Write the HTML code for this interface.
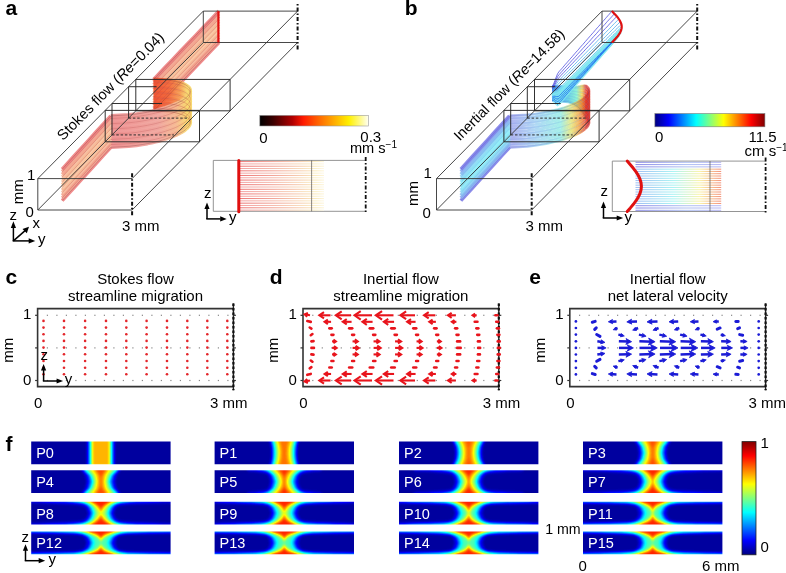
<!DOCTYPE html>
<html><head><meta charset="utf-8"><style>html,body{margin:0;padding:0;background:#fff;}svg{display:block}</style></head>
<body><svg width="786" height="573" viewBox="0 0 786 573" font-family="&apos;Liberation Sans&apos;, sans-serif"><g opacity="0.999">
<rect width="786" height="573" fill="#fff"/>
<filter id="hm0" filterUnits="userSpaceOnUse" x="31.2" y="441.5" width="139.4" height="22.8" color-interpolation-filters="sRGB"><feGaussianBlur stdDeviation="1.1"/><feComponentTransfer><feFuncR type="table" tableValues="0 0 0 0 0.5 1 1 1 0.5"/><feFuncG type="table" tableValues="0 0 0.5 1 1 1 0.5 0 0"/><feFuncB type="table" tableValues="0.5 1 1 1 0.5 0 0 0 0"/><feFuncA type="table" tableValues="1 1"/></feComponentTransfer></filter>
<clipPath id="chm0"><rect x="31.2" y="441.5" width="139.4" height="22.8"/></clipPath>
<g clip-path="url(#chm0)"><g filter="url(#hm0)">
<rect x="31.2" y="441.5" width="139.4" height="22.8" fill="#080808"/>
<g transform="translate(100.90,452.90)">
<path d="M-14.2,-12.8 -14.2,12.8 14.2,12.8 14.2,-12.8Z" fill="#1a1a1a"/>
<path d="M-13,-12.8 -13,12.8 13,12.8 13,-12.8Z" fill="#333333"/>
<path d="M-11.8,-12.8 -11.8,12.8 11.8,12.8 11.8,-12.8Z" fill="#4c4c4c"/>
<path d="M-11,-12.8 -11,12.8 11,12.8 11,-12.8Z" fill="#5e5e5e"/>
<path d="M-10.1,-12.8 -10.1,12.8 10.1,12.8 10.1,-12.8Z" fill="#737373"/>
<path d="M-9.5,-12.8 -9.5,12.8 9.5,12.8 9.5,-12.8Z" fill="#858585"/>
<path d="M-9,-12.8 -9,12.8 9,12.8 9,-12.8Z" fill="#949494"/>
<path d="M-8.6,-12.8 -8.6,12.8 8.6,12.8 8.6,-12.8Z" fill="#a3a3a3"/>
<path d="M-8,-12.8 -8,12.8 8,12.8 8,-12.8Z" fill="#b2b2b2"/>
</g></g></g>
<filter id="hm1" filterUnits="userSpaceOnUse" x="214.6" y="441.5" width="139.4" height="22.8" color-interpolation-filters="sRGB"><feGaussianBlur stdDeviation="1.1"/><feComponentTransfer><feFuncR type="table" tableValues="0 0 0 0 0.5 1 1 1 0.5"/><feFuncG type="table" tableValues="0 0 0.5 1 1 1 0.5 0 0"/><feFuncB type="table" tableValues="0.5 1 1 1 0.5 0 0 0 0"/><feFuncA type="table" tableValues="1 1"/></feComponentTransfer></filter>
<clipPath id="chm1"><rect x="214.6" y="441.5" width="139.4" height="22.8"/></clipPath>
<g clip-path="url(#chm1)"><g filter="url(#hm1)">
<rect x="214.6" y="441.5" width="139.4" height="22.8" fill="#080808"/>
<g transform="translate(284.30,452.90)">
<path d="M-15,-12.8 -15,-11.9 -14.9,-11.1 -14.5,-10.2 -14.3,-9.4 -14.1,-8.5 -13.9,-7.7 -13.7,-6.8 -13.6,-6 -13.5,-5.1 -13.4,-4.3 -13.3,-3.4 -13.2,-2.6 -13.2,-0.9 -13.2,2.6 -13.3,3.4 -13.4,4.3 -13.5,5.1 -13.6,6 -13.7,6.8 -13.9,7.7 -14.1,8.5 -14.3,9.4 -14.5,10.2 -14.9,11.1 -15,11.9 -15,12.8 15,12.8 15,11.9 14.9,11.1 14.5,10.2 14.3,9.4 14.1,8.5 13.9,7.7 13.7,6.8 13.6,6 13.5,5.1 13.4,4.3 13.3,3.4 13.2,2.6 13.2,0.9 13.2,-2.6 13.3,-3.4 13.4,-4.3 13.5,-5.1 13.6,-6 13.7,-6.8 13.9,-7.7 14.1,-8.5 14.3,-9.4 14.5,-10.2 14.9,-11.1 15,-11.9 15,-12.8Z" fill="#1a1a1a"/>
<path d="M-13.9,-12.8 -13.9,-11.9 -13.8,-11.1 -13.4,-10.2 -13.2,-9.4 -13,-8.5 -12.8,-7.7 -12.7,-6.8 -12.5,-6 -12.4,-5.1 -12.3,-4.3 -12.3,-3.4 -12.2,-2.6 -12.1,-0.9 -12.2,2.6 -12.3,3.4 -12.3,4.3 -12.4,5.1 -12.5,6 -12.7,6.8 -12.8,7.7 -13,8.5 -13.2,9.4 -13.4,10.2 -13.8,11.1 -13.9,11.9 -13.9,12.8 13.9,12.8 13.9,11.9 13.8,11.1 13.4,10.2 13.2,9.4 13,8.5 12.8,7.7 12.7,6.8 12.5,6 12.4,5.1 12.3,4.3 12.3,3.4 12.2,2.6 12.1,0.9 12.2,-2.6 12.3,-3.4 12.3,-4.3 12.4,-5.1 12.5,-6 12.7,-6.8 12.8,-7.7 13,-8.5 13.2,-9.4 13.4,-10.2 13.8,-11.1 13.9,-11.9 13.9,-12.8Z" fill="#333333"/>
<path d="M-12.7,-12.8 -12.7,-11.9 -12.5,-11.1 -12.2,-10.2 -12,-9.4 -11.8,-8.5 -11.6,-7.7 -11.5,-6.8 -11.3,-6 -11.2,-5.1 -11.1,-4.3 -11,-3.4 -11,-2.6 -10.9,-0.9 -11,2.6 -11,3.4 -11.1,4.3 -11.2,5.1 -11.3,6 -11.5,6.8 -11.6,7.7 -11.8,8.5 -12,9.4 -12.2,10.2 -12.5,11.1 -12.7,11.9 -12.7,12.8 12.7,12.8 12.7,11.9 12.5,11.1 12.2,10.2 12,9.4 11.8,8.5 11.6,7.7 11.5,6.8 11.3,6 11.2,5.1 11.1,4.3 11,3.4 11,2.6 10.9,0.9 11,-2.6 11,-3.4 11.1,-4.3 11.2,-5.1 11.3,-6 11.5,-6.8 11.6,-7.7 11.8,-8.5 12,-9.4 12.2,-10.2 12.5,-11.1 12.7,-11.9 12.7,-12.8Z" fill="#4c4c4c"/>
<path d="M-11.7,-12.8 -11.7,-11.9 -11.5,-11.1 -11.2,-10.2 -11,-9.4 -10.8,-8.5 -10.6,-7.7 -10.5,-6.8 -10.3,-6 -10.2,-5.1 -10.1,-4.3 -10.1,-3.4 -10,-2.6 -9.9,-0.9 -10,2.6 -10.1,3.4 -10.1,4.3 -10.2,5.1 -10.3,6 -10.5,6.8 -10.6,7.7 -10.8,8.5 -11,9.4 -11.2,10.2 -11.5,11.1 -11.7,11.9 -11.7,12.8 11.7,12.8 11.7,11.9 11.5,11.1 11.2,10.2 11,9.4 10.8,8.5 10.6,7.7 10.5,6.8 10.3,6 10.2,5.1 10.1,4.3 10.1,3.4 10,2.6 9.9,0.9 10,-2.6 10.1,-3.4 10.1,-4.3 10.2,-5.1 10.3,-6 10.5,-6.8 10.6,-7.7 10.8,-8.5 11,-9.4 11.2,-10.2 11.5,-11.1 11.7,-11.9 11.7,-12.8Z" fill="#5e5e5e"/>
<path d="M-10.7,-12.8 -10.7,-11.9 -10.5,-11.1 -10.1,-10.2 -9.9,-9.4 -9.7,-8.5 -9.5,-7.7 -9.3,-6.8 -9.2,-6 -9.1,-5.1 -9,-4.3 -8.9,-3.4 -8.8,-2.6 -8.8,-0.9 -8.8,2.6 -8.9,3.4 -9,4.3 -9.1,5.1 -9.2,6 -9.3,6.8 -9.5,7.7 -9.7,8.5 -9.9,9.4 -10.1,10.2 -10.5,11.1 -10.7,11.9 -10.7,12.8 10.7,12.8 10.7,11.9 10.5,11.1 10.1,10.2 9.9,9.4 9.7,8.5 9.5,7.7 9.3,6.8 9.2,6 9.1,5.1 9,4.3 8.9,3.4 8.8,2.6 8.8,0.9 8.8,-2.6 8.9,-3.4 9,-4.3 9.1,-5.1 9.2,-6 9.3,-6.8 9.5,-7.7 9.7,-8.5 9.9,-9.4 10.1,-10.2 10.5,-11.1 10.7,-11.9 10.7,-12.8Z" fill="#737373"/>
<path d="M-9.7,-12.8 -9.7,-11.9 -9.5,-11.1 -9.1,-10.2 -8.9,-9.4 -8.7,-8.5 -8.5,-7.7 -8.3,-6.8 -8.1,-6 -8,-5.1 -7.9,-4.3 -7.8,-3.4 -7.7,-2.6 -7.7,-0.9 -7.7,2.6 -7.8,3.4 -7.9,4.3 -8,5.1 -8.1,6 -8.3,6.8 -8.5,7.7 -8.7,8.5 -8.9,9.4 -9.1,10.2 -9.5,11.1 -9.7,11.9 -9.7,12.8 9.7,12.8 9.7,11.9 9.5,11.1 9.1,10.2 8.9,9.4 8.7,8.5 8.5,7.7 8.3,6.8 8.1,6 8,5.1 7.9,4.3 7.8,3.4 7.7,2.6 7.7,0.9 7.7,-2.6 7.8,-3.4 7.9,-4.3 8,-5.1 8.1,-6 8.3,-6.8 8.5,-7.7 8.7,-8.5 8.9,-9.4 9.1,-10.2 9.5,-11.1 9.7,-11.9 9.7,-12.8Z" fill="#858585"/>
<path d="M-8.8,-12.8 -8.8,-11.9 -8.6,-11.1 -8.2,-10.2 -7.9,-9.4 -7.7,-8.5 -7.5,-7.7 -7.3,-6.8 -7.1,-6 -7,-5.1 -6.9,-4.3 -6.8,-3.4 -6.7,-2.6 -6.6,-0.9 -6.7,2.6 -6.8,3.4 -6.9,4.3 -7,5.1 -7.1,6 -7.3,6.8 -7.5,7.7 -7.7,8.5 -7.9,9.4 -8.2,10.2 -8.6,11.1 -8.8,11.9 -8.8,12.8 8.8,12.8 8.8,11.9 8.6,11.1 8.2,10.2 7.9,9.4 7.7,8.5 7.5,7.7 7.3,6.8 7.1,6 7,5.1 6.9,4.3 6.8,3.4 6.7,2.6 6.6,0.9 6.7,-2.6 6.8,-3.4 6.9,-4.3 7,-5.1 7.1,-6 7.3,-6.8 7.5,-7.7 7.7,-8.5 7.9,-9.4 8.2,-10.2 8.6,-11.1 8.8,-11.9 8.8,-12.8Z" fill="#949494"/>
<path d="M-7.7,-12.8 -7.7,-11.9 -7.5,-11.1 -7.1,-10.2 -6.8,-9.4 -6.6,-8.5 -6.4,-7.7 -6.2,-6.8 -6,-6 -5.9,-5.1 -5.8,-4.3 -5.7,-3.4 -5.6,-2.6 -5.5,-0.9 -5.6,2.6 -5.7,3.4 -5.8,4.3 -5.9,5.1 -6,6 -6.2,6.8 -6.4,7.7 -6.6,8.5 -6.8,9.4 -7.1,10.2 -7.5,11.1 -7.7,11.9 -7.7,12.8 7.7,12.8 7.7,11.9 7.5,11.1 7.1,10.2 6.8,9.4 6.6,8.5 6.4,7.7 6.2,6.8 6,6 5.9,5.1 5.8,4.3 5.7,3.4 5.6,2.6 5.5,0.9 5.6,-2.6 5.7,-3.4 5.8,-4.3 5.9,-5.1 6,-6 6.2,-6.8 6.4,-7.7 6.6,-8.5 6.8,-9.4 7.1,-10.2 7.5,-11.1 7.7,-11.9 7.7,-12.8Z" fill="#a3a3a3"/>
<path d="M-6.4,-12.8 -6.4,-11.9 -6.2,-11.1 -5.8,-10.2 -5.5,-9.4 -5.3,-8.5 -5.1,-7.7 -4.9,-6.8 -4.7,-6 -4.6,-5.1 -4.5,-4.3 -4.4,-3.4 -4.3,-2.6 -4.2,-0.9 -4.3,2.6 -4.4,3.4 -4.5,4.3 -4.6,5.1 -4.7,6 -4.9,6.8 -5.1,7.7 -5.3,8.5 -5.5,9.4 -5.8,10.2 -6.2,11.1 -6.4,11.9 -6.4,12.8 6.4,12.8 6.4,11.9 6.2,11.1 5.8,10.2 5.5,9.4 5.3,8.5 5.1,7.7 4.9,6.8 4.7,6 4.6,5.1 4.5,4.3 4.4,3.4 4.3,2.6 4.2,0.9 4.3,-2.6 4.4,-3.4 4.5,-4.3 4.6,-5.1 4.7,-6 4.9,-6.8 5.1,-7.7 5.3,-8.5 5.5,-9.4 5.8,-10.2 6.2,-11.1 6.4,-11.9 6.4,-12.8Z" fill="#b2b2b2"/>
<path d="M-4.4,-12.8 -4.4,-11.9 -4.2,-11.1 -3.9,-10.2 -3.6,-9.4 -3.4,-8.5 -3.2,-7.7 -3,-6.8 -2.9,-6 -2.8,-5.1 -2.6,-4.3 -2.6,-3.4 -2.5,-2.6 -2.4,-0.9 -2.5,2.6 -2.6,3.4 -2.6,4.3 -2.8,5.1 -2.9,6 -3,6.8 -3.2,7.7 -3.4,8.5 -3.6,9.4 -3.9,10.2 -4.2,11.1 -4.4,11.9 -4.4,12.8 4.4,12.8 4.4,11.9 4.2,11.1 3.9,10.2 3.6,9.4 3.4,8.5 3.2,7.7 3,6.8 2.9,6 2.8,5.1 2.6,4.3 2.6,3.4 2.5,2.6 2.4,0.9 2.5,-2.6 2.6,-3.4 2.6,-4.3 2.8,-5.1 2.9,-6 3,-6.8 3.2,-7.7 3.4,-8.5 3.6,-9.4 3.9,-10.2 4.2,-11.1 4.4,-11.9 4.4,-12.8Z" fill="#c2c2c2"/>
</g></g></g>
<filter id="hm2" filterUnits="userSpaceOnUse" x="399.0" y="441.5" width="139.4" height="22.8" color-interpolation-filters="sRGB"><feGaussianBlur stdDeviation="1.1"/><feComponentTransfer><feFuncR type="table" tableValues="0 0 0 0 0.5 1 1 1 0.5"/><feFuncG type="table" tableValues="0 0 0.5 1 1 1 0.5 0 0"/><feFuncB type="table" tableValues="0.5 1 1 1 0.5 0 0 0 0"/><feFuncA type="table" tableValues="1 1"/></feComponentTransfer></filter>
<clipPath id="chm2"><rect x="399.0" y="441.5" width="139.4" height="22.8"/></clipPath>
<g clip-path="url(#chm2)"><g filter="url(#hm2)">
<rect x="399.0" y="441.5" width="139.4" height="22.8" fill="#080808"/>
<g transform="translate(468.70,452.90)">
<path d="M-16.6,-12.8 -16.6,-11.9 -16.4,-11.1 -15.9,-10.2 -15.6,-9.4 -15.2,-8.5 -14.9,-7.7 -14.6,-6.8 -14.4,-6 -14.2,-5.1 -14.1,-4.3 -14,-3.4 -13.9,-2.6 -13.8,-1.7 -13.7,-0.9 -13.6,0 -13.7,0.9 -13.8,1.7 -13.9,2.6 -14,3.4 -14.1,4.3 -14.2,5.1 -14.4,6 -14.6,6.8 -14.9,7.7 -15.2,8.5 -15.6,9.4 -15.9,10.2 -16.4,11.1 -16.6,11.9 -16.6,12.8 16.6,12.8 16.6,11.9 16.4,11.1 15.9,10.2 15.6,9.4 15.2,8.5 14.9,7.7 14.6,6.8 14.4,6 14.2,5.1 14.1,4.3 14,3.4 13.9,2.6 13.8,1.7 13.7,0.9 13.6,0 13.7,-0.9 13.8,-1.7 13.9,-2.6 14,-3.4 14.1,-4.3 14.2,-5.1 14.4,-6 14.6,-6.8 14.9,-7.7 15.2,-8.5 15.6,-9.4 15.9,-10.2 16.4,-11.1 16.6,-11.9 16.6,-12.8Z" fill="#1a1a1a"/>
<path d="M-15.3,-12.8 -15.3,-11.9 -15,-11.1 -14.6,-10.2 -14.2,-9.4 -13.8,-8.5 -13.4,-7.7 -13,-6.8 -12.8,-6 -12.6,-5.1 -12.5,-4.3 -12.4,-3.4 -12.3,-2.6 -12.2,-1.7 -12.2,-0.9 -12.1,0 -12.2,0.9 -12.2,1.7 -12.3,2.6 -12.4,3.4 -12.5,4.3 -12.6,5.1 -12.8,6 -13,6.8 -13.4,7.7 -13.8,8.5 -14.2,9.4 -14.6,10.2 -15,11.1 -15.3,11.9 -15.3,12.8 15.3,12.8 15.3,11.9 15,11.1 14.6,10.2 14.2,9.4 13.8,8.5 13.4,7.7 13,6.8 12.8,6 12.6,5.1 12.5,4.3 12.4,3.4 12.3,2.6 12.2,1.7 12.2,0.9 12.1,0 12.2,-0.9 12.2,-1.7 12.3,-2.6 12.4,-3.4 12.5,-4.3 12.6,-5.1 12.8,-6 13,-6.8 13.4,-7.7 13.8,-8.5 14.2,-9.4 14.6,-10.2 15,-11.1 15.3,-11.9 15.3,-12.8Z" fill="#333333"/>
<path d="M-14.1,-12.8 -14.1,-11.9 -13.9,-11.1 -13.4,-10.2 -13,-9.4 -12.5,-8.5 -12.1,-7.7 -11.7,-6.8 -11.4,-6 -11.3,-5.1 -11.1,-4.3 -11,-3.4 -10.9,-2.6 -10.8,-1.7 -10.7,-0.9 -10.6,0 -10.7,0.9 -10.8,1.7 -10.9,2.6 -11,3.4 -11.1,4.3 -11.3,5.1 -11.4,6 -11.7,6.8 -12.1,7.7 -12.5,8.5 -13,9.4 -13.4,10.2 -13.9,11.1 -14.1,11.9 -14.1,12.8 14.1,12.8 14.1,11.9 13.9,11.1 13.4,10.2 13,9.4 12.5,8.5 12.1,7.7 11.7,6.8 11.4,6 11.3,5.1 11.1,4.3 11,3.4 10.9,2.6 10.8,1.7 10.7,0.9 10.6,0 10.7,-0.9 10.8,-1.7 10.9,-2.6 11,-3.4 11.1,-4.3 11.3,-5.1 11.4,-6 11.7,-6.8 12.1,-7.7 12.5,-8.5 13,-9.4 13.4,-10.2 13.9,-11.1 14.1,-11.9 14.1,-12.8Z" fill="#4c4c4c"/>
<path d="M-13.2,-12.8 -13.2,-11.9 -13,-11.1 -12.6,-10.2 -12.1,-9.4 -11.6,-8.5 -11.2,-7.7 -10.8,-6.8 -10.4,-6 -10.3,-5.1 -10.1,-4.3 -10,-3.4 -9.8,-2.6 -9.7,-1.7 -9.6,-0.9 -9.5,0 -9.6,0.9 -9.7,1.7 -9.8,2.6 -10,3.4 -10.1,4.3 -10.3,5.1 -10.4,6 -10.8,6.8 -11.2,7.7 -11.6,8.5 -12.1,9.4 -12.6,10.2 -13,11.1 -13.2,11.9 -13.2,12.8 13.2,12.8 13.2,11.9 13,11.1 12.6,10.2 12.1,9.4 11.6,8.5 11.2,7.7 10.8,6.8 10.4,6 10.3,5.1 10.1,4.3 10,3.4 9.8,2.6 9.7,1.7 9.6,0.9 9.5,0 9.6,-0.9 9.7,-1.7 9.8,-2.6 10,-3.4 10.1,-4.3 10.3,-5.1 10.4,-6 10.8,-6.8 11.2,-7.7 11.6,-8.5 12.1,-9.4 12.6,-10.2 13,-11.1 13.2,-11.9 13.2,-12.8Z" fill="#5e5e5e"/>
<path d="M-11.8,-12.8 -11.8,-11.9 -11.6,-11.1 -11.2,-10.2 -10.8,-9.4 -10.3,-8.5 -9.9,-7.7 -9.5,-6.8 -9.2,-6 -9.1,-5.1 -8.9,-4.3 -8.8,-3.4 -8.7,-2.6 -8.5,-1.7 -8.4,-0.9 -8.4,0 -8.4,0.9 -8.5,1.7 -8.7,2.6 -8.8,3.4 -8.9,4.3 -9.1,5.1 -9.2,6 -9.5,6.8 -9.9,7.7 -10.3,8.5 -10.8,9.4 -11.2,10.2 -11.6,11.1 -11.8,11.9 -11.8,12.8 11.8,12.8 11.8,11.9 11.6,11.1 11.2,10.2 10.8,9.4 10.3,8.5 9.9,7.7 9.5,6.8 9.2,6 9.1,5.1 8.9,4.3 8.8,3.4 8.7,2.6 8.5,1.7 8.4,0.9 8.4,0 8.4,-0.9 8.5,-1.7 8.7,-2.6 8.8,-3.4 8.9,-4.3 9.1,-5.1 9.2,-6 9.5,-6.8 9.9,-7.7 10.3,-8.5 10.8,-9.4 11.2,-10.2 11.6,-11.1 11.8,-11.9 11.8,-12.8Z" fill="#737373"/>
<path d="M-10.6,-12.8 -10.6,-11.9 -10.4,-11.1 -10,-10.2 -9.5,-9.4 -9.1,-8.5 -8.7,-7.7 -8.4,-6.8 -8.1,-6 -7.9,-5.1 -7.8,-4.3 -7.7,-3.4 -7.5,-2.6 -7.4,-1.7 -7.4,-0.9 -7.3,0 -7.4,0.9 -7.4,1.7 -7.5,2.6 -7.7,3.4 -7.8,4.3 -7.9,5.1 -8.1,6 -8.4,6.8 -8.7,7.7 -9.1,8.5 -9.5,9.4 -10,10.2 -10.4,11.1 -10.6,11.9 -10.6,12.8 10.6,12.8 10.6,11.9 10.4,11.1 10,10.2 9.5,9.4 9.1,8.5 8.7,7.7 8.4,6.8 8.1,6 7.9,5.1 7.8,4.3 7.7,3.4 7.5,2.6 7.4,1.7 7.4,0.9 7.3,0 7.4,-0.9 7.4,-1.7 7.5,-2.6 7.7,-3.4 7.8,-4.3 7.9,-5.1 8.1,-6 8.4,-6.8 8.7,-7.7 9.1,-8.5 9.5,-9.4 10,-10.2 10.4,-11.1 10.6,-11.9 10.6,-12.8Z" fill="#858585"/>
<path d="M-9.4,-12.8 -9.4,-11.9 -9.2,-11.1 -8.8,-10.2 -8.4,-9.4 -8,-8.5 -7.6,-7.7 -7.3,-6.8 -7,-6 -6.8,-5.1 -6.7,-4.3 -6.5,-3.4 -6.4,-2.6 -6.3,-1.7 -6.2,-0.9 -6.1,0 -6.2,0.9 -6.3,1.7 -6.4,2.6 -6.5,3.4 -6.7,4.3 -6.8,5.1 -7,6 -7.3,6.8 -7.6,7.7 -8,8.5 -8.4,9.4 -8.8,10.2 -9.2,11.1 -9.4,11.9 -9.4,12.8 9.4,12.8 9.4,11.9 9.2,11.1 8.8,10.2 8.4,9.4 8,8.5 7.6,7.7 7.3,6.8 7,6 6.8,5.1 6.7,4.3 6.5,3.4 6.4,2.6 6.3,1.7 6.2,0.9 6.1,0 6.2,-0.9 6.3,-1.7 6.4,-2.6 6.5,-3.4 6.7,-4.3 6.8,-5.1 7,-6 7.3,-6.8 7.6,-7.7 8,-8.5 8.4,-9.4 8.8,-10.2 9.2,-11.1 9.4,-11.9 9.4,-12.8Z" fill="#949494"/>
<path d="M-8.2,-12.8 -8.2,-11.9 -8,-11.1 -7.5,-10.2 -7.1,-9.4 -6.7,-8.5 -6.4,-7.7 -6,-6.8 -5.8,-6 -5.6,-5.1 -5.5,-4.3 -5.4,-3.4 -5.3,-2.6 -5.2,-1.7 -5.1,-0.9 -5,0 -5.1,0.9 -5.2,1.7 -5.3,2.6 -5.4,3.4 -5.5,4.3 -5.6,5.1 -5.8,6 -6,6.8 -6.4,7.7 -6.7,8.5 -7.1,9.4 -7.5,10.2 -8,11.1 -8.2,11.9 -8.2,12.8 8.2,12.8 8.2,11.9 8,11.1 7.5,10.2 7.1,9.4 6.7,8.5 6.4,7.7 6,6.8 5.8,6 5.6,5.1 5.5,4.3 5.4,3.4 5.3,2.6 5.2,1.7 5.1,0.9 5,0 5.1,-0.9 5.2,-1.7 5.3,-2.6 5.4,-3.4 5.5,-4.3 5.6,-5.1 5.8,-6 6,-6.8 6.4,-7.7 6.7,-8.5 7.1,-9.4 7.5,-10.2 8,-11.1 8.2,-11.9 8.2,-12.8Z" fill="#a3a3a3"/>
<path d="M-6.7,-12.8 -6.7,-11.9 -6.5,-11.1 -6.1,-10.2 -5.7,-9.4 -5.3,-8.5 -5,-7.7 -4.7,-6.8 -4.5,-6 -4.3,-5.1 -4.2,-4.3 -4.1,-3.4 -4,-2.6 -3.9,-1.7 -3.9,-0.9 -3.8,0 -3.9,0.9 -3.9,1.7 -4,2.6 -4.1,3.4 -4.2,4.3 -4.3,5.1 -4.5,6 -4.7,6.8 -5,7.7 -5.3,8.5 -5.7,9.4 -6.1,10.2 -6.5,11.1 -6.7,11.9 -6.7,12.8 6.7,12.8 6.7,11.9 6.5,11.1 6.1,10.2 5.7,9.4 5.3,8.5 5,7.7 4.7,6.8 4.5,6 4.3,5.1 4.2,4.3 4.1,3.4 4,2.6 3.9,1.7 3.9,0.9 3.8,0 3.9,-0.9 3.9,-1.7 4,-2.6 4.1,-3.4 4.2,-4.3 4.3,-5.1 4.5,-6 4.7,-6.8 5,-7.7 5.3,-8.5 5.7,-9.4 6.1,-10.2 6.5,-11.1 6.7,-11.9 6.7,-12.8Z" fill="#b2b2b2"/>
<path d="M-4.7,-12.8 -4.7,-11.9 -4.5,-11.1 -4.1,-10.2 -3.7,-9.4 -3.4,-8.5 -3.1,-7.7 -2.8,-6.8 -2.6,-6 -2.4,-5.1 -2.3,-4.3 -2.2,-3.4 -2.2,-2.6 -2.1,-0.9 -2.2,2.6 -2.2,3.4 -2.3,4.3 -2.4,5.1 -2.6,6 -2.8,6.8 -3.1,7.7 -3.4,8.5 -3.7,9.4 -4.1,10.2 -4.5,11.1 -4.7,11.9 -4.7,12.8 4.7,12.8 4.7,11.9 4.5,11.1 4.1,10.2 3.7,9.4 3.4,8.5 3.1,7.7 2.8,6.8 2.6,6 2.4,5.1 2.3,4.3 2.2,3.4 2.2,2.6 2.1,0.9 2.2,-2.6 2.2,-3.4 2.3,-4.3 2.4,-5.1 2.6,-6 2.8,-6.8 3.1,-7.7 3.4,-8.5 3.7,-9.4 4.1,-10.2 4.5,-11.1 4.7,-11.9 4.7,-12.8Z" fill="#c2c2c2"/>
<path d="M-1.3,-12.8 -1.3,-11.9 -1.3,-11.1 -1.1,-10.2 -0.9,-9.4 -0.7,-8.5 -0.5,-7.7 -0.3,-6.8 -0.2,-6 -0.1,-5.1 0,-4.3 0,4.3 -0.1,5.1 -0.2,6 -0.3,6.8 -0.5,7.7 -0.7,8.5 -0.9,9.4 -1.1,10.2 -1.3,11.1 -1.3,11.9 -1.3,12.8 1.3,12.8 1.3,11.9 1.3,11.1 1.1,10.2 0.9,9.4 0.7,8.5 0.5,7.7 0.3,6.8 0.2,6 0.1,5.1 0,4.3 0,-4.3 0.1,-5.1 0.2,-6 0.3,-6.8 0.5,-7.7 0.7,-8.5 0.9,-9.4 1.1,-10.2 1.3,-11.1 1.3,-11.9 1.3,-12.8Z" fill="#cccccc"/>
</g></g></g>
<filter id="hm3" filterUnits="userSpaceOnUse" x="583.0" y="441.5" width="139.4" height="22.8" color-interpolation-filters="sRGB"><feGaussianBlur stdDeviation="1.1"/><feComponentTransfer><feFuncR type="table" tableValues="0 0 0 0 0.5 1 1 1 0.5"/><feFuncG type="table" tableValues="0 0 0.5 1 1 1 0.5 0 0"/><feFuncB type="table" tableValues="0.5 1 1 1 0.5 0 0 0 0"/><feFuncA type="table" tableValues="1 1"/></feComponentTransfer></filter>
<clipPath id="chm3"><rect x="583.0" y="441.5" width="139.4" height="22.8"/></clipPath>
<g clip-path="url(#chm3)"><g filter="url(#hm3)">
<rect x="583.0" y="441.5" width="139.4" height="22.8" fill="#080808"/>
<g transform="translate(652.70,452.90)">
<path d="M-18.2,-12.8 -18.2,-11.9 -18,-11.1 -17.4,-10.2 -16.9,-9.4 -16.4,-8.5 -15.9,-7.7 -15.5,-6.8 -15.1,-6 -15,-5.1 -14.8,-4.3 -14.6,-3.4 -14.5,-2.6 -14.3,-1.7 -14.2,-0.9 -14,0 -14.2,0.9 -14.3,1.7 -14.5,2.6 -14.6,3.4 -14.8,4.3 -15,5.1 -15.1,6 -15.5,6.8 -15.9,7.7 -16.4,8.5 -16.9,9.4 -17.4,10.2 -18,11.1 -18.2,11.9 -18.2,12.8 18.2,12.8 18.2,11.9 18,11.1 17.4,10.2 16.9,9.4 16.4,8.5 15.9,7.7 15.5,6.8 15.1,6 15,5.1 14.8,4.3 14.6,3.4 14.5,2.6 14.3,1.7 14.2,0.9 14,0 14.2,-0.9 14.3,-1.7 14.5,-2.6 14.6,-3.4 14.8,-4.3 15,-5.1 15.1,-6 15.5,-6.8 15.9,-7.7 16.4,-8.5 16.9,-9.4 17.4,-10.2 18,-11.1 18.2,-11.9 18.2,-12.8Z" fill="#1a1a1a"/>
<path d="M-16.6,-12.8 -16.6,-11.9 -16.3,-11.1 -15.7,-10.2 -15.1,-9.4 -14.5,-8.5 -13.9,-7.7 -13.4,-6.8 -13,-6 -12.9,-5.1 -12.7,-4.3 -12.6,-3.4 -12.5,-2.6 -12.3,-1.7 -12.2,-0.9 -12.1,0 -12.2,0.9 -12.3,1.7 -12.5,2.6 -12.6,3.4 -12.7,4.3 -12.9,5.1 -13,6 -13.4,6.8 -13.9,7.7 -14.5,8.5 -15.1,9.4 -15.7,10.2 -16.3,11.1 -16.6,11.9 -16.6,12.8 16.6,12.8 16.6,11.9 16.3,11.1 15.7,10.2 15.1,9.4 14.5,8.5 13.9,7.7 13.4,6.8 13,6 12.9,5.1 12.7,4.3 12.6,3.4 12.5,2.6 12.3,1.7 12.2,0.9 12.1,0 12.2,-0.9 12.3,-1.7 12.5,-2.6 12.6,-3.4 12.7,-4.3 12.9,-5.1 13,-6 13.4,-6.8 13.9,-7.7 14.5,-8.5 15.1,-9.4 15.7,-10.2 16.3,-11.1 16.6,-11.9 16.6,-12.8Z" fill="#333333"/>
<path d="M-15.4,-12.8 -15.4,-11.9 -15.2,-11.1 -14.6,-10.2 -14,-9.4 -13.3,-8.5 -12.6,-7.7 -12,-6.8 -11.5,-6 -11.3,-5.1 -11.2,-4.3 -11,-3.4 -10.8,-2.6 -10.6,-1.7 -10.5,-0.9 -10.3,0 -10.5,0.9 -10.6,1.7 -10.8,2.6 -11,3.4 -11.2,4.3 -11.3,5.1 -11.5,6 -12,6.8 -12.6,7.7 -13.3,8.5 -14,9.4 -14.6,10.2 -15.2,11.1 -15.4,11.9 -15.4,12.8 15.4,12.8 15.4,11.9 15.2,11.1 14.6,10.2 14,9.4 13.3,8.5 12.6,7.7 12,6.8 11.5,6 11.3,5.1 11.2,4.3 11,3.4 10.8,2.6 10.6,1.7 10.5,0.9 10.3,0 10.5,-0.9 10.6,-1.7 10.8,-2.6 11,-3.4 11.2,-4.3 11.3,-5.1 11.5,-6 12,-6.8 12.6,-7.7 13.3,-8.5 14,-9.4 14.6,-10.2 15.2,-11.1 15.4,-11.9 15.4,-12.8Z" fill="#4c4c4c"/>
<path d="M-14.7,-12.8 -14.7,-11.9 -14.5,-11.1 -14,-10.2 -13.2,-9.4 -12.5,-8.5 -11.7,-7.7 -11.1,-6.8 -10.5,-6 -10.3,-5.1 -10.1,-4.3 -9.9,-3.4 -9.7,-2.6 -9.5,-1.7 -9.3,-0.9 -9.1,0 -9.3,0.9 -9.5,1.7 -9.7,2.6 -9.9,3.4 -10.1,4.3 -10.3,5.1 -10.5,6 -11.1,6.8 -11.7,7.7 -12.5,8.5 -13.2,9.4 -14,10.2 -14.5,11.1 -14.7,11.9 -14.7,12.8 14.7,12.8 14.7,11.9 14.5,11.1 14,10.2 13.2,9.4 12.5,8.5 11.7,7.7 11.1,6.8 10.5,6 10.3,5.1 10.1,4.3 9.9,3.4 9.7,2.6 9.5,1.7 9.3,0.9 9.1,0 9.3,-0.9 9.5,-1.7 9.7,-2.6 9.9,-3.4 10.1,-4.3 10.3,-5.1 10.5,-6 11.1,-6.8 11.7,-7.7 12.5,-8.5 13.2,-9.4 14,-10.2 14.5,-11.1 14.7,-11.9 14.7,-12.8Z" fill="#5e5e5e"/>
<path d="M-13,-12.8 -13,-11.9 -12.8,-11.1 -12.3,-10.2 -11.6,-9.4 -11,-8.5 -10.3,-7.7 -9.7,-6.8 -9.3,-6 -9.1,-5.1 -8.9,-4.3 -8.7,-3.4 -8.5,-2.6 -8.3,-1.7 -8.1,-0.9 -8,0 -8.1,0.9 -8.3,1.7 -8.5,2.6 -8.7,3.4 -8.9,4.3 -9.1,5.1 -9.3,6 -9.7,6.8 -10.3,7.7 -11,8.5 -11.6,9.4 -12.3,10.2 -12.8,11.1 -13,11.9 -13,12.8 13,12.8 13,11.9 12.8,11.1 12.3,10.2 11.6,9.4 11,8.5 10.3,7.7 9.7,6.8 9.3,6 9.1,5.1 8.9,4.3 8.7,3.4 8.5,2.6 8.3,1.7 8.1,0.9 8,0 8.1,-0.9 8.3,-1.7 8.5,-2.6 8.7,-3.4 8.9,-4.3 9.1,-5.1 9.3,-6 9.7,-6.8 10.3,-7.7 11,-8.5 11.6,-9.4 12.3,-10.2 12.8,-11.1 13,-11.9 13,-12.8Z" fill="#737373"/>
<path d="M-11.5,-12.8 -11.5,-11.9 -11.3,-11.1 -10.8,-10.2 -10.2,-9.4 -9.6,-8.5 -9,-7.7 -8.5,-6.8 -8.1,-6 -7.9,-5.1 -7.7,-4.3 -7.5,-3.4 -7.3,-2.6 -7.2,-1.7 -7,-0.9 -6.9,0 -7,0.9 -7.2,1.7 -7.3,2.6 -7.5,3.4 -7.7,4.3 -7.9,5.1 -8.1,6 -8.5,6.8 -9,7.7 -9.6,8.5 -10.2,9.4 -10.8,10.2 -11.3,11.1 -11.5,11.9 -11.5,12.8 11.5,12.8 11.5,11.9 11.3,11.1 10.8,10.2 10.2,9.4 9.6,8.5 9,7.7 8.5,6.8 8.1,6 7.9,5.1 7.7,4.3 7.5,3.4 7.3,2.6 7.2,1.7 7,0.9 6.9,0 7,-0.9 7.2,-1.7 7.3,-2.6 7.5,-3.4 7.7,-4.3 7.9,-5.1 8.1,-6 8.5,-6.8 9,-7.7 9.6,-8.5 10.2,-9.4 10.8,-10.2 11.3,-11.1 11.5,-11.9 11.5,-12.8Z" fill="#858585"/>
<path d="M-10.1,-12.8 -10.1,-11.9 -9.9,-11.1 -9.4,-10.2 -8.8,-9.4 -8.3,-8.5 -7.7,-7.7 -7.2,-6.8 -6.8,-6 -6.7,-5.1 -6.5,-4.3 -6.3,-3.4 -6.1,-2.6 -6,-1.7 -5.8,-0.9 -5.7,0 -5.8,0.9 -6,1.7 -6.1,2.6 -6.3,3.4 -6.5,4.3 -6.7,5.1 -6.8,6 -7.2,6.8 -7.7,7.7 -8.3,8.5 -8.8,9.4 -9.4,10.2 -9.9,11.1 -10.1,11.9 -10.1,12.8 10.1,12.8 10.1,11.9 9.9,11.1 9.4,10.2 8.8,9.4 8.3,8.5 7.7,7.7 7.2,6.8 6.8,6 6.7,5.1 6.5,4.3 6.3,3.4 6.1,2.6 6,1.7 5.8,0.9 5.7,0 5.8,-0.9 6,-1.7 6.1,-2.6 6.3,-3.4 6.5,-4.3 6.7,-5.1 6.8,-6 7.2,-6.8 7.7,-7.7 8.3,-8.5 8.8,-9.4 9.4,-10.2 9.9,-11.1 10.1,-11.9 10.1,-12.8Z" fill="#949494"/>
<path d="M-8.6,-12.8 -8.6,-11.9 -8.4,-11.1 -7.9,-10.2 -7.4,-9.4 -6.9,-8.5 -6.4,-7.7 -5.9,-6.8 -5.6,-6 -5.4,-5.1 -5.2,-4.3 -5.1,-3.4 -4.9,-2.6 -4.8,-1.7 -4.7,-0.9 -4.5,0 -4.7,0.9 -4.8,1.7 -4.9,2.6 -5.1,3.4 -5.2,4.3 -5.4,5.1 -5.6,6 -5.9,6.8 -6.4,7.7 -6.9,8.5 -7.4,9.4 -7.9,10.2 -8.4,11.1 -8.6,11.9 -8.6,12.8 8.6,12.8 8.6,11.9 8.4,11.1 7.9,10.2 7.4,9.4 6.9,8.5 6.4,7.7 5.9,6.8 5.6,6 5.4,5.1 5.2,4.3 5.1,3.4 4.9,2.6 4.8,1.7 4.7,0.9 4.5,0 4.7,-0.9 4.8,-1.7 4.9,-2.6 5.1,-3.4 5.2,-4.3 5.4,-5.1 5.6,-6 5.9,-6.8 6.4,-7.7 6.9,-8.5 7.4,-9.4 7.9,-10.2 8.4,-11.1 8.6,-11.9 8.6,-12.8Z" fill="#a3a3a3"/>
<path d="M-7,-12.8 -7,-11.9 -6.8,-11.1 -6.3,-10.2 -5.8,-9.4 -5.4,-8.5 -4.9,-7.7 -4.5,-6.8 -4.2,-6 -4,-5.1 -3.9,-4.3 -3.8,-3.4 -3.7,-2.6 -3.6,-1.7 -3.5,-0.9 -3.4,0 -3.5,0.9 -3.6,1.7 -3.7,2.6 -3.8,3.4 -3.9,4.3 -4,5.1 -4.2,6 -4.5,6.8 -4.9,7.7 -5.4,8.5 -5.8,9.4 -6.3,10.2 -6.8,11.1 -7,11.9 -7,12.8 7,12.8 7,11.9 6.8,11.1 6.3,10.2 5.8,9.4 5.4,8.5 4.9,7.7 4.5,6.8 4.2,6 4,5.1 3.9,4.3 3.8,3.4 3.7,2.6 3.6,1.7 3.5,0.9 3.4,0 3.5,-0.9 3.6,-1.7 3.7,-2.6 3.8,-3.4 3.9,-4.3 4,-5.1 4.2,-6 4.5,-6.8 4.9,-7.7 5.4,-8.5 5.8,-9.4 6.3,-10.2 6.8,-11.1 7,-11.9 7,-12.8Z" fill="#b2b2b2"/>
<path d="M-5.1,-12.8 -5.1,-11.9 -4.8,-11.1 -4.3,-10.2 -3.9,-9.4 -3.4,-8.5 -3,-7.7 -2.6,-6.8 -2.3,-6 -2.1,-5.1 -1.9,-4.3 -1.9,-3.4 -1.8,-2.6 -1.8,-1.7 -1.7,0 -1.8,1.7 -1.8,2.6 -1.9,3.4 -1.9,4.3 -2.1,5.1 -2.3,6 -2.6,6.8 -3,7.7 -3.4,8.5 -3.9,9.4 -4.3,10.2 -4.8,11.1 -5.1,11.9 -5.1,12.8 5.1,12.8 5.1,11.9 4.8,11.1 4.3,10.2 3.9,9.4 3.4,8.5 3,7.7 2.6,6.8 2.3,6 2.1,5.1 1.9,4.3 1.9,3.4 1.8,2.6 1.8,1.7 1.7,0 1.8,-1.7 1.8,-2.6 1.9,-3.4 1.9,-4.3 2.1,-5.1 2.3,-6 2.6,-6.8 3,-7.7 3.4,-8.5 3.9,-9.4 4.3,-10.2 4.8,-11.1 5.1,-11.9 5.1,-12.8Z" fill="#c2c2c2"/>
<path d="M-2.7,-12.8 -2.7,-11.9 -2.5,-11.1 -2.1,-10.2 -1.7,-9.4 -1.4,-8.5 -1,-7.7 -0.7,-6.8 -0.4,-6 -0.2,-5.1 0,-4.3 0,4.3 -0.2,5.1 -0.4,6 -0.7,6.8 -1,7.7 -1.4,8.5 -1.7,9.4 -2.1,10.2 -2.5,11.1 -2.7,11.9 -2.7,12.8 2.7,12.8 2.7,11.9 2.5,11.1 2.1,10.2 1.7,9.4 1.4,8.5 1,7.7 0.7,6.8 0.4,6 0.2,5.1 0,4.3 0,-4.3 0.2,-5.1 0.4,-6 0.7,-6.8 1,-7.7 1.4,-8.5 1.7,-9.4 2.1,-10.2 2.5,-11.1 2.7,-11.9 2.7,-12.8Z" fill="#cccccc"/>
</g></g></g>
<filter id="hm4" filterUnits="userSpaceOnUse" x="31.2" y="470.3" width="139.4" height="22.8" color-interpolation-filters="sRGB"><feGaussianBlur stdDeviation="1.1"/><feComponentTransfer><feFuncR type="table" tableValues="0 0 0 0 0.5 1 1 1 0.5"/><feFuncG type="table" tableValues="0 0 0.5 1 1 1 0.5 0 0"/><feFuncB type="table" tableValues="0.5 1 1 1 0.5 0 0 0 0"/><feFuncA type="table" tableValues="1 1"/></feComponentTransfer></filter>
<clipPath id="chm4"><rect x="31.2" y="470.3" width="139.4" height="22.8"/></clipPath>
<g clip-path="url(#chm4)"><g filter="url(#hm4)">
<rect x="31.2" y="470.3" width="139.4" height="22.8" fill="#080808"/>
<g transform="translate(100.90,481.70)">
<path d="M-19.8,-12.8 -19.8,-11.9 -19.5,-11.1 -18.8,-10.2 -18.2,-9.4 -17.5,-8.5 -16.9,-7.7 -16.3,-6.8 -15.9,-6 -15.7,-5.1 -15.5,-4.3 -15.3,-3.4 -15.1,-2.6 -14.9,-1.7 -14.7,-0.9 -14.5,0 -14.7,0.9 -14.9,1.7 -15.1,2.6 -15.3,3.4 -15.5,4.3 -15.7,5.1 -15.9,6 -16.3,6.8 -16.9,7.7 -17.5,8.5 -18.2,9.4 -18.8,10.2 -19.5,11.1 -19.8,11.9 -19.8,12.8 19.8,12.8 19.8,11.9 19.5,11.1 18.8,10.2 18.2,9.4 17.5,8.5 16.9,7.7 16.3,6.8 15.9,6 15.7,5.1 15.5,4.3 15.3,3.4 15.1,2.6 14.9,1.7 14.7,0.9 14.5,0 14.7,-0.9 14.9,-1.7 15.1,-2.6 15.3,-3.4 15.5,-4.3 15.7,-5.1 15.9,-6 16.3,-6.8 16.9,-7.7 17.5,-8.5 18.2,-9.4 18.8,-10.2 19.5,-11.1 19.8,-11.9 19.8,-12.8Z" fill="#1a1a1a"/>
<path d="M-17.9,-12.8 -17.9,-11.9 -17.6,-11.1 -16.8,-10.2 -16.1,-9.4 -15.3,-8.5 -14.5,-7.7 -13.8,-6.8 -13.2,-6 -13.1,-5.1 -12.9,-4.3 -12.8,-3.4 -12.6,-2.6 -12.4,-1.7 -12.2,-0.9 -12.1,0 -12.2,0.9 -12.4,1.7 -12.6,2.6 -12.8,3.4 -12.9,4.3 -13.1,5.1 -13.2,6 -13.8,6.8 -14.5,7.7 -15.3,8.5 -16.1,9.4 -16.8,10.2 -17.6,11.1 -17.9,11.9 -17.9,12.8 17.9,12.8 17.9,11.9 17.6,11.1 16.8,10.2 16.1,9.4 15.3,8.5 14.5,7.7 13.8,6.8 13.2,6 13.1,5.1 12.9,4.3 12.8,3.4 12.6,2.6 12.4,1.7 12.2,0.9 12.1,0 12.2,-0.9 12.4,-1.7 12.6,-2.6 12.8,-3.4 12.9,-4.3 13.1,-5.1 13.2,-6 13.8,-6.8 14.5,-7.7 15.3,-8.5 16.1,-9.4 16.8,-10.2 17.6,-11.1 17.9,-11.9 17.9,-12.8Z" fill="#333333"/>
<path d="M-16.8,-12.8 -16.8,-11.9 -16.5,-11.1 -15.9,-10.2 -14.9,-9.4 -14,-8.5 -13.1,-7.7 -12.2,-6.8 -11.6,-6 -11.4,-5.1 -11.2,-4.3 -10.9,-3.4 -10.7,-2.6 -10.5,-1.7 -10.3,-0.9 -10.1,0 -10.3,0.9 -10.5,1.7 -10.7,2.6 -10.9,3.4 -11.2,4.3 -11.4,5.1 -11.6,6 -12.2,6.8 -13.1,7.7 -14,8.5 -14.9,9.4 -15.9,10.2 -16.5,11.1 -16.8,11.9 -16.8,12.8 16.8,12.8 16.8,11.9 16.5,11.1 15.9,10.2 14.9,9.4 14,8.5 13.1,7.7 12.2,6.8 11.6,6 11.4,5.1 11.2,4.3 10.9,3.4 10.7,2.6 10.5,1.7 10.3,0.9 10.1,0 10.3,-0.9 10.5,-1.7 10.7,-2.6 10.9,-3.4 11.2,-4.3 11.4,-5.1 11.6,-6 12.2,-6.8 13.1,-7.7 14,-8.5 14.9,-9.4 15.9,-10.2 16.5,-11.1 16.8,-11.9 16.8,-12.8Z" fill="#4c4c4c"/>
<path d="M-16.2,-12.8 -16.2,-11.9 -16,-11.1 -15.3,-10.2 -14.3,-9.4 -13.3,-8.5 -12.3,-7.7 -11.4,-6.8 -10.7,-6 -10.4,-5.1 -10.1,-4.3 -9.8,-3.4 -9.5,-2.6 -9.3,-1.7 -9,-0.9 -8.7,0 -9,0.9 -9.3,1.7 -9.5,2.6 -9.8,3.4 -10.1,4.3 -10.4,5.1 -10.7,6 -11.4,6.8 -12.3,7.7 -13.3,8.5 -14.3,9.4 -15.3,10.2 -16,11.1 -16.2,11.9 -16.2,12.8 16.2,12.8 16.2,11.9 16,11.1 15.3,10.2 14.3,9.4 13.3,8.5 12.3,7.7 11.4,6.8 10.7,6 10.4,5.1 10.1,4.3 9.8,3.4 9.5,2.6 9.3,1.7 9,0.9 8.7,0 9,-0.9 9.3,-1.7 9.5,-2.6 9.8,-3.4 10.1,-4.3 10.4,-5.1 10.7,-6 11.4,-6.8 12.3,-7.7 13.3,-8.5 14.3,-9.4 15.3,-10.2 16,-11.1 16.2,-11.9 16.2,-12.8Z" fill="#5e5e5e"/>
<path d="M-14.2,-12.8 -14.2,-11.9 -14,-11.1 -13.4,-10.2 -12.5,-9.4 -11.6,-8.5 -10.8,-7.7 -9.9,-6.8 -9.3,-6 -9.1,-5.1 -8.8,-4.3 -8.6,-3.4 -8.3,-2.6 -8.1,-1.7 -7.8,-0.9 -7.6,0 -7.8,0.9 -8.1,1.7 -8.3,2.6 -8.6,3.4 -8.8,4.3 -9.1,5.1 -9.3,6 -9.9,6.8 -10.8,7.7 -11.6,8.5 -12.5,9.4 -13.4,10.2 -14,11.1 -14.2,11.9 -14.2,12.8 14.2,12.8 14.2,11.9 14,11.1 13.4,10.2 12.5,9.4 11.6,8.5 10.8,7.7 9.9,6.8 9.3,6 9.1,5.1 8.8,4.3 8.6,3.4 8.3,2.6 8.1,1.7 7.8,0.9 7.6,0 7.8,-0.9 8.1,-1.7 8.3,-2.6 8.6,-3.4 8.8,-4.3 9.1,-5.1 9.3,-6 9.9,-6.8 10.8,-7.7 11.6,-8.5 12.5,-9.4 13.4,-10.2 14,-11.1 14.2,-11.9 14.2,-12.8Z" fill="#737373"/>
<path d="M-12.4,-12.8 -12.4,-11.9 -12.2,-11.1 -11.6,-10.2 -10.8,-9.4 -10.1,-8.5 -9.3,-7.7 -8.6,-6.8 -8,-6 -7.8,-5.1 -7.6,-4.3 -7.4,-3.4 -7.1,-2.6 -6.9,-1.7 -6.7,-0.9 -6.5,0 -6.7,0.9 -6.9,1.7 -7.2,2.6 -7.4,3.4 -7.6,4.3 -7.8,5.1 -8,6 -8.6,6.8 -9.3,7.7 -10.1,8.5 -10.8,9.4 -11.6,10.2 -12.2,11.1 -12.4,11.9 -12.4,12.8 12.4,12.8 12.4,11.9 12.2,11.1 11.6,10.2 10.8,9.4 10.1,8.5 9.3,7.7 8.6,6.8 8,6 7.8,5.1 7.6,4.3 7.4,3.4 7.2,2.6 6.9,1.7 6.7,0.9 6.5,0 6.7,-0.9 6.9,-1.7 7.1,-2.6 7.4,-3.4 7.6,-4.3 7.8,-5.1 8,-6 8.6,-6.8 9.3,-7.7 10.1,-8.5 10.8,-9.4 11.6,-10.2 12.2,-11.1 12.4,-11.9 12.4,-12.8Z" fill="#858585"/>
<path d="M-10.7,-12.8 -10.7,-11.9 -10.5,-11.1 -10,-10.2 -9.3,-9.4 -8.6,-8.5 -7.9,-7.7 -7.2,-6.8 -6.7,-6 -6.5,-5.1 -6.3,-4.3 -6.1,-3.4 -5.9,-2.6 -5.7,-1.7 -5.4,-0.9 -5.2,0 -5.4,0.9 -5.7,1.7 -5.9,2.6 -6.1,3.4 -6.3,4.3 -6.5,5.1 -6.7,6 -7.2,6.8 -7.9,7.7 -8.6,8.5 -9.3,9.4 -10,10.2 -10.5,11.1 -10.7,11.9 -10.7,12.8 10.7,12.8 10.7,11.9 10.5,11.1 10,10.2 9.3,9.4 8.6,8.5 7.9,7.7 7.2,6.8 6.7,6 6.5,5.1 6.3,4.3 6.1,3.4 5.9,2.6 5.7,1.7 5.4,0.9 5.2,0 5.4,-0.9 5.7,-1.7 5.9,-2.6 6.1,-3.4 6.3,-4.3 6.5,-5.1 6.7,-6 7.2,-6.8 7.9,-7.7 8.6,-8.5 9.3,-9.4 10,-10.2 10.5,-11.1 10.7,-11.9 10.7,-12.8Z" fill="#949494"/>
<path d="M-9,-12.8 -9,-11.9 -8.8,-11.1 -8.3,-10.2 -7.6,-9.4 -7,-8.5 -6.4,-7.7 -5.8,-6.8 -5.3,-6 -5.1,-5.1 -5,-4.3 -4.8,-3.4 -4.6,-2.6 -4.4,-1.7 -4.2,-0.9 -4,0 -4.2,0.9 -4.4,1.7 -4.6,2.6 -4.8,3.4 -5,4.3 -5.1,5.1 -5.3,6 -5.8,6.8 -6.4,7.7 -7,8.5 -7.6,9.4 -8.3,10.2 -8.8,11.1 -9,11.9 -9,12.8 9,12.8 9,11.9 8.8,11.1 8.3,10.2 7.6,9.4 7,8.5 6.4,7.7 5.8,6.8 5.3,6 5.1,5.1 5,4.3 4.8,3.4 4.6,2.6 4.4,1.7 4.2,0.9 4,0 4.2,-0.9 4.4,-1.7 4.6,-2.6 4.8,-3.4 5,-4.3 5.1,-5.1 5.3,-6 5.8,-6.8 6.4,-7.7 7,-8.5 7.6,-9.4 8.3,-10.2 8.8,-11.1 9,-11.9 9,-12.8Z" fill="#a3a3a3"/>
<path d="M-7.4,-12.8 -7.4,-11.9 -7.1,-11.1 -6.5,-10.2 -6,-9.4 -5.4,-8.5 -4.8,-7.7 -4.3,-6.8 -3.9,-6 -3.8,-5.1 -3.6,-4.3 -3.5,-3.4 -3.4,-2.6 -3.2,-1.7 -3.1,-0.9 -3,0 -3.1,0.9 -3.2,1.7 -3.4,2.6 -3.5,3.4 -3.6,4.3 -3.8,5.1 -3.9,6 -4.3,6.8 -4.8,7.7 -5.4,8.5 -6,9.4 -6.5,10.2 -7.1,11.1 -7.4,11.9 -7.4,12.8 7.4,12.8 7.4,11.9 7.1,11.1 6.5,10.2 6,9.4 5.4,8.5 4.8,7.7 4.3,6.8 3.9,6 3.8,5.1 3.6,4.3 3.5,3.4 3.4,2.6 3.2,1.7 3.1,0.9 3,0 3.1,-0.9 3.2,-1.7 3.4,-2.6 3.5,-3.4 3.6,-4.3 3.8,-5.1 3.9,-6 4.3,-6.8 4.8,-7.7 5.4,-8.5 6,-9.4 6.5,-10.2 7.1,-11.1 7.4,-11.9 7.4,-12.8Z" fill="#b2b2b2"/>
<path d="M-5.4,-12.8 -5.4,-11.9 -5.2,-11.1 -4.6,-10.2 -4,-9.4 -3.5,-8.5 -2.9,-7.7 -2.4,-6.8 -2,-6 -1.8,-5.1 -1.6,-4.3 -1.5,-3.4 -1.5,-2.6 -1.4,-1.7 -1.4,-0.9 -1.3,0 -1.4,0.9 -1.4,1.7 -1.5,2.6 -1.5,3.4 -1.6,4.3 -1.8,5.1 -2,6 -2.4,6.8 -2.9,7.7 -3.5,8.5 -4,9.4 -4.6,10.2 -5.2,11.1 -5.4,11.9 -5.4,12.8 5.4,12.8 5.4,11.9 5.2,11.1 4.6,10.2 4,9.4 3.5,8.5 2.9,7.7 2.4,6.8 2,6 1.8,5.1 1.6,4.3 1.5,3.4 1.5,2.6 1.4,1.7 1.4,0.9 1.3,0 1.4,-0.9 1.4,-1.7 1.5,-2.6 1.5,-3.4 1.6,-4.3 1.8,-5.1 2,-6 2.4,-6.8 2.9,-7.7 3.5,-8.5 4,-9.4 4.6,-10.2 5.2,-11.1 5.4,-11.9 5.4,-12.8Z" fill="#c2c2c2"/>
<path d="M-4,-12.8 -4,-11.9 -3.8,-11.1 -3.2,-10.2 -2.6,-9.4 -2.1,-8.5 -1.5,-7.7 -1,-6.8 -0.6,-6 -0.2,-5.1 0,-4.3 0,4.3 -0.2,5.1 -0.6,6 -1,6.8 -1.5,7.7 -2.1,8.5 -2.6,9.4 -3.2,10.2 -3.8,11.1 -4,11.9 -4,12.8 4,12.8 4,11.9 3.8,11.1 3.2,10.2 2.6,9.4 2.1,8.5 1.5,7.7 1,6.8 0.6,6 0.2,5.1 0,4.3 0,-4.3 0.2,-5.1 0.6,-6 1,-6.8 1.5,-7.7 2.1,-8.5 2.6,-9.4 3.2,-10.2 3.8,-11.1 4,-11.9 4,-12.8Z" fill="#cccccc"/>
</g></g></g>
<filter id="hm5" filterUnits="userSpaceOnUse" x="214.6" y="470.3" width="139.4" height="22.8" color-interpolation-filters="sRGB"><feGaussianBlur stdDeviation="1.1"/><feComponentTransfer><feFuncR type="table" tableValues="0 0 0 0 0.5 1 1 1 0.5"/><feFuncG type="table" tableValues="0 0 0.5 1 1 1 0.5 0 0"/><feFuncB type="table" tableValues="0.5 1 1 1 0.5 0 0 0 0"/><feFuncA type="table" tableValues="1 1"/></feComponentTransfer></filter>
<clipPath id="chm5"><rect x="214.6" y="470.3" width="139.4" height="22.8"/></clipPath>
<g clip-path="url(#chm5)"><g filter="url(#hm5)">
<rect x="214.6" y="470.3" width="139.4" height="22.8" fill="#080808"/>
<g transform="translate(284.30,481.70)">
<path d="M-37.4,-12.8 -37.4,-11.9 -37.1,-11.1 -36.3,-10.2 -26.8,-9.4 -20.5,-8.5 -17.9,-7.7 -16.7,-6.8 -16,-6 -15.6,-5.1 -15.3,-4.3 -15.1,-3.4 -14.8,-2.6 -14.6,-1.7 -14.4,-0.9 -14.1,0 -14.4,0.9 -14.6,1.7 -14.8,2.6 -15.1,3.4 -15.3,4.3 -15.6,5.1 -16,6 -16.7,6.8 -17.9,7.7 -20.5,8.5 -26.8,9.4 -36.3,10.2 -37.1,11.1 -37.4,11.9 -37.4,12.8 37.4,12.8 37.4,11.9 37.1,11.1 36.3,10.2 26.8,9.4 20.5,8.5 17.9,7.7 16.7,6.8 16,6 15.6,5.1 15.3,4.3 15.1,3.4 14.8,2.6 14.6,1.7 14.4,0.9 14.1,0 14.4,-0.9 14.6,-1.7 14.8,-2.6 15.1,-3.4 15.3,-4.3 15.6,-5.1 16,-6 16.7,-6.8 17.9,-7.7 20.5,-8.5 26.8,-9.4 36.3,-10.2 37.1,-11.1 37.4,-11.9 37.4,-12.8Z" fill="#1a1a1a"/>
<path d="M-28.4,-12.8 -28.4,-11.9 -26,-11.1 -18.8,-10.2 -16.7,-9.4 -15.5,-8.5 -14.7,-7.7 -13.8,-6.8 -13.2,-6 -13,-5.1 -12.7,-4.3 -12.5,-3.4 -12.3,-2.6 -12.1,-1.7 -11.9,-0.9 -11.7,0 -11.9,0.9 -12.1,1.7 -12.3,2.6 -12.5,3.4 -12.7,4.3 -13,5.1 -13.2,6 -13.8,6.8 -14.7,7.7 -15.5,8.5 -16.7,9.4 -18.8,10.2 -26,11.1 -28.4,11.9 -28.4,12.8 28.4,12.8 28.4,11.9 26,11.1 18.8,10.2 16.7,9.4 15.5,8.5 14.7,7.7 13.8,6.8 13.2,6 13,5.1 12.7,4.3 12.5,3.4 12.3,2.6 12.1,1.7 11.9,0.9 11.7,0 11.9,-0.9 12.1,-1.7 12.3,-2.6 12.5,-3.4 12.7,-4.3 13,-5.1 13.2,-6 13.8,-6.8 14.7,-7.7 15.5,-8.5 16.7,-9.4 18.8,-10.2 26,-11.1 28.4,-11.9 28.4,-12.8Z" fill="#333333"/>
<path d="M-21.1,-12.8 -21.1,-11.9 -19.9,-11.1 -16.8,-10.2 -15.2,-9.4 -14.1,-8.5 -13.2,-7.7 -12.3,-6.8 -11.6,-6 -11.3,-5.1 -11,-4.3 -10.8,-3.4 -10.5,-2.6 -10.3,-1.7 -10,-0.9 -9.8,0 -10,0.9 -10.3,1.7 -10.5,2.6 -10.8,3.4 -11,4.3 -11.3,5.1 -11.6,6 -12.3,6.8 -13.2,7.7 -14.1,8.5 -15.2,9.4 -16.8,10.2 -19.9,11.1 -21.1,11.9 -21.1,12.8 21.1,12.8 21.1,11.9 19.9,11.1 16.8,10.2 15.2,9.4 14.1,8.5 13.2,7.7 12.3,6.8 11.6,6 11.3,5.1 11,4.3 10.8,3.4 10.5,2.6 10.3,1.7 10,0.9 9.8,0 10,-0.9 10.3,-1.7 10.5,-2.6 10.8,-3.4 11,-4.3 11.3,-5.1 11.6,-6 12.3,-6.8 13.2,-7.7 14.1,-8.5 15.2,-9.4 16.8,-10.2 19.9,-11.1 21.1,-11.9 21.1,-12.8Z" fill="#4c4c4c"/>
<path d="M-18.9,-12.8 -18.9,-11.9 -18,-11.1 -15.9,-10.2 -14.4,-9.4 -13.2,-8.5 -12.2,-7.7 -11.2,-6.8 -10.5,-6 -10.2,-5.1 -9.9,-4.3 -9.6,-3.4 -9.3,-2.6 -9,-1.7 -8.7,-0.9 -8.4,0 -8.7,0.9 -9,1.7 -9.3,2.6 -9.6,3.4 -9.9,4.3 -10.2,5.1 -10.5,6 -11.2,6.8 -12.2,7.7 -13.2,8.5 -14.4,9.4 -15.9,10.2 -18,11.1 -18.9,11.9 -18.9,12.8 18.9,12.8 18.9,11.9 18,11.1 15.9,10.2 14.4,9.4 13.2,8.5 12.2,7.7 11.2,6.8 10.5,6 10.2,5.1 9.9,4.3 9.6,3.4 9.3,2.6 9,1.7 8.7,0.9 8.4,0 8.7,-0.9 9,-1.7 9.3,-2.6 9.6,-3.4 9.9,-4.3 10.2,-5.1 10.5,-6 11.2,-6.8 12.2,-7.7 13.2,-8.5 14.4,-9.4 15.9,-10.2 18,-11.1 18.9,-11.9 18.9,-12.8Z" fill="#5e5e5e"/>
<path d="M-16,-12.8 -16,-11.9 -15.4,-11.1 -13.9,-10.2 -12.6,-9.4 -11.6,-8.5 -10.7,-7.7 -9.8,-6.8 -9.2,-6 -8.9,-5.1 -8.6,-4.3 -8.3,-3.4 -8,-2.6 -7.8,-1.7 -7.5,-0.9 -7.2,0 -7.5,0.9 -7.8,1.7 -8,2.6 -8.3,3.4 -8.6,4.3 -8.9,5.1 -9.2,6 -9.8,6.8 -10.7,7.7 -11.6,8.5 -12.6,9.4 -13.9,10.2 -15.4,11.1 -16,11.9 -16,12.8 16,12.8 16,11.9 15.4,11.1 13.9,10.2 12.6,9.4 11.6,8.5 10.7,7.7 9.8,6.8 9.2,6 8.9,5.1 8.6,4.3 8.3,3.4 8,2.6 7.8,1.7 7.5,0.9 7.2,0 7.5,-0.9 7.8,-1.7 8,-2.6 8.3,-3.4 8.6,-4.3 8.9,-5.1 9.2,-6 9.8,-6.8 10.7,-7.7 11.6,-8.5 12.6,-9.4 13.9,-10.2 15.4,-11.1 16,-11.9 16,-12.8Z" fill="#737373"/>
<path d="M-13.9,-12.8 -13.9,-11.9 -13.4,-11.1 -12.1,-10.2 -11,-9.4 -10.1,-8.5 -9.3,-7.7 -8.5,-6.8 -7.9,-6 -7.6,-5.1 -7.3,-4.3 -7,-3.4 -6.8,-2.6 -6.5,-1.7 -6.3,-0.9 -6,0 -6.3,0.9 -6.5,1.7 -6.8,2.6 -7,3.4 -7.3,4.3 -7.6,5.1 -7.9,6 -8.5,6.8 -9.3,7.7 -10.1,8.5 -11,9.4 -12.1,10.2 -13.4,11.1 -13.9,11.9 -13.9,12.8 13.9,12.8 13.9,11.9 13.4,11.1 12.1,10.2 11,9.4 10.1,8.5 9.3,7.7 8.5,6.8 7.9,6 7.6,5.1 7.3,4.3 7,3.4 6.8,2.6 6.5,1.7 6.3,0.9 6,0 6.3,-0.9 6.5,-1.7 6.8,-2.6 7,-3.4 7.3,-4.3 7.6,-5.1 7.9,-6 8.5,-6.8 9.3,-7.7 10.1,-8.5 11,-9.4 12.1,-10.2 13.4,-11.1 13.9,-11.9 13.9,-12.8Z" fill="#858585"/>
<path d="M-12.2,-12.8 -12.2,-11.9 -11.7,-11.1 -10.4,-10.2 -9.4,-9.4 -8.5,-8.5 -7.8,-7.7 -7,-6.8 -6.5,-6 -6.2,-5.1 -5.9,-4.3 -5.7,-3.4 -5.4,-2.6 -5.2,-1.7 -5,-0.9 -4.7,0 -5,0.9 -5.2,1.7 -5.4,2.6 -5.7,3.4 -5.9,4.3 -6.2,5.1 -6.5,6 -7,6.8 -7.8,7.7 -8.5,8.5 -9.4,9.4 -10.4,10.2 -11.7,11.1 -12.2,11.9 -12.2,12.8 12.2,12.8 12.2,11.9 11.7,11.1 10.4,10.2 9.4,9.4 8.5,8.5 7.8,7.7 7,6.8 6.5,6 6.2,5.1 5.9,4.3 5.7,3.4 5.4,2.6 5.2,1.7 5,0.9 4.7,0 5,-0.9 5.2,-1.7 5.4,-2.6 5.7,-3.4 5.9,-4.3 6.2,-5.1 6.5,-6 7,-6.8 7.8,-7.7 8.5,-8.5 9.4,-9.4 10.4,-10.2 11.7,-11.1 12.2,-11.9 12.2,-12.8Z" fill="#949494"/>
<path d="M-10.4,-12.8 -10.4,-11.9 -10,-11.1 -8.9,-10.2 -8,-9.4 -7.2,-8.5 -6.5,-7.7 -5.8,-6.8 -5.2,-6 -4.9,-5.1 -4.5,-4.3 -4.2,-3.4 -3.9,-2.6 -3.6,-1.7 -3.3,-0.9 -3,0 -3.3,0.9 -3.6,1.7 -3.9,2.6 -4.2,3.4 -4.5,4.3 -4.9,5.1 -5.2,6 -5.8,6.8 -6.5,7.7 -7.2,8.5 -8,9.4 -8.9,10.2 -10,11.1 -10.4,11.9 -10.4,12.8 10.4,12.8 10.4,11.9 10,11.1 8.9,10.2 8,9.4 7.2,8.5 6.5,7.7 5.8,6.8 5.2,6 4.9,5.1 4.5,4.3 4.2,3.4 3.9,2.6 3.6,1.7 3.3,0.9 3,0 3.3,-0.9 3.6,-1.7 3.9,-2.6 4.2,-3.4 4.5,-4.3 4.9,-5.1 5.2,-6 5.8,-6.8 6.5,-7.7 7.2,-8.5 8,-9.4 8.9,-10.2 10,-11.1 10.4,-11.9 10.4,-12.8Z" fill="#a3a3a3"/>
<path d="M-8.6,-12.8 -8.6,-11.9 -8.2,-11.1 -7.1,-10.2 -6.3,-9.4 -5.6,-8.5 -4.9,-7.7 -4.3,-6.8 -3.8,-6 -3.5,-5.1 -3.2,-4.3 -2.9,-3.4 -2.7,-2.6 -2.5,-1.7 -2.4,-0.9 -2.2,0 -2.4,0.9 -2.5,1.7 -2.7,2.6 -2.9,3.4 -3.2,4.3 -3.5,5.1 -3.8,6 -4.3,6.8 -4.9,7.7 -5.6,8.5 -6.3,9.4 -7.1,10.2 -8.2,11.1 -8.6,11.9 -8.6,12.8 8.6,12.8 8.6,11.9 8.2,11.1 7.1,10.2 6.3,9.4 5.6,8.5 4.9,7.7 4.3,6.8 3.8,6 3.5,5.1 3.2,4.3 2.9,3.4 2.7,2.6 2.5,1.7 2.4,0.9 2.2,0 2.4,-0.9 2.5,-1.7 2.7,-2.6 2.9,-3.4 3.2,-4.3 3.5,-5.1 3.8,-6 4.3,-6.8 4.9,-7.7 5.6,-8.5 6.3,-9.4 7.1,-10.2 8.2,-11.1 8.6,-11.9 8.6,-12.8Z" fill="#b2b2b2"/>
<path d="M-6.6,-12.8 -6.6,-11.9 -6.3,-11.1 -5.3,-10.2 -4.5,-9.4 -3.8,-8.5 -3.1,-7.7 -2.5,-6.8 -2,-6 -1.7,-5.1 -1.4,-4.3 -1.3,-3.4 -1.1,-2.6 -1.1,-1.7 -1,0 -1.1,1.7 -1.1,2.6 -1.3,3.4 -1.4,4.3 -1.7,5.1 -2,6 -2.5,6.8 -3.1,7.7 -3.8,8.5 -4.5,9.4 -5.3,10.2 -6.3,11.1 -6.6,11.9 -6.6,12.8 6.6,12.8 6.6,11.9 6.3,11.1 5.3,10.2 4.5,9.4 3.8,8.5 3.1,7.7 2.5,6.8 2,6 1.7,5.1 1.4,4.3 1.3,3.4 1.1,2.6 1.1,1.7 1,0 1.1,-1.7 1.1,-2.6 1.3,-3.4 1.4,-4.3 1.7,-5.1 2,-6 2.5,-6.8 3.1,-7.7 3.8,-8.5 4.5,-9.4 5.3,-10.2 6.3,-11.1 6.6,-11.9 6.6,-12.8Z" fill="#c2c2c2"/>
<path d="M-5.3,-12.8 -5.3,-11.9 -4.9,-11.1 -4,-10.2 -3.2,-9.4 -2.5,-8.5 -1.9,-7.7 -1.2,-6.8 -0.7,-6 -0.4,-5.1 -0.1,-4.3 -0.1,-3.4 0,-2.6 0,2.6 -0.1,3.4 -0.1,4.3 -0.4,5.1 -0.7,6 -1.2,6.8 -1.9,7.7 -2.5,8.5 -3.2,9.4 -4,10.2 -4.9,11.1 -5.3,11.9 -5.3,12.8 5.3,12.8 5.3,11.9 4.9,11.1 4,10.2 3.2,9.4 2.5,8.5 1.9,7.7 1.2,6.8 0.7,6 0.4,5.1 0.1,4.3 0.1,3.4 0,2.6 0,-2.6 0.1,-3.4 0.1,-4.3 0.4,-5.1 0.7,-6 1.2,-6.8 1.9,-7.7 2.5,-8.5 3.2,-9.4 4,-10.2 4.9,-11.1 5.3,-11.9 5.3,-12.8Z" fill="#cccccc"/>
<path d="M-2,-12.8 -2,-11.9 -1.9,-11.1 -1.5,-10.2 -1.1,-9.4 -0.8,-8.5 -0.5,-7.7 -0.2,-6.8 0,-6 0,6 -0.2,6.8 -0.5,7.7 -0.8,8.5 -1.1,9.4 -1.5,10.2 -1.9,11.1 -2,11.9 -2,12.8 2,12.8 2,11.9 1.9,11.1 1.5,10.2 1.1,9.4 0.8,8.5 0.5,7.7 0.2,6.8 0,6 0,-6 0.2,-6.8 0.5,-7.7 0.8,-8.5 1.1,-9.4 1.5,-10.2 1.9,-11.1 2,-11.9 2,-12.8Z" fill="#d6d6d6"/>
</g></g></g>
<filter id="hm6" filterUnits="userSpaceOnUse" x="399.0" y="470.3" width="139.4" height="22.8" color-interpolation-filters="sRGB"><feGaussianBlur stdDeviation="1.1"/><feComponentTransfer><feFuncR type="table" tableValues="0 0 0 0 0.5 1 1 1 0.5"/><feFuncG type="table" tableValues="0 0 0.5 1 1 1 0.5 0 0"/><feFuncB type="table" tableValues="0.5 1 1 1 0.5 0 0 0 0"/><feFuncA type="table" tableValues="1 1"/></feComponentTransfer></filter>
<clipPath id="chm6"><rect x="399.0" y="470.3" width="139.4" height="22.8"/></clipPath>
<g clip-path="url(#chm6)"><g filter="url(#hm6)">
<rect x="399.0" y="470.3" width="139.4" height="22.8" fill="#080808"/>
<g transform="translate(468.70,481.70)">
<path d="M-54.9,-12.8 -54.9,-11.9 -54.8,-11.1 -53.9,-10.2 -35.5,-9.4 -23.4,-8.5 -18.8,-7.7 -17,-6.8 -16,-6 -15.5,-5.1 -15.1,-4.3 -14.8,-3.4 -14.5,-2.6 -14.3,-1.7 -14,-0.9 -13.8,0 -14,0.9 -14.3,1.7 -14.5,2.6 -14.8,3.4 -15.1,4.3 -15.5,5.1 -16,6 -17,6.8 -18.8,7.7 -23.4,8.5 -35.5,9.4 -53.9,10.2 -54.8,11.1 -54.9,11.9 -54.9,12.8 54.9,12.8 54.9,11.9 54.8,11.1 53.9,10.2 35.5,9.4 23.4,8.5 18.8,7.7 17,6.8 16,6 15.5,5.1 15.1,4.3 14.8,3.4 14.5,2.6 14.3,1.7 14,0.9 13.8,0 14,-0.9 14.3,-1.7 14.5,-2.6 14.8,-3.4 15.1,-4.3 15.5,-5.1 16,-6 17,-6.8 18.8,-7.7 23.4,-8.5 35.5,-9.4 53.9,-10.2 54.8,-11.1 54.9,-11.9 54.9,-12.8Z" fill="#1a1a1a"/>
<path d="M-38.9,-12.8 -38.9,-11.9 -34.4,-11.1 -20.8,-10.2 -17.4,-9.4 -15.8,-8.5 -14.8,-7.7 -13.9,-6.8 -13.2,-6 -12.8,-5.1 -12.5,-4.3 -12.3,-3.4 -12,-2.6 -11.8,-1.7 -11.6,-0.9 -11.3,0 -11.6,0.9 -11.8,1.7 -12,2.6 -12.3,3.4 -12.5,4.3 -12.8,5.1 -13.2,6 -13.9,6.8 -14.8,7.7 -15.8,8.5 -17.4,9.4 -20.8,10.2 -34.4,11.1 -38.9,11.9 -38.9,12.8 38.9,12.8 38.9,11.9 34.4,11.1 20.8,10.2 17.4,9.4 15.8,8.5 14.8,7.7 13.9,6.8 13.2,6 12.8,5.1 12.5,4.3 12.3,3.4 12,2.6 11.8,1.7 11.6,0.9 11.3,0 11.6,-0.9 11.8,-1.7 12,-2.6 12.3,-3.4 12.5,-4.3 12.8,-5.1 13.2,-6 13.9,-6.8 14.8,-7.7 15.8,-8.5 17.4,-9.4 20.8,-10.2 34.4,-11.1 38.9,-11.9 38.9,-12.8Z" fill="#333333"/>
<path d="M-25.4,-12.8 -25.4,-11.9 -23.2,-11.1 -17.8,-10.2 -15.5,-9.4 -14.2,-8.5 -13.2,-7.7 -12.3,-6.8 -11.5,-6 -11.2,-5.1 -10.8,-4.3 -10.6,-3.4 -10.3,-2.6 -10,-1.7 -9.8,-0.9 -9.5,0 -9.8,0.9 -10,1.7 -10.3,2.6 -10.6,3.4 -10.8,4.3 -11.2,5.1 -11.5,6 -12.3,6.8 -13.2,7.7 -14.2,8.5 -15.5,9.4 -17.8,10.2 -23.2,11.1 -25.4,11.9 -25.4,12.8 25.4,12.8 25.4,11.9 23.2,11.1 17.8,10.2 15.5,9.4 14.2,8.5 13.2,7.7 12.3,6.8 11.5,6 11.2,5.1 10.8,4.3 10.6,3.4 10.3,2.6 10,1.7 9.8,0.9 9.5,0 9.8,-0.9 10,-1.7 10.3,-2.6 10.6,-3.4 10.8,-4.3 11.2,-5.1 11.5,-6 12.3,-6.8 13.2,-7.7 14.2,-8.5 15.5,-9.4 17.8,-10.2 23.2,-11.1 25.4,-11.9 25.4,-12.8Z" fill="#4c4c4c"/>
<path d="M-21.6,-12.8 -21.6,-11.9 -20.1,-11.1 -16.4,-10.2 -14.4,-9.4 -13.1,-8.5 -12.1,-7.7 -11.1,-6.8 -10.4,-6 -10,-5.1 -9.6,-4.3 -9.3,-3.4 -9,-2.6 -8.8,-1.7 -8.5,-0.9 -8.2,0 -8.5,0.9 -8.8,1.7 -9,2.6 -9.3,3.4 -9.6,4.3 -10,5.1 -10.4,6 -11.1,6.8 -12.1,7.7 -13.1,8.5 -14.4,9.4 -16.4,10.2 -20.1,11.1 -21.6,11.9 -21.6,12.8 21.6,12.8 21.6,11.9 20.1,11.1 16.4,10.2 14.4,9.4 13.1,8.5 12.1,7.7 11.1,6.8 10.4,6 10,5.1 9.6,4.3 9.3,3.4 9,2.6 8.8,1.7 8.5,0.9 8.2,0 8.5,-0.9 8.8,-1.7 9,-2.6 9.3,-3.4 9.6,-4.3 10,-5.1 10.4,-6 11.1,-6.8 12.1,-7.7 13.1,-8.5 14.4,-9.4 16.4,-10.2 20.1,-11.1 21.6,-11.9 21.6,-12.8Z" fill="#5e5e5e"/>
<path d="M-17.9,-12.8 -17.9,-11.9 -16.9,-11.1 -14.4,-10.2 -12.7,-9.4 -11.6,-8.5 -10.7,-7.7 -9.7,-6.8 -9,-6 -8.6,-5.1 -8.3,-4.3 -8,-3.4 -7.7,-2.6 -7.4,-1.7 -7.2,-0.9 -6.9,0 -7.2,0.9 -7.4,1.7 -7.7,2.6 -8,3.4 -8.3,4.3 -8.6,5.1 -9,6 -9.7,6.8 -10.7,7.7 -11.6,8.5 -12.7,9.4 -14.4,10.2 -16.9,11.1 -17.9,11.9 -17.9,12.8 17.9,12.8 17.9,11.9 16.9,11.1 14.4,10.2 12.7,9.4 11.6,8.5 10.7,7.7 9.7,6.8 9,6 8.6,5.1 8.3,4.3 8,3.4 7.7,2.6 7.4,1.7 7.2,0.9 6.9,0 7.2,-0.9 7.4,-1.7 7.7,-2.6 8,-3.4 8.3,-4.3 8.6,-5.1 9,-6 9.7,-6.8 10.7,-7.7 11.6,-8.5 12.7,-9.4 14.4,-10.2 16.9,-11.1 17.9,-11.9 17.9,-12.8Z" fill="#737373"/>
<path d="M-15.4,-12.8 -15.4,-11.9 -14.6,-11.1 -12.7,-10.2 -11.2,-9.4 -10.1,-8.5 -9.3,-7.7 -8.4,-6.8 -7.7,-6 -7.3,-5.1 -7,-4.3 -6.7,-3.4 -6.4,-2.6 -6.2,-1.7 -5.9,-0.9 -5.6,0 -5.9,0.9 -6.2,1.7 -6.4,2.6 -6.7,3.4 -7,4.3 -7.3,5.1 -7.7,6 -8.4,6.8 -9.3,7.7 -10.1,8.5 -11.2,9.4 -12.7,10.2 -14.6,11.1 -15.4,11.9 -15.4,12.8 15.4,12.8 15.4,11.9 14.6,11.1 12.7,10.2 11.2,9.4 10.1,8.5 9.3,7.7 8.4,6.8 7.7,6 7.3,5.1 7,4.3 6.7,3.4 6.4,2.6 6.2,1.7 5.9,0.9 5.6,0 5.9,-0.9 6.2,-1.7 6.4,-2.6 6.7,-3.4 7,-4.3 7.3,-5.1 7.7,-6 8.4,-6.8 9.3,-7.7 10.1,-8.5 11.2,-9.4 12.7,-10.2 14.6,-11.1 15.4,-11.9 15.4,-12.8Z" fill="#858585"/>
<path d="M-13.6,-12.8 -13.6,-11.9 -12.8,-11.1 -10.9,-10.2 -9.4,-9.4 -8.5,-8.5 -7.7,-7.7 -6.9,-6.8 -6.3,-6 -5.9,-5.1 -5.6,-4.3 -5.3,-3.4 -5,-2.6 -4.8,-1.7 -4.5,-0.9 -4.2,0 -4.5,0.9 -4.8,1.7 -5,2.6 -5.3,3.4 -5.6,4.3 -5.9,5.1 -6.3,6 -6.9,6.8 -7.7,7.7 -8.5,8.5 -9.4,9.4 -10.9,10.2 -12.8,11.1 -13.6,11.9 -13.6,12.8 13.6,12.8 13.6,11.9 12.8,11.1 10.9,10.2 9.4,9.4 8.5,8.5 7.7,7.7 6.9,6.8 6.3,6 5.9,5.1 5.6,4.3 5.3,3.4 5,2.6 4.8,1.7 4.5,0.9 4.2,0 4.5,-0.9 4.8,-1.7 5,-2.6 5.3,-3.4 5.6,-4.3 5.9,-5.1 6.3,-6 6.9,-6.8 7.7,-7.7 8.5,-8.5 9.4,-9.4 10.9,-10.2 12.8,-11.1 13.6,-11.9 13.6,-12.8Z" fill="#949494"/>
<path d="M-11.8,-12.8 -11.8,-11.9 -11.1,-11.1 -9.5,-10.2 -8.3,-9.4 -7.4,-8.5 -6.6,-7.7 -5.8,-6.8 -5.1,-6 -4.6,-5.1 -4.1,-4.3 -3.7,-3.4 -3.2,-2.6 -2.8,-1.7 -2.4,-0.9 -2,0 -2.4,0.9 -2.8,1.7 -3.2,2.6 -3.7,3.4 -4.1,4.3 -4.6,5.1 -5.1,6 -5.8,6.8 -6.6,7.7 -7.4,8.5 -8.3,9.4 -9.5,10.2 -11.1,11.1 -11.8,11.9 -11.8,12.8 11.8,12.8 11.8,11.9 11.1,11.1 9.5,10.2 8.3,9.4 7.4,8.5 6.6,7.7 5.8,6.8 5.1,6 4.6,5.1 4.1,4.3 3.7,3.4 3.2,2.6 2.8,1.7 2.4,0.9 2,0 2.4,-0.9 2.8,-1.7 3.2,-2.6 3.7,-3.4 4.1,-4.3 4.6,-5.1 5.1,-6 5.8,-6.8 6.6,-7.7 7.4,-8.5 8.3,-9.4 9.5,-10.2 11.1,-11.1 11.8,-11.9 11.8,-12.8Z" fill="#a3a3a3"/>
<path d="M-9.8,-12.8 -9.8,-11.9 -9.2,-11.1 -7.7,-10.2 -6.5,-9.4 -5.7,-8.5 -5,-7.7 -4.3,-6.8 -3.7,-6 -3.2,-5.1 -2.8,-4.3 -2.4,-3.4 -2,-2.6 -1.8,-1.7 -1.6,-0.9 -1.5,0 -1.6,0.9 -1.8,1.7 -2,2.6 -2.4,3.4 -2.8,4.3 -3.2,5.1 -3.7,6 -4.3,6.8 -5,7.7 -5.7,8.5 -6.5,9.4 -7.7,10.2 -9.2,11.1 -9.8,11.9 -9.8,12.8 9.8,12.8 9.8,11.9 9.2,11.1 7.7,10.2 6.5,9.4 5.7,8.5 5,7.7 4.3,6.8 3.7,6 3.2,5.1 2.8,4.3 2.4,3.4 2,2.6 1.8,1.7 1.6,0.9 1.5,0 1.6,-0.9 1.8,-1.7 2,-2.6 2.4,-3.4 2.8,-4.3 3.2,-5.1 3.7,-6 4.3,-6.8 5,-7.7 5.7,-8.5 6.5,-9.4 7.7,-10.2 9.2,-11.1 9.8,-11.9 9.8,-12.8Z" fill="#b2b2b2"/>
<path d="M-7.9,-12.8 -7.9,-11.9 -7.3,-11.1 -6,-10.2 -4.9,-9.4 -4.1,-8.5 -3.3,-7.7 -2.6,-6.8 -2,-6 -1.6,-5.1 -1.3,-4.3 -1,-3.4 -0.8,-2.6 -0.7,-1.7 -0.7,0 -0.7,1.7 -0.8,2.6 -1,3.4 -1.3,4.3 -1.6,5.1 -2,6 -2.6,6.8 -3.3,7.7 -4.1,8.5 -4.9,9.4 -6,10.2 -7.3,11.1 -7.9,11.9 -7.9,12.8 7.9,12.8 7.9,11.9 7.3,11.1 6,10.2 4.9,9.4 4.1,8.5 3.3,7.7 2.6,6.8 2,6 1.6,5.1 1.3,4.3 1,3.4 0.8,2.6 0.7,1.7 0.7,0 0.7,-1.7 0.8,-2.6 1,-3.4 1.3,-4.3 1.6,-5.1 2,-6 2.6,-6.8 3.3,-7.7 4.1,-8.5 4.9,-9.4 6,-10.2 7.3,-11.1 7.9,-11.9 7.9,-12.8Z" fill="#c2c2c2"/>
<path d="M-6.6,-12.8 -6.6,-11.9 -6.1,-11.1 -4.9,-10.2 -3.9,-9.4 -3,-8.5 -2.2,-7.7 -1.4,-6.8 -0.8,-6 -0.5,-5.1 -0.2,-4.3 -0.1,-3.4 0,-2.6 0,2.6 -0.1,3.4 -0.2,4.3 -0.5,5.1 -0.8,6 -1.4,6.8 -2.2,7.7 -3,8.5 -3.9,9.4 -4.9,10.2 -6.1,11.1 -6.6,11.9 -6.6,12.8 6.6,12.8 6.6,11.9 6.1,11.1 4.9,10.2 3.9,9.4 3,8.5 2.2,7.7 1.4,6.8 0.8,6 0.5,5.1 0.2,4.3 0.1,3.4 0,2.6 0,-2.6 0.1,-3.4 0.2,-4.3 0.5,-5.1 0.8,-6 1.4,-6.8 2.2,-7.7 3,-8.5 3.9,-9.4 4.9,-10.2 6.1,-11.1 6.6,-11.9 6.6,-12.8Z" fill="#cccccc"/>
<path d="M-4,-12.8 -4,-11.9 -3.7,-11.1 -3,-10.2 -2.2,-9.4 -1.6,-8.5 -1,-7.7 -0.4,-6.8 0,-6 0,6 -0.4,6.8 -1,7.7 -1.6,8.5 -2.2,9.4 -3,10.2 -3.7,11.1 -4,11.9 -4,12.8 4,12.8 4,11.9 3.7,11.1 3,10.2 2.2,9.4 1.6,8.5 1,7.7 0.4,6.8 0,6 0,-6 0.4,-6.8 1,-7.7 1.6,-8.5 2.2,-9.4 3,-10.2 3.7,-11.1 4,-11.9 4,-12.8Z" fill="#d6d6d6"/>
</g></g></g>
<filter id="hm7" filterUnits="userSpaceOnUse" x="583.0" y="470.3" width="139.4" height="22.8" color-interpolation-filters="sRGB"><feGaussianBlur stdDeviation="1.1"/><feComponentTransfer><feFuncR type="table" tableValues="0 0 0 0 0.5 1 1 1 0.5"/><feFuncG type="table" tableValues="0 0 0.5 1 1 1 0.5 0 0"/><feFuncB type="table" tableValues="0.5 1 1 1 0.5 0 0 0 0"/><feFuncA type="table" tableValues="1 1"/></feComponentTransfer></filter>
<clipPath id="chm7"><rect x="583.0" y="470.3" width="139.4" height="22.8"/></clipPath>
<g clip-path="url(#chm7)"><g filter="url(#hm7)">
<rect x="583.0" y="470.3" width="139.4" height="22.8" fill="#080808"/>
<g transform="translate(652.70,481.70)">
<path d="M-72.5,-12.8 -72.5,-11.9 -72.4,-11.1 -71.4,-10.2 -44.2,-9.4 -26.4,-8.5 -19.7,-7.7 -17.3,-6.8 -16.1,-6 -15.4,-5.1 -14.9,-4.3 -14.6,-3.4 -14.3,-2.6 -14,-1.7 -13.7,-0.9 -13.4,0 -13.7,0.9 -14,1.7 -14.3,2.6 -14.6,3.4 -14.9,4.3 -15.4,5.1 -16.1,6 -17.3,6.8 -19.7,7.7 -26.4,8.5 -44.2,9.4 -71.4,10.2 -72.4,11.1 -72.5,11.9 -72.5,12.8 72.5,12.8 72.5,11.9 72.4,11.1 71.4,10.2 44.2,9.4 26.4,8.5 19.7,7.7 17.3,6.8 16.1,6 15.4,5.1 14.9,4.3 14.6,3.4 14.3,2.6 14,1.7 13.7,0.9 13.4,0 13.7,-0.9 14,-1.7 14.3,-2.6 14.6,-3.4 14.9,-4.3 15.4,-5.1 16.1,-6 17.3,-6.8 19.7,-7.7 26.4,-8.5 44.2,-9.4 71.4,-10.2 72.4,-11.1 72.5,-11.9 72.5,-12.8Z" fill="#1a1a1a"/>
<path d="M-49.5,-12.8 -49.5,-11.9 -42.8,-11.1 -22.7,-10.2 -18,-9.4 -16,-8.5 -15,-7.7 -14,-6.8 -13.2,-6 -12.7,-5.1 -12.3,-4.3 -12,-3.4 -11.8,-2.6 -11.5,-1.7 -11.2,-0.9 -11,0 -11.2,0.9 -11.5,1.7 -11.8,2.6 -12,3.4 -12.3,4.3 -12.7,5.1 -13.2,6 -14,6.8 -15,7.7 -16,8.5 -18,9.4 -22.7,10.2 -42.8,11.1 -49.5,11.9 -49.5,12.8 49.5,12.8 49.5,11.9 42.8,11.1 22.7,10.2 18,9.4 16,8.5 15,7.7 14,6.8 13.2,6 12.7,5.1 12.3,4.3 12,3.4 11.8,2.6 11.5,1.7 11.2,0.9 11,0 11.2,-0.9 11.5,-1.7 11.8,-2.6 12,-3.4 12.3,-4.3 12.7,-5.1 13.2,-6 14,-6.8 15,-7.7 16,-8.5 18,-9.4 22.7,-10.2 42.8,-11.1 49.5,-11.9 49.5,-12.8Z" fill="#333333"/>
<path d="M-29.7,-12.8 -29.7,-11.9 -26.6,-11.1 -18.8,-10.2 -15.8,-9.4 -14.2,-8.5 -13.2,-7.7 -12.3,-6.8 -11.5,-6 -11.1,-5.1 -10.7,-4.3 -10.4,-3.4 -10.1,-2.6 -9.8,-1.7 -9.5,-0.9 -9.3,0 -9.5,0.9 -9.8,1.7 -10.1,2.6 -10.4,3.4 -10.7,4.3 -11.1,5.1 -11.5,6 -12.3,6.8 -13.2,7.7 -14.2,8.5 -15.8,9.4 -18.8,10.2 -26.6,11.1 -29.7,11.9 -29.7,12.8 29.7,12.8 29.7,11.9 26.6,11.1 18.8,10.2 15.8,9.4 14.2,8.5 13.2,7.7 12.3,6.8 11.5,6 11.1,5.1 10.7,4.3 10.4,3.4 10.1,2.6 9.8,1.7 9.5,0.9 9.3,0 9.5,-0.9 9.8,-1.7 10.1,-2.6 10.4,-3.4 10.7,-4.3 11.1,-5.1 11.5,-6 12.3,-6.8 13.2,-7.7 14.2,-8.5 15.8,-9.4 18.8,-10.2 26.6,-11.1 29.7,-11.9 29.7,-12.8Z" fill="#4c4c4c"/>
<path d="M-24.3,-12.8 -24.3,-11.9 -22.2,-11.1 -16.9,-10.2 -14.4,-9.4 -13,-8.5 -12,-7.7 -11,-6.8 -10.2,-6 -9.8,-5.1 -9.4,-4.3 -9.1,-3.4 -8.8,-2.6 -8.5,-1.7 -8.2,-0.9 -7.9,0 -8.2,0.9 -8.5,1.7 -8.8,2.6 -9.1,3.4 -9.4,4.3 -9.8,5.1 -10.2,6 -11,6.8 -12,7.7 -13,8.5 -14.4,9.4 -16.9,10.2 -22.2,11.1 -24.3,11.9 -24.3,12.8 24.3,12.8 24.3,11.9 22.2,11.1 16.9,10.2 14.4,9.4 13,8.5 12,7.7 11,6.8 10.2,6 9.8,5.1 9.4,4.3 9.1,3.4 8.8,2.6 8.5,1.7 8.2,0.9 7.9,0 8.2,-0.9 8.5,-1.7 8.8,-2.6 9.1,-3.4 9.4,-4.3 9.8,-5.1 10.2,-6 11,-6.8 12,-7.7 13,-8.5 14.4,-9.4 16.9,-10.2 22.2,-11.1 24.3,-11.9 24.3,-12.8Z" fill="#5e5e5e"/>
<path d="M-19.7,-12.8 -19.7,-11.9 -18.3,-11.1 -14.9,-10.2 -12.8,-9.4 -11.6,-8.5 -10.6,-7.7 -9.6,-6.8 -8.9,-6 -8.4,-5.1 -8,-4.3 -7.7,-3.4 -7.4,-2.6 -7.1,-1.7 -6.8,-0.9 -6.5,0 -6.8,0.9 -7.1,1.7 -7.4,2.6 -7.7,3.4 -8,4.3 -8.4,5.1 -8.9,6 -9.6,6.8 -10.6,7.7 -11.6,8.5 -12.8,9.4 -14.9,10.2 -18.3,11.1 -19.7,11.9 -19.7,12.8 19.7,12.8 19.7,11.9 18.3,11.1 14.9,10.2 12.8,9.4 11.6,8.5 10.6,7.7 9.6,6.8 8.9,6 8.4,5.1 8,4.3 7.7,3.4 7.4,2.6 7.1,1.7 6.8,0.9 6.5,0 6.8,-0.9 7.1,-1.7 7.4,-2.6 7.7,-3.4 8,-4.3 8.4,-5.1 8.9,-6 9.6,-6.8 10.6,-7.7 11.6,-8.5 12.8,-9.4 14.9,-10.2 18.3,-11.1 19.7,-11.9 19.7,-12.8Z" fill="#737373"/>
<path d="M-16.9,-12.8 -16.9,-11.9 -15.8,-11.1 -13.2,-10.2 -11.3,-9.4 -10.2,-8.5 -9.2,-7.7 -8.3,-6.8 -7.6,-6 -7.1,-5.1 -6.7,-4.3 -6.4,-3.4 -6.1,-2.6 -5.8,-1.7 -5.5,-0.9 -5.1,0 -5.5,0.9 -5.8,1.7 -6.1,2.6 -6.4,3.4 -6.7,4.3 -7.1,5.1 -7.6,6 -8.3,6.8 -9.2,7.7 -10.2,8.5 -11.3,9.4 -13.2,10.2 -15.8,11.1 -16.9,11.9 -16.9,12.8 16.9,12.8 16.9,11.9 15.8,11.1 13.2,10.2 11.3,9.4 10.2,8.5 9.2,7.7 8.3,6.8 7.6,6 7.1,5.1 6.7,4.3 6.4,3.4 6.1,2.6 5.8,1.7 5.5,0.9 5.1,0 5.5,-0.9 5.8,-1.7 6.1,-2.6 6.4,-3.4 6.7,-4.3 7.1,-5.1 7.6,-6 8.3,-6.8 9.2,-7.7 10.2,-8.5 11.3,-9.4 13.2,-10.2 15.8,-11.1 16.9,-11.9 16.9,-12.8Z" fill="#858585"/>
<path d="M-15.1,-12.8 -15.1,-11.9 -14,-11.1 -11.4,-10.2 -9.5,-9.4 -8.4,-8.5 -7.6,-7.7 -6.7,-6.8 -6,-6 -5.6,-5.1 -5.2,-4.3 -4.9,-3.4 -4.6,-2.6 -4.3,-1.7 -4,-0.9 -3.7,0 -4,0.9 -4.3,1.7 -4.6,2.6 -4.9,3.4 -5.2,4.3 -5.6,5.1 -6,6 -6.7,6.8 -7.6,7.7 -8.4,8.5 -9.5,9.4 -11.4,10.2 -14,11.1 -15.1,11.9 -15.1,12.8 15.1,12.8 15.1,11.9 14,11.1 11.4,10.2 9.5,9.4 8.4,8.5 7.6,7.7 6.7,6.8 6,6 5.6,5.1 5.2,4.3 4.9,3.4 4.6,2.6 4.3,1.7 4,0.9 3.7,0 4,-0.9 4.3,-1.7 4.6,-2.6 4.9,-3.4 5.2,-4.3 5.6,-5.1 6,-6 6.7,-6.8 7.6,-7.7 8.4,-8.5 9.5,-9.4 11.4,-10.2 14,-11.1 15.1,-11.9 15.1,-12.8Z" fill="#949494"/>
<path d="M-13.1,-12.8 -13.1,-11.9 -12.3,-11.1 -10.1,-10.2 -8.7,-9.4 -7.6,-8.5 -6.7,-7.7 -5.8,-6.8 -5,-6 -4.4,-5.1 -3.7,-4.3 -3.1,-3.4 -2.5,-2.6 -2,-1.7 -1.5,-0.9 -1,0 -1.5,0.9 -2,1.7 -2.5,2.6 -3.1,3.4 -3.7,4.3 -4.4,5.1 -5,6 -5.8,6.8 -6.7,7.7 -7.6,8.5 -8.7,9.4 -10.1,10.2 -12.3,11.1 -13.1,11.9 -13.1,12.8 13.1,12.8 13.1,11.9 12.3,11.1 10.1,10.2 8.7,9.4 7.6,8.5 6.7,7.7 5.8,6.8 5,6 4.4,5.1 3.7,4.3 3.1,3.4 2.5,2.6 2,1.7 1.5,0.9 1,0 1.5,-0.9 2,-1.7 2.5,-2.6 3.1,-3.4 3.7,-4.3 4.4,-5.1 5,-6 5.8,-6.8 6.7,-7.7 7.6,-8.5 8.7,-9.4 10.1,-10.2 12.3,-11.1 13.1,-11.9 13.1,-12.8Z" fill="#a3a3a3"/>
<path d="M-11,-12.8 -11,-11.9 -10.2,-11.1 -8.3,-10.2 -6.8,-9.4 -5.9,-8.5 -5.1,-7.7 -4.3,-6.8 -3.5,-6 -2.9,-5.1 -2.3,-4.3 -1.8,-3.4 -1.3,-2.6 -1,-1.7 -0.9,-0.9 -0.7,0 -0.9,0.9 -1,1.7 -1.3,2.6 -1.8,3.4 -2.3,4.3 -2.9,5.1 -3.5,6 -4.3,6.8 -5.1,7.7 -5.9,8.5 -6.8,9.4 -8.3,10.2 -10.2,11.1 -11,11.9 -11,12.8 11,12.8 11,11.9 10.2,11.1 8.3,10.2 6.8,9.4 5.9,8.5 5.1,7.7 4.3,6.8 3.5,6 2.9,5.1 2.3,4.3 1.8,3.4 1.3,2.6 1,1.7 0.9,0.9 0.7,0 0.9,-0.9 1,-1.7 1.3,-2.6 1.8,-3.4 2.3,-4.3 2.9,-5.1 3.5,-6 4.3,-6.8 5.1,-7.7 5.9,-8.5 6.8,-9.4 8.3,-10.2 10.2,-11.1 11,-11.9 11,-12.8Z" fill="#b2b2b2"/>
<path d="M-9.1,-12.8 -9.1,-11.9 -8.4,-11.1 -6.7,-10.2 -5.4,-9.4 -4.4,-8.5 -3.5,-7.7 -2.7,-6.8 -2,-6 -1.5,-5.1 -1.1,-4.3 -0.8,-3.4 -0.5,-2.6 -0.4,-1.7 -0.4,1.7 -0.5,2.6 -0.8,3.4 -1.1,4.3 -1.5,5.1 -2,6 -2.7,6.8 -3.5,7.7 -4.4,8.5 -5.4,9.4 -6.7,10.2 -8.4,11.1 -9.1,11.9 -9.1,12.8 9.1,12.8 9.1,11.9 8.4,11.1 6.7,10.2 5.4,9.4 4.4,8.5 3.5,7.7 2.7,6.8 2,6 1.5,5.1 1.1,4.3 0.8,3.4 0.5,2.6 0.4,1.7 0.4,-1.7 0.5,-2.6 0.8,-3.4 1.1,-4.3 1.5,-5.1 2,-6 2.7,-6.8 3.5,-7.7 4.4,-8.5 5.4,-9.4 6.7,-10.2 8.4,-11.1 9.1,-11.9 9.1,-12.8Z" fill="#c2c2c2"/>
<path d="M-7.9,-12.8 -7.9,-11.9 -7.3,-11.1 -5.8,-10.2 -4.5,-9.4 -3.5,-8.5 -2.5,-7.7 -1.6,-6.8 -0.9,-6 -0.6,-5.1 -0.3,-4.3 -0.2,-3.4 0,-2.6 0,2.6 -0.2,3.4 -0.3,4.3 -0.6,5.1 -0.9,6 -1.6,6.8 -2.5,7.7 -3.5,8.5 -4.5,9.4 -5.8,10.2 -7.3,11.1 -7.9,11.9 -7.9,12.8 7.9,12.8 7.9,11.9 7.3,11.1 5.8,10.2 4.5,9.4 3.5,8.5 2.5,7.7 1.6,6.8 0.9,6 0.6,5.1 0.3,4.3 0.2,3.4 0,2.6 0,-2.6 0.2,-3.4 0.3,-4.3 0.6,-5.1 0.9,-6 1.6,-6.8 2.5,-7.7 3.5,-8.5 4.5,-9.4 5.8,-10.2 7.3,-11.1 7.9,-11.9 7.9,-12.8Z" fill="#cccccc"/>
<path d="M-6,-12.8 -6,-11.9 -5.6,-11.1 -4.4,-10.2 -3.3,-9.4 -2.4,-8.5 -1.5,-7.7 -0.6,-6.8 0,-6 0,6 -0.6,6.8 -1.5,7.7 -2.4,8.5 -3.3,9.4 -4.4,10.2 -5.6,11.1 -6,11.9 -6,12.8 6,12.8 6,11.9 5.6,11.1 4.4,10.2 3.3,9.4 2.4,8.5 1.5,7.7 0.6,6.8 0,6 0,-6 0.6,-6.8 1.5,-7.7 2.4,-8.5 3.3,-9.4 4.4,-10.2 5.6,-11.1 6,-11.9 6,-12.8Z" fill="#d6d6d6"/>
</g></g></g>
<filter id="hm8" filterUnits="userSpaceOnUse" x="31.2" y="501.7" width="139.4" height="22.8" color-interpolation-filters="sRGB"><feGaussianBlur stdDeviation="1.1"/><feComponentTransfer><feFuncR type="table" tableValues="0 0 0 0 0.5 1 1 1 0.5"/><feFuncG type="table" tableValues="0 0 0.5 1 1 1 0.5 0 0"/><feFuncB type="table" tableValues="0.5 1 1 1 0.5 0 0 0 0"/><feFuncA type="table" tableValues="1 1"/></feComponentTransfer></filter>
<clipPath id="chm8"><rect x="31.2" y="501.7" width="139.4" height="22.8"/></clipPath>
<g clip-path="url(#chm8)"><g filter="url(#hm8)">
<rect x="31.2" y="501.7" width="139.4" height="22.8" fill="#080808"/>
<g transform="translate(100.90,513.10)">
<path d="M-75,-12.8 -75,-10.2 -52.9,-9.4 -29.3,-8.5 -20.7,-7.7 -17.7,-6.8 -16.2,-6 -15.3,-5.1 -14.6,-4.3 -14.3,-3.4 -14,-2.6 -13.7,-1.7 -13.3,-0.9 -13,0 -13.3,0.9 -13.7,1.7 -14,2.6 -14.3,3.4 -14.6,4.3 -15.3,5.1 -16.2,6 -17.7,6.8 -20.7,7.7 -29.3,8.5 -52.9,9.4 -75,10.2 -75,12.8 75,12.8 75,10.2 52.9,9.4 29.3,8.5 20.7,7.7 17.7,6.8 16.2,6 15.3,5.1 14.6,4.3 14.3,3.4 14,2.6 13.7,1.7 13.3,0.9 13,0 13.3,-0.9 13.7,-1.7 14,-2.6 14.3,-3.4 14.6,-4.3 15.3,-5.1 16.2,-6 17.7,-6.8 20.7,-7.7 29.3,-8.5 52.9,-9.4 75,-10.2 75,-12.8Z" fill="#1a1a1a"/>
<path d="M-60,-12.8 -60,-11.9 -51.2,-11.1 -24.7,-10.2 -18.7,-9.4 -16.2,-8.5 -15.1,-7.7 -14,-6.8 -13.1,-6 -12.6,-5.1 -12.1,-4.3 -11.8,-3.4 -11.5,-2.6 -11.2,-1.7 -10.9,-0.9 -10.6,0 -10.9,0.9 -11.2,1.7 -11.5,2.6 -11.8,3.4 -12.1,4.3 -12.6,5.1 -13.1,6 -14,6.8 -15.1,7.7 -16.2,8.5 -18.7,9.4 -24.7,10.2 -51.2,11.1 -60,11.9 -60,12.8 60,12.8 60,11.9 51.2,11.1 24.7,10.2 18.7,9.4 16.2,8.5 15.1,7.7 14,6.8 13.1,6 12.6,5.1 12.1,4.3 11.8,3.4 11.5,2.6 11.2,1.7 10.9,0.9 10.6,0 10.9,-0.9 11.2,-1.7 11.5,-2.6 11.8,-3.4 12.1,-4.3 12.6,-5.1 13.1,-6 14,-6.8 15.1,-7.7 16.2,-8.5 18.7,-9.4 24.7,-10.2 51.2,-11.1 60,-11.9 60,-12.8Z" fill="#333333"/>
<path d="M-34,-12.8 -34,-11.9 -29.9,-11.1 -19.8,-10.2 -16.1,-9.4 -14.3,-8.5 -13.3,-7.7 -12.3,-6.8 -11.5,-6 -10.9,-5.1 -10.5,-4.3 -10.2,-3.4 -9.9,-2.6 -9.6,-1.7 -9.3,-0.9 -9,0 -9.3,0.9 -9.6,1.7 -9.9,2.6 -10.2,3.4 -10.5,4.3 -10.9,5.1 -11.5,6 -12.3,6.8 -13.3,7.7 -14.3,8.5 -16.1,9.4 -19.8,10.2 -29.9,11.1 -34,11.9 -34,12.8 34,12.8 34,11.9 29.9,11.1 19.8,10.2 16.1,9.4 14.3,8.5 13.3,7.7 12.3,6.8 11.5,6 10.9,5.1 10.5,4.3 10.2,3.4 9.9,2.6 9.6,1.7 9.3,0.9 9,0 9.3,-0.9 9.6,-1.7 9.9,-2.6 10.2,-3.4 10.5,-4.3 10.9,-5.1 11.5,-6 12.3,-6.8 13.3,-7.7 14.3,-8.5 16.1,-9.4 19.8,-10.2 29.9,-11.1 34,-11.9 34,-12.8Z" fill="#4c4c4c"/>
<path d="M-27,-12.8 -27,-11.9 -24.2,-11.1 -17.4,-10.2 -14.4,-9.4 -12.9,-8.5 -11.9,-7.7 -10.9,-6.8 -10.1,-6 -9.6,-5.1 -9.1,-4.3 -8.8,-3.4 -8.5,-2.6 -8.2,-1.7 -8,-0.9 -7.7,0 -8,0.9 -8.2,1.7 -8.5,2.6 -8.8,3.4 -9.1,4.3 -9.6,5.1 -10.1,6 -10.9,6.8 -11.9,7.7 -12.9,8.5 -14.4,9.4 -17.4,10.2 -24.2,11.1 -27,11.9 -27,12.8 27,12.8 27,11.9 24.2,11.1 17.4,10.2 14.4,9.4 12.9,8.5 11.9,7.7 10.9,6.8 10.1,6 9.6,5.1 9.1,4.3 8.8,3.4 8.5,2.6 8.2,1.7 8,0.9 7.7,0 8,-0.9 8.2,-1.7 8.5,-2.6 8.8,-3.4 9.1,-4.3 9.6,-5.1 10.1,-6 10.9,-6.8 11.9,-7.7 12.9,-8.5 14.4,-9.4 17.4,-10.2 24.2,-11.1 27,-11.9 27,-12.8Z" fill="#5e5e5e"/>
<path d="M-21.5,-12.8 -21.5,-11.9 -19.7,-11.1 -15.4,-10.2 -12.9,-9.4 -11.5,-8.5 -10.5,-7.7 -9.5,-6.8 -8.7,-6 -8.2,-5.1 -7.7,-4.3 -7.4,-3.4 -7.1,-2.6 -6.8,-1.7 -6.5,-0.9 -6.2,0 -6.5,0.9 -6.8,1.7 -7.1,2.6 -7.4,3.4 -7.7,4.3 -8.2,5.1 -8.7,6 -9.5,6.8 -10.5,7.7 -11.5,8.5 -12.9,9.4 -15.4,10.2 -19.7,11.1 -21.5,11.9 -21.5,12.8 21.5,12.8 21.5,11.9 19.7,11.1 15.4,10.2 12.9,9.4 11.5,8.5 10.5,7.7 9.5,6.8 8.7,6 8.2,5.1 7.7,4.3 7.4,3.4 7.1,2.6 6.8,1.7 6.5,0.9 6.2,0 6.5,-0.9 6.8,-1.7 7.1,-2.6 7.4,-3.4 7.7,-4.3 8.2,-5.1 8.7,-6 9.5,-6.8 10.5,-7.7 11.5,-8.5 12.9,-9.4 15.4,-10.2 19.7,-11.1 21.5,-11.9 21.5,-12.8Z" fill="#737373"/>
<path d="M-18.4,-12.8 -18.4,-11.9 -17.1,-11.1 -13.8,-10.2 -11.5,-9.4 -10.2,-8.5 -9.2,-7.7 -8.2,-6.8 -7.4,-6 -6.9,-5.1 -6.4,-4.3 -6.1,-3.4 -5.7,-2.6 -5.4,-1.7 -5,-0.9 -4.7,0 -5,0.9 -5.4,1.7 -5.7,2.6 -6.1,3.4 -6.4,4.3 -6.9,5.1 -7.4,6 -8.2,6.8 -9.2,7.7 -10.2,8.5 -11.5,9.4 -13.8,10.2 -17.1,11.1 -18.4,11.9 -18.4,12.8 18.4,12.8 18.4,11.9 17.1,11.1 13.8,10.2 11.5,9.4 10.2,8.5 9.2,7.7 8.2,6.8 7.4,6 6.9,5.1 6.4,4.3 6.1,3.4 5.7,2.6 5.4,1.7 5,0.9 4.7,0 5,-0.9 5.4,-1.7 5.7,-2.6 6.1,-3.4 6.4,-4.3 6.9,-5.1 7.4,-6 8.2,-6.8 9.2,-7.7 10.2,-8.5 11.5,-9.4 13.8,-10.2 17.1,-11.1 18.4,-11.9 18.4,-12.8Z" fill="#858585"/>
<path d="M-16.5,-12.8 -16.5,-11.9 -15.2,-11.1 -11.9,-10.2 -9.6,-9.4 -8.4,-8.5 -7.5,-7.7 -6.6,-6.8 -5.8,-6 -5.3,-5.1 -4.8,-4.3 -4.5,-3.4 -4.2,-2.6 -3.9,-1.7 -3.5,-0.9 -3.2,0 -3.5,0.9 -3.9,1.7 -4.2,2.6 -4.5,3.4 -4.8,4.3 -5.3,5.1 -5.8,6 -6.6,6.8 -7.5,7.7 -8.4,8.5 -9.6,9.4 -11.9,10.2 -15.2,11.1 -16.5,11.9 -16.5,12.8 16.5,12.8 16.5,11.9 15.2,11.1 11.9,10.2 9.6,9.4 8.4,8.5 7.5,7.7 6.6,6.8 5.8,6 5.3,5.1 4.8,4.3 4.5,3.4 4.2,2.6 3.9,1.7 3.5,0.9 3.2,0 3.5,-0.9 3.9,-1.7 4.2,-2.6 4.5,-3.4 4.8,-4.3 5.3,-5.1 5.8,-6 6.6,-6.8 7.5,-7.7 8.4,-8.5 9.6,-9.4 11.9,-10.2 15.2,-11.1 16.5,-11.9 16.5,-12.8Z" fill="#949494"/>
<path d="M-14.5,-12.8 -14.5,-11.9 -13.4,-11.1 -10.7,-10.2 -9,-9.4 -7.8,-8.5 -6.8,-7.7 -5.8,-6.8 -4.9,-6 -4.1,-5.1 -3.3,-4.3 -2.5,-3.4 -1.8,-2.6 -1.1,-1.7 -0.6,-0.9 0,0 -0.6,0.9 -1.1,1.7 -1.8,2.6 -2.5,3.4 -3.3,4.3 -4.1,5.1 -4.9,6 -5.8,6.8 -6.8,7.7 -7.8,8.5 -9,9.4 -10.7,10.2 -13.4,11.1 -14.5,11.9 -14.5,12.8 14.5,12.8 14.5,11.9 13.4,11.1 10.7,10.2 9,9.4 7.8,8.5 6.8,7.7 5.8,6.8 4.9,6 4.1,5.1 3.3,4.3 2.5,3.4 1.8,2.6 1.1,1.7 0.6,0.9 0,0 0.6,-0.9 1.1,-1.7 1.8,-2.6 2.5,-3.4 3.3,-4.3 4.1,-5.1 4.9,-6 5.8,-6.8 6.8,-7.7 7.8,-8.5 9,-9.4 10.7,-10.2 13.4,-11.1 14.5,-11.9 14.5,-12.8Z" fill="#a3a3a3"/>
<path d="M-12.2,-12.8 -12.2,-11.9 -11.3,-11.1 -8.8,-10.2 -7.1,-9.4 -6,-8.5 -5.1,-7.7 -4.3,-6.8 -3.4,-6 -2.6,-5.1 -1.9,-4.3 -1.2,-3.4 -0.6,-2.6 -0.3,-1.7 -0.1,-0.9 0,0 -0.1,0.9 -0.3,1.7 -0.6,2.6 -1.2,3.4 -1.9,4.3 -2.6,5.1 -3.4,6 -4.3,6.8 -5.1,7.7 -6,8.5 -7.1,9.4 -8.8,10.2 -11.3,11.1 -12.2,11.9 -12.2,12.8 12.2,12.8 12.2,11.9 11.3,11.1 8.8,10.2 7.1,9.4 6,8.5 5.1,7.7 4.3,6.8 3.4,6 2.6,5.1 1.9,4.3 1.2,3.4 0.6,2.6 0.3,1.7 0.1,0.9 0,0 0.1,-0.9 0.3,-1.7 0.6,-2.6 1.2,-3.4 1.9,-4.3 2.6,-5.1 3.4,-6 4.3,-6.8 5.1,-7.7 6,-8.5 7.1,-9.4 8.8,-10.2 11.3,-11.1 12.2,-11.9 12.2,-12.8Z" fill="#b2b2b2"/>
<path d="M-10.3,-12.8 -10.3,-11.9 -9.5,-11.1 -7.4,-10.2 -5.8,-9.4 -4.7,-8.5 -3.7,-7.7 -2.8,-6.8 -2,-6 -1.4,-5.1 -0.9,-4.3 -0.5,-3.4 -0.1,-2.6 0,-1.7 0,1.7 -0.1,2.6 -0.5,3.4 -0.9,4.3 -1.4,5.1 -2,6 -2.8,6.8 -3.7,7.7 -4.7,8.5 -5.8,9.4 -7.4,10.2 -9.5,11.1 -10.3,11.9 -10.3,12.8 10.3,12.8 10.3,11.9 9.5,11.1 7.4,10.2 5.8,9.4 4.7,8.5 3.7,7.7 2.8,6.8 2,6 1.4,5.1 0.9,4.3 0.5,3.4 0.1,2.6 0,1.7 0,-1.7 0.1,-2.6 0.5,-3.4 0.9,-4.3 1.4,-5.1 2,-6 2.8,-6.8 3.7,-7.7 4.7,-8.5 5.8,-9.4 7.4,-10.2 9.5,-11.1 10.3,-11.9 10.3,-12.8Z" fill="#c2c2c2"/>
<path d="M-9.2,-12.8 -9.2,-11.9 -8.5,-11.1 -6.7,-10.2 -5.1,-9.4 -3.9,-8.5 -2.9,-7.7 -1.8,-6.8 -1,-6 -0.7,-5.1 -0.5,-4.3 -0.3,-3.4 -0.1,-2.6 0,-1.7 0,1.7 -0.1,2.6 -0.3,3.4 -0.5,4.3 -0.7,5.1 -1,6 -1.8,6.8 -2.9,7.7 -3.9,8.5 -5.1,9.4 -6.7,10.2 -8.5,11.1 -9.2,11.9 -9.2,12.8 9.2,12.8 9.2,11.9 8.5,11.1 6.7,10.2 5.1,9.4 3.9,8.5 2.9,7.7 1.8,6.8 1,6 0.7,5.1 0.5,4.3 0.3,3.4 0.1,2.6 0,1.7 0,-1.7 0.1,-2.6 0.3,-3.4 0.5,-4.3 0.7,-5.1 1,-6 1.8,-6.8 2.9,-7.7 3.9,-8.5 5.1,-9.4 6.7,-10.2 8.5,-11.1 9.2,-11.9 9.2,-12.8Z" fill="#cccccc"/>
<path d="M-8,-12.8 -8,-11.9 -7.4,-11.1 -5.9,-10.2 -4.4,-9.4 -3.2,-8.5 -2,-7.7 -0.8,-6.8 0,-6 0,6 -0.8,6.8 -2,7.7 -3.2,8.5 -4.4,9.4 -5.9,10.2 -7.4,11.1 -8,11.9 -8,12.8 8,12.8 8,11.9 7.4,11.1 5.9,10.2 4.4,9.4 3.2,8.5 2,7.7 0.8,6.8 0,6 0,-6 0.8,-6.8 2,-7.7 3.2,-8.5 4.4,-9.4 5.9,-10.2 7.4,-11.1 8,-11.9 8,-12.8Z" fill="#d6d6d6"/>
</g></g></g>
<filter id="hm9" filterUnits="userSpaceOnUse" x="214.6" y="501.7" width="139.4" height="22.8" color-interpolation-filters="sRGB"><feGaussianBlur stdDeviation="1.1"/><feComponentTransfer><feFuncR type="table" tableValues="0 0 0 0 0.5 1 1 1 0.5"/><feFuncG type="table" tableValues="0 0 0.5 1 1 1 0.5 0 0"/><feFuncB type="table" tableValues="0.5 1 1 1 0.5 0 0 0 0"/><feFuncA type="table" tableValues="1 1"/></feComponentTransfer></filter>
<clipPath id="chm9"><rect x="214.6" y="501.7" width="139.4" height="22.8"/></clipPath>
<g clip-path="url(#chm9)"><g filter="url(#hm9)">
<rect x="214.6" y="501.7" width="139.4" height="22.8" fill="#080808"/>
<g transform="translate(284.30,513.10)">
<path d="M-75,-12.8 -75,-10.2 -62.2,-9.4 -29.1,-8.5 -20.7,-7.7 -17.8,-6.8 -16.4,-6 -15.6,-5.1 -15,-4.3 -14.7,-3.4 -14.3,-2.6 -14,-1.7 -13.7,-0.9 -13.4,0 -13.7,0.9 -14,1.7 -14.3,2.6 -14.7,3.4 -15,4.3 -15.6,5.1 -16.4,6 -17.8,6.8 -20.7,7.7 -29.1,8.5 -62.2,9.4 -75,10.2 -75,12.8 75,12.8 75,10.2 62.2,9.4 29.1,8.5 20.7,7.7 17.8,6.8 16.4,6 15.6,5.1 15,4.3 14.7,3.4 14.3,2.6 14,1.7 13.7,0.9 13.4,0 13.7,-0.9 14,-1.7 14.3,-2.6 14.7,-3.4 15,-4.3 15.6,-5.1 16.4,-6 17.8,-6.8 20.7,-7.7 29.1,-8.5 62.2,-9.4 75,-10.2 75,-12.8Z" fill="#1a1a1a"/>
<path d="M-67.5,-12.8 -67.5,-11.9 -60.9,-11.1 -40,-10.2 -20.7,-9.4 -17.2,-8.5 -15.6,-7.7 -14.4,-6.8 -13.4,-6 -12.7,-5.1 -12.2,-4.3 -11.9,-3.4 -11.6,-2.6 -11.3,-1.7 -11,-0.9 -10.8,0 -11,0.9 -11.3,1.7 -11.6,2.6 -11.9,3.4 -12.2,4.3 -12.7,5.1 -13.4,6 -14.4,6.8 -15.6,7.7 -17.2,8.5 -20.7,9.4 -40,10.2 -60.9,11.1 -67.5,11.9 -67.5,12.8 67.5,12.8 67.5,11.9 60.9,11.1 40,10.2 20.7,9.4 17.2,8.5 15.6,7.7 14.4,6.8 13.4,6 12.7,5.1 12.2,4.3 11.9,3.4 11.6,2.6 11.3,1.7 11,0.9 10.8,0 11,-0.9 11.3,-1.7 11.6,-2.6 11.9,-3.4 12.2,-4.3 12.7,-5.1 13.4,-6 14.4,-6.8 15.6,-7.7 17.2,-8.5 20.7,-9.4 40,-10.2 60.9,-11.1 67.5,-11.9 67.5,-12.8Z" fill="#333333"/>
<path d="M-48,-12.8 -48,-11.9 -39.1,-11.1 -21.3,-10.2 -16.8,-9.4 -14.7,-8.5 -13.7,-7.7 -12.6,-6.8 -11.7,-6 -11.1,-5.1 -10.7,-4.3 -10.4,-3.4 -10.1,-2.6 -9.7,-1.7 -9.4,-0.9 -9.1,0 -9.4,0.9 -9.7,1.7 -10.1,2.6 -10.4,3.4 -10.7,4.3 -11.1,5.1 -11.7,6 -12.6,6.8 -13.7,7.7 -14.7,8.5 -16.8,9.4 -21.3,10.2 -39.1,11.1 -48,11.9 -48,12.8 48,12.8 48,11.9 39.1,11.1 21.3,10.2 16.8,9.4 14.7,8.5 13.7,7.7 12.6,6.8 11.7,6 11.1,5.1 10.7,4.3 10.4,3.4 10.1,2.6 9.7,1.7 9.4,0.9 9.1,0 9.4,-0.9 9.7,-1.7 10.1,-2.6 10.4,-3.4 10.7,-4.3 11.1,-5.1 11.7,-6 12.6,-6.8 13.7,-7.7 14.7,-8.5 16.8,-9.4 21.3,-10.2 39.1,-11.1 48,-11.9 48,-12.8Z" fill="#4c4c4c"/>
<path d="M-31.8,-12.8 -31.8,-11.9 -28.2,-11.1 -19.6,-10.2 -15.5,-9.4 -13.8,-8.5 -12.6,-7.7 -11.4,-6.8 -10.4,-6 -9.8,-5.1 -9.3,-4.3 -9,-3.4 -8.7,-2.6 -8.4,-1.7 -8.1,-0.9 -7.8,0 -8.1,0.9 -8.4,1.7 -8.7,2.6 -9,3.4 -9.3,4.3 -9.8,5.1 -10.4,6 -11.4,6.8 -12.6,7.7 -13.8,8.5 -15.5,9.4 -19.6,10.2 -28.2,11.1 -31.8,11.9 -31.8,12.8 31.8,12.8 31.8,11.9 28.2,11.1 19.6,10.2 15.5,9.4 13.8,8.5 12.6,7.7 11.4,6.8 10.4,6 9.8,5.1 9.3,4.3 9,3.4 8.7,2.6 8.4,1.7 8.1,0.9 7.8,0 8.1,-0.9 8.4,-1.7 8.7,-2.6 9,-3.4 9.3,-4.3 9.8,-5.1 10.4,-6 11.4,-6.8 12.6,-7.7 13.8,-8.5 15.5,-9.4 19.6,-10.2 28.2,-11.1 31.8,-11.9 31.8,-12.8Z" fill="#5e5e5e"/>
<path d="M-22.6,-12.8 -22.6,-11.9 -20.8,-11.1 -16.1,-10.2 -13.1,-9.4 -11.7,-8.5 -10.6,-7.7 -9.5,-6.8 -8.6,-6 -8.1,-5.1 -7.6,-4.3 -7.3,-3.4 -7,-2.6 -6.7,-1.7 -6.4,-0.9 -6.1,0 -6.4,0.9 -6.7,1.7 -7,2.6 -7.3,3.4 -7.6,4.3 -8.1,5.1 -8.6,6 -9.5,6.8 -10.6,7.7 -11.7,8.5 -13.1,9.4 -16.1,10.2 -20.8,11.1 -22.6,11.9 -22.6,12.8 22.6,12.8 22.6,11.9 20.8,11.1 16.1,10.2 13.1,9.4 11.7,8.5 10.6,7.7 9.5,6.8 8.6,6 8.1,5.1 7.6,4.3 7.3,3.4 7,2.6 6.7,1.7 6.4,0.9 6.1,0 6.4,-0.9 6.7,-1.7 7,-2.6 7.3,-3.4 7.6,-4.3 8.1,-5.1 8.6,-6 9.5,-6.8 10.6,-7.7 11.7,-8.5 13.1,-9.4 16.1,-10.2 20.8,-11.1 22.6,-11.9 22.6,-12.8Z" fill="#737373"/>
<path d="M-19.3,-12.8 -19.3,-11.9 -17.9,-11.1 -14.3,-10.2 -11.7,-9.4 -10.2,-8.5 -9.1,-7.7 -7.9,-6.8 -6.9,-6 -6.2,-5.1 -5.6,-4.3 -5.1,-3.4 -4.7,-2.6 -4.3,-1.7 -3.9,-0.9 -3.5,0 -3.9,0.9 -4.3,1.7 -4.7,2.6 -5.1,3.4 -5.6,4.3 -6.2,5.1 -6.9,6 -7.9,6.8 -9.1,7.7 -10.2,8.5 -11.7,9.4 -14.3,10.2 -17.9,11.1 -19.3,11.9 -19.3,12.8 19.3,12.8 19.3,11.9 17.9,11.1 14.3,10.2 11.7,9.4 10.2,8.5 9.1,7.7 7.9,6.8 6.9,6 6.2,5.1 5.6,4.3 5.1,3.4 4.7,2.6 4.3,1.7 3.9,0.9 3.5,0 3.9,-0.9 4.3,-1.7 4.7,-2.6 5.1,-3.4 5.6,-4.3 6.2,-5.1 6.9,-6 7.9,-6.8 9.1,-7.7 10.2,-8.5 11.7,-9.4 14.3,-10.2 17.9,-11.1 19.3,-11.9 19.3,-12.8Z" fill="#858585"/>
<path d="M-17.4,-12.8 -17.4,-11.9 -16,-11.1 -12.5,-10.2 -10,-9.4 -8.6,-8.5 -7.4,-7.7 -6.3,-6.8 -5.4,-6 -4.7,-5.1 -4.2,-4.3 -3.7,-3.4 -3.3,-2.6 -3,-1.7 -2.7,-0.9 -2.4,0 -2.7,0.9 -3,1.7 -3.3,2.6 -3.7,3.4 -4.2,4.3 -4.7,5.1 -5.4,6 -6.3,6.8 -7.4,7.7 -8.6,8.5 -10,9.4 -12.5,10.2 -16,11.1 -17.4,11.9 -17.4,12.8 17.4,12.8 17.4,11.9 16,11.1 12.5,10.2 10,9.4 8.6,8.5 7.4,7.7 6.3,6.8 5.4,6 4.7,5.1 4.2,4.3 3.7,3.4 3.3,2.6 3,1.7 2.7,0.9 2.4,0 2.7,-0.9 3,-1.7 3.3,-2.6 3.7,-3.4 4.2,-4.3 4.7,-5.1 5.4,-6 6.3,-6.8 7.4,-7.7 8.6,-8.5 10,-9.4 12.5,-10.2 16,-11.1 17.4,-11.9 17.4,-12.8Z" fill="#949494"/>
<path d="M-15.4,-12.8 -15.4,-11.9 -14.2,-11.1 -11.2,-10.2 -9.1,-9.4 -7.7,-8.5 -6.6,-7.7 -5.4,-6.8 -4.4,-6 -3.5,-5.1 -2.8,-4.3 -2.1,-3.4 -1.4,-2.6 -0.9,-1.7 -0.4,-0.9 0,0 -0.4,0.9 -0.9,1.7 -1.4,2.6 -2.1,3.4 -2.8,4.3 -3.5,5.1 -4.4,6 -5.4,6.8 -6.6,7.7 -7.7,8.5 -9.1,9.4 -11.2,10.2 -14.2,11.1 -15.4,11.9 -15.4,12.8 15.4,12.8 15.4,11.9 14.2,11.1 11.2,10.2 9.1,9.4 7.7,8.5 6.6,7.7 5.4,6.8 4.4,6 3.5,5.1 2.8,4.3 2.1,3.4 1.4,2.6 0.9,1.7 0.4,0.9 0,0 0.4,-0.9 0.9,-1.7 1.4,-2.6 2.1,-3.4 2.8,-4.3 3.5,-5.1 4.4,-6 5.4,-6.8 6.6,-7.7 7.7,-8.5 9.1,-9.4 11.2,-10.2 14.2,-11.1 15.4,-11.9 15.4,-12.8Z" fill="#a3a3a3"/>
<path d="M-13.1,-12.8 -13.1,-11.9 -12,-11.1 -9.3,-10.2 -7.2,-9.4 -5.9,-8.5 -4.8,-7.7 -3.9,-6.8 -3,-6 -2.2,-5.1 -1.5,-4.3 -1,-3.4 -0.5,-2.6 -0.2,-1.7 -0.1,-0.9 0,0 -0.1,0.9 -0.2,1.7 -0.5,2.6 -1,3.4 -1.5,4.3 -2.2,5.1 -3,6 -3.9,6.8 -4.8,7.7 -5.9,8.5 -7.2,9.4 -9.3,10.2 -12,11.1 -13.1,11.9 -13.1,12.8 13.1,12.8 13.1,11.9 12,11.1 9.3,10.2 7.2,9.4 5.9,8.5 4.8,7.7 3.9,6.8 3,6 2.2,5.1 1.5,4.3 1,3.4 0.5,2.6 0.2,1.7 0.1,0.9 0,0 0.1,-0.9 0.2,-1.7 0.5,-2.6 1,-3.4 1.5,-4.3 2.2,-5.1 3,-6 3.9,-6.8 4.8,-7.7 5.9,-8.5 7.2,-9.4 9.3,-10.2 12,-11.1 13.1,-11.9 13.1,-12.8Z" fill="#b2b2b2"/>
<path d="M-11.2,-12.8 -11.2,-11.9 -10.2,-11.1 -7.8,-10.2 -5.8,-9.4 -4.5,-8.5 -3.4,-7.7 -2.5,-6.8 -1.7,-6 -1.1,-5.1 -0.7,-4.3 -0.4,-3.4 -0.1,-2.6 0,-1.7 0,1.7 -0.1,2.6 -0.4,3.4 -0.7,4.3 -1.1,5.1 -1.7,6 -2.5,6.8 -3.4,7.7 -4.5,8.5 -5.8,9.4 -7.8,10.2 -10.2,11.1 -11.2,11.9 -11.2,12.8 11.2,12.8 11.2,11.9 10.2,11.1 7.8,10.2 5.8,9.4 4.5,8.5 3.4,7.7 2.5,6.8 1.7,6 1.1,5.1 0.7,4.3 0.4,3.4 0.1,2.6 0,1.7 0,-1.7 0.1,-2.6 0.4,-3.4 0.7,-4.3 1.1,-5.1 1.7,-6 2.5,-6.8 3.4,-7.7 4.5,-8.5 5.8,-9.4 7.8,-10.2 10.2,-11.1 11.2,-11.9 11.2,-12.8Z" fill="#c2c2c2"/>
<path d="M-10,-12.8 -10,-11.9 -9.2,-11.1 -7,-10.2 -5.1,-9.4 -3.7,-8.5 -2.6,-7.7 -1.6,-6.8 -0.8,-6 -0.6,-5.1 -0.3,-4.3 -0.2,-3.4 0,-2.6 0,2.6 -0.2,3.4 -0.3,4.3 -0.6,5.1 -0.8,6 -1.6,6.8 -2.6,7.7 -3.7,8.5 -5.1,9.4 -7,10.2 -9.2,11.1 -10,11.9 -10,12.8 10,12.8 10,11.9 9.2,11.1 7,10.2 5.1,9.4 3.7,8.5 2.6,7.7 1.6,6.8 0.8,6 0.6,5.1 0.3,4.3 0.2,3.4 0,2.6 0,-2.6 0.2,-3.4 0.3,-4.3 0.6,-5.1 0.8,-6 1.6,-6.8 2.6,-7.7 3.7,-8.5 5.1,-9.4 7,-10.2 9.2,-11.1 10,-11.9 10,-12.8Z" fill="#cccccc"/>
<path d="M-8.8,-12.8 -8.8,-11.9 -8.1,-11.1 -6.2,-10.2 -4.3,-9.4 -3,-8.5 -1.8,-7.7 -0.7,-6.8 0,-6 0,6 -0.7,6.8 -1.8,7.7 -3,8.5 -4.3,9.4 -6.2,10.2 -8.1,11.1 -8.8,11.9 -8.8,12.8 8.8,12.8 8.8,11.9 8.1,11.1 6.2,10.2 4.3,9.4 3,8.5 1.8,7.7 0.7,6.8 0,6 0,-6 0.7,-6.8 1.8,-7.7 3,-8.5 4.3,-9.4 6.2,-10.2 8.1,-11.1 8.8,-11.9 8.8,-12.8Z" fill="#d6d6d6"/>
</g></g></g>
<filter id="hm10" filterUnits="userSpaceOnUse" x="399.0" y="501.7" width="139.4" height="22.8" color-interpolation-filters="sRGB"><feGaussianBlur stdDeviation="1.1"/><feComponentTransfer><feFuncR type="table" tableValues="0 0 0 0 0.5 1 1 1 0.5"/><feFuncG type="table" tableValues="0 0 0.5 1 1 1 0.5 0 0"/><feFuncB type="table" tableValues="0.5 1 1 1 0.5 0 0 0 0"/><feFuncA type="table" tableValues="1 1"/></feComponentTransfer></filter>
<clipPath id="chm10"><rect x="399.0" y="501.7" width="139.4" height="22.8"/></clipPath>
<g clip-path="url(#chm10)"><g filter="url(#hm10)">
<rect x="399.0" y="501.7" width="139.4" height="22.8" fill="#080808"/>
<g transform="translate(468.70,513.10)">
<path d="M-75,-12.8 -75,-10.2 -71.5,-9.4 -28.9,-8.5 -20.8,-7.7 -18,-6.8 -16.7,-6 -15.9,-5.1 -15.3,-4.3 -15,-3.4 -14.7,-2.6 -14.4,-1.7 -14.1,-0.9 -13.8,0 -14.1,0.9 -14.4,1.7 -14.7,2.6 -15,3.4 -15.3,4.3 -15.9,5.1 -16.7,6 -18,6.8 -20.8,7.7 -28.9,8.5 -71.5,9.4 -75,10.2 -75,12.8 75,12.8 75,10.2 71.5,9.4 28.9,8.5 20.8,7.7 18,6.8 16.7,6 15.9,5.1 15.3,4.3 15,3.4 14.7,2.6 14.4,1.7 14.1,0.9 13.8,0 14.1,-0.9 14.4,-1.7 14.7,-2.6 15,-3.4 15.3,-4.3 15.9,-5.1 16.7,-6 18,-6.8 20.8,-7.7 28.9,-8.5 71.5,-9.4 75,-10.2 75,-12.8Z" fill="#1a1a1a"/>
<path d="M-75,-12.8 -75,-11.9 -70.6,-11.1 -55.3,-10.2 -22.7,-9.4 -18.1,-8.5 -16.2,-7.7 -14.7,-6.8 -13.6,-6 -12.9,-5.1 -12.4,-4.3 -12.1,-3.4 -11.8,-2.6 -11.5,-1.7 -11.2,-0.9 -10.9,0 -11.2,0.9 -11.5,1.7 -11.8,2.6 -12.1,3.4 -12.4,4.3 -12.9,5.1 -13.6,6 -14.7,6.8 -16.2,7.7 -18.1,8.5 -22.7,9.4 -55.3,10.2 -70.6,11.1 -75,11.9 -75,12.8 75,12.8 75,11.9 70.6,11.1 55.3,10.2 22.7,9.4 18.1,8.5 16.2,7.7 14.7,6.8 13.6,6 12.9,5.1 12.4,4.3 12.1,3.4 11.8,2.6 11.5,1.7 11.2,0.9 10.9,0 11.2,-0.9 11.5,-1.7 11.8,-2.6 12.1,-3.4 12.4,-4.3 12.9,-5.1 13.6,-6 14.7,-6.8 16.2,-7.7 18.1,-8.5 22.7,-9.4 55.3,-10.2 70.6,-11.1 75,-11.9 75,-12.8Z" fill="#333333"/>
<path d="M-62,-12.8 -62,-11.9 -48.2,-11.1 -22.7,-10.2 -17.5,-9.4 -15.2,-8.5 -14,-7.7 -12.9,-6.8 -11.9,-6 -11.4,-5.1 -10.9,-4.3 -10.5,-3.4 -10.2,-2.6 -9.9,-1.7 -9.6,-0.9 -9.2,0 -9.6,0.9 -9.9,1.7 -10.2,2.6 -10.5,3.4 -10.9,4.3 -11.4,5.1 -11.9,6 -12.9,6.8 -14,7.7 -15.2,8.5 -17.5,9.4 -22.7,10.2 -48.2,11.1 -62,11.9 -62,12.8 62,12.8 62,11.9 48.2,11.1 22.7,10.2 17.5,9.4 15.2,8.5 14,7.7 12.9,6.8 11.9,6 11.4,5.1 10.9,4.3 10.5,3.4 10.2,2.6 9.9,1.7 9.6,0.9 9.2,0 9.6,-0.9 9.9,-1.7 10.2,-2.6 10.5,-3.4 10.9,-4.3 11.4,-5.1 11.9,-6 12.9,-6.8 14,-7.7 15.2,-8.5 17.5,-9.4 22.7,-10.2 48.2,-11.1 62,-11.9 62,-12.8Z" fill="#4c4c4c"/>
<path d="M-36.6,-12.8 -36.6,-11.9 -32.1,-11.1 -21.8,-10.2 -16.5,-9.4 -14.7,-8.5 -13.3,-7.7 -11.9,-6.8 -10.8,-6 -10.1,-5.1 -9.5,-4.3 -9.2,-3.4 -8.9,-2.6 -8.6,-1.7 -8.3,-0.9 -7.9,0 -8.3,0.9 -8.6,1.7 -8.9,2.6 -9.2,3.4 -9.5,4.3 -10.1,5.1 -10.8,6 -11.9,6.8 -13.3,7.7 -14.7,8.5 -16.5,9.4 -21.8,10.2 -32.1,11.1 -36.6,11.9 -36.6,12.8 36.6,12.8 36.6,11.9 32.1,11.1 21.8,10.2 16.5,9.4 14.7,8.5 13.3,7.7 11.9,6.8 10.8,6 10.1,5.1 9.5,4.3 9.2,3.4 8.9,2.6 8.6,1.7 8.3,0.9 7.9,0 8.3,-0.9 8.6,-1.7 8.9,-2.6 9.2,-3.4 9.5,-4.3 10.1,-5.1 10.8,-6 11.9,-6.8 13.3,-7.7 14.7,-8.5 16.5,-9.4 21.8,-10.2 32.1,-11.1 36.6,-11.9 36.6,-12.8Z" fill="#5e5e5e"/>
<path d="M-23.8,-12.8 -23.8,-11.9 -21.8,-11.1 -16.8,-10.2 -13.3,-9.4 -11.9,-8.5 -10.7,-7.7 -9.5,-6.8 -8.6,-6 -8,-5.1 -7.5,-4.3 -7.2,-3.4 -6.9,-2.6 -6.6,-1.7 -6.3,-0.9 -6,0 -6.3,0.9 -6.6,1.7 -6.9,2.6 -7.2,3.4 -7.5,4.3 -8,5.1 -8.6,6 -9.5,6.8 -10.7,7.7 -11.9,8.5 -13.3,9.4 -16.8,10.2 -21.8,11.1 -23.8,11.9 -23.8,12.8 23.8,12.8 23.8,11.9 21.8,11.1 16.8,10.2 13.3,9.4 11.9,8.5 10.7,7.7 9.5,6.8 8.6,6 8,5.1 7.5,4.3 7.2,3.4 6.9,2.6 6.6,1.7 6.3,0.9 6,0 6.3,-0.9 6.6,-1.7 6.9,-2.6 7.2,-3.4 7.5,-4.3 8,-5.1 8.6,-6 9.5,-6.8 10.7,-7.7 11.9,-8.5 13.3,-9.4 16.8,-10.2 21.8,-11.1 23.8,-11.9 23.8,-12.8Z" fill="#737373"/>
<path d="M-20.2,-12.8 -20.2,-11.9 -18.7,-11.1 -14.8,-10.2 -11.8,-9.4 -10.3,-8.5 -9,-7.7 -7.6,-6.8 -6.5,-6 -5.6,-5.1 -4.8,-4.3 -4.2,-3.4 -3.6,-2.6 -3.1,-1.7 -2.7,-0.9 -2.3,0 -2.7,0.9 -3.1,1.7 -3.6,2.6 -4.2,3.4 -4.8,4.3 -5.6,5.1 -6.5,6 -7.6,6.8 -9,7.7 -10.3,8.5 -11.8,9.4 -14.8,10.2 -18.7,11.1 -20.2,11.9 -20.2,12.8 20.2,12.8 20.2,11.9 18.7,11.1 14.8,10.2 11.8,9.4 10.3,8.5 9,7.7 7.6,6.8 6.5,6 5.6,5.1 4.8,4.3 4.2,3.4 3.6,2.6 3.1,1.7 2.7,0.9 2.3,0 2.7,-0.9 3.1,-1.7 3.6,-2.6 4.2,-3.4 4.8,-4.3 5.6,-5.1 6.5,-6 7.6,-6.8 9,-7.7 10.3,-8.5 11.8,-9.4 14.8,-10.2 18.7,-11.1 20.2,-11.9 20.2,-12.8Z" fill="#858585"/>
<path d="M-18.4,-12.8 -18.4,-11.9 -16.9,-11.1 -13.1,-10.2 -10.3,-9.4 -8.7,-8.5 -7.4,-7.7 -6.1,-6.8 -5,-6 -4.2,-5.1 -3.5,-4.3 -3,-3.4 -2.4,-2.6 -2.1,-1.7 -1.9,-0.9 -1.6,0 -1.9,0.9 -2.1,1.7 -2.4,2.6 -3,3.4 -3.5,4.3 -4.2,5.1 -5,6 -6.1,6.8 -7.4,7.7 -8.7,8.5 -10.3,9.4 -13.1,10.2 -16.9,11.1 -18.4,11.9 -18.4,12.8 18.4,12.8 18.4,11.9 16.9,11.1 13.1,10.2 10.3,9.4 8.7,8.5 7.4,7.7 6.1,6.8 5,6 4.2,5.1 3.5,4.3 3,3.4 2.4,2.6 2.1,1.7 1.9,0.9 1.6,0 1.9,-0.9 2.1,-1.7 2.4,-2.6 3,-3.4 3.5,-4.3 4.2,-5.1 5,-6 6.1,-6.8 7.4,-7.7 8.7,-8.5 10.3,-9.4 13.1,-10.2 16.9,-11.1 18.4,-11.9 18.4,-12.8Z" fill="#949494"/>
<path d="M-16.4,-12.8 -16.4,-11.9 -15,-11.1 -11.7,-10.2 -9.2,-9.4 -7.7,-8.5 -6.3,-7.7 -5,-6.8 -3.9,-6 -3,-5.1 -2.2,-4.3 -1.6,-3.4 -1,-2.6 -0.6,-1.7 -0.3,-0.9 0,0 -0.3,0.9 -0.6,1.7 -1,2.6 -1.6,3.4 -2.2,4.3 -3,5.1 -3.9,6 -5,6.8 -6.3,7.7 -7.7,8.5 -9.2,9.4 -11.7,10.2 -15,11.1 -16.4,11.9 -16.4,12.8 16.4,12.8 16.4,11.9 15,11.1 11.7,10.2 9.2,9.4 7.7,8.5 6.3,7.7 5,6.8 3.9,6 3,5.1 2.2,4.3 1.6,3.4 1,2.6 0.6,1.7 0.3,0.9 0,0 0.3,-0.9 0.6,-1.7 1,-2.6 1.6,-3.4 2.2,-4.3 3,-5.1 3.9,-6 5,-6.8 6.3,-7.7 7.7,-8.5 9.2,-9.4 11.7,-10.2 15,-11.1 16.4,-11.9 16.4,-12.8Z" fill="#a3a3a3"/>
<path d="M-14,-12.8 -14,-11.9 -12.8,-11.1 -9.7,-10.2 -7.3,-9.4 -5.7,-8.5 -4.5,-7.7 -3.4,-6.8 -2.5,-6 -1.7,-5.1 -1.1,-4.3 -0.7,-3.4 -0.3,-2.6 -0.1,-1.7 -0.1,-0.9 0,0 -0.1,0.9 -0.1,1.7 -0.3,2.6 -0.7,3.4 -1.1,4.3 -1.7,5.1 -2.5,6 -3.4,6.8 -4.5,7.7 -5.7,8.5 -7.3,9.4 -9.7,10.2 -12.8,11.1 -14,11.9 -14,12.8 14,12.8 14,11.9 12.8,11.1 9.7,10.2 7.3,9.4 5.7,8.5 4.5,7.7 3.4,6.8 2.5,6 1.7,5.1 1.1,4.3 0.7,3.4 0.3,2.6 0.1,1.7 0.1,0.9 0,0 0.1,-0.9 0.1,-1.7 0.3,-2.6 0.7,-3.4 1.1,-4.3 1.7,-5.1 2.5,-6 3.4,-6.8 4.5,-7.7 5.7,-8.5 7.3,-9.4 9.7,-10.2 12.8,-11.1 14,-11.9 14,-12.8Z" fill="#b2b2b2"/>
<path d="M-12.1,-12.8 -12.1,-11.9 -11,-11.1 -8.2,-10.2 -5.8,-9.4 -4.3,-8.5 -3.1,-7.7 -2.1,-6.8 -1.4,-6 -0.9,-5.1 -0.5,-4.3 -0.3,-3.4 -0.1,-2.6 0,-1.7 0,1.7 -0.1,2.6 -0.3,3.4 -0.5,4.3 -0.9,5.1 -1.4,6 -2.1,6.8 -3.1,7.7 -4.3,8.5 -5.8,9.4 -8.2,10.2 -11,11.1 -12.1,11.9 -12.1,12.8 12.1,12.8 12.1,11.9 11,11.1 8.2,10.2 5.8,9.4 4.3,8.5 3.1,7.7 2.1,6.8 1.4,6 0.9,5.1 0.5,4.3 0.3,3.4 0.1,2.6 0,1.7 0,-1.7 0.1,-2.6 0.3,-3.4 0.5,-4.3 0.9,-5.1 1.4,-6 2.1,-6.8 3.1,-7.7 4.3,-8.5 5.8,-9.4 8.2,-10.2 11,-11.1 12.1,-11.9 12.1,-12.8Z" fill="#c2c2c2"/>
<path d="M-10.9,-12.8 -10.9,-11.9 -9.9,-11.1 -7.3,-10.2 -5,-9.4 -3.6,-8.5 -2.3,-7.7 -1.4,-6.8 -0.7,-6 -0.4,-5.1 -0.2,-4.3 -0.1,-3.4 0,-2.6 0,2.6 -0.1,3.4 -0.2,4.3 -0.4,5.1 -0.7,6 -1.4,6.8 -2.3,7.7 -3.6,8.5 -5,9.4 -7.3,10.2 -9.9,11.1 -10.9,11.9 -10.9,12.8 10.9,12.8 10.9,11.9 9.9,11.1 7.3,10.2 5,9.4 3.6,8.5 2.3,7.7 1.4,6.8 0.7,6 0.4,5.1 0.2,4.3 0.1,3.4 0,2.6 0,-2.6 0.1,-3.4 0.2,-4.3 0.4,-5.1 0.7,-6 1.4,-6.8 2.3,-7.7 3.6,-8.5 5,-9.4 7.3,-10.2 9.9,-11.1 10.9,-11.9 10.9,-12.8Z" fill="#cccccc"/>
<path d="M-9.7,-12.8 -9.7,-11.9 -8.8,-11.1 -6.4,-10.2 -4.2,-9.4 -2.8,-8.5 -1.5,-7.7 -0.6,-6.8 0,-6 0,6 -0.6,6.8 -1.5,7.7 -2.8,8.5 -4.2,9.4 -6.4,10.2 -8.8,11.1 -9.7,11.9 -9.7,12.8 9.7,12.8 9.7,11.9 8.8,11.1 6.4,10.2 4.2,9.4 2.8,8.5 1.5,7.7 0.6,6.8 0,6 0,-6 0.6,-6.8 1.5,-7.7 2.8,-8.5 4.2,-9.4 6.4,-10.2 8.8,-11.1 9.7,-11.9 9.7,-12.8Z" fill="#d6d6d6"/>
</g></g></g>
<filter id="hm11" filterUnits="userSpaceOnUse" x="583.0" y="501.7" width="139.4" height="22.8" color-interpolation-filters="sRGB"><feGaussianBlur stdDeviation="1.1"/><feComponentTransfer><feFuncR type="table" tableValues="0 0 0 0 0.5 1 1 1 0.5"/><feFuncG type="table" tableValues="0 0 0.5 1 1 1 0.5 0 0"/><feFuncB type="table" tableValues="0.5 1 1 1 0.5 0 0 0 0"/><feFuncA type="table" tableValues="1 1"/></feComponentTransfer></filter>
<clipPath id="chm11"><rect x="583.0" y="501.7" width="139.4" height="22.8"/></clipPath>
<g clip-path="url(#chm11)"><g filter="url(#hm11)">
<rect x="583.0" y="501.7" width="139.4" height="22.8" fill="#080808"/>
<g transform="translate(652.70,513.10)">
<path d="M-75,-12.8 -75,-9.4 -28.7,-8.5 -20.8,-7.7 -18.2,-6.8 -17,-6 -16.2,-5.1 -15.7,-4.3 -15.3,-3.4 -15,-2.6 -14.7,-1.7 -14.4,-0.9 -14.1,0 -14.4,0.9 -14.7,1.7 -15,2.6 -15.3,3.4 -15.7,4.3 -16.2,5.1 -17,6 -18.2,6.8 -20.8,7.7 -28.7,8.5 -75,9.4 -75,12.8 75,12.8 75,9.4 28.7,8.5 20.8,7.7 18.2,6.8 17,6 16.2,5.1 15.7,4.3 15.3,3.4 15,2.6 14.7,1.7 14.4,0.9 14.1,0 14.4,-0.9 14.7,-1.7 15,-2.6 15.3,-3.4 15.7,-4.3 16.2,-5.1 17,-6 18.2,-6.8 20.8,-7.7 28.7,-8.5 75,-9.4 75,-12.8Z" fill="#1a1a1a"/>
<path d="M-75,-12.8 -75,-11.1 -70.6,-10.2 -24.7,-9.4 -19,-8.5 -16.7,-7.7 -15.1,-6.8 -13.8,-6 -13.1,-5.1 -12.5,-4.3 -12.2,-3.4 -11.9,-2.6 -11.6,-1.7 -11.3,-0.9 -11,0 -11.3,0.9 -11.6,1.7 -11.9,2.6 -12.2,3.4 -12.5,4.3 -13.1,5.1 -13.8,6 -15.1,6.8 -16.7,7.7 -19,8.5 -24.7,9.4 -70.6,10.2 -75,11.1 -75,12.8 75,12.8 75,11.1 70.6,10.2 24.7,9.4 19,8.5 16.7,7.7 15.1,6.8 13.8,6 13.1,5.1 12.5,4.3 12.2,3.4 11.9,2.6 11.6,1.7 11.3,0.9 11,0 11.3,-0.9 11.6,-1.7 11.9,-2.6 12.2,-3.4 12.5,-4.3 13.1,-5.1 13.8,-6 15.1,-6.8 16.7,-7.7 19,-8.5 24.7,-9.4 70.6,-10.2 75,-11.1 75,-12.8Z" fill="#333333"/>
<path d="M-75,-12.8 -75,-11.9 -57.4,-11.1 -24.2,-10.2 -18.2,-9.4 -15.6,-8.5 -14.4,-7.7 -13.2,-6.8 -12.2,-6 -11.6,-5.1 -11,-4.3 -10.7,-3.4 -10.4,-2.6 -10,-1.7 -9.7,-0.9 -9.4,0 -9.7,0.9 -10,1.7 -10.4,2.6 -10.7,3.4 -11,4.3 -11.6,5.1 -12.2,6 -13.2,6.8 -14.4,7.7 -15.6,8.5 -18.2,9.4 -24.2,10.2 -57.4,11.1 -75,11.9 -75,12.8 75,12.8 75,11.9 57.4,11.1 24.2,10.2 18.2,9.4 15.6,8.5 14.4,7.7 13.2,6.8 12.2,6 11.6,5.1 11,4.3 10.7,3.4 10.4,2.6 10,1.7 9.7,0.9 9.4,0 9.7,-0.9 10,-1.7 10.4,-2.6 10.7,-3.4 11,-4.3 11.6,-5.1 12.2,-6 13.2,-6.8 14.4,-7.7 15.6,-8.5 18.2,-9.4 24.2,-10.2 57.4,-11.1 75,-11.9 75,-12.8Z" fill="#4c4c4c"/>
<path d="M-41.4,-12.8 -41.4,-11.9 -36,-11.1 -24,-10.2 -17.6,-9.4 -15.6,-8.5 -14,-7.7 -12.4,-6.8 -11.1,-6 -10.4,-5.1 -9.8,-4.3 -9.4,-3.4 -9.1,-2.6 -8.7,-1.7 -8.4,-0.9 -8.1,0 -8.4,0.9 -8.7,1.7 -9.1,2.6 -9.4,3.4 -9.8,4.3 -10.4,5.1 -11.1,6 -12.4,6.8 -14,7.7 -15.6,8.5 -17.6,9.4 -24,10.2 -36,11.1 -41.4,11.9 -41.4,12.8 41.4,12.8 41.4,11.9 36,11.1 24,10.2 17.6,9.4 15.6,8.5 14,7.7 12.4,6.8 11.1,6 10.4,5.1 9.8,4.3 9.4,3.4 9.1,2.6 8.7,1.7 8.4,0.9 8.1,0 8.4,-0.9 8.7,-1.7 9.1,-2.6 9.4,-3.4 9.8,-4.3 10.4,-5.1 11.1,-6 12.4,-6.8 14,-7.7 15.6,-8.5 17.6,-9.4 24,-10.2 36,-11.1 41.4,-11.9 41.4,-12.8Z" fill="#5e5e5e"/>
<path d="M-24.9,-12.8 -24.9,-11.9 -22.8,-11.1 -17.5,-10.2 -13.5,-9.4 -12.1,-8.5 -10.8,-7.7 -9.5,-6.8 -8.5,-6 -7.8,-5.1 -7.3,-4.3 -7.1,-3.4 -6.8,-2.6 -6.5,-1.7 -6.2,-0.9 -5.9,0 -6.2,0.9 -6.5,1.7 -6.8,2.6 -7.1,3.4 -7.3,4.3 -7.8,5.1 -8.5,6 -9.5,6.8 -10.8,7.7 -12.1,8.5 -13.5,9.4 -17.5,10.2 -22.8,11.1 -24.9,11.9 -24.9,12.8 24.9,12.8 24.9,11.9 22.8,11.1 17.5,10.2 13.5,9.4 12.1,8.5 10.8,7.7 9.5,6.8 8.5,6 7.8,5.1 7.3,4.3 7.1,3.4 6.8,2.6 6.5,1.7 6.2,0.9 5.9,0 6.2,-0.9 6.5,-1.7 6.8,-2.6 7.1,-3.4 7.3,-4.3 7.8,-5.1 8.5,-6 9.5,-6.8 10.8,-7.7 12.1,-8.5 13.5,-9.4 17.5,-10.2 22.8,-11.1 24.9,-11.9 24.9,-12.8Z" fill="#737373"/>
<path d="M-21.1,-12.8 -21.1,-11.9 -19.5,-11.1 -15.3,-10.2 -12,-9.4 -10.3,-8.5 -8.8,-7.7 -7.3,-6.8 -6,-6 -5,-5.1 -4.1,-4.3 -3.3,-3.4 -2.5,-2.6 -2,-1.7 -1.6,-0.9 -1.2,0 -1.6,0.9 -2,1.7 -2.5,2.6 -3.3,3.4 -4.1,4.3 -5,5.1 -6,6 -7.3,6.8 -8.8,7.7 -10.3,8.5 -12,9.4 -15.3,10.2 -19.5,11.1 -21.1,11.9 -21.1,12.8 21.1,12.8 21.1,11.9 19.5,11.1 15.3,10.2 12,9.4 10.3,8.5 8.8,7.7 7.3,6.8 6,6 5,5.1 4.1,4.3 3.3,3.4 2.5,2.6 2,1.7 1.6,0.9 1.2,0 1.6,-0.9 2,-1.7 2.5,-2.6 3.3,-3.4 4.1,-4.3 5,-5.1 6,-6 7.3,-6.8 8.8,-7.7 10.3,-8.5 12,-9.4 15.3,-10.2 19.5,-11.1 21.1,-11.9 21.1,-12.8Z" fill="#858585"/>
<path d="M-19.3,-12.8 -19.3,-11.9 -17.7,-11.1 -13.8,-10.2 -10.6,-9.4 -8.9,-8.5 -7.4,-7.7 -5.9,-6.8 -4.6,-6 -3.6,-5.1 -2.8,-4.3 -2.2,-3.4 -1.6,-2.6 -1.2,-1.7 -1,-0.9 -0.8,0 -1,0.9 -1.2,1.7 -1.6,2.6 -2.2,3.4 -2.8,4.3 -3.6,5.1 -4.6,6 -5.9,6.8 -7.4,7.7 -8.9,8.5 -10.6,9.4 -13.8,10.2 -17.7,11.1 -19.3,11.9 -19.3,12.8 19.3,12.8 19.3,11.9 17.7,11.1 13.8,10.2 10.6,9.4 8.9,8.5 7.4,7.7 5.9,6.8 4.6,6 3.6,5.1 2.8,4.3 2.2,3.4 1.6,2.6 1.2,1.7 1,0.9 0.8,0 1,-0.9 1.2,-1.7 1.6,-2.6 2.2,-3.4 2.8,-4.3 3.6,-5.1 4.6,-6 5.9,-6.8 7.4,-7.7 8.9,-8.5 10.6,-9.4 13.8,-10.2 17.7,-11.1 19.3,-11.9 19.3,-12.8Z" fill="#949494"/>
<path d="M-17.3,-12.8 -17.3,-11.9 -15.9,-11.1 -12.3,-10.2 -9.3,-9.4 -7.6,-8.5 -6.1,-7.7 -4.6,-6.8 -3.3,-6 -2.4,-5.1 -1.7,-4.3 -1.1,-3.4 -0.6,-2.6 -0.3,-1.7 -0.1,-0.9 0,0 -0.1,0.9 -0.3,1.7 -0.6,2.6 -1.1,3.4 -1.7,4.3 -2.4,5.1 -3.3,6 -4.6,6.8 -6.1,7.7 -7.6,8.5 -9.3,9.4 -12.3,10.2 -15.9,11.1 -17.3,11.9 -17.3,12.8 17.3,12.8 17.3,11.9 15.9,11.1 12.3,10.2 9.3,9.4 7.6,8.5 6.1,7.7 4.6,6.8 3.3,6 2.4,5.1 1.7,4.3 1.1,3.4 0.6,2.6 0.3,1.7 0.1,0.9 0,0 0.1,-0.9 0.3,-1.7 0.6,-2.6 1.1,-3.4 1.7,-4.3 2.4,-5.1 3.3,-6 4.6,-6.8 6.1,-7.7 7.6,-8.5 9.3,-9.4 12.3,-10.2 15.9,-11.1 17.3,-11.9 17.3,-12.8Z" fill="#a3a3a3"/>
<path d="M-14.9,-12.8 -14.9,-11.9 -13.6,-11.1 -10.2,-10.2 -7.3,-9.4 -5.6,-8.5 -4.2,-7.7 -3,-6.8 -2,-6 -1.3,-5.1 -0.7,-4.3 -0.4,-3.4 -0.2,-2.6 -0.1,-1.7 0,0 -0.1,1.7 -0.2,2.6 -0.4,3.4 -0.7,4.3 -1.3,5.1 -2,6 -3,6.8 -4.2,7.7 -5.6,8.5 -7.3,9.4 -10.2,10.2 -13.6,11.1 -14.9,11.9 -14.9,12.8 14.9,12.8 14.9,11.9 13.6,11.1 10.2,10.2 7.3,9.4 5.6,8.5 4.2,7.7 3,6.8 2,6 1.3,5.1 0.7,4.3 0.4,3.4 0.2,2.6 0.1,1.7 0,0 0.1,-1.7 0.2,-2.6 0.4,-3.4 0.7,-4.3 1.3,-5.1 2,-6 3,-6.8 4.2,-7.7 5.6,-8.5 7.3,-9.4 10.2,-10.2 13.6,-11.1 14.9,-11.9 14.9,-12.8Z" fill="#b2b2b2"/>
<path d="M-12.9,-12.8 -12.9,-11.9 -11.7,-11.1 -8.6,-10.2 -5.8,-9.4 -4.1,-8.5 -2.8,-7.7 -1.8,-6.8 -1.1,-6 -0.6,-5.1 -0.2,-4.3 -0.1,-3.4 0,-2.6 0,2.6 -0.1,3.4 -0.2,4.3 -0.6,5.1 -1.1,6 -1.8,6.8 -2.8,7.7 -4.1,8.5 -5.8,9.4 -8.6,10.2 -11.7,11.1 -12.9,11.9 -12.9,12.8 12.9,12.8 12.9,11.9 11.7,11.1 8.6,10.2 5.8,9.4 4.1,8.5 2.8,7.7 1.8,6.8 1.1,6 0.6,5.1 0.2,4.3 0.1,3.4 0,2.6 0,-2.6 0.1,-3.4 0.2,-4.3 0.6,-5.1 1.1,-6 1.8,-6.8 2.8,-7.7 4.1,-8.5 5.8,-9.4 8.6,-10.2 11.7,-11.1 12.9,-11.9 12.9,-12.8Z" fill="#c2c2c2"/>
<path d="M-11.7,-12.8 -11.7,-11.9 -10.6,-11.1 -7.6,-10.2 -5,-9.4 -3.4,-8.5 -2,-7.7 -1.2,-6.8 -0.6,-6 -0.3,-5.1 -0.1,-4.3 -0.1,-3.4 0,-2.6 0,2.6 -0.1,3.4 -0.1,4.3 -0.3,5.1 -0.6,6 -1.2,6.8 -2,7.7 -3.4,8.5 -5,9.4 -7.6,10.2 -10.6,11.1 -11.7,11.9 -11.7,12.8 11.7,12.8 11.7,11.9 10.6,11.1 7.6,10.2 5,9.4 3.4,8.5 2,7.7 1.2,6.8 0.6,6 0.3,5.1 0.1,4.3 0.1,3.4 0,2.6 0,-2.6 0.1,-3.4 0.1,-4.3 0.3,-5.1 0.6,-6 1.2,-6.8 2,-7.7 3.4,-8.5 5,-9.4 7.6,-10.2 10.6,-11.1 11.7,-11.9 11.7,-12.8Z" fill="#cccccc"/>
<path d="M-10.5,-12.8 -10.5,-11.9 -9.5,-11.1 -6.7,-10.2 -4.1,-9.4 -2.6,-8.5 -1.3,-7.7 -0.5,-6.8 -0.1,-6 0,-4.3 -0.1,6 -0.5,6.8 -1.3,7.7 -2.6,8.5 -4.1,9.4 -6.7,10.2 -9.5,11.1 -10.5,11.9 -10.5,12.8 10.5,12.8 10.5,11.9 9.5,11.1 6.7,10.2 4.1,9.4 2.6,8.5 1.3,7.7 0.5,6.8 0.1,6 0,4.3 0.1,-6 0.5,-6.8 1.3,-7.7 2.6,-8.5 4.1,-9.4 6.7,-10.2 9.5,-11.1 10.5,-11.9 10.5,-12.8Z" fill="#d6d6d6"/>
</g></g></g>
<filter id="hm12" filterUnits="userSpaceOnUse" x="31.2" y="531.5" width="139.4" height="22.8" color-interpolation-filters="sRGB"><feGaussianBlur stdDeviation="1.1"/><feComponentTransfer><feFuncR type="table" tableValues="0 0 0 0 0.5 1 1 1 0.5"/><feFuncG type="table" tableValues="0 0 0.5 1 1 1 0.5 0 0"/><feFuncB type="table" tableValues="0.5 1 1 1 0.5 0 0 0 0"/><feFuncA type="table" tableValues="1 1"/></feComponentTransfer></filter>
<clipPath id="chm12"><rect x="31.2" y="531.5" width="139.4" height="22.8"/></clipPath>
<g clip-path="url(#chm12)"><g filter="url(#hm12)">
<rect x="31.2" y="531.5" width="139.4" height="22.8" fill="#080808"/>
<g transform="translate(100.90,542.90)">
<path d="M-75,-12.8 -75,-9.4 -28.4,-8.5 -20.9,-7.7 -18.4,-6.8 -17.2,-6 -16.5,-5.1 -16,-4.3 -15.7,-3.4 -15.4,-2.6 -15.1,-1.7 -14.8,-0.9 -14.5,0 -14.8,0.9 -15.1,1.7 -15.4,2.6 -15.7,3.4 -16,4.3 -16.5,5.1 -17.2,6 -18.4,6.8 -20.9,7.7 -28.4,8.5 -75,9.4 -75,12.8 75,12.8 75,9.4 28.4,8.5 20.9,7.7 18.4,6.8 17.2,6 16.5,5.1 16,4.3 15.7,3.4 15.4,2.6 15.1,1.7 14.8,0.9 14.5,0 14.8,-0.9 15.1,-1.7 15.4,-2.6 15.7,-3.4 16,-4.3 16.5,-5.1 17.2,-6 18.4,-6.8 20.9,-7.7 28.4,-8.5 75,-9.4 75,-12.8Z" fill="#1a1a1a"/>
<path d="M-75,-12.8 -75,-10.2 -26.8,-9.4 -19.9,-8.5 -17.2,-7.7 -15.5,-6.8 -14.1,-6 -13.3,-5.1 -12.7,-4.3 -12.4,-3.4 -12.1,-2.6 -11.8,-1.7 -11.5,-0.9 -11.2,0 -11.5,0.9 -11.8,1.7 -12.1,2.6 -12.4,3.4 -12.7,4.3 -13.3,5.1 -14.1,6 -15.5,6.8 -17.2,7.7 -19.9,8.5 -26.8,9.4 -75,10.2 -75,12.8 75,12.8 75,10.2 26.8,9.4 19.9,8.5 17.2,7.7 15.5,6.8 14.1,6 13.3,5.1 12.7,4.3 12.4,3.4 12.1,2.6 11.8,1.7 11.5,0.9 11.2,0 11.5,-0.9 11.8,-1.7 12.1,-2.6 12.4,-3.4 12.7,-4.3 13.3,-5.1 14.1,-6 15.5,-6.8 17.2,-7.7 19.9,-8.5 26.8,-9.4 75,-10.2 75,-12.8Z" fill="#333333"/>
<path d="M-75,-12.8 -75,-11.9 -66.5,-11.1 -25.6,-10.2 -18.9,-9.4 -16.1,-8.5 -14.8,-7.7 -13.5,-6.8 -12.4,-6 -11.8,-5.1 -11.2,-4.3 -10.9,-3.4 -10.5,-2.6 -10.2,-1.7 -9.8,-0.9 -9.5,0 -9.8,0.9 -10.2,1.7 -10.5,2.6 -10.9,3.4 -11.2,4.3 -11.8,5.1 -12.4,6 -13.5,6.8 -14.8,7.7 -16.1,8.5 -18.9,9.4 -25.6,10.2 -66.5,11.1 -75,11.9 -75,12.8 75,12.8 75,11.9 66.5,11.1 25.6,10.2 18.9,9.4 16.1,8.5 14.8,7.7 13.5,6.8 12.4,6 11.8,5.1 11.2,4.3 10.9,3.4 10.5,2.6 10.2,1.7 9.8,0.9 9.5,0 9.8,-0.9 10.2,-1.7 10.5,-2.6 10.9,-3.4 11.2,-4.3 11.8,-5.1 12.4,-6 13.5,-6.8 14.8,-7.7 16.1,-8.5 18.9,-9.4 25.6,-10.2 66.5,-11.1 75,-11.9 75,-12.8Z" fill="#4c4c4c"/>
<path d="M-46.3,-12.8 -46.3,-11.9 -39.9,-11.1 -26.3,-10.2 -18.6,-9.4 -16.6,-8.5 -14.8,-7.7 -12.9,-6.8 -11.5,-6 -10.6,-5.1 -10,-4.3 -9.6,-3.4 -9.3,-2.6 -8.9,-1.7 -8.5,-0.9 -8.2,0 -8.5,0.9 -8.9,1.7 -9.3,2.6 -9.6,3.4 -10,4.3 -10.6,5.1 -11.5,6 -12.9,6.8 -14.8,7.7 -16.6,8.5 -18.6,9.4 -26.3,10.2 -39.9,11.1 -46.3,11.9 -46.3,12.8 46.3,12.8 46.3,11.9 39.9,11.1 26.3,10.2 18.6,9.4 16.6,8.5 14.8,7.7 12.9,6.8 11.5,6 10.6,5.1 10,4.3 9.6,3.4 9.3,2.6 8.9,1.7 8.5,0.9 8.2,0 8.5,-0.9 8.9,-1.7 9.3,-2.6 9.6,-3.4 10,-4.3 10.6,-5.1 11.5,-6 12.9,-6.8 14.8,-7.7 16.6,-8.5 18.6,-9.4 26.3,-10.2 39.9,-11.1 46.3,-11.9 46.3,-12.8Z" fill="#5e5e5e"/>
<path d="M-26,-12.8 -26,-11.9 -23.8,-11.1 -18.2,-10.2 -13.7,-9.4 -12.3,-8.5 -10.9,-7.7 -9.5,-6.8 -8.4,-6 -7.7,-5.1 -7.2,-4.3 -6.9,-3.4 -6.7,-2.6 -6.4,-1.7 -6.1,-0.9 -5.8,0 -6.1,0.9 -6.4,1.7 -6.7,2.6 -6.9,3.4 -7.2,4.3 -7.7,5.1 -8.4,6 -9.5,6.8 -10.9,7.7 -12.3,8.5 -13.7,9.4 -18.2,10.2 -23.8,11.1 -26,11.9 -26,12.8 26,12.8 26,11.9 23.8,11.1 18.2,10.2 13.7,9.4 12.3,8.5 10.9,7.7 9.5,6.8 8.4,6 7.7,5.1 7.2,4.3 6.9,3.4 6.7,2.6 6.4,1.7 6.1,0.9 5.8,0 6.1,-0.9 6.4,-1.7 6.7,-2.6 6.9,-3.4 7.2,-4.3 7.7,-5.1 8.4,-6 9.5,-6.8 10.9,-7.7 12.3,-8.5 13.7,-9.4 18.2,-10.2 23.8,-11.1 26,-11.9 26,-12.8Z" fill="#737373"/>
<path d="M-22,-12.8 -22,-11.9 -20.3,-11.1 -15.8,-10.2 -12.1,-9.4 -10.4,-8.5 -8.7,-7.7 -7,-6.8 -5.5,-6 -4.3,-5.1 -3.3,-4.3 -2.4,-3.4 -1.5,-2.6 -0.9,-1.7 -0.4,-0.9 0,0 -0.4,0.9 -0.9,1.7 -1.5,2.6 -2.4,3.4 -3.3,4.3 -4.3,5.1 -5.5,6 -7,6.8 -8.7,7.7 -10.4,8.5 -12.1,9.4 -15.8,10.2 -20.3,11.1 -22,11.9 -22,12.8 22,12.8 22,11.9 20.3,11.1 15.8,10.2 12.1,9.4 10.4,8.5 8.7,7.7 7,6.8 5.5,6 4.3,5.1 3.3,4.3 2.4,3.4 1.5,2.6 0.9,1.7 0.4,0.9 0,0 0.4,-0.9 0.9,-1.7 1.5,-2.6 2.4,-3.4 3.3,-4.3 4.3,-5.1 5.5,-6 7,-6.8 8.7,-7.7 10.4,-8.5 12.1,-9.4 15.8,-10.2 20.3,-11.1 22,-11.9 22,-12.8Z" fill="#858585"/>
<path d="M-20.2,-12.8 -20.2,-11.9 -18.6,-11.1 -14.4,-10.2 -10.9,-9.4 -9.1,-8.5 -7.4,-7.7 -5.6,-6.8 -4.1,-6 -3.1,-5.1 -2.1,-4.3 -1.4,-3.4 -0.7,-2.6 -0.4,-1.7 -0.2,-0.9 0,0 -0.2,0.9 -0.4,1.7 -0.7,2.6 -1.4,3.4 -2.1,4.3 -3.1,5.1 -4.1,6 -5.6,6.8 -7.4,7.7 -9.1,8.5 -10.9,9.4 -14.4,10.2 -18.6,11.1 -20.2,11.9 -20.2,12.8 20.2,12.8 20.2,11.9 18.6,11.1 14.4,10.2 10.9,9.4 9.1,8.5 7.4,7.7 5.6,6.8 4.1,6 3.1,5.1 2.1,4.3 1.4,3.4 0.7,2.6 0.4,1.7 0.2,0.9 0,0 0.2,-0.9 0.4,-1.7 0.7,-2.6 1.4,-3.4 2.1,-4.3 3.1,-5.1 4.1,-6 5.6,-6.8 7.4,-7.7 9.1,-8.5 10.9,-9.4 14.4,-10.2 18.6,-11.1 20.2,-11.9 20.2,-12.8Z" fill="#949494"/>
<path d="M-18.2,-12.8 -18.2,-11.9 -16.7,-11.1 -12.8,-10.2 -9.4,-9.4 -7.6,-8.5 -5.8,-7.7 -4.2,-6.8 -2.8,-6 -1.9,-5.1 -1.1,-4.3 -0.6,-3.4 -0.2,-2.6 0,-1.7 0,1.7 -0.2,2.6 -0.6,3.4 -1.1,4.3 -1.9,5.1 -2.8,6 -4.2,6.8 -5.8,7.7 -7.6,8.5 -9.4,9.4 -12.8,10.2 -16.7,11.1 -18.2,11.9 -18.2,12.8 18.2,12.8 18.2,11.9 16.7,11.1 12.8,10.2 9.4,9.4 7.6,8.5 5.8,7.7 4.2,6.8 2.8,6 1.9,5.1 1.1,4.3 0.6,3.4 0.2,2.6 0,1.7 0,-1.7 0.2,-2.6 0.6,-3.4 1.1,-4.3 1.9,-5.1 2.8,-6 4.2,-6.8 5.8,-7.7 7.6,-8.5 9.4,-9.4 12.8,-10.2 16.7,-11.1 18.2,-11.9 18.2,-12.8Z" fill="#a3a3a3"/>
<path d="M-15.8,-12.8 -15.8,-11.9 -14.3,-11.1 -10.6,-10.2 -7.4,-9.4 -5.4,-8.5 -3.8,-7.7 -2.6,-6.8 -1.6,-6 -0.8,-5.1 -0.3,-4.3 -0.2,-3.4 0,-2.6 0,2.6 -0.2,3.4 -0.3,4.3 -0.8,5.1 -1.6,6 -2.6,6.8 -3.8,7.7 -5.4,8.5 -7.4,9.4 -10.6,10.2 -14.3,11.1 -15.8,11.9 -15.8,12.8 15.8,12.8 15.8,11.9 14.3,11.1 10.6,10.2 7.4,9.4 5.4,8.5 3.8,7.7 2.6,6.8 1.6,6 0.8,5.1 0.3,4.3 0.2,3.4 0,2.6 0,-2.6 0.2,-3.4 0.3,-4.3 0.8,-5.1 1.6,-6 2.6,-6.8 3.8,-7.7 5.4,-8.5 7.4,-9.4 10.6,-10.2 14.3,-11.1 15.8,-11.9 15.8,-12.8Z" fill="#b2b2b2"/>
<path d="M-13.8,-12.8 -13.8,-11.9 -12.4,-11.1 -8.9,-10.2 -5.8,-9.4 -4,-8.5 -2.5,-7.7 -1.5,-6.8 -0.8,-6 -0.3,-5.1 0,-4.3 0,4.3 -0.3,5.1 -0.8,6 -1.5,6.8 -2.5,7.7 -4,8.5 -5.8,9.4 -8.9,10.2 -12.4,11.1 -13.8,11.9 -13.8,12.8 13.8,12.8 13.8,11.9 12.4,11.1 8.9,10.2 5.8,9.4 4,8.5 2.5,7.7 1.5,6.8 0.8,6 0.3,5.1 0,4.3 0,-4.3 0.3,-5.1 0.8,-6 1.5,-6.8 2.5,-7.7 4,-8.5 5.8,-9.4 8.9,-10.2 12.4,-11.1 13.8,-11.9 13.8,-12.8Z" fill="#c2c2c2"/>
<path d="M-12.5,-12.8 -12.5,-11.9 -11.3,-11.1 -7.9,-10.2 -4.9,-9.4 -3.2,-8.5 -1.8,-7.7 -0.9,-6.8 -0.4,-6 -0.2,-5.1 0,-4.3 0,4.3 -0.2,5.1 -0.4,6 -0.9,6.8 -1.8,7.7 -3.2,8.5 -4.9,9.4 -7.9,10.2 -11.3,11.1 -12.5,11.9 -12.5,12.8 12.5,12.8 12.5,11.9 11.3,11.1 7.9,10.2 4.9,9.4 3.2,8.5 1.8,7.7 0.9,6.8 0.4,6 0.2,5.1 0,4.3 0,-4.3 0.2,-5.1 0.4,-6 0.9,-6.8 1.8,-7.7 3.2,-8.5 4.9,-9.4 7.9,-10.2 11.3,-11.1 12.5,-11.9 12.5,-12.8Z" fill="#cccccc"/>
<path d="M-11.3,-12.8 -11.3,-11.9 -10.2,-11.1 -6.9,-10.2 -4,-9.4 -2.4,-8.5 -1.1,-7.7 -0.4,-6.8 -0.1,-6 0,-5.1 0,5.1 -0.1,6 -0.4,6.8 -1.1,7.7 -2.4,8.5 -4,9.4 -6.9,10.2 -10.2,11.1 -11.3,11.9 -11.3,12.8 11.3,12.8 11.3,11.9 10.2,11.1 6.9,10.2 4,9.4 2.4,8.5 1.1,7.7 0.4,6.8 0.1,6 0,5.1 0,-5.1 0.1,-6 0.4,-6.8 1.1,-7.7 2.4,-8.5 4,-9.4 6.9,-10.2 10.2,-11.1 11.3,-11.9 11.3,-12.8Z" fill="#d6d6d6"/>
</g></g></g>
<filter id="hm13" filterUnits="userSpaceOnUse" x="214.6" y="531.5" width="139.4" height="22.8" color-interpolation-filters="sRGB"><feGaussianBlur stdDeviation="1.1"/><feComponentTransfer><feFuncR type="table" tableValues="0 0 0 0 0.5 1 1 1 0.5"/><feFuncG type="table" tableValues="0 0 0.5 1 1 1 0.5 0 0"/><feFuncB type="table" tableValues="0.5 1 1 1 0.5 0 0 0 0"/><feFuncA type="table" tableValues="1 1"/></feComponentTransfer></filter>
<clipPath id="chm13"><rect x="214.6" y="531.5" width="139.4" height="22.8"/></clipPath>
<g clip-path="url(#chm13)"><g filter="url(#hm13)">
<rect x="214.6" y="531.5" width="139.4" height="22.8" fill="#080808"/>
<g transform="translate(284.30,542.90)">
<path d="M-75,-12.8 -75,-9.4 -31.2,-8.5 -21,-7.7 -18.2,-6.8 -17,-6 -16.3,-5.1 -15.8,-4.3 -15.5,-3.4 -15.2,-2.6 -14.9,-1.7 -14.6,-0.9 -14.3,0 -14.6,0.9 -14.9,1.7 -15.2,2.6 -15.5,3.4 -15.8,4.3 -16.3,5.1 -17,6 -18.2,6.8 -21,7.7 -31.2,8.5 -75,9.4 -75,12.8 75,12.8 75,9.4 31.2,8.5 21,7.7 18.2,6.8 17,6 16.3,5.1 15.8,4.3 15.5,3.4 15.2,2.6 14.9,1.7 14.6,0.9 14.3,0 14.6,-0.9 14.9,-1.7 15.2,-2.6 15.5,-3.4 15.8,-4.3 16.3,-5.1 17,-6 18.2,-6.8 21,-7.7 31.2,-8.5 75,-9.4 75,-12.8Z" fill="#1a1a1a"/>
<path d="M-75,-12.8 -75,-10.2 -28.2,-9.4 -20.2,-8.5 -17.1,-7.7 -15.4,-6.8 -14,-6 -13.2,-5.1 -12.6,-4.3 -12.3,-3.4 -12,-2.6 -11.7,-1.7 -11.4,-0.9 -11.1,0 -11.4,0.9 -11.7,1.7 -12,2.6 -12.3,3.4 -12.6,4.3 -13.2,5.1 -14,6 -15.4,6.8 -17.1,7.7 -20.2,8.5 -28.2,9.4 -75,10.2 -75,12.8 75,12.8 75,10.2 28.2,9.4 20.2,8.5 17.1,7.7 15.4,6.8 14,6 13.2,5.1 12.6,4.3 12.3,3.4 12,2.6 11.7,1.7 11.4,0.9 11.1,0 11.4,-0.9 11.7,-1.7 12,-2.6 12.3,-3.4 12.6,-4.3 13.2,-5.1 14,-6 15.4,-6.8 17.1,-7.7 20.2,-8.5 28.2,-9.4 75,-10.2 75,-12.8Z" fill="#333333"/>
<path d="M-75,-12.8 -75,-11.9 -74.4,-11.1 -33.1,-10.2 -19.6,-9.4 -16,-8.5 -14.7,-7.7 -13.4,-6.8 -12.3,-6 -11.6,-5.1 -11.1,-4.3 -10.7,-3.4 -10.4,-2.6 -10.1,-1.7 -9.8,-0.9 -9.4,0 -9.8,0.9 -10.1,1.7 -10.4,2.6 -10.7,3.4 -11.1,4.3 -11.6,5.1 -12.3,6 -13.4,6.8 -14.7,7.7 -16,8.5 -19.6,9.4 -33.1,10.2 -74.4,11.1 -75,11.9 -75,12.8 75,12.8 75,11.9 74.4,11.1 33.1,10.2 19.6,9.4 16,8.5 14.7,7.7 13.4,6.8 12.3,6 11.6,5.1 11.1,4.3 10.7,3.4 10.4,2.6 10.1,1.7 9.8,0.9 9.4,0 9.8,-0.9 10.1,-1.7 10.4,-2.6 10.7,-3.4 11.1,-4.3 11.6,-5.1 12.3,-6 13.4,-6.8 14.7,-7.7 16,-8.5 19.6,-9.4 33.1,-10.2 74.4,-11.1 75,-11.9 75,-12.8Z" fill="#4c4c4c"/>
<path d="M-47.7,-12.8 -47.7,-11.9 -42.1,-11.1 -27.8,-10.2 -19,-9.4 -16.7,-8.5 -14.8,-7.7 -12.9,-6.8 -11.4,-6 -10.5,-5.1 -9.9,-4.3 -9.5,-3.4 -9.2,-2.6 -8.9,-1.7 -8.5,-0.9 -8.2,0 -8.5,0.9 -8.9,1.7 -9.2,2.6 -9.5,3.4 -9.9,4.3 -10.5,5.1 -11.4,6 -12.9,6.8 -14.8,7.7 -16.7,8.5 -19,9.4 -27.8,10.2 -42.1,11.1 -47.7,11.9 -47.7,12.8 47.7,12.8 47.7,11.9 42.1,11.1 27.8,10.2 19,9.4 16.7,8.5 14.8,7.7 12.9,6.8 11.4,6 10.5,5.1 9.9,4.3 9.5,3.4 9.2,2.6 8.9,1.7 8.5,0.9 8.2,0 8.5,-0.9 8.9,-1.7 9.2,-2.6 9.5,-3.4 9.9,-4.3 10.5,-5.1 11.4,-6 12.9,-6.8 14.8,-7.7 16.7,-8.5 19,-9.4 27.8,-10.2 42.1,-11.1 47.7,-11.9 47.7,-12.8Z" fill="#5e5e5e"/>
<path d="M-27.3,-12.8 -27.3,-11.9 -25,-11.1 -18.9,-10.2 -14,-9.4 -12.5,-8.5 -11,-7.7 -9.6,-6.8 -8.4,-6 -7.7,-5.1 -7.2,-4.3 -6.9,-3.4 -6.6,-2.6 -6.3,-1.7 -6.1,-0.9 -5.8,0 -6.1,0.9 -6.3,1.7 -6.6,2.6 -6.9,3.4 -7.2,4.3 -7.7,5.1 -8.4,6 -9.6,6.8 -11,7.7 -12.5,8.5 -14,9.4 -18.9,10.2 -25,11.1 -27.3,11.9 -27.3,12.8 27.3,12.8 27.3,11.9 25,11.1 18.9,10.2 14,9.4 12.5,8.5 11,7.7 9.6,6.8 8.4,6 7.7,5.1 7.2,4.3 6.9,3.4 6.6,2.6 6.3,1.7 6.1,0.9 5.8,0 6.1,-0.9 6.3,-1.7 6.6,-2.6 6.9,-3.4 7.2,-4.3 7.7,-5.1 8.4,-6 9.6,-6.8 11,-7.7 12.5,-8.5 14,-9.4 18.9,-10.2 25,-11.1 27.3,-11.9 27.3,-12.8Z" fill="#737373"/>
<path d="M-23,-12.8 -23,-11.9 -21.1,-11.1 -16.2,-10.2 -12.1,-9.4 -10.4,-8.5 -8.7,-7.7 -7,-6.8 -5.5,-6 -4.3,-5.1 -3.2,-4.3 -2.4,-3.4 -1.5,-2.6 -0.9,-1.7 -0.4,-0.9 0,0 -0.4,0.9 -0.9,1.7 -1.5,2.6 -2.4,3.4 -3.2,4.3 -4.3,5.1 -5.5,6 -7,6.8 -8.7,7.7 -10.4,8.5 -12.1,9.4 -16.2,10.2 -21.1,11.1 -23,11.9 -23,12.8 23,12.8 23,11.9 21.1,11.1 16.2,10.2 12.1,9.4 10.4,8.5 8.7,7.7 7,6.8 5.5,6 4.3,5.1 3.2,4.3 2.4,3.4 1.5,2.6 0.9,1.7 0.4,0.9 0,0 0.4,-0.9 0.9,-1.7 1.5,-2.6 2.4,-3.4 3.2,-4.3 4.3,-5.1 5.5,-6 7,-6.8 8.7,-7.7 10.4,-8.5 12.1,-9.4 16.2,-10.2 21.1,-11.1 23,-11.9 23,-12.8Z" fill="#858585"/>
<path d="M-20.8,-12.8 -20.8,-11.9 -19.1,-11.1 -14.6,-10.2 -10.9,-9.4 -9.1,-8.5 -7.3,-7.7 -5.6,-6.8 -4.1,-6 -3,-5.1 -2.1,-4.3 -1.4,-3.4 -0.7,-2.6 -0.4,-1.7 -0.2,-0.9 0,0 -0.2,0.9 -0.4,1.7 -0.7,2.6 -1.4,3.4 -2.1,4.3 -3,5.1 -4.1,6 -5.6,6.8 -7.3,7.7 -9.1,8.5 -10.9,9.4 -14.6,10.2 -19.1,11.1 -20.8,11.9 -20.8,12.8 20.8,12.8 20.8,11.9 19.1,11.1 14.6,10.2 10.9,9.4 9.1,8.5 7.3,7.7 5.6,6.8 4.1,6 3,5.1 2.1,4.3 1.4,3.4 0.7,2.6 0.4,1.7 0.2,0.9 0,0 0.2,-0.9 0.4,-1.7 0.7,-2.6 1.4,-3.4 2.1,-4.3 3,-5.1 4.1,-6 5.6,-6.8 7.3,-7.7 9.1,-8.5 10.9,-9.4 14.6,-10.2 19.1,-11.1 20.8,-11.9 20.8,-12.8Z" fill="#949494"/>
<path d="M-18.6,-12.8 -18.6,-11.9 -17,-11.1 -12.9,-10.2 -9.4,-9.4 -7.6,-8.5 -5.8,-7.7 -4.1,-6.8 -2.8,-6 -1.8,-5.1 -1.1,-4.3 -0.6,-3.4 -0.1,-2.6 0,-1.7 0,1.7 -0.1,2.6 -0.6,3.4 -1.1,4.3 -1.8,5.1 -2.8,6 -4.1,6.8 -5.8,7.7 -7.6,8.5 -9.4,9.4 -12.9,10.2 -17,11.1 -18.6,11.9 -18.6,12.8 18.6,12.8 18.6,11.9 17,11.1 12.9,10.2 9.4,9.4 7.6,8.5 5.8,7.7 4.1,6.8 2.8,6 1.8,5.1 1.1,4.3 0.6,3.4 0.1,2.6 0,1.7 0,-1.7 0.1,-2.6 0.6,-3.4 1.1,-4.3 1.8,-5.1 2.8,-6 4.1,-6.8 5.8,-7.7 7.6,-8.5 9.4,-9.4 12.9,-10.2 17,-11.1 18.6,-11.9 18.6,-12.8Z" fill="#a3a3a3"/>
<path d="M-16.3,-12.8 -16.3,-11.9 -14.7,-11.1 -10.9,-10.2 -7.5,-9.4 -5.5,-8.5 -3.8,-7.7 -2.6,-6.8 -1.6,-6 -0.8,-5.1 -0.3,-4.3 -0.2,-3.4 0,-2.6 0,2.6 -0.2,3.4 -0.3,4.3 -0.8,5.1 -1.6,6 -2.6,6.8 -3.8,7.7 -5.5,8.5 -7.5,9.4 -10.9,10.2 -14.7,11.1 -16.3,11.9 -16.3,12.8 16.3,12.8 16.3,11.9 14.7,11.1 10.9,10.2 7.5,9.4 5.5,8.5 3.8,7.7 2.6,6.8 1.6,6 0.8,5.1 0.3,4.3 0.2,3.4 0,2.6 0,-2.6 0.2,-3.4 0.3,-4.3 0.8,-5.1 1.6,-6 2.6,-6.8 3.8,-7.7 5.5,-8.5 7.5,-9.4 10.9,-10.2 14.7,-11.1 16.3,-11.9 16.3,-12.8Z" fill="#b2b2b2"/>
<path d="M-14.3,-12.8 -14.3,-11.9 -12.9,-11.1 -9.2,-10.2 -5.9,-9.4 -4,-8.5 -2.5,-7.7 -1.5,-6.8 -0.8,-6 -0.3,-5.1 0,-4.3 0,4.3 -0.3,5.1 -0.8,6 -1.5,6.8 -2.5,7.7 -4,8.5 -5.9,9.4 -9.2,10.2 -12.9,11.1 -14.3,11.9 -14.3,12.8 14.3,12.8 14.3,11.9 12.9,11.1 9.2,10.2 5.9,9.4 4,8.5 2.5,7.7 1.5,6.8 0.8,6 0.3,5.1 0,4.3 0,-4.3 0.3,-5.1 0.8,-6 1.5,-6.8 2.5,-7.7 4,-8.5 5.9,-9.4 9.2,-10.2 12.9,-11.1 14.3,-11.9 14.3,-12.8Z" fill="#c2c2c2"/>
<path d="M-13,-12.8 -13,-11.9 -11.7,-11.1 -8.2,-10.2 -5,-9.4 -3.2,-8.5 -1.8,-7.7 -0.9,-6.8 -0.4,-6 -0.2,-5.1 0,-4.3 0,4.3 -0.2,5.1 -0.4,6 -0.9,6.8 -1.8,7.7 -3.2,8.5 -5,9.4 -8.2,10.2 -11.7,11.1 -13,11.9 -13,12.8 13,12.8 13,11.9 11.7,11.1 8.2,10.2 5,9.4 3.2,8.5 1.8,7.7 0.9,6.8 0.4,6 0.2,5.1 0,4.3 0,-4.3 0.2,-5.1 0.4,-6 0.9,-6.8 1.8,-7.7 3.2,-8.5 5,-9.4 8.2,-10.2 11.7,-11.1 13,-11.9 13,-12.8Z" fill="#cccccc"/>
<path d="M-11.8,-12.8 -11.8,-11.9 -10.6,-11.1 -7.2,-10.2 -4.1,-9.4 -2.4,-8.5 -1.1,-7.7 -0.4,-6.8 -0.1,-6 0,-5.1 0,5.1 -0.1,6 -0.4,6.8 -1.1,7.7 -2.4,8.5 -4.1,9.4 -7.2,10.2 -10.6,11.1 -11.8,11.9 -11.8,12.8 11.8,12.8 11.8,11.9 10.6,11.1 7.2,10.2 4.1,9.4 2.4,8.5 1.1,7.7 0.4,6.8 0.1,6 0,5.1 0,-5.1 0.1,-6 0.4,-6.8 1.1,-7.7 2.4,-8.5 4.1,-9.4 7.2,-10.2 10.6,-11.1 11.8,-11.9 11.8,-12.8Z" fill="#d6d6d6"/>
</g></g></g>
<filter id="hm14" filterUnits="userSpaceOnUse" x="399.0" y="531.5" width="139.4" height="22.8" color-interpolation-filters="sRGB"><feGaussianBlur stdDeviation="1.1"/><feComponentTransfer><feFuncR type="table" tableValues="0 0 0 0 0.5 1 1 1 0.5"/><feFuncG type="table" tableValues="0 0 0.5 1 1 1 0.5 0 0"/><feFuncB type="table" tableValues="0.5 1 1 1 0.5 0 0 0 0"/><feFuncA type="table" tableValues="1 1"/></feComponentTransfer></filter>
<clipPath id="chm14"><rect x="399.0" y="531.5" width="139.4" height="22.8"/></clipPath>
<g clip-path="url(#chm14)"><g filter="url(#hm14)">
<rect x="399.0" y="531.5" width="139.4" height="22.8" fill="#080808"/>
<g transform="translate(468.70,542.90)">
<path d="M-75,-12.8 -75,-9.4 -33.9,-8.5 -21.1,-7.7 -18,-6.8 -16.8,-6 -16.1,-5.1 -15.6,-4.3 -15.3,-3.4 -15,-2.6 -14.7,-1.7 -14.4,-0.9 -14.2,0 -14.4,0.9 -14.7,1.7 -15,2.6 -15.3,3.4 -15.6,4.3 -16.1,5.1 -16.8,6 -18,6.8 -21.1,7.7 -33.9,8.5 -75,9.4 -75,12.8 75,12.8 75,9.4 33.9,8.5 21.1,7.7 18,6.8 16.8,6 16.1,5.1 15.6,4.3 15.3,3.4 15,2.6 14.7,1.7 14.4,0.9 14.2,0 14.4,-0.9 14.7,-1.7 15,-2.6 15.3,-3.4 15.6,-4.3 16.1,-5.1 16.8,-6 18,-6.8 21.1,-7.7 33.9,-8.5 75,-9.4 75,-12.8Z" fill="#1a1a1a"/>
<path d="M-75,-12.8 -75,-10.2 -29.6,-9.4 -20.4,-8.5 -17.1,-7.7 -15.3,-6.8 -13.9,-6 -13.1,-5.1 -12.5,-4.3 -12.2,-3.4 -11.9,-2.6 -11.6,-1.7 -11.3,-0.9 -11.1,0 -11.3,0.9 -11.6,1.7 -11.9,2.6 -12.2,3.4 -12.5,4.3 -13.1,5.1 -13.9,6 -15.3,6.8 -17.1,7.7 -20.4,8.5 -29.6,9.4 -75,10.2 -75,12.8 75,12.8 75,10.2 29.6,9.4 20.4,8.5 17.1,7.7 15.3,6.8 13.9,6 13.1,5.1 12.5,4.3 12.2,3.4 11.9,2.6 11.6,1.7 11.3,0.9 11.1,0 11.3,-0.9 11.6,-1.7 11.9,-2.6 12.2,-3.4 12.5,-4.3 13.1,-5.1 13.9,-6 15.3,-6.8 17.1,-7.7 20.4,-8.5 29.6,-9.4 75,-10.2 75,-12.8Z" fill="#333333"/>
<path d="M-75,-12.8 -75,-11.1 -40.6,-10.2 -20.3,-9.4 -16,-8.5 -14.6,-7.7 -13.2,-6.8 -12.1,-6 -11.4,-5.1 -10.9,-4.3 -10.6,-3.4 -10.3,-2.6 -10,-1.7 -9.7,-0.9 -9.4,0 -9.7,0.9 -10,1.7 -10.3,2.6 -10.6,3.4 -10.9,4.3 -11.4,5.1 -12.1,6 -13.2,6.8 -14.6,7.7 -16,8.5 -20.3,9.4 -40.6,10.2 -75,11.1 -75,12.8 75,12.8 75,11.1 40.6,10.2 20.3,9.4 16,8.5 14.6,7.7 13.2,6.8 12.1,6 11.4,5.1 10.9,4.3 10.6,3.4 10.3,2.6 10,1.7 9.7,0.9 9.4,0 9.7,-0.9 10,-1.7 10.3,-2.6 10.6,-3.4 10.9,-4.3 11.4,-5.1 12.1,-6 13.2,-6.8 14.6,-7.7 16,-8.5 20.3,-9.4 40.6,-10.2 75,-11.1 75,-12.8Z" fill="#4c4c4c"/>
<path d="M-49.2,-12.8 -49.2,-11.9 -44.3,-11.1 -29.3,-10.2 -19.4,-9.4 -16.9,-8.5 -14.9,-7.7 -12.9,-6.8 -11.3,-6 -10.4,-5.1 -9.8,-4.3 -9.4,-3.4 -9.1,-2.6 -8.8,-1.7 -8.5,-0.9 -8.2,0 -8.5,0.9 -8.8,1.7 -9.1,2.6 -9.4,3.4 -9.8,4.3 -10.4,5.1 -11.3,6 -12.9,6.8 -14.9,7.7 -16.9,8.5 -19.4,9.4 -29.3,10.2 -44.3,11.1 -49.2,11.9 -49.2,12.8 49.2,12.8 49.2,11.9 44.3,11.1 29.3,10.2 19.4,9.4 16.9,8.5 14.9,7.7 12.9,6.8 11.3,6 10.4,5.1 9.8,4.3 9.4,3.4 9.1,2.6 8.8,1.7 8.5,0.9 8.2,0 8.5,-0.9 8.8,-1.7 9.1,-2.6 9.4,-3.4 9.8,-4.3 10.4,-5.1 11.3,-6 12.9,-6.8 14.9,-7.7 16.9,-8.5 19.4,-9.4 29.3,-10.2 44.3,-11.1 49.2,-11.9 49.2,-12.8Z" fill="#5e5e5e"/>
<path d="M-28.7,-12.8 -28.7,-11.9 -26.1,-11.1 -19.6,-10.2 -14.3,-9.4 -12.7,-8.5 -11.2,-7.7 -9.6,-6.8 -8.4,-6 -7.7,-5.1 -7.1,-4.3 -6.9,-3.4 -6.6,-2.6 -6.3,-1.7 -6.1,-0.9 -5.8,0 -6.1,0.9 -6.3,1.7 -6.6,2.6 -6.9,3.4 -7.1,4.3 -7.7,5.1 -8.4,6 -9.6,6.8 -11.2,7.7 -12.7,8.5 -14.3,9.4 -19.6,10.2 -26.1,11.1 -28.7,11.9 -28.7,12.8 28.7,12.8 28.7,11.9 26.1,11.1 19.6,10.2 14.3,9.4 12.7,8.5 11.2,7.7 9.6,6.8 8.4,6 7.7,5.1 7.1,4.3 6.9,3.4 6.6,2.6 6.3,1.7 6.1,0.9 5.8,0 6.1,-0.9 6.3,-1.7 6.6,-2.6 6.9,-3.4 7.1,-4.3 7.7,-5.1 8.4,-6 9.6,-6.8 11.2,-7.7 12.7,-8.5 14.3,-9.4 19.6,-10.2 26.1,-11.1 28.7,-11.9 28.7,-12.8Z" fill="#737373"/>
<path d="M-24,-12.8 -24,-11.9 -21.9,-11.1 -16.5,-10.2 -12.1,-9.4 -10.3,-8.5 -8.6,-7.7 -6.9,-6.8 -5.4,-6 -4.2,-5.1 -3.2,-4.3 -2.3,-3.4 -1.4,-2.6 -0.9,-1.7 -0.4,-0.9 0,0 -0.4,0.9 -0.9,1.7 -1.4,2.6 -2.3,3.4 -3.2,4.3 -4.2,5.1 -5.4,6 -6.9,6.8 -8.6,7.7 -10.3,8.5 -12.1,9.4 -16.5,10.2 -21.9,11.1 -24,11.9 -24,12.8 24,12.8 24,11.9 21.9,11.1 16.5,10.2 12.1,9.4 10.3,8.5 8.6,7.7 6.9,6.8 5.4,6 4.2,5.1 3.2,4.3 2.3,3.4 1.4,2.6 0.9,1.7 0.4,0.9 0,0 0.4,-0.9 0.9,-1.7 1.4,-2.6 2.3,-3.4 3.2,-4.3 4.2,-5.1 5.4,-6 6.9,-6.8 8.6,-7.7 10.3,-8.5 12.1,-9.4 16.5,-10.2 21.9,-11.1 24,-11.9 24,-12.8Z" fill="#858585"/>
<path d="M-21.4,-12.8 -21.4,-11.9 -19.5,-11.1 -14.8,-10.2 -10.9,-9.4 -9.1,-8.5 -7.3,-7.7 -5.5,-6.8 -4,-6 -3,-5.1 -2.1,-4.3 -1.4,-3.4 -0.7,-2.6 -0.3,-1.7 -0.2,-0.9 0,0 -0.2,0.9 -0.3,1.7 -0.7,2.6 -1.4,3.4 -2.1,4.3 -3,5.1 -4,6 -5.5,6.8 -7.3,7.7 -9.1,8.5 -10.9,9.4 -14.8,10.2 -19.5,11.1 -21.4,11.9 -21.4,12.8 21.4,12.8 21.4,11.9 19.5,11.1 14.8,10.2 10.9,9.4 9.1,8.5 7.3,7.7 5.5,6.8 4,6 3,5.1 2.1,4.3 1.4,3.4 0.7,2.6 0.3,1.7 0.2,0.9 0,0 0.2,-0.9 0.3,-1.7 0.7,-2.6 1.4,-3.4 2.1,-4.3 3,-5.1 4,-6 5.5,-6.8 7.3,-7.7 9.1,-8.5 10.9,-9.4 14.8,-10.2 19.5,-11.1 21.4,-11.9 21.4,-12.8Z" fill="#949494"/>
<path d="M-18.9,-12.8 -18.9,-11.9 -17.3,-11.1 -13,-10.2 -9.4,-9.4 -7.6,-8.5 -5.8,-7.7 -4.1,-6.8 -2.7,-6 -1.8,-5.1 -1,-4.3 -0.6,-3.4 -0.1,-2.6 0,-1.7 0,1.7 -0.1,2.6 -0.6,3.4 -1,4.3 -1.8,5.1 -2.7,6 -4.1,6.8 -5.8,7.7 -7.6,8.5 -9.4,9.4 -13,10.2 -17.3,11.1 -18.9,11.9 -18.9,12.8 18.9,12.8 18.9,11.9 17.3,11.1 13,10.2 9.4,9.4 7.6,8.5 5.8,7.7 4.1,6.8 2.7,6 1.8,5.1 1,4.3 0.6,3.4 0.1,2.6 0,1.7 0,-1.7 0.1,-2.6 0.6,-3.4 1,-4.3 1.8,-5.1 2.7,-6 4.1,-6.8 5.8,-7.7 7.6,-8.5 9.4,-9.4 13,-10.2 17.3,-11.1 18.9,-11.9 18.9,-12.8Z" fill="#a3a3a3"/>
<path d="M-16.7,-12.8 -16.7,-11.9 -15.1,-11.1 -11.1,-10.2 -7.5,-9.4 -5.5,-8.5 -3.8,-7.7 -2.6,-6.8 -1.5,-6 -0.8,-5.1 -0.3,-4.3 -0.1,-3.4 0,-2.6 0,2.6 -0.1,3.4 -0.3,4.3 -0.8,5.1 -1.5,6 -2.6,6.8 -3.8,7.7 -5.5,8.5 -7.5,9.4 -11.1,10.2 -15.1,11.1 -16.7,11.9 -16.7,12.8 16.7,12.8 16.7,11.9 15.1,11.1 11.1,10.2 7.5,9.4 5.5,8.5 3.8,7.7 2.6,6.8 1.5,6 0.8,5.1 0.3,4.3 0.1,3.4 0,2.6 0,-2.6 0.1,-3.4 0.3,-4.3 0.8,-5.1 1.5,-6 2.6,-6.8 3.8,-7.7 5.5,-8.5 7.5,-9.4 11.1,-10.2 15.1,-11.1 16.7,-11.9 16.7,-12.8Z" fill="#b2b2b2"/>
<path d="M-14.8,-12.8 -14.8,-11.9 -13.3,-11.1 -9.4,-10.2 -6,-9.4 -4,-8.5 -2.5,-7.7 -1.5,-6.8 -0.8,-6 -0.3,-5.1 0,-4.3 0,4.3 -0.3,5.1 -0.8,6 -1.5,6.8 -2.5,7.7 -4,8.5 -6,9.4 -9.4,10.2 -13.3,11.1 -14.8,11.9 -14.8,12.8 14.8,12.8 14.8,11.9 13.3,11.1 9.4,10.2 6,9.4 4,8.5 2.5,7.7 1.5,6.8 0.8,6 0.3,5.1 0,4.3 0,-4.3 0.3,-5.1 0.8,-6 1.5,-6.8 2.5,-7.7 4,-8.5 6,-9.4 9.4,-10.2 13.3,-11.1 14.8,-11.9 14.8,-12.8Z" fill="#c2c2c2"/>
<path d="M-13.5,-12.8 -13.5,-11.9 -12.1,-11.1 -8.4,-10.2 -5.1,-9.4 -3.2,-8.5 -1.8,-7.7 -0.9,-6.8 -0.4,-6 -0.2,-5.1 0,-4.3 0,4.3 -0.2,5.1 -0.4,6 -0.9,6.8 -1.8,7.7 -3.2,8.5 -5.1,9.4 -8.4,10.2 -12.1,11.1 -13.5,11.9 -13.5,12.8 13.5,12.8 13.5,11.9 12.1,11.1 8.4,10.2 5.1,9.4 3.2,8.5 1.8,7.7 0.9,6.8 0.4,6 0.2,5.1 0,4.3 0,-4.3 0.2,-5.1 0.4,-6 0.9,-6.8 1.8,-7.7 3.2,-8.5 5.1,-9.4 8.4,-10.2 12.1,-11.1 13.5,-11.9 13.5,-12.8Z" fill="#cccccc"/>
<path d="M-12.3,-12.8 -12.3,-11.9 -10.9,-11.1 -7.4,-10.2 -4.2,-9.4 -2.4,-8.5 -1.1,-7.7 -0.4,-6.8 -0.1,-6 0,-5.1 0,5.1 -0.1,6 -0.4,6.8 -1.1,7.7 -2.4,8.5 -4.2,9.4 -7.4,10.2 -10.9,11.1 -12.3,11.9 -12.3,12.8 12.3,12.8 12.3,11.9 10.9,11.1 7.4,10.2 4.2,9.4 2.4,8.5 1.1,7.7 0.4,6.8 0.1,6 0,5.1 0,-5.1 0.1,-6 0.4,-6.8 1.1,-7.7 2.4,-8.5 4.2,-9.4 7.4,-10.2 10.9,-11.1 12.3,-11.9 12.3,-12.8Z" fill="#d6d6d6"/>
</g></g></g>
<filter id="hm15" filterUnits="userSpaceOnUse" x="583.0" y="531.5" width="139.4" height="22.8" color-interpolation-filters="sRGB"><feGaussianBlur stdDeviation="1.1"/><feComponentTransfer><feFuncR type="table" tableValues="0 0 0 0 0.5 1 1 1 0.5"/><feFuncG type="table" tableValues="0 0 0.5 1 1 1 0.5 0 0"/><feFuncB type="table" tableValues="0.5 1 1 1 0.5 0 0 0 0"/><feFuncA type="table" tableValues="1 1"/></feComponentTransfer></filter>
<clipPath id="chm15"><rect x="583.0" y="531.5" width="139.4" height="22.8"/></clipPath>
<g clip-path="url(#chm15)"><g filter="url(#hm15)">
<rect x="583.0" y="531.5" width="139.4" height="22.8" fill="#080808"/>
<g transform="translate(652.70,542.90)">
<path d="M-75,-12.8 -75,-9.4 -36.7,-8.5 -21.2,-7.7 -17.9,-6.8 -16.6,-6 -15.9,-5.1 -15.3,-4.3 -15.1,-3.4 -14.8,-2.6 -14.5,-1.7 -14.3,-0.9 -14,0 -14.3,0.9 -14.5,1.7 -14.8,2.6 -15.1,3.4 -15.3,4.3 -15.9,5.1 -16.6,6 -17.9,6.8 -21.2,7.7 -36.7,8.5 -75,9.4 -75,12.8 75,12.8 75,9.4 36.7,8.5 21.2,7.7 17.9,6.8 16.6,6 15.9,5.1 15.3,4.3 15.1,3.4 14.8,2.6 14.5,1.7 14.3,0.9 14,0 14.3,-0.9 14.5,-1.7 14.8,-2.6 15.1,-3.4 15.3,-4.3 15.9,-5.1 16.6,-6 17.9,-6.8 21.2,-7.7 36.7,-8.5 75,-9.4 75,-12.8Z" fill="#1a1a1a"/>
<path d="M-75,-12.8 -75,-10.2 -31,-9.4 -20.7,-8.5 -17.1,-7.7 -15.2,-6.8 -13.7,-6 -13,-5.1 -12.3,-4.3 -12.1,-3.4 -11.8,-2.6 -11.5,-1.7 -11.3,-0.9 -11,0 -11.3,0.9 -11.5,1.7 -11.8,2.6 -12.1,3.4 -12.3,4.3 -13,5.1 -13.7,6 -15.2,6.8 -17.1,7.7 -20.7,8.5 -31,9.4 -75,10.2 -75,12.8 75,12.8 75,10.2 31,9.4 20.7,8.5 17.1,7.7 15.2,6.8 13.7,6 13,5.1 12.3,4.3 12.1,3.4 11.8,2.6 11.5,1.7 11.3,0.9 11,0 11.3,-0.9 11.5,-1.7 11.8,-2.6 12.1,-3.4 12.3,-4.3 13,-5.1 13.7,-6 15.2,-6.8 17.1,-7.7 20.7,-8.5 31,-9.4 75,-10.2 75,-12.8Z" fill="#333333"/>
<path d="M-75,-12.8 -75,-11.1 -48.1,-10.2 -20.9,-9.4 -16,-8.5 -14.5,-7.7 -13.1,-6.8 -11.9,-6 -11.3,-5.1 -10.7,-4.3 -10.4,-3.4 -10.2,-2.6 -9.9,-1.7 -9.6,-0.9 -9.3,0 -9.6,0.9 -9.9,1.7 -10.2,2.6 -10.4,3.4 -10.7,4.3 -11.3,5.1 -11.9,6 -13.1,6.8 -14.5,7.7 -16,8.5 -20.9,9.4 -48.1,10.2 -75,11.1 -75,12.8 75,12.8 75,11.1 48.1,10.2 20.9,9.4 16,8.5 14.5,7.7 13.1,6.8 11.9,6 11.3,5.1 10.7,4.3 10.4,3.4 10.2,2.6 9.9,1.7 9.6,0.9 9.3,0 9.6,-0.9 9.9,-1.7 10.2,-2.6 10.4,-3.4 10.7,-4.3 11.3,-5.1 11.9,-6 13.1,-6.8 14.5,-7.7 16,-8.5 20.9,-9.4 48.1,-10.2 75,-11.1 75,-12.8Z" fill="#4c4c4c"/>
<path d="M-50.6,-12.8 -50.6,-11.9 -46.5,-11.1 -30.9,-10.2 -19.7,-9.4 -17.1,-8.5 -15,-7.7 -12.9,-6.8 -11.2,-6 -10.3,-5.1 -9.6,-4.3 -9.3,-3.4 -9.1,-2.6 -8.8,-1.7 -8.5,-0.9 -8.2,0 -8.5,0.9 -8.8,1.7 -9.1,2.6 -9.3,3.4 -9.6,4.3 -10.3,5.1 -11.2,6 -12.9,6.8 -15,7.7 -17.1,8.5 -19.7,9.4 -30.9,10.2 -46.5,11.1 -50.6,11.9 -50.6,12.8 50.6,12.8 50.6,11.9 46.5,11.1 30.9,10.2 19.7,9.4 17.1,8.5 15,7.7 12.9,6.8 11.2,6 10.3,5.1 9.6,4.3 9.3,3.4 9.1,2.6 8.8,1.7 8.5,0.9 8.2,0 8.5,-0.9 8.8,-1.7 9.1,-2.6 9.3,-3.4 9.6,-4.3 10.3,-5.1 11.2,-6 12.9,-6.8 15,-7.7 17.1,-8.5 19.7,-9.4 30.9,-10.2 46.5,-11.1 50.6,-11.9 50.6,-12.8Z" fill="#5e5e5e"/>
<path d="M-30,-12.8 -30,-11.9 -27.3,-11.1 -20.3,-10.2 -14.6,-9.4 -12.9,-8.5 -11.3,-7.7 -9.6,-6.8 -8.3,-6 -7.6,-5.1 -7.1,-4.3 -6.8,-3.4 -6.6,-2.6 -6.3,-1.7 -6.1,-0.9 -5.8,0 -6.1,0.9 -6.3,1.7 -6.6,2.6 -6.8,3.4 -7.1,4.3 -7.6,5.1 -8.3,6 -9.6,6.8 -11.3,7.7 -12.9,8.5 -14.6,9.4 -20.2,10.2 -27.3,11.1 -30,11.9 -30,12.8 30,12.8 30,11.9 27.3,11.1 20.2,10.2 14.6,9.4 12.9,8.5 11.3,7.7 9.6,6.8 8.3,6 7.6,5.1 7.1,4.3 6.8,3.4 6.6,2.6 6.3,1.7 6.1,0.9 5.8,0 6.1,-0.9 6.3,-1.7 6.6,-2.6 6.8,-3.4 7.1,-4.3 7.6,-5.1 8.3,-6 9.6,-6.8 11.3,-7.7 12.9,-8.5 14.6,-9.4 20.3,-10.2 27.3,-11.1 30,-11.9 30,-12.8Z" fill="#737373"/>
<path d="M-25,-12.8 -25,-11.9 -22.7,-11.1 -16.9,-10.2 -12.1,-9.4 -10.3,-8.5 -8.6,-7.7 -6.9,-6.8 -5.3,-6 -4.2,-5.1 -3.1,-4.3 -2.3,-3.4 -1.4,-2.6 -0.9,-1.7 -0.4,-0.9 0,0 -0.4,0.9 -0.9,1.7 -1.4,2.6 -2.3,3.4 -3.1,4.3 -4.2,5.1 -5.3,6 -6.9,6.8 -8.6,7.7 -10.3,8.5 -12.1,9.4 -16.9,10.2 -22.7,11.1 -25,11.9 -25,12.8 25,12.8 25,11.9 22.7,11.1 16.9,10.2 12.1,9.4 10.3,8.5 8.6,7.7 6.9,6.8 5.3,6 4.2,5.1 3.1,4.3 2.3,3.4 1.4,2.6 0.9,1.7 0.4,0.9 0,0 0.4,-0.9 0.9,-1.7 1.4,-2.6 2.3,-3.4 3.1,-4.3 4.2,-5.1 5.3,-6 6.9,-6.8 8.6,-7.7 10.3,-8.5 12.1,-9.4 16.9,-10.2 22.7,-11.1 25,-11.9 25,-12.8Z" fill="#858585"/>
<path d="M-22,-12.8 -22,-11.9 -20,-11.1 -15,-10.2 -10.9,-9.4 -9.1,-8.5 -7.3,-7.7 -5.5,-6.8 -4,-6 -2.9,-5.1 -2,-4.3 -1.3,-3.4 -0.7,-2.6 -0.3,-1.7 -0.2,-0.9 0,0 -0.2,0.9 -0.3,1.7 -0.7,2.6 -1.3,3.4 -2,4.3 -2.9,5.1 -4,6 -5.5,6.8 -7.3,7.7 -9.1,8.5 -10.9,9.4 -15,10.2 -20,11.1 -22,11.9 -22,12.8 22,12.8 22,11.9 20,11.1 15,10.2 10.9,9.4 9.1,8.5 7.3,7.7 5.5,6.8 4,6 2.9,5.1 2,4.3 1.3,3.4 0.7,2.6 0.3,1.7 0.2,0.9 0,0 0.2,-0.9 0.3,-1.7 0.7,-2.6 1.3,-3.4 2,-4.3 2.9,-5.1 4,-6 5.5,-6.8 7.3,-7.7 9.1,-8.5 10.9,-9.4 15,-10.2 20,-11.1 22,-11.9 22,-12.8Z" fill="#949494"/>
<path d="M-19.3,-12.8 -19.3,-11.9 -17.6,-11.1 -13.2,-10.2 -9.5,-9.4 -7.5,-8.5 -5.8,-7.7 -4.1,-6.8 -2.7,-6 -1.8,-5.1 -1,-4.3 -0.6,-3.4 -0.1,-2.6 0,-1.7 0,1.7 -0.1,2.6 -0.6,3.4 -1,4.3 -1.8,5.1 -2.7,6 -4.1,6.8 -5.8,7.7 -7.5,8.5 -9.5,9.4 -13.2,10.2 -17.6,11.1 -19.3,11.9 -19.3,12.8 19.3,12.8 19.3,11.9 17.6,11.1 13.2,10.2 9.5,9.4 7.5,8.5 5.8,7.7 4.1,6.8 2.7,6 1.8,5.1 1,4.3 0.6,3.4 0.1,2.6 0,1.7 0,-1.7 0.1,-2.6 0.6,-3.4 1,-4.3 1.8,-5.1 2.7,-6 4.1,-6.8 5.8,-7.7 7.5,-8.5 9.5,-9.4 13.2,-10.2 17.6,-11.1 19.3,-11.9 19.3,-12.8Z" fill="#a3a3a3"/>
<path d="M-17.2,-12.8 -17.2,-11.9 -15.5,-11.1 -11.3,-10.2 -7.6,-9.4 -5.5,-8.5 -3.8,-7.7 -2.6,-6.8 -1.5,-6 -0.8,-5.1 -0.3,-4.3 -0.1,-3.4 0,-2.6 0,2.6 -0.1,3.4 -0.3,4.3 -0.8,5.1 -1.5,6 -2.6,6.8 -3.8,7.7 -5.5,8.5 -7.6,9.4 -11.3,10.2 -15.5,11.1 -17.2,11.9 -17.2,12.8 17.2,12.8 17.2,11.9 15.5,11.1 11.3,10.2 7.6,9.4 5.5,8.5 3.8,7.7 2.6,6.8 1.5,6 0.8,5.1 0.3,4.3 0.1,3.4 0,2.6 0,-2.6 0.1,-3.4 0.3,-4.3 0.8,-5.1 1.5,-6 2.6,-6.8 3.8,-7.7 5.5,-8.5 7.6,-9.4 11.3,-10.2 15.5,-11.1 17.2,-11.9 17.2,-12.8Z" fill="#b2b2b2"/>
<path d="M-15.3,-12.8 -15.3,-11.9 -13.7,-11.1 -9.6,-10.2 -6.1,-9.4 -4,-8.5 -2.5,-7.7 -1.5,-6.8 -0.8,-6 -0.3,-5.1 0,-4.3 0,4.3 -0.3,5.1 -0.8,6 -1.5,6.8 -2.5,7.7 -4,8.5 -6.1,9.4 -9.6,10.2 -13.7,11.1 -15.3,11.9 -15.3,12.8 15.3,12.8 15.3,11.9 13.7,11.1 9.6,10.2 6.1,9.4 4,8.5 2.5,7.7 1.5,6.8 0.8,6 0.3,5.1 0,4.3 0,-4.3 0.3,-5.1 0.8,-6 1.5,-6.8 2.5,-7.7 4,-8.5 6.1,-9.4 9.6,-10.2 13.7,-11.1 15.3,-11.9 15.3,-12.8Z" fill="#c2c2c2"/>
<path d="M-14,-12.8 -14,-11.9 -12.5,-11.1 -8.6,-10.2 -5.2,-9.4 -3.2,-8.5 -1.8,-7.7 -0.9,-6.8 -0.4,-6 -0.2,-5.1 0,-4.3 0,4.3 -0.2,5.1 -0.4,6 -0.9,6.8 -1.8,7.7 -3.2,8.5 -5.2,9.4 -8.6,10.2 -12.5,11.1 -14,11.9 -14,12.8 14,12.8 14,11.9 12.5,11.1 8.6,10.2 5.2,9.4 3.2,8.5 1.8,7.7 0.9,6.8 0.4,6 0.2,5.1 0,4.3 0,-4.3 0.2,-5.1 0.4,-6 0.9,-6.8 1.8,-7.7 3.2,-8.5 5.2,-9.4 8.6,-10.2 12.5,-11.1 14,-11.9 14,-12.8Z" fill="#cccccc"/>
<path d="M-12.8,-12.8 -12.8,-11.9 -11.3,-11.1 -7.6,-10.2 -4.3,-9.4 -2.5,-8.5 -1.1,-7.7 -0.4,-6.8 -0.1,-6 0,-5.1 0,5.1 -0.1,6 -0.4,6.8 -1.1,7.7 -2.5,8.5 -4.3,9.4 -7.6,10.2 -11.3,11.1 -12.8,11.9 -12.8,12.8 12.8,12.8 12.8,11.9 11.3,11.1 7.6,10.2 4.3,9.4 2.5,8.5 1.1,7.7 0.4,6.8 0.1,6 0,5.1 0,-5.1 0.1,-6 0.4,-6.8 1.1,-7.7 2.5,-8.5 4.3,-9.4 7.6,-10.2 11.3,-11.1 12.8,-11.9 12.8,-12.8Z" fill="#d6d6d6"/>
</g></g></g>
<text x="36.20" y="458.30" font-size="14.5" fill="#fff" >P0</text>
<text x="219.60" y="458.30" font-size="14.5" fill="#fff" >P1</text>
<text x="404.00" y="458.30" font-size="14.5" fill="#fff" >P2</text>
<text x="588.00" y="458.30" font-size="14.5" fill="#fff" >P3</text>
<text x="36.20" y="487.10" font-size="14.5" fill="#fff" >P4</text>
<text x="219.60" y="487.10" font-size="14.5" fill="#fff" >P5</text>
<text x="404.00" y="487.10" font-size="14.5" fill="#fff" >P6</text>
<text x="588.00" y="487.10" font-size="14.5" fill="#fff" >P7</text>
<text x="36.20" y="518.50" font-size="14.5" fill="#fff" >P8</text>
<text x="219.60" y="518.50" font-size="14.5" fill="#fff" >P9</text>
<text x="404.00" y="518.50" font-size="14.5" fill="#fff" >P10</text>
<text x="588.00" y="518.50" font-size="14.5" fill="#fff" >P11</text>
<text x="36.20" y="548.30" font-size="14.5" fill="#fff" >P12</text>
<text x="219.60" y="548.30" font-size="14.5" fill="#fff" >P13</text>
<text x="404.00" y="548.30" font-size="14.5" fill="#fff" >P14</text>
<text x="588.00" y="548.30" font-size="14.5" fill="#fff" >P15</text>
<linearGradient id="jetv" x1="0" y1="0" x2="0" y2="1"><stop offset="0.000" stop-color="#800000"/><stop offset="0.125" stop-color="#ff0000"/><stop offset="0.250" stop-color="#ff8000"/><stop offset="0.375" stop-color="#ffff00"/><stop offset="0.500" stop-color="#80ff80"/><stop offset="0.625" stop-color="#00ffff"/><stop offset="0.750" stop-color="#0080ff"/><stop offset="0.875" stop-color="#0000ff"/><stop offset="1.000" stop-color="#000080"/></linearGradient>
<rect x="742" y="441.6" width="14" height="113.2" fill="url(#jetv)" stroke="#222" stroke-width="0.8"/>
<text x="760.50" y="448.00" font-size="15" fill="#000" >1</text>
<text x="760.50" y="551.80" font-size="15" fill="#000" >0</text>
<text x="545.20" y="534.40" font-size="14.2" fill="#000" >1 mm</text>
<text x="578.50" y="570.60" font-size="15" fill="#000" >0</text>
<text x="702.00" y="570.60" font-size="15" fill="#000" >6 mm</text>
<line x1="25.50" y1="560.70" x2="25.50" y2="549.70" stroke="#000" stroke-width="1.5" />
<path d="M25.5,544.3000000000001 L22.9,550.7 L28.1,550.7Z" fill="#000"/>
<line x1="24.75" y1="560.70" x2="39.00" y2="560.70" stroke="#000" stroke-width="1.5" />
<path d="M45.2,560.7 L38.7,558.1 L38.7,563.3000000000001Z" fill="#000"/>
<text x="21.60" y="541.80" font-size="15" fill="#000" >z</text>
<text x="48.40" y="564.40" font-size="15" fill="#000" >y</text>
<text x="5.60" y="450.80" font-size="21" font-weight="bold" fill="#000" >f</text>
<g fill="#888"><rect x="46.8" y="314.7" width="1.2" height="1.2"/><rect x="56.3" y="314.7" width="1.2" height="1.2"/><rect x="65.8" y="314.7" width="1.2" height="1.2"/><rect x="75.3" y="314.7" width="1.2" height="1.2"/><rect x="84.8" y="314.7" width="1.2" height="1.2"/><rect x="94.3" y="314.7" width="1.2" height="1.2"/><rect x="103.8" y="314.7" width="1.2" height="1.2"/><rect x="113.3" y="314.7" width="1.2" height="1.2"/><rect x="122.8" y="314.7" width="1.2" height="1.2"/><rect x="132.3" y="314.7" width="1.2" height="1.2"/><rect x="141.8" y="314.7" width="1.2" height="1.2"/><rect x="151.3" y="314.7" width="1.2" height="1.2"/><rect x="160.8" y="314.7" width="1.2" height="1.2"/><rect x="170.3" y="314.7" width="1.2" height="1.2"/><rect x="179.8" y="314.7" width="1.2" height="1.2"/><rect x="189.3" y="314.7" width="1.2" height="1.2"/><rect x="198.8" y="314.7" width="1.2" height="1.2"/><rect x="208.3" y="314.7" width="1.2" height="1.2"/><rect x="217.8" y="314.7" width="1.2" height="1.2"/><rect x="227.3" y="314.7" width="1.2" height="1.2"/></g>
<g fill="#888"><rect x="46.8" y="347.3" width="1.2" height="1.2"/><rect x="56.3" y="347.3" width="1.2" height="1.2"/><rect x="65.8" y="347.3" width="1.2" height="1.2"/><rect x="75.3" y="347.3" width="1.2" height="1.2"/><rect x="84.8" y="347.3" width="1.2" height="1.2"/><rect x="94.3" y="347.3" width="1.2" height="1.2"/><rect x="103.8" y="347.3" width="1.2" height="1.2"/><rect x="113.3" y="347.3" width="1.2" height="1.2"/><rect x="122.8" y="347.3" width="1.2" height="1.2"/><rect x="132.3" y="347.3" width="1.2" height="1.2"/><rect x="141.8" y="347.3" width="1.2" height="1.2"/><rect x="151.3" y="347.3" width="1.2" height="1.2"/><rect x="160.8" y="347.3" width="1.2" height="1.2"/><rect x="170.3" y="347.3" width="1.2" height="1.2"/><rect x="179.8" y="347.3" width="1.2" height="1.2"/><rect x="189.3" y="347.3" width="1.2" height="1.2"/><rect x="198.8" y="347.3" width="1.2" height="1.2"/><rect x="208.3" y="347.3" width="1.2" height="1.2"/><rect x="217.8" y="347.3" width="1.2" height="1.2"/><rect x="227.3" y="347.3" width="1.2" height="1.2"/></g>
<g fill="#888"><rect x="46.8" y="379.9" width="1.2" height="1.2"/><rect x="56.3" y="379.9" width="1.2" height="1.2"/><rect x="65.8" y="379.9" width="1.2" height="1.2"/><rect x="75.3" y="379.9" width="1.2" height="1.2"/><rect x="84.8" y="379.9" width="1.2" height="1.2"/><rect x="94.3" y="379.9" width="1.2" height="1.2"/><rect x="103.8" y="379.9" width="1.2" height="1.2"/><rect x="113.3" y="379.9" width="1.2" height="1.2"/><rect x="122.8" y="379.9" width="1.2" height="1.2"/><rect x="132.3" y="379.9" width="1.2" height="1.2"/><rect x="141.8" y="379.9" width="1.2" height="1.2"/><rect x="151.3" y="379.9" width="1.2" height="1.2"/><rect x="160.8" y="379.9" width="1.2" height="1.2"/><rect x="170.3" y="379.9" width="1.2" height="1.2"/><rect x="179.8" y="379.9" width="1.2" height="1.2"/><rect x="189.3" y="379.9" width="1.2" height="1.2"/><rect x="198.8" y="379.9" width="1.2" height="1.2"/><rect x="208.3" y="379.9" width="1.2" height="1.2"/><rect x="217.8" y="379.9" width="1.2" height="1.2"/><rect x="227.3" y="379.9" width="1.2" height="1.2"/></g>
<path d="M233.4,308.6 H37.6 V386.6 H233.4" fill="none" stroke="#333" stroke-width="1.6"/>
<line x1="233.4" y1="303.4" x2="233.4" y2="390.2" stroke="#222" stroke-width="1.4"/>
<line x1="233.4" y1="303.4" x2="233.4" y2="390.2" stroke="#111" stroke-width="2.2" stroke-dasharray="2.5 2"/>
<line x1="35.10" y1="315.30" x2="37.60" y2="315.30" stroke="#333" stroke-width="1.2" />
<line x1="233.40" y1="315.30" x2="235.90" y2="315.30" stroke="#333" stroke-width="1.2" />
<line x1="35.10" y1="347.90" x2="37.60" y2="347.90" stroke="#333" stroke-width="1.2" />
<line x1="233.40" y1="347.90" x2="235.90" y2="347.90" stroke="#333" stroke-width="1.2" />
<line x1="35.10" y1="380.50" x2="37.60" y2="380.50" stroke="#333" stroke-width="1.2" />
<line x1="233.40" y1="380.50" x2="235.90" y2="380.50" stroke="#333" stroke-width="1.2" />
<text x="31.40" y="318.60" font-size="15" text-anchor="end" fill="#000" >1</text>
<text x="31.40" y="384.60" font-size="15" text-anchor="end" fill="#000" >0</text>
<text transform="translate(13.0,350.2) rotate(-90)" font-size="15" text-anchor="middle" fill="#000">mm</text>
<text x="38.10" y="408.40" font-size="15" text-anchor="middle" fill="#000" >0</text>
<text x="210.00" y="408.20" font-size="15" fill="#000" >3 mm</text>
<text x="135.50" y="284.20" font-size="15" text-anchor="middle" fill="#000" >Stokes flow</text>
<text x="135.50" y="300.60" font-size="15" text-anchor="middle" fill="#000" >streamline migration</text>
<text x="5.60" y="284.00" font-size="21" font-weight="bold" fill="#000" >c</text>
<g fill="#e3262b"><circle cx="43.5" cy="320.9" r="1.3"/><circle cx="43.5" cy="327.6" r="1.3"/><circle cx="43.5" cy="334.3" r="1.3"/><circle cx="43.5" cy="340.9" r="1.3"/><circle cx="43.5" cy="347.6" r="1.3"/><circle cx="43.5" cy="354.3" r="1.3"/><circle cx="43.5" cy="361.0" r="1.3"/><circle cx="43.5" cy="367.7" r="1.3"/><circle cx="43.5" cy="374.3" r="1.3"/><circle cx="64.0" cy="320.9" r="1.3"/><circle cx="64.0" cy="327.6" r="1.3"/><circle cx="64.0" cy="334.3" r="1.3"/><circle cx="64.0" cy="340.9" r="1.3"/><circle cx="64.0" cy="347.6" r="1.3"/><circle cx="64.0" cy="354.3" r="1.3"/><circle cx="64.0" cy="361.0" r="1.3"/><circle cx="64.0" cy="367.7" r="1.3"/><circle cx="64.0" cy="374.3" r="1.3"/><circle cx="85.1" cy="320.9" r="1.3"/><circle cx="85.1" cy="327.6" r="1.3"/><circle cx="85.1" cy="334.3" r="1.3"/><circle cx="85.1" cy="340.9" r="1.3"/><circle cx="85.1" cy="347.6" r="1.3"/><circle cx="85.1" cy="354.3" r="1.3"/><circle cx="85.1" cy="361.0" r="1.3"/><circle cx="85.1" cy="367.7" r="1.3"/><circle cx="85.1" cy="374.3" r="1.3"/><circle cx="106.0" cy="320.9" r="1.3"/><circle cx="106.0" cy="327.6" r="1.3"/><circle cx="106.0" cy="334.3" r="1.3"/><circle cx="106.0" cy="340.9" r="1.3"/><circle cx="106.0" cy="347.6" r="1.3"/><circle cx="106.0" cy="354.3" r="1.3"/><circle cx="106.0" cy="361.0" r="1.3"/><circle cx="106.0" cy="367.7" r="1.3"/><circle cx="106.0" cy="374.3" r="1.3"/><circle cx="126.3" cy="320.9" r="1.3"/><circle cx="126.3" cy="327.6" r="1.3"/><circle cx="126.3" cy="334.3" r="1.3"/><circle cx="126.3" cy="340.9" r="1.3"/><circle cx="126.3" cy="347.6" r="1.3"/><circle cx="126.3" cy="354.3" r="1.3"/><circle cx="126.3" cy="361.0" r="1.3"/><circle cx="126.3" cy="367.7" r="1.3"/><circle cx="126.3" cy="374.3" r="1.3"/><circle cx="146.6" cy="320.9" r="1.3"/><circle cx="146.6" cy="327.6" r="1.3"/><circle cx="146.6" cy="334.3" r="1.3"/><circle cx="146.6" cy="340.9" r="1.3"/><circle cx="146.6" cy="347.6" r="1.3"/><circle cx="146.6" cy="354.3" r="1.3"/><circle cx="146.6" cy="361.0" r="1.3"/><circle cx="146.6" cy="367.7" r="1.3"/><circle cx="146.6" cy="374.3" r="1.3"/><circle cx="167.0" cy="320.9" r="1.3"/><circle cx="167.0" cy="327.6" r="1.3"/><circle cx="167.0" cy="334.3" r="1.3"/><circle cx="167.0" cy="340.9" r="1.3"/><circle cx="167.0" cy="347.6" r="1.3"/><circle cx="167.0" cy="354.3" r="1.3"/><circle cx="167.0" cy="361.0" r="1.3"/><circle cx="167.0" cy="367.7" r="1.3"/><circle cx="167.0" cy="374.3" r="1.3"/><circle cx="187.3" cy="320.9" r="1.3"/><circle cx="187.3" cy="327.6" r="1.3"/><circle cx="187.3" cy="334.3" r="1.3"/><circle cx="187.3" cy="340.9" r="1.3"/><circle cx="187.3" cy="347.6" r="1.3"/><circle cx="187.3" cy="354.3" r="1.3"/><circle cx="187.3" cy="361.0" r="1.3"/><circle cx="187.3" cy="367.7" r="1.3"/><circle cx="187.3" cy="374.3" r="1.3"/><circle cx="207.3" cy="320.9" r="1.3"/><circle cx="207.3" cy="327.6" r="1.3"/><circle cx="207.3" cy="334.3" r="1.3"/><circle cx="207.3" cy="340.9" r="1.3"/><circle cx="207.3" cy="347.6" r="1.3"/><circle cx="207.3" cy="354.3" r="1.3"/><circle cx="207.3" cy="361.0" r="1.3"/><circle cx="207.3" cy="367.7" r="1.3"/><circle cx="207.3" cy="374.3" r="1.3"/><circle cx="227.3" cy="320.9" r="1.3"/><circle cx="227.3" cy="327.6" r="1.3"/><circle cx="227.3" cy="334.3" r="1.3"/><circle cx="227.3" cy="340.9" r="1.3"/><circle cx="227.3" cy="347.6" r="1.3"/><circle cx="227.3" cy="354.3" r="1.3"/><circle cx="227.3" cy="361.0" r="1.3"/><circle cx="227.3" cy="367.7" r="1.3"/><circle cx="227.3" cy="374.3" r="1.3"/></g>
<line x1="43.60" y1="381.00" x2="43.60" y2="369.00" stroke="#000" stroke-width="1.5" />
<path d="M43.6,364.0 L41.0,370.5 L46.2,370.5Z" fill="#000"/>
<line x1="42.85" y1="381.00" x2="57.60" y2="381.00" stroke="#000" stroke-width="1.5" />
<path d="M63.1,381.0 L56.6,378.4 L56.6,383.6Z" fill="#000"/>
<text x="40.60" y="359.60" font-size="15" fill="#000" >z</text>
<text x="64.80" y="384.00" font-size="15" fill="#000" >y</text>
<g fill="#888"><rect x="312.2" y="314.7" width="1.2" height="1.2"/><rect x="321.7" y="314.7" width="1.2" height="1.2"/><rect x="331.2" y="314.7" width="1.2" height="1.2"/><rect x="340.7" y="314.7" width="1.2" height="1.2"/><rect x="350.2" y="314.7" width="1.2" height="1.2"/><rect x="359.7" y="314.7" width="1.2" height="1.2"/><rect x="369.2" y="314.7" width="1.2" height="1.2"/><rect x="378.7" y="314.7" width="1.2" height="1.2"/><rect x="388.2" y="314.7" width="1.2" height="1.2"/><rect x="397.7" y="314.7" width="1.2" height="1.2"/><rect x="407.2" y="314.7" width="1.2" height="1.2"/><rect x="416.7" y="314.7" width="1.2" height="1.2"/><rect x="426.2" y="314.7" width="1.2" height="1.2"/><rect x="435.7" y="314.7" width="1.2" height="1.2"/><rect x="445.2" y="314.7" width="1.2" height="1.2"/><rect x="454.7" y="314.7" width="1.2" height="1.2"/><rect x="464.2" y="314.7" width="1.2" height="1.2"/><rect x="473.7" y="314.7" width="1.2" height="1.2"/><rect x="483.2" y="314.7" width="1.2" height="1.2"/><rect x="492.7" y="314.7" width="1.2" height="1.2"/></g>
<g fill="#888"><rect x="312.2" y="347.3" width="1.2" height="1.2"/><rect x="321.7" y="347.3" width="1.2" height="1.2"/><rect x="331.2" y="347.3" width="1.2" height="1.2"/><rect x="340.7" y="347.3" width="1.2" height="1.2"/><rect x="350.2" y="347.3" width="1.2" height="1.2"/><rect x="359.7" y="347.3" width="1.2" height="1.2"/><rect x="369.2" y="347.3" width="1.2" height="1.2"/><rect x="378.7" y="347.3" width="1.2" height="1.2"/><rect x="388.2" y="347.3" width="1.2" height="1.2"/><rect x="397.7" y="347.3" width="1.2" height="1.2"/><rect x="407.2" y="347.3" width="1.2" height="1.2"/><rect x="416.7" y="347.3" width="1.2" height="1.2"/><rect x="426.2" y="347.3" width="1.2" height="1.2"/><rect x="435.7" y="347.3" width="1.2" height="1.2"/><rect x="445.2" y="347.3" width="1.2" height="1.2"/><rect x="454.7" y="347.3" width="1.2" height="1.2"/><rect x="464.2" y="347.3" width="1.2" height="1.2"/><rect x="473.7" y="347.3" width="1.2" height="1.2"/><rect x="483.2" y="347.3" width="1.2" height="1.2"/><rect x="492.7" y="347.3" width="1.2" height="1.2"/></g>
<g fill="#888"><rect x="312.2" y="379.9" width="1.2" height="1.2"/><rect x="321.7" y="379.9" width="1.2" height="1.2"/><rect x="331.2" y="379.9" width="1.2" height="1.2"/><rect x="340.7" y="379.9" width="1.2" height="1.2"/><rect x="350.2" y="379.9" width="1.2" height="1.2"/><rect x="359.7" y="379.9" width="1.2" height="1.2"/><rect x="369.2" y="379.9" width="1.2" height="1.2"/><rect x="378.7" y="379.9" width="1.2" height="1.2"/><rect x="388.2" y="379.9" width="1.2" height="1.2"/><rect x="397.7" y="379.9" width="1.2" height="1.2"/><rect x="407.2" y="379.9" width="1.2" height="1.2"/><rect x="416.7" y="379.9" width="1.2" height="1.2"/><rect x="426.2" y="379.9" width="1.2" height="1.2"/><rect x="435.7" y="379.9" width="1.2" height="1.2"/><rect x="445.2" y="379.9" width="1.2" height="1.2"/><rect x="454.7" y="379.9" width="1.2" height="1.2"/><rect x="464.2" y="379.9" width="1.2" height="1.2"/><rect x="473.7" y="379.9" width="1.2" height="1.2"/><rect x="483.2" y="379.9" width="1.2" height="1.2"/><rect x="492.7" y="379.9" width="1.2" height="1.2"/></g>
<path d="M498.8,308.6 H303.0 V386.6 H498.8" fill="none" stroke="#333" stroke-width="1.6"/>
<line x1="498.8" y1="303.4" x2="498.8" y2="390.2" stroke="#222" stroke-width="1.4"/>
<line x1="498.8" y1="303.4" x2="498.8" y2="390.2" stroke="#111" stroke-width="2.2" stroke-dasharray="2.5 2"/>
<line x1="300.50" y1="315.30" x2="303.00" y2="315.30" stroke="#333" stroke-width="1.2" />
<line x1="498.80" y1="315.30" x2="501.30" y2="315.30" stroke="#333" stroke-width="1.2" />
<line x1="300.50" y1="347.90" x2="303.00" y2="347.90" stroke="#333" stroke-width="1.2" />
<line x1="498.80" y1="347.90" x2="501.30" y2="347.90" stroke="#333" stroke-width="1.2" />
<line x1="300.50" y1="380.50" x2="303.00" y2="380.50" stroke="#333" stroke-width="1.2" />
<line x1="498.80" y1="380.50" x2="501.30" y2="380.50" stroke="#333" stroke-width="1.2" />
<text x="296.80" y="318.60" font-size="15" text-anchor="end" fill="#000" >1</text>
<text x="296.80" y="384.60" font-size="15" text-anchor="end" fill="#000" >0</text>
<text transform="translate(278.4,350.2) rotate(-90)" font-size="15" text-anchor="middle" fill="#000">mm</text>
<text x="303.50" y="408.40" font-size="15" text-anchor="middle" fill="#000" >0</text>
<text x="482.80" y="408.20" font-size="15" fill="#000" >3 mm</text>
<text x="400.90" y="284.20" font-size="15" text-anchor="middle" fill="#000" >Inertial flow</text>
<text x="400.90" y="300.60" font-size="15" text-anchor="middle" fill="#000" >streamline migration</text>
<text x="269.80" y="284.00" font-size="21" font-weight="bold" fill="#000" >d</text>
<g><line x1="310.00" y1="315.30" x2="305.65" y2="314.48" stroke="#e8141c" stroke-width="2.1"/><path d="M307.91,312.88 L304.67,314.30 L307.18,316.80" fill="none" stroke="#e8141c" stroke-width="2.1" stroke-linejoin="miter" stroke-miterlimit="6"/><line x1="310.77" y1="321.87" x2="307.30" y2="320.97" stroke="#e8141c" stroke-width="2.6" stroke-linecap="round"/><line x1="311.40" y1="328.58" x2="309.71" y2="327.50" stroke="#e8141c" stroke-width="2.6" stroke-linecap="round"/><line x1="310.81" y1="335.25" x2="312.43" y2="334.07" stroke="#e8141c" stroke-width="2.6" stroke-linecap="round"/><line x1="311.34" y1="341.40" x2="313.55" y2="341.16" stroke="#e8141c" stroke-width="2.6" stroke-linecap="round"/><line x1="311.40" y1="347.90" x2="313.94" y2="347.90" stroke="#e8141c" stroke-width="2.6" stroke-linecap="round"/><line x1="311.34" y1="354.40" x2="313.55" y2="354.64" stroke="#e8141c" stroke-width="2.6" stroke-linecap="round"/><line x1="310.81" y1="360.55" x2="312.43" y2="361.73" stroke="#e8141c" stroke-width="2.6" stroke-linecap="round"/><line x1="311.40" y1="367.22" x2="309.71" y2="368.30" stroke="#e8141c" stroke-width="2.6" stroke-linecap="round"/><line x1="310.77" y1="373.93" x2="307.30" y2="374.83" stroke="#e8141c" stroke-width="2.6" stroke-linecap="round"/><line x1="310.00" y1="380.50" x2="305.65" y2="381.32" stroke="#e8141c" stroke-width="2.1"/><path d="M307.18,379.00 L304.67,381.50 L307.91,382.92" fill="none" stroke="#e8141c" stroke-width="2.1" stroke-linejoin="miter" stroke-miterlimit="6"/><line x1="330.50" y1="315.30" x2="320.35" y2="315.30" stroke="#e8141c" stroke-width="2.1"/><path d="M323.99,312.14 L319.35,315.30 L323.99,318.46" fill="none" stroke="#e8141c" stroke-width="2.1" stroke-linejoin="miter" stroke-miterlimit="6"/><line x1="331.08" y1="321.82" x2="325.64" y2="321.82" stroke="#e8141c" stroke-width="2.1"/><path d="M327.87,319.62 L324.64,321.82 L327.87,324.02" fill="none" stroke="#e8141c" stroke-width="2.1" stroke-linejoin="miter" stroke-miterlimit="6"/><line x1="331.72" y1="328.34" x2="329.37" y2="328.34" stroke="#e8141c" stroke-width="2.6" stroke-linecap="round"/><line x1="331.42" y1="334.86" x2="333.42" y2="334.86" stroke="#e8141c" stroke-width="2.6" stroke-linecap="round"/><line x1="332.04" y1="341.38" x2="334.83" y2="341.38" stroke="#e8141c" stroke-width="2.1"/><path d="M333.39,343.04 L335.83,341.38 L333.39,339.72" fill="none" stroke="#e8141c" stroke-width="2.1" stroke-linejoin="miter" stroke-miterlimit="6"/><line x1="332.10" y1="347.90" x2="335.59" y2="347.90" stroke="#e8141c" stroke-width="2.1"/><path d="M333.94,349.70 L336.59,347.90 L333.94,346.10" fill="none" stroke="#e8141c" stroke-width="2.1" stroke-linejoin="miter" stroke-miterlimit="6"/><line x1="332.04" y1="354.42" x2="334.83" y2="354.42" stroke="#e8141c" stroke-width="2.1"/><path d="M333.39,356.08 L335.83,354.42 L333.39,352.76" fill="none" stroke="#e8141c" stroke-width="2.1" stroke-linejoin="miter" stroke-miterlimit="6"/><line x1="331.42" y1="360.94" x2="333.42" y2="360.94" stroke="#e8141c" stroke-width="2.6" stroke-linecap="round"/><line x1="331.72" y1="367.46" x2="329.37" y2="367.46" stroke="#e8141c" stroke-width="2.6" stroke-linecap="round"/><line x1="331.08" y1="373.98" x2="325.64" y2="373.98" stroke="#e8141c" stroke-width="2.1"/><path d="M327.87,371.78 L324.64,373.98 L327.87,376.18" fill="none" stroke="#e8141c" stroke-width="2.1" stroke-linejoin="miter" stroke-miterlimit="6"/><line x1="330.50" y1="380.50" x2="320.35" y2="380.50" stroke="#e8141c" stroke-width="2.1"/><path d="M323.99,377.34 L319.35,380.50 L323.99,383.66" fill="none" stroke="#e8141c" stroke-width="2.1" stroke-linejoin="miter" stroke-miterlimit="6"/><line x1="351.00" y1="315.30" x2="336.87" y2="315.30" stroke="#e8141c" stroke-width="2.1"/><path d="M341.71,311.33 L335.87,315.30 L341.71,319.27" fill="none" stroke="#e8141c" stroke-width="2.1" stroke-linejoin="miter" stroke-miterlimit="6"/><line x1="351.58" y1="321.82" x2="343.84" y2="321.82" stroke="#e8141c" stroke-width="2.1"/><path d="M346.76,319.15 L342.84,321.82 L346.76,324.49" fill="none" stroke="#e8141c" stroke-width="2.1" stroke-linejoin="miter" stroke-miterlimit="6"/><line x1="352.22" y1="328.34" x2="349.17" y2="328.34" stroke="#e8141c" stroke-width="2.6" stroke-linecap="round"/><line x1="352.12" y1="334.86" x2="354.12" y2="334.86" stroke="#e8141c" stroke-width="2.6" stroke-linecap="round"/><line x1="352.54" y1="341.38" x2="356.68" y2="341.38" stroke="#e8141c" stroke-width="2.1"/><path d="M354.84,343.31 L357.68,341.38 L354.84,339.45" fill="none" stroke="#e8141c" stroke-width="2.1" stroke-linejoin="miter" stroke-miterlimit="6"/><line x1="352.60" y1="347.90" x2="357.68" y2="347.90" stroke="#e8141c" stroke-width="2.1"/><path d="M355.56,350.03 L358.68,347.90 L355.56,345.77" fill="none" stroke="#e8141c" stroke-width="2.1" stroke-linejoin="miter" stroke-miterlimit="6"/><line x1="352.54" y1="354.42" x2="356.68" y2="354.42" stroke="#e8141c" stroke-width="2.1"/><path d="M354.84,356.35 L357.68,354.42 L354.84,352.49" fill="none" stroke="#e8141c" stroke-width="2.1" stroke-linejoin="miter" stroke-miterlimit="6"/><line x1="352.12" y1="360.94" x2="354.12" y2="360.94" stroke="#e8141c" stroke-width="2.6" stroke-linecap="round"/><line x1="352.22" y1="367.46" x2="349.17" y2="367.46" stroke="#e8141c" stroke-width="2.6" stroke-linecap="round"/><line x1="351.58" y1="373.98" x2="343.84" y2="373.98" stroke="#e8141c" stroke-width="2.1"/><path d="M346.76,371.31 L342.84,373.98 L346.76,376.65" fill="none" stroke="#e8141c" stroke-width="2.1" stroke-linejoin="miter" stroke-miterlimit="6"/><line x1="351.00" y1="380.50" x2="336.87" y2="380.50" stroke="#e8141c" stroke-width="2.1"/><path d="M341.71,376.53 L335.87,380.50 L341.71,384.47" fill="none" stroke="#e8141c" stroke-width="2.1" stroke-linejoin="miter" stroke-miterlimit="6"/><line x1="372.00" y1="315.30" x2="355.54" y2="315.30" stroke="#e8141c" stroke-width="2.1"/><path d="M360.74,311.08 L354.54,315.30 L360.74,319.52" fill="none" stroke="#e8141c" stroke-width="2.1" stroke-linejoin="miter" stroke-miterlimit="6"/><line x1="372.58" y1="321.82" x2="363.50" y2="321.82" stroke="#e8141c" stroke-width="2.1"/><path d="M366.82,318.88 L362.50,321.82 L366.82,324.76" fill="none" stroke="#e8141c" stroke-width="2.1" stroke-linejoin="miter" stroke-miterlimit="6"/><line x1="373.22" y1="328.34" x2="369.76" y2="328.34" stroke="#e8141c" stroke-width="2.6" stroke-linecap="round"/><line x1="373.14" y1="334.86" x2="375.34" y2="334.86" stroke="#e8141c" stroke-width="2.6" stroke-linecap="round"/><line x1="373.54" y1="341.38" x2="378.48" y2="341.38" stroke="#e8141c" stroke-width="2.1"/><path d="M376.39,343.48 L379.48,341.38 L376.39,339.28" fill="none" stroke="#e8141c" stroke-width="2.1" stroke-linejoin="miter" stroke-miterlimit="6"/><line x1="373.60" y1="347.90" x2="379.62" y2="347.90" stroke="#e8141c" stroke-width="2.1"/><path d="M377.21,350.22 L380.62,347.90 L377.21,345.58" fill="none" stroke="#e8141c" stroke-width="2.1" stroke-linejoin="miter" stroke-miterlimit="6"/><line x1="373.54" y1="354.42" x2="378.48" y2="354.42" stroke="#e8141c" stroke-width="2.1"/><path d="M376.39,356.52 L379.48,354.42 L376.39,352.32" fill="none" stroke="#e8141c" stroke-width="2.1" stroke-linejoin="miter" stroke-miterlimit="6"/><line x1="373.14" y1="360.94" x2="375.34" y2="360.94" stroke="#e8141c" stroke-width="2.6" stroke-linecap="round"/><line x1="373.22" y1="367.46" x2="369.76" y2="367.46" stroke="#e8141c" stroke-width="2.6" stroke-linecap="round"/><line x1="372.58" y1="373.98" x2="363.50" y2="373.98" stroke="#e8141c" stroke-width="2.1"/><path d="M366.82,371.04 L362.50,373.98 L366.82,376.92" fill="none" stroke="#e8141c" stroke-width="2.1" stroke-linejoin="miter" stroke-miterlimit="6"/><line x1="372.00" y1="380.50" x2="355.54" y2="380.50" stroke="#e8141c" stroke-width="2.1"/><path d="M360.74,376.28 L354.54,380.50 L360.74,384.72" fill="none" stroke="#e8141c" stroke-width="2.1" stroke-linejoin="miter" stroke-miterlimit="6"/><line x1="393.50" y1="315.30" x2="376.85" y2="315.30" stroke="#e8141c" stroke-width="2.1"/><path d="M382.05,311.08 L375.85,315.30 L382.05,319.52" fill="none" stroke="#e8141c" stroke-width="2.1" stroke-linejoin="miter" stroke-miterlimit="6"/><line x1="394.08" y1="321.82" x2="384.88" y2="321.82" stroke="#e8141c" stroke-width="2.1"/><path d="M388.24,318.86 L383.88,321.82 L388.24,324.78" fill="none" stroke="#e8141c" stroke-width="2.1" stroke-linejoin="miter" stroke-miterlimit="6"/><line x1="394.72" y1="328.34" x2="391.23" y2="328.34" stroke="#e8141c" stroke-width="2.6" stroke-linecap="round"/><line x1="394.64" y1="334.86" x2="396.86" y2="334.86" stroke="#e8141c" stroke-width="2.6" stroke-linecap="round"/><line x1="395.04" y1="341.38" x2="400.04" y2="341.38" stroke="#e8141c" stroke-width="2.1"/><path d="M397.94,343.49 L401.04,341.38 L397.94,339.27" fill="none" stroke="#e8141c" stroke-width="2.1" stroke-linejoin="miter" stroke-miterlimit="6"/><line x1="395.10" y1="347.90" x2="401.20" y2="347.90" stroke="#e8141c" stroke-width="2.1"/><path d="M398.77,350.23 L402.20,347.90 L398.77,345.57" fill="none" stroke="#e8141c" stroke-width="2.1" stroke-linejoin="miter" stroke-miterlimit="6"/><line x1="395.04" y1="354.42" x2="400.04" y2="354.42" stroke="#e8141c" stroke-width="2.1"/><path d="M397.94,356.53 L401.04,354.42 L397.94,352.31" fill="none" stroke="#e8141c" stroke-width="2.1" stroke-linejoin="miter" stroke-miterlimit="6"/><line x1="394.64" y1="360.94" x2="396.86" y2="360.94" stroke="#e8141c" stroke-width="2.6" stroke-linecap="round"/><line x1="394.72" y1="367.46" x2="391.23" y2="367.46" stroke="#e8141c" stroke-width="2.6" stroke-linecap="round"/><line x1="394.08" y1="373.98" x2="384.88" y2="373.98" stroke="#e8141c" stroke-width="2.1"/><path d="M388.24,371.02 L383.88,373.98 L388.24,376.94" fill="none" stroke="#e8141c" stroke-width="2.1" stroke-linejoin="miter" stroke-miterlimit="6"/><line x1="393.50" y1="380.50" x2="376.85" y2="380.50" stroke="#e8141c" stroke-width="2.1"/><path d="M382.05,376.28 L375.85,380.50 L382.05,384.72" fill="none" stroke="#e8141c" stroke-width="2.1" stroke-linejoin="miter" stroke-miterlimit="6"/><line x1="415.00" y1="315.30" x2="401.45" y2="315.30" stroke="#e8141c" stroke-width="2.1"/><path d="M406.12,311.45 L400.45,315.30 L406.12,319.15" fill="none" stroke="#e8141c" stroke-width="2.1" stroke-linejoin="miter" stroke-miterlimit="6"/><line x1="415.58" y1="321.82" x2="408.18" y2="321.82" stroke="#e8141c" stroke-width="2.1"/><path d="M411.00,319.22 L407.18,321.82 L411.00,324.42" fill="none" stroke="#e8141c" stroke-width="2.1" stroke-linejoin="miter" stroke-miterlimit="6"/><line x1="416.22" y1="328.34" x2="413.27" y2="328.34" stroke="#e8141c" stroke-width="2.6" stroke-linecap="round"/><line x1="416.09" y1="334.86" x2="418.09" y2="334.86" stroke="#e8141c" stroke-width="2.6" stroke-linecap="round"/><line x1="416.54" y1="341.38" x2="420.49" y2="341.38" stroke="#e8141c" stroke-width="2.1"/><path d="M418.70,343.27 L421.49,341.38 L418.70,339.49" fill="none" stroke="#e8141c" stroke-width="2.1" stroke-linejoin="miter" stroke-miterlimit="6"/><line x1="416.60" y1="347.90" x2="421.45" y2="347.90" stroke="#e8141c" stroke-width="2.1"/><path d="M419.40,349.98 L422.45,347.90 L419.40,345.82" fill="none" stroke="#e8141c" stroke-width="2.1" stroke-linejoin="miter" stroke-miterlimit="6"/><line x1="416.54" y1="354.42" x2="420.49" y2="354.42" stroke="#e8141c" stroke-width="2.1"/><path d="M418.70,356.31 L421.49,354.42 L418.70,352.53" fill="none" stroke="#e8141c" stroke-width="2.1" stroke-linejoin="miter" stroke-miterlimit="6"/><line x1="416.09" y1="360.94" x2="418.09" y2="360.94" stroke="#e8141c" stroke-width="2.6" stroke-linecap="round"/><line x1="416.22" y1="367.46" x2="413.27" y2="367.46" stroke="#e8141c" stroke-width="2.6" stroke-linecap="round"/><line x1="415.58" y1="373.98" x2="408.18" y2="373.98" stroke="#e8141c" stroke-width="2.1"/><path d="M411.00,371.38 L407.18,373.98 L411.00,376.58" fill="none" stroke="#e8141c" stroke-width="2.1" stroke-linejoin="miter" stroke-miterlimit="6"/><line x1="415.00" y1="380.50" x2="401.45" y2="380.50" stroke="#e8141c" stroke-width="2.1"/><path d="M406.12,376.65 L400.45,380.50 L406.12,384.35" fill="none" stroke="#e8141c" stroke-width="2.1" stroke-linejoin="miter" stroke-miterlimit="6"/><line x1="435.30" y1="315.30" x2="425.05" y2="315.30" stroke="#e8141c" stroke-width="2.1"/><path d="M428.72,312.12 L424.05,315.30 L428.72,318.48" fill="none" stroke="#e8141c" stroke-width="2.1" stroke-linejoin="miter" stroke-miterlimit="6"/><line x1="435.88" y1="321.82" x2="430.38" y2="321.82" stroke="#e8141c" stroke-width="2.1"/><path d="M432.63,319.61 L429.38,321.82 L432.63,324.03" fill="none" stroke="#e8141c" stroke-width="2.1" stroke-linejoin="miter" stroke-miterlimit="6"/><line x1="436.52" y1="328.34" x2="434.15" y2="328.34" stroke="#e8141c" stroke-width="2.6" stroke-linecap="round"/><line x1="436.22" y1="334.86" x2="438.22" y2="334.86" stroke="#e8141c" stroke-width="2.6" stroke-linecap="round"/><line x1="436.84" y1="341.38" x2="439.66" y2="341.38" stroke="#e8141c" stroke-width="2.1"/><path d="M438.22,343.04 L440.66,341.38 L438.22,339.72" fill="none" stroke="#e8141c" stroke-width="2.1" stroke-linejoin="miter" stroke-miterlimit="6"/><line x1="436.90" y1="347.90" x2="440.42" y2="347.90" stroke="#e8141c" stroke-width="2.1"/><path d="M438.77,349.71 L441.42,347.90 L438.77,346.09" fill="none" stroke="#e8141c" stroke-width="2.1" stroke-linejoin="miter" stroke-miterlimit="6"/><line x1="436.84" y1="354.42" x2="439.66" y2="354.42" stroke="#e8141c" stroke-width="2.1"/><path d="M438.22,356.08 L440.66,354.42 L438.22,352.76" fill="none" stroke="#e8141c" stroke-width="2.1" stroke-linejoin="miter" stroke-miterlimit="6"/><line x1="436.22" y1="360.94" x2="438.22" y2="360.94" stroke="#e8141c" stroke-width="2.6" stroke-linecap="round"/><line x1="436.52" y1="367.46" x2="434.15" y2="367.46" stroke="#e8141c" stroke-width="2.6" stroke-linecap="round"/><line x1="435.88" y1="373.98" x2="430.38" y2="373.98" stroke="#e8141c" stroke-width="2.1"/><path d="M432.63,371.77 L429.38,373.98 L432.63,376.19" fill="none" stroke="#e8141c" stroke-width="2.1" stroke-linejoin="miter" stroke-miterlimit="6"/><line x1="435.30" y1="380.50" x2="425.05" y2="380.50" stroke="#e8141c" stroke-width="2.1"/><path d="M428.72,377.32 L424.05,380.50 L428.72,383.68" fill="none" stroke="#e8141c" stroke-width="2.1" stroke-linejoin="miter" stroke-miterlimit="6"/><line x1="455.80" y1="315.30" x2="449.04" y2="315.30" stroke="#e8141c" stroke-width="2.1"/><path d="M451.67,312.83 L448.04,315.30 L451.67,317.77" fill="none" stroke="#e8141c" stroke-width="2.1" stroke-linejoin="miter" stroke-miterlimit="6"/><line x1="456.38" y1="321.82" x2="452.90" y2="321.82" stroke="#e8141c" stroke-width="2.1"/><path d="M454.54,320.02 L451.90,321.82 L454.54,323.62" fill="none" stroke="#e8141c" stroke-width="2.1" stroke-linejoin="miter" stroke-miterlimit="6"/><line x1="457.14" y1="328.34" x2="455.14" y2="328.34" stroke="#e8141c" stroke-width="2.6" stroke-linecap="round"/><line x1="456.54" y1="334.86" x2="458.54" y2="334.86" stroke="#e8141c" stroke-width="2.6" stroke-linecap="round"/><line x1="457.14" y1="341.38" x2="460.18" y2="341.38" stroke="#e8141c" stroke-width="2.6" stroke-linecap="round"/><line x1="457.20" y1="347.90" x2="460.72" y2="347.90" stroke="#e8141c" stroke-width="2.6" stroke-linecap="round"/><line x1="457.14" y1="354.42" x2="460.18" y2="354.42" stroke="#e8141c" stroke-width="2.6" stroke-linecap="round"/><line x1="456.54" y1="360.94" x2="458.54" y2="360.94" stroke="#e8141c" stroke-width="2.6" stroke-linecap="round"/><line x1="457.14" y1="367.46" x2="455.14" y2="367.46" stroke="#e8141c" stroke-width="2.6" stroke-linecap="round"/><line x1="456.38" y1="373.98" x2="452.90" y2="373.98" stroke="#e8141c" stroke-width="2.1"/><path d="M454.54,372.18 L451.90,373.98 L454.54,375.78" fill="none" stroke="#e8141c" stroke-width="2.1" stroke-linejoin="miter" stroke-miterlimit="6"/><line x1="455.80" y1="380.50" x2="449.04" y2="380.50" stroke="#e8141c" stroke-width="2.1"/><path d="M451.67,378.03 L448.04,380.50 L451.67,382.97" fill="none" stroke="#e8141c" stroke-width="2.1" stroke-linejoin="miter" stroke-miterlimit="6"/><line x1="476.70" y1="315.30" x2="473.63" y2="315.30" stroke="#e8141c" stroke-width="2.1"/><path d="M475.15,313.58 L472.63,315.30 L475.15,317.02" fill="none" stroke="#e8141c" stroke-width="2.1" stroke-linejoin="miter" stroke-miterlimit="6"/><line x1="477.48" y1="321.82" x2="474.72" y2="321.82" stroke="#e8141c" stroke-width="2.6" stroke-linecap="round"/><line x1="478.37" y1="328.34" x2="476.37" y2="328.34" stroke="#e8141c" stroke-width="2.6" stroke-linecap="round"/><line x1="477.25" y1="334.86" x2="479.25" y2="334.86" stroke="#e8141c" stroke-width="2.6" stroke-linecap="round"/><line x1="477.93" y1="341.38" x2="479.93" y2="341.38" stroke="#e8141c" stroke-width="2.6" stroke-linecap="round"/><line x1="478.10" y1="347.90" x2="480.14" y2="347.90" stroke="#e8141c" stroke-width="2.6" stroke-linecap="round"/><line x1="477.93" y1="354.42" x2="479.93" y2="354.42" stroke="#e8141c" stroke-width="2.6" stroke-linecap="round"/><line x1="477.25" y1="360.94" x2="479.25" y2="360.94" stroke="#e8141c" stroke-width="2.6" stroke-linecap="round"/><line x1="478.37" y1="367.46" x2="476.37" y2="367.46" stroke="#e8141c" stroke-width="2.6" stroke-linecap="round"/><line x1="477.48" y1="373.98" x2="474.72" y2="373.98" stroke="#e8141c" stroke-width="2.6" stroke-linecap="round"/><line x1="476.70" y1="380.50" x2="473.63" y2="380.50" stroke="#e8141c" stroke-width="2.1"/><path d="M475.15,378.78 L472.63,380.50 L475.15,382.22" fill="none" stroke="#e8141c" stroke-width="2.1" stroke-linejoin="miter" stroke-miterlimit="6"/><line x1="497.42" y1="315.30" x2="495.42" y2="315.30" stroke="#e8141c" stroke-width="2.6" stroke-linecap="round"/><line x1="498.24" y1="321.82" x2="496.24" y2="321.82" stroke="#e8141c" stroke-width="2.6" stroke-linecap="round"/><line x1="498.92" y1="328.34" x2="496.92" y2="328.34" stroke="#e8141c" stroke-width="2.6" stroke-linecap="round"/><line x1="497.40" y1="334.86" x2="499.40" y2="334.86" stroke="#e8141c" stroke-width="2.6" stroke-linecap="round"/><line x1="497.73" y1="341.38" x2="499.73" y2="341.38" stroke="#e8141c" stroke-width="2.6" stroke-linecap="round"/><line x1="497.83" y1="347.90" x2="499.83" y2="347.90" stroke="#e8141c" stroke-width="2.6" stroke-linecap="round"/><line x1="497.73" y1="354.42" x2="499.73" y2="354.42" stroke="#e8141c" stroke-width="2.6" stroke-linecap="round"/><line x1="497.40" y1="360.94" x2="499.40" y2="360.94" stroke="#e8141c" stroke-width="2.6" stroke-linecap="round"/><line x1="498.92" y1="367.46" x2="496.92" y2="367.46" stroke="#e8141c" stroke-width="2.6" stroke-linecap="round"/><line x1="498.24" y1="373.98" x2="496.24" y2="373.98" stroke="#e8141c" stroke-width="2.6" stroke-linecap="round"/><line x1="497.42" y1="380.50" x2="495.42" y2="380.50" stroke="#e8141c" stroke-width="2.6" stroke-linecap="round"/></g>
<g fill="#888"><rect x="579.0" y="314.7" width="1.2" height="1.2"/><rect x="588.5" y="314.7" width="1.2" height="1.2"/><rect x="598.0" y="314.7" width="1.2" height="1.2"/><rect x="607.5" y="314.7" width="1.2" height="1.2"/><rect x="617.0" y="314.7" width="1.2" height="1.2"/><rect x="626.5" y="314.7" width="1.2" height="1.2"/><rect x="636.0" y="314.7" width="1.2" height="1.2"/><rect x="645.5" y="314.7" width="1.2" height="1.2"/><rect x="655.0" y="314.7" width="1.2" height="1.2"/><rect x="664.5" y="314.7" width="1.2" height="1.2"/><rect x="674.0" y="314.7" width="1.2" height="1.2"/><rect x="683.5" y="314.7" width="1.2" height="1.2"/><rect x="693.0" y="314.7" width="1.2" height="1.2"/><rect x="702.5" y="314.7" width="1.2" height="1.2"/><rect x="712.0" y="314.7" width="1.2" height="1.2"/><rect x="721.5" y="314.7" width="1.2" height="1.2"/><rect x="731.0" y="314.7" width="1.2" height="1.2"/><rect x="740.5" y="314.7" width="1.2" height="1.2"/><rect x="750.0" y="314.7" width="1.2" height="1.2"/><rect x="759.5" y="314.7" width="1.2" height="1.2"/></g>
<g fill="#888"><rect x="579.0" y="347.3" width="1.2" height="1.2"/><rect x="588.5" y="347.3" width="1.2" height="1.2"/><rect x="598.0" y="347.3" width="1.2" height="1.2"/><rect x="607.5" y="347.3" width="1.2" height="1.2"/><rect x="617.0" y="347.3" width="1.2" height="1.2"/><rect x="626.5" y="347.3" width="1.2" height="1.2"/><rect x="636.0" y="347.3" width="1.2" height="1.2"/><rect x="645.5" y="347.3" width="1.2" height="1.2"/><rect x="655.0" y="347.3" width="1.2" height="1.2"/><rect x="664.5" y="347.3" width="1.2" height="1.2"/><rect x="674.0" y="347.3" width="1.2" height="1.2"/><rect x="683.5" y="347.3" width="1.2" height="1.2"/><rect x="693.0" y="347.3" width="1.2" height="1.2"/><rect x="702.5" y="347.3" width="1.2" height="1.2"/><rect x="712.0" y="347.3" width="1.2" height="1.2"/><rect x="721.5" y="347.3" width="1.2" height="1.2"/><rect x="731.0" y="347.3" width="1.2" height="1.2"/><rect x="740.5" y="347.3" width="1.2" height="1.2"/><rect x="750.0" y="347.3" width="1.2" height="1.2"/><rect x="759.5" y="347.3" width="1.2" height="1.2"/></g>
<g fill="#888"><rect x="579.0" y="379.9" width="1.2" height="1.2"/><rect x="588.5" y="379.9" width="1.2" height="1.2"/><rect x="598.0" y="379.9" width="1.2" height="1.2"/><rect x="607.5" y="379.9" width="1.2" height="1.2"/><rect x="617.0" y="379.9" width="1.2" height="1.2"/><rect x="626.5" y="379.9" width="1.2" height="1.2"/><rect x="636.0" y="379.9" width="1.2" height="1.2"/><rect x="645.5" y="379.9" width="1.2" height="1.2"/><rect x="655.0" y="379.9" width="1.2" height="1.2"/><rect x="664.5" y="379.9" width="1.2" height="1.2"/><rect x="674.0" y="379.9" width="1.2" height="1.2"/><rect x="683.5" y="379.9" width="1.2" height="1.2"/><rect x="693.0" y="379.9" width="1.2" height="1.2"/><rect x="702.5" y="379.9" width="1.2" height="1.2"/><rect x="712.0" y="379.9" width="1.2" height="1.2"/><rect x="721.5" y="379.9" width="1.2" height="1.2"/><rect x="731.0" y="379.9" width="1.2" height="1.2"/><rect x="740.5" y="379.9" width="1.2" height="1.2"/><rect x="750.0" y="379.9" width="1.2" height="1.2"/><rect x="759.5" y="379.9" width="1.2" height="1.2"/></g>
<path d="M765.6,308.6 H569.8 V386.6 H765.6" fill="none" stroke="#333" stroke-width="1.6"/>
<line x1="765.6" y1="303.4" x2="765.6" y2="390.2" stroke="#222" stroke-width="1.4"/>
<line x1="765.6" y1="303.4" x2="765.6" y2="390.2" stroke="#111" stroke-width="2.2" stroke-dasharray="2.5 2"/>
<line x1="567.30" y1="315.30" x2="569.80" y2="315.30" stroke="#333" stroke-width="1.2" />
<line x1="765.60" y1="315.30" x2="768.10" y2="315.30" stroke="#333" stroke-width="1.2" />
<line x1="567.30" y1="347.90" x2="569.80" y2="347.90" stroke="#333" stroke-width="1.2" />
<line x1="765.60" y1="347.90" x2="768.10" y2="347.90" stroke="#333" stroke-width="1.2" />
<line x1="567.30" y1="380.50" x2="569.80" y2="380.50" stroke="#333" stroke-width="1.2" />
<line x1="765.60" y1="380.50" x2="768.10" y2="380.50" stroke="#333" stroke-width="1.2" />
<text x="563.60" y="318.60" font-size="15" text-anchor="end" fill="#000" >1</text>
<text x="563.60" y="384.60" font-size="15" text-anchor="end" fill="#000" >0</text>
<text transform="translate(545.2,350.2) rotate(-90)" font-size="15" text-anchor="middle" fill="#000">mm</text>
<text x="570.30" y="408.40" font-size="15" text-anchor="middle" fill="#000" >0</text>
<text x="748.60" y="408.20" font-size="15" fill="#000" >3 mm</text>
<text x="667.70" y="284.20" font-size="15" text-anchor="middle" fill="#000" >Inertial flow</text>
<text x="667.70" y="300.60" font-size="15" text-anchor="middle" fill="#000" >net lateral velocity</text>
<text x="529.30" y="284.00" font-size="21" font-weight="bold" fill="#000" >e</text>
<g><circle cx="575.9" cy="321.4" r="1.35" fill="#1b1bd6"/><circle cx="575.9" cy="328.0" r="1.35" fill="#1b1bd6"/><circle cx="575.9" cy="334.6" r="1.35" fill="#1b1bd6"/><circle cx="575.9" cy="341.3" r="1.35" fill="#1b1bd6"/><circle cx="575.9" cy="347.9" r="1.35" fill="#1b1bd6"/><circle cx="575.9" cy="354.5" r="1.35" fill="#1b1bd6"/><circle cx="575.9" cy="361.1" r="1.35" fill="#1b1bd6"/><circle cx="575.9" cy="367.8" r="1.35" fill="#1b1bd6"/><circle cx="575.9" cy="374.4" r="1.35" fill="#1b1bd6"/><line x1="595.19" y1="321.34" x2="592.31" y2="322.21" stroke="#1b1bd6" stroke-width="3.0" stroke-linecap="round"/><line x1="596.24" y1="327.88" x2="594.70" y2="329.42" stroke="#1b1bd6" stroke-width="3.0" stroke-linecap="round"/><line x1="596.70" y1="334.55" x2="600.01" y2="336.38" stroke="#1b1bd6" stroke-width="3.0" stroke-linecap="round"/><line x1="597.34" y1="341.27" x2="603.22" y2="342.16" stroke="#1b1bd6" stroke-width="2.5"/><path d="M600.56,343.81 L605.00,342.42 L601.16,339.80 L601.87,341.95Z" fill="#1b1bd6" stroke="#1b1bd6" stroke-width="0.8" stroke-linejoin="round"/><line x1="597.50" y1="347.90" x2="604.30" y2="347.90" stroke="#1b1bd6" stroke-width="2.5"/><path d="M601.66,350.08 L606.10,347.90 L601.66,345.72 L602.75,347.90Z" fill="#1b1bd6" stroke="#1b1bd6" stroke-width="0.8" stroke-linejoin="round"/><line x1="597.34" y1="354.52" x2="603.22" y2="353.64" stroke="#1b1bd6" stroke-width="2.5"/><path d="M601.16,356.00 L605.00,353.38 L600.56,351.99 L601.87,353.85Z" fill="#1b1bd6" stroke="#1b1bd6" stroke-width="0.8" stroke-linejoin="round"/><line x1="596.70" y1="361.25" x2="600.01" y2="359.42" stroke="#1b1bd6" stroke-width="3.0" stroke-linecap="round"/><line x1="596.24" y1="367.92" x2="594.70" y2="366.38" stroke="#1b1bd6" stroke-width="3.0" stroke-linecap="round"/><line x1="595.19" y1="374.46" x2="592.31" y2="373.59" stroke="#1b1bd6" stroke-width="3.0" stroke-linecap="round"/><line x1="616.50" y1="321.40" x2="610.10" y2="321.72" stroke="#1b1bd6" stroke-width="2.5"/><path d="M612.51,319.48 L608.30,321.81 L612.72,323.71 L611.56,321.65Z" fill="#1b1bd6" stroke="#1b1bd6" stroke-width="0.8" stroke-linejoin="round"/><line x1="617.59" y1="328.02" x2="614.82" y2="329.13" stroke="#1b1bd6" stroke-width="2.5"/><path d="M615.65,327.19 L613.15,329.80 L616.77,329.97 L615.52,328.86Z" fill="#1b1bd6" stroke="#1b1bd6" stroke-width="0.8" stroke-linejoin="round"/><line x1="618.38" y1="334.65" x2="622.57" y2="335.57" stroke="#1b1bd6" stroke-width="2.5"/><path d="M620.35,336.86 L624.32,335.96 L621.10,333.47 L621.57,335.35Z" fill="#1b1bd6" stroke="#1b1bd6" stroke-width="0.8" stroke-linejoin="round"/><line x1="618.84" y1="341.27" x2="629.81" y2="341.60" stroke="#1b1bd6" stroke-width="2.5"/><path d="M625.83,344.42 L631.61,341.66 L626.01,338.55 L627.39,341.53Z" fill="#1b1bd6" stroke="#1b1bd6" stroke-width="0.8" stroke-linejoin="round"/><line x1="619.00" y1="347.90" x2="631.60" y2="347.90" stroke="#1b1bd6" stroke-width="2.5"/><path d="M627.22,351.13 L633.40,347.90 L627.22,344.67 L628.83,347.90Z" fill="#1b1bd6" stroke="#1b1bd6" stroke-width="0.8" stroke-linejoin="round"/><line x1="618.84" y1="354.52" x2="629.81" y2="354.20" stroke="#1b1bd6" stroke-width="2.5"/><path d="M626.01,357.25 L631.61,354.14 L625.83,351.38 L627.39,354.27Z" fill="#1b1bd6" stroke="#1b1bd6" stroke-width="0.8" stroke-linejoin="round"/><line x1="618.38" y1="361.15" x2="622.57" y2="360.23" stroke="#1b1bd6" stroke-width="2.5"/><path d="M621.10,362.33 L624.32,359.84 L620.35,358.94 L621.57,360.45Z" fill="#1b1bd6" stroke="#1b1bd6" stroke-width="0.8" stroke-linejoin="round"/><line x1="617.59" y1="367.77" x2="614.82" y2="366.67" stroke="#1b1bd6" stroke-width="2.5"/><path d="M616.77,365.83 L613.15,366.00 L615.65,368.61 L615.52,366.94Z" fill="#1b1bd6" stroke="#1b1bd6" stroke-width="0.8" stroke-linejoin="round"/><line x1="616.50" y1="374.40" x2="610.10" y2="374.08" stroke="#1b1bd6" stroke-width="2.5"/><path d="M612.72,372.09 L608.30,373.99 L612.51,376.32 L611.56,374.15Z" fill="#1b1bd6" stroke="#1b1bd6" stroke-width="0.8" stroke-linejoin="round"/><line x1="637.00" y1="321.40" x2="628.60" y2="321.82" stroke="#1b1bd6" stroke-width="2.5"/><path d="M631.59,319.19 L626.80,321.91 L631.84,324.14 L630.48,321.73Z" fill="#1b1bd6" stroke="#1b1bd6" stroke-width="0.8" stroke-linejoin="round"/><line x1="638.09" y1="328.02" x2="634.32" y2="329.53" stroke="#1b1bd6" stroke-width="2.5"/><path d="M635.38,327.29 L632.65,330.20 L636.64,330.43 L635.23,329.17Z" fill="#1b1bd6" stroke="#1b1bd6" stroke-width="0.8" stroke-linejoin="round"/><line x1="638.88" y1="334.65" x2="644.36" y2="335.86" stroke="#1b1bd6" stroke-width="2.5"/><path d="M641.70,337.29 L646.12,336.24 L642.55,333.44 L643.09,335.58Z" fill="#1b1bd6" stroke="#1b1bd6" stroke-width="0.8" stroke-linejoin="round"/><line x1="639.34" y1="341.27" x2="653.30" y2="341.69" stroke="#1b1bd6" stroke-width="2.5"/><path d="M648.41,345.02 L655.10,341.75 L648.62,338.08 L650.25,341.60Z" fill="#1b1bd6" stroke="#1b1bd6" stroke-width="0.8" stroke-linejoin="round"/><line x1="639.50" y1="347.90" x2="655.50" y2="347.90" stroke="#1b1bd6" stroke-width="2.5"/><path d="M650.30,351.62 L657.30,347.90 L650.30,344.18 L652.16,347.90Z" fill="#1b1bd6" stroke="#1b1bd6" stroke-width="0.8" stroke-linejoin="round"/><line x1="639.34" y1="354.52" x2="653.30" y2="354.11" stroke="#1b1bd6" stroke-width="2.5"/><path d="M648.62,357.72 L655.10,354.05 L648.41,350.78 L650.25,354.20Z" fill="#1b1bd6" stroke="#1b1bd6" stroke-width="0.8" stroke-linejoin="round"/><line x1="638.88" y1="361.15" x2="644.36" y2="359.94" stroke="#1b1bd6" stroke-width="2.5"/><path d="M642.55,362.36 L646.12,359.56 L641.70,358.51 L643.09,360.22Z" fill="#1b1bd6" stroke="#1b1bd6" stroke-width="0.8" stroke-linejoin="round"/><line x1="638.09" y1="367.77" x2="634.32" y2="366.27" stroke="#1b1bd6" stroke-width="2.5"/><path d="M636.64,365.37 L632.65,365.60 L635.38,368.51 L635.23,366.63Z" fill="#1b1bd6" stroke="#1b1bd6" stroke-width="0.8" stroke-linejoin="round"/><line x1="637.00" y1="374.40" x2="628.60" y2="373.98" stroke="#1b1bd6" stroke-width="2.5"/><path d="M631.84,371.66 L626.80,373.89 L631.59,376.61 L630.48,374.07Z" fill="#1b1bd6" stroke="#1b1bd6" stroke-width="0.8" stroke-linejoin="round"/><line x1="657.50" y1="321.40" x2="648.80" y2="321.84" stroke="#1b1bd6" stroke-width="2.5"/><path d="M651.88,319.15 L647.00,321.92 L652.13,324.20 L650.75,321.74Z" fill="#1b1bd6" stroke="#1b1bd6" stroke-width="0.8" stroke-linejoin="round"/><line x1="658.59" y1="328.02" x2="654.67" y2="329.59" stroke="#1b1bd6" stroke-width="2.5"/><path d="M655.77,327.30 L653.00,330.26 L657.04,330.50 L655.61,329.22Z" fill="#1b1bd6" stroke="#1b1bd6" stroke-width="0.8" stroke-linejoin="round"/><line x1="659.38" y1="334.65" x2="664.93" y2="335.87" stroke="#1b1bd6" stroke-width="2.5"/><path d="M662.25,337.32 L666.69,336.26 L663.11,333.44 L663.65,335.59Z" fill="#1b1bd6" stroke="#1b1bd6" stroke-width="0.8" stroke-linejoin="round"/><line x1="659.84" y1="341.27" x2="673.98" y2="341.70" stroke="#1b1bd6" stroke-width="2.5"/><path d="M669.03,345.06 L675.78,341.75 L669.24,338.05 L670.89,341.61Z" fill="#1b1bd6" stroke="#1b1bd6" stroke-width="0.8" stroke-linejoin="round"/><line x1="660.00" y1="347.90" x2="676.20" y2="347.90" stroke="#1b1bd6" stroke-width="2.5"/><path d="M671.00,351.62 L678.00,347.90 L671.00,344.18 L672.86,347.90Z" fill="#1b1bd6" stroke="#1b1bd6" stroke-width="0.8" stroke-linejoin="round"/><line x1="659.84" y1="354.52" x2="673.98" y2="354.10" stroke="#1b1bd6" stroke-width="2.5"/><path d="M669.24,357.75 L675.78,354.05 L669.03,350.74 L670.89,354.19Z" fill="#1b1bd6" stroke="#1b1bd6" stroke-width="0.8" stroke-linejoin="round"/><line x1="659.38" y1="361.15" x2="664.93" y2="359.93" stroke="#1b1bd6" stroke-width="2.5"/><path d="M663.11,362.36 L666.69,359.54 L662.25,358.48 L663.65,360.21Z" fill="#1b1bd6" stroke="#1b1bd6" stroke-width="0.8" stroke-linejoin="round"/><line x1="658.59" y1="367.77" x2="654.67" y2="366.21" stroke="#1b1bd6" stroke-width="2.5"/><path d="M657.04,365.30 L653.00,365.54 L655.77,368.50 L655.61,366.58Z" fill="#1b1bd6" stroke="#1b1bd6" stroke-width="0.8" stroke-linejoin="round"/><line x1="657.50" y1="374.40" x2="648.80" y2="373.96" stroke="#1b1bd6" stroke-width="2.5"/><path d="M652.13,371.60 L647.00,373.88 L651.88,376.65 L650.75,374.06Z" fill="#1b1bd6" stroke="#1b1bd6" stroke-width="0.8" stroke-linejoin="round"/><line x1="678.20" y1="321.40" x2="670.80" y2="321.77" stroke="#1b1bd6" stroke-width="2.5"/><path d="M673.50,319.34 L669.00,321.86 L673.73,323.92 L672.47,321.69Z" fill="#1b1bd6" stroke="#1b1bd6" stroke-width="0.8" stroke-linejoin="round"/><line x1="679.29" y1="328.02" x2="676.02" y2="329.33" stroke="#1b1bd6" stroke-width="2.5"/><path d="M676.97,327.24 L674.35,330.00 L678.15,330.20 L676.82,329.01Z" fill="#1b1bd6" stroke="#1b1bd6" stroke-width="0.8" stroke-linejoin="round"/><line x1="680.08" y1="334.65" x2="685.33" y2="335.81" stroke="#1b1bd6" stroke-width="2.5"/><path d="M682.75,337.21 L687.09,336.19 L683.58,333.45 L684.11,335.54Z" fill="#1b1bd6" stroke="#1b1bd6" stroke-width="0.8" stroke-linejoin="round"/><line x1="680.54" y1="341.27" x2="693.98" y2="341.68" stroke="#1b1bd6" stroke-width="2.5"/><path d="M689.25,344.92 L695.78,341.73 L689.45,338.16 L691.04,341.59Z" fill="#1b1bd6" stroke="#1b1bd6" stroke-width="0.8" stroke-linejoin="round"/><line x1="680.70" y1="347.90" x2="696.10" y2="347.90" stroke="#1b1bd6" stroke-width="2.5"/><path d="M690.90,351.62 L697.90,347.90 L690.90,344.18 L692.76,347.90Z" fill="#1b1bd6" stroke="#1b1bd6" stroke-width="0.8" stroke-linejoin="round"/><line x1="680.54" y1="354.52" x2="693.98" y2="354.12" stroke="#1b1bd6" stroke-width="2.5"/><path d="M689.45,357.64 L695.78,354.07 L689.25,350.88 L691.04,354.21Z" fill="#1b1bd6" stroke="#1b1bd6" stroke-width="0.8" stroke-linejoin="round"/><line x1="680.08" y1="361.15" x2="685.33" y2="359.99" stroke="#1b1bd6" stroke-width="2.5"/><path d="M683.58,362.35 L687.09,359.61 L682.75,358.59 L684.11,360.26Z" fill="#1b1bd6" stroke="#1b1bd6" stroke-width="0.8" stroke-linejoin="round"/><line x1="679.29" y1="367.77" x2="676.02" y2="366.47" stroke="#1b1bd6" stroke-width="2.5"/><path d="M678.15,365.60 L674.35,365.80 L676.97,368.56 L676.82,366.79Z" fill="#1b1bd6" stroke="#1b1bd6" stroke-width="0.8" stroke-linejoin="round"/><line x1="678.20" y1="374.40" x2="670.80" y2="374.03" stroke="#1b1bd6" stroke-width="2.5"/><path d="M673.73,371.88 L669.00,373.94 L673.50,376.46 L672.47,374.11Z" fill="#1b1bd6" stroke="#1b1bd6" stroke-width="0.8" stroke-linejoin="round"/><line x1="698.50" y1="321.40" x2="692.00" y2="321.73" stroke="#1b1bd6" stroke-width="2.5"/><path d="M694.44,319.47 L690.20,321.81 L694.65,323.73 L693.48,321.65Z" fill="#1b1bd6" stroke="#1b1bd6" stroke-width="0.8" stroke-linejoin="round"/><line x1="699.59" y1="328.02" x2="696.77" y2="329.15" stroke="#1b1bd6" stroke-width="2.5"/><path d="M697.62,327.19 L695.10,329.82 L698.74,329.99 L697.48,328.87Z" fill="#1b1bd6" stroke="#1b1bd6" stroke-width="0.8" stroke-linejoin="round"/><line x1="700.38" y1="334.65" x2="704.49" y2="335.56" stroke="#1b1bd6" stroke-width="2.5"/><path d="M702.30,336.83 L706.25,335.94 L703.04,333.48 L703.51,335.34Z" fill="#1b1bd6" stroke="#1b1bd6" stroke-width="0.8" stroke-linejoin="round"/><line x1="700.84" y1="341.27" x2="711.64" y2="341.60" stroke="#1b1bd6" stroke-width="2.5"/><path d="M707.71,344.39 L713.44,341.65 L707.89,338.58 L709.25,341.53Z" fill="#1b1bd6" stroke="#1b1bd6" stroke-width="0.8" stroke-linejoin="round"/><line x1="701.00" y1="347.90" x2="713.40" y2="347.90" stroke="#1b1bd6" stroke-width="2.5"/><path d="M709.08,351.09 L715.20,347.90 L709.08,344.71 L710.68,347.90Z" fill="#1b1bd6" stroke="#1b1bd6" stroke-width="0.8" stroke-linejoin="round"/><line x1="700.84" y1="354.52" x2="711.64" y2="354.20" stroke="#1b1bd6" stroke-width="2.5"/><path d="M707.89,357.22 L713.44,354.15 L707.71,351.41 L709.25,354.27Z" fill="#1b1bd6" stroke="#1b1bd6" stroke-width="0.8" stroke-linejoin="round"/><line x1="700.38" y1="361.15" x2="704.49" y2="360.24" stroke="#1b1bd6" stroke-width="2.5"/><path d="M703.04,362.32 L706.25,359.86 L702.30,358.97 L703.51,360.46Z" fill="#1b1bd6" stroke="#1b1bd6" stroke-width="0.8" stroke-linejoin="round"/><line x1="699.59" y1="367.77" x2="696.77" y2="366.65" stroke="#1b1bd6" stroke-width="2.5"/><path d="M698.74,365.81 L695.10,365.98 L697.62,368.61 L697.48,366.93Z" fill="#1b1bd6" stroke="#1b1bd6" stroke-width="0.8" stroke-linejoin="round"/><line x1="698.50" y1="374.40" x2="692.00" y2="374.07" stroke="#1b1bd6" stroke-width="2.5"/><path d="M694.65,372.07 L690.20,373.99 L694.44,376.33 L693.48,374.15Z" fill="#1b1bd6" stroke="#1b1bd6" stroke-width="0.8" stroke-linejoin="round"/><line x1="718.80" y1="321.40" x2="714.80" y2="321.60" stroke="#1b1bd6" stroke-width="2.5"/><path d="M716.51,319.83 L713.00,321.69 L716.68,323.19 L715.76,321.55Z" fill="#1b1bd6" stroke="#1b1bd6" stroke-width="0.8" stroke-linejoin="round"/><line x1="720.08" y1="327.95" x2="717.21" y2="329.10" stroke="#1b1bd6" stroke-width="3.0" stroke-linecap="round"/><line x1="720.67" y1="334.65" x2="723.65" y2="335.30" stroke="#1b1bd6" stroke-width="2.5"/><path d="M721.85,336.45 L725.41,335.69 L722.50,333.51 L722.91,335.14Z" fill="#1b1bd6" stroke="#1b1bd6" stroke-width="0.8" stroke-linejoin="round"/><line x1="721.14" y1="341.27" x2="729.30" y2="341.52" stroke="#1b1bd6" stroke-width="2.5"/><path d="M726.18,343.86 L731.10,341.57 L726.32,339.00 L727.46,341.46Z" fill="#1b1bd6" stroke="#1b1bd6" stroke-width="0.8" stroke-linejoin="round"/><line x1="721.30" y1="347.90" x2="730.70" y2="347.90" stroke="#1b1bd6" stroke-width="2.5"/><path d="M727.28,350.55 L732.50,347.90 L727.28,345.25 L728.61,347.90Z" fill="#1b1bd6" stroke="#1b1bd6" stroke-width="0.8" stroke-linejoin="round"/><line x1="721.14" y1="354.52" x2="729.30" y2="354.28" stroke="#1b1bd6" stroke-width="2.5"/><path d="M726.32,356.80 L731.10,354.23 L726.18,351.94 L727.46,354.34Z" fill="#1b1bd6" stroke="#1b1bd6" stroke-width="0.8" stroke-linejoin="round"/><line x1="720.67" y1="361.15" x2="723.65" y2="360.50" stroke="#1b1bd6" stroke-width="2.5"/><path d="M722.50,362.29 L725.41,360.11 L721.85,359.35 L722.91,360.66Z" fill="#1b1bd6" stroke="#1b1bd6" stroke-width="0.8" stroke-linejoin="round"/><line x1="720.08" y1="367.85" x2="717.21" y2="366.70" stroke="#1b1bd6" stroke-width="3.0" stroke-linecap="round"/><line x1="718.80" y1="374.40" x2="714.80" y2="374.20" stroke="#1b1bd6" stroke-width="2.5"/><path d="M716.68,372.61 L713.00,374.11 L716.51,375.97 L715.76,374.25Z" fill="#1b1bd6" stroke="#1b1bd6" stroke-width="0.8" stroke-linejoin="round"/><line x1="738.20" y1="321.39" x2="735.80" y2="321.51" stroke="#1b1bd6" stroke-width="3.0" stroke-linecap="round"/><line x1="739.52" y1="327.85" x2="737.67" y2="328.60" stroke="#1b1bd6" stroke-width="3.0" stroke-linecap="round"/><line x1="739.68" y1="334.61" x2="742.65" y2="335.26" stroke="#1b1bd6" stroke-width="3.0" stroke-linecap="round"/><line x1="740.34" y1="341.27" x2="745.33" y2="341.42" stroke="#1b1bd6" stroke-width="2.5"/><path d="M743.18,343.22 L747.13,341.48 L743.29,339.50 L744.16,341.39Z" fill="#1b1bd6" stroke="#1b1bd6" stroke-width="0.8" stroke-linejoin="round"/><line x1="740.50" y1="347.90" x2="746.30" y2="347.90" stroke="#1b1bd6" stroke-width="2.5"/><path d="M743.96,349.90 L748.10,347.90 L743.96,345.90 L744.96,347.90Z" fill="#1b1bd6" stroke="#1b1bd6" stroke-width="0.8" stroke-linejoin="round"/><line x1="740.34" y1="354.52" x2="745.33" y2="354.38" stroke="#1b1bd6" stroke-width="2.5"/><path d="M743.29,356.30 L747.13,354.32 L743.18,352.58 L744.16,354.41Z" fill="#1b1bd6" stroke="#1b1bd6" stroke-width="0.8" stroke-linejoin="round"/><line x1="739.68" y1="361.19" x2="742.65" y2="360.54" stroke="#1b1bd6" stroke-width="3.0" stroke-linecap="round"/><line x1="739.52" y1="367.95" x2="737.67" y2="367.20" stroke="#1b1bd6" stroke-width="3.0" stroke-linecap="round"/><line x1="738.20" y1="374.41" x2="735.80" y2="374.29" stroke="#1b1bd6" stroke-width="3.0" stroke-linecap="round"/><circle cx="758.7" cy="321.4" r="1.35" fill="#1b1bd6"/><circle cx="758.7" cy="328.0" r="1.35" fill="#1b1bd6"/><circle cx="758.7" cy="334.6" r="1.35" fill="#1b1bd6"/><circle cx="758.7" cy="341.3" r="1.35" fill="#1b1bd6"/><circle cx="758.7" cy="347.9" r="1.35" fill="#1b1bd6"/><circle cx="758.7" cy="354.5" r="1.35" fill="#1b1bd6"/><circle cx="758.7" cy="361.1" r="1.35" fill="#1b1bd6"/><circle cx="758.7" cy="367.8" r="1.35" fill="#1b1bd6"/><circle cx="758.7" cy="374.4" r="1.35" fill="#1b1bd6"/></g>
<linearGradient id="g1a" gradientUnits="userSpaceOnUse" x1="150.9" y1="0" x2="186.9" y2="0"><stop offset="0" stop-color="#ee4a2c"/><stop offset="0.5" stop-color="#f2683a"/><stop offset="0.8" stop-color="#f59a50"/><stop offset="1" stop-color="#f8d870"/></linearGradient>
<linearGradient id="g2a" gradientUnits="userSpaceOnUse" x1="186.9" y1="0" x2="114.9" y2="0"><stop offset="0" stop-color="#f8d870"/><stop offset="0.15" stop-color="#f6b890"/><stop offset="0.4" stop-color="#f0a49c"/><stop offset="1" stop-color="#ee9090"/></linearGradient>
<path d="M218.9,42.5 L211.2,50.6 L203.4,58.7 L195.7,66.8 L187.9,74.9 L180.2,83.0 L172.5,91.1 L164.7,99.2 L157.0,107.3 L153.6,110.8" fill="none" stroke="rgb(238,128,128)" stroke-width="3.62" stroke-opacity="0.9" stroke-linejoin="round"/>
<path d="M153.6,110.8 L169.4,111.7 L175.0,112.6 L178.8,113.6 L181.7,114.5 L184.0,115.4 L185.7,116.3 L187.1,117.2 L188.2,118.1 L189.1,119.0 L189.7,119.9 L190.1,120.8 L190.2,121.8 L190.3,122.7 L190.1,123.6 L189.8,124.5 L189.4,125.4 L188.8,126.3 L188.1,127.2 L187.2,128.1 L186.2,129.0" fill="none" stroke="url(#g1a)" stroke-width="3.62" stroke-opacity="0.92" stroke-linejoin="round"/>
<path d="M186.2,129.0 L185.1,130.0 L183.8,130.9 L182.4,131.8 L180.8,132.7 L179.1,133.6 L177.3,134.5 L175.3,135.4 L173.1,136.3 L170.8,137.2 L168.3,138.1 L165.5,139.1 L162.6,140.0 L159.3,140.9 L155.8,141.8 L151.9,142.7 L147.5,143.6 L142.4,144.5 L136.5,145.4 L128.7,146.3 L110.8,147.3" fill="none" stroke="url(#g2a)" stroke-width="3.62" stroke-opacity="0.92" stroke-linejoin="round"/>
<path d="M110.8,147.3 L103.4,155.4 L96.0,163.4 L88.7,171.5 L81.3,179.6 L73.9,187.7 L66.5,195.8 L62.2,200.6" fill="none" stroke="rgb(238,128,128)" stroke-width="3.62" stroke-opacity="0.9" stroke-linejoin="round"/>
<path d="M218.9,39.9 L211.2,48.0 L203.4,56.1 L195.7,64.2 L187.9,72.3 L180.2,80.4 L172.5,88.5 L164.7,96.6 L157.0,104.7 L153.6,108.2" fill="none" stroke="rgb(243,166,149)" stroke-width="3.62" stroke-opacity="0.9" stroke-linejoin="round"/>
<path d="M153.6,108.2 L169.4,109.1 L175.0,110.0 L178.8,110.9 L181.7,111.9 L184.0,112.8 L185.7,113.7 L187.1,114.6 L188.2,115.5 L189.1,116.4 L189.7,117.3 L190.1,118.2 L190.2,119.1 L190.3,120.0 L190.1,121.0 L189.8,121.9 L189.4,122.8 L188.8,123.7 L188.1,124.6 L187.2,125.5 L186.2,126.4" fill="none" stroke="url(#g1a)" stroke-width="3.62" stroke-opacity="0.92" stroke-linejoin="round"/>
<path d="M186.2,126.4 L185.1,127.3 L183.8,128.2 L182.4,129.2 L180.8,130.1 L179.1,131.0 L177.3,131.9 L175.3,132.8 L173.1,133.7 L170.8,134.6 L168.3,135.5 L165.5,136.4 L162.6,137.4 L159.3,138.3 L155.8,139.2 L151.9,140.1 L147.5,141.0 L142.4,141.9 L136.5,142.8 L128.7,143.7 L110.8,144.6" fill="none" stroke="url(#g2a)" stroke-width="3.62" stroke-opacity="0.92" stroke-linejoin="round"/>
<path d="M110.8,144.6 L103.4,152.7 L96.0,160.8 L88.7,168.9 L81.3,177.0 L73.9,185.1 L66.5,193.2 L62.2,198.0" fill="none" stroke="rgb(243,166,149)" stroke-width="3.62" stroke-opacity="0.9" stroke-linejoin="round"/>
<path d="M218.9,37.3 L211.2,45.4 L203.4,53.5 L195.7,61.6 L187.9,69.7 L180.2,77.8 L172.5,85.9 L164.7,94.0 L157.0,102.0 L153.6,105.6" fill="none" stroke="rgb(243,162,140)" stroke-width="3.62" stroke-opacity="0.9" stroke-linejoin="round"/>
<path d="M153.6,105.6 L169.4,106.5 L175.0,107.4 L178.8,108.3 L181.7,109.2 L184.0,110.1 L185.7,111.1 L187.1,112.0 L188.2,112.9 L189.1,113.8 L189.7,114.7 L190.1,115.6 L190.2,116.5 L190.3,117.4 L190.1,118.3 L189.8,119.3 L189.4,120.2 L188.8,121.1 L188.1,122.0 L187.2,122.9 L186.2,123.8" fill="none" stroke="url(#g1a)" stroke-width="3.62" stroke-opacity="0.92" stroke-linejoin="round"/>
<path d="M186.2,123.8 L185.1,124.7 L183.8,125.6 L182.4,126.5 L180.8,127.4 L179.1,128.4 L177.3,129.3 L175.3,130.2 L173.1,131.1 L170.8,132.0 L168.3,132.9 L165.5,133.8 L162.6,134.7 L159.3,135.6 L155.8,136.6 L151.9,137.5 L147.5,138.4 L142.4,139.3 L136.5,140.2 L128.7,141.1 L110.8,142.0" fill="none" stroke="url(#g2a)" stroke-width="3.62" stroke-opacity="0.92" stroke-linejoin="round"/>
<path d="M110.8,142.0 L103.4,150.1 L96.0,158.2 L88.7,166.3 L81.3,174.4 L73.9,182.5 L66.5,190.6 L62.2,195.4" fill="none" stroke="rgb(243,162,140)" stroke-width="3.62" stroke-opacity="0.9" stroke-linejoin="round"/>
<path d="M218.9,34.7 L211.2,42.8 L203.4,50.9 L195.7,59.0 L187.9,67.0 L180.2,75.1 L172.5,83.2 L164.7,91.3 L157.0,99.4 L153.6,103.0" fill="none" stroke="rgb(247,191,162)" stroke-width="3.62" stroke-opacity="0.9" stroke-linejoin="round"/>
<path d="M153.6,103.0 L169.4,103.9 L175.0,104.8 L178.8,105.7 L181.7,106.6 L184.0,107.5 L185.7,108.4 L187.1,109.3 L188.2,110.3 L189.1,111.2 L189.7,112.1 L190.1,113.0 L190.2,113.9 L190.3,114.8 L190.1,115.7 L189.8,116.6 L189.4,117.5 L188.8,118.5 L188.1,119.4 L187.2,120.3 L186.2,121.2" fill="none" stroke="url(#g1a)" stroke-width="3.62" stroke-opacity="0.92" stroke-linejoin="round"/>
<path d="M186.2,121.2 L185.1,122.1 L183.8,123.0 L182.4,123.9 L180.8,124.8 L179.1,125.7 L177.3,126.7 L175.3,127.6 L173.1,128.5 L170.8,129.4 L168.3,130.3 L165.5,131.2 L162.6,132.1 L159.3,133.0 L155.8,133.9 L151.9,134.9 L147.5,135.8 L142.4,136.7 L136.5,137.6 L128.7,138.5 L110.8,139.4" fill="none" stroke="url(#g2a)" stroke-width="3.62" stroke-opacity="0.92" stroke-linejoin="round"/>
<path d="M110.8,139.4 L103.4,147.5 L96.0,155.6 L88.7,163.7 L81.3,171.8 L73.9,179.9 L66.5,188.0 L62.2,192.7" fill="none" stroke="rgb(247,191,162)" stroke-width="3.62" stroke-opacity="0.9" stroke-linejoin="round"/>
<path d="M218.9,32.0 L211.2,40.1 L203.4,48.2 L195.7,56.3 L187.9,64.4 L180.2,72.5 L172.5,80.6 L164.7,88.7 L157.0,96.8 L153.6,100.4" fill="none" stroke="rgb(246,183,147)" stroke-width="3.62" stroke-opacity="0.9" stroke-linejoin="round"/>
<path d="M153.6,100.4 L169.4,101.3 L175.0,102.2 L178.8,103.1 L181.7,104.0 L184.0,104.9 L185.7,105.8 L187.1,106.7 L188.2,107.6 L189.1,108.6 L189.7,109.5 L190.1,110.4 L190.2,111.3 L190.3,112.2 L190.1,113.1 L189.8,114.0 L189.4,114.9 L188.8,115.8 L188.1,116.8 L187.2,117.7 L186.2,118.6" fill="none" stroke="url(#g1a)" stroke-width="3.62" stroke-opacity="0.92" stroke-linejoin="round"/>
<path d="M186.2,118.6 L185.1,119.5 L183.8,120.4 L182.4,121.3 L180.8,122.2 L179.1,123.1 L177.3,124.0 L175.3,124.9 L173.1,125.9 L170.8,126.8 L168.3,127.7 L165.5,128.6 L162.6,129.5 L159.3,130.4 L155.8,131.3 L151.9,132.2 L147.5,133.1 L142.4,134.1 L136.5,135.0 L128.7,135.9 L110.8,136.8" fill="none" stroke="url(#g2a)" stroke-width="3.62" stroke-opacity="0.92" stroke-linejoin="round"/>
<path d="M110.8,136.8 L103.4,144.9 L96.0,153.0 L88.7,161.1 L81.3,169.2 L73.9,177.3 L66.5,185.4 L62.2,190.1" fill="none" stroke="rgb(246,183,147)" stroke-width="3.62" stroke-opacity="0.9" stroke-linejoin="round"/>
<path d="M218.9,29.4 L211.2,37.5 L203.4,45.6 L195.7,53.7 L187.9,61.8 L180.2,69.9 L172.5,78.0 L164.7,86.1 L157.0,94.2 L153.6,97.7" fill="none" stroke="rgb(249,203,169)" stroke-width="3.62" stroke-opacity="0.9" stroke-linejoin="round"/>
<path d="M153.6,97.7 L169.4,98.7 L175.0,99.6 L178.8,100.5 L181.7,101.4 L184.0,102.3 L185.7,103.2 L187.1,104.1 L188.2,105.0 L189.1,105.9 L189.7,106.8 L190.1,107.8 L190.2,108.7 L190.3,109.6 L190.1,110.5 L189.8,111.4 L189.4,112.3 L188.8,113.2 L188.1,114.1 L187.2,115.0 L186.2,116.0" fill="none" stroke="url(#g1a)" stroke-width="3.62" stroke-opacity="0.92" stroke-linejoin="round"/>
<path d="M186.2,116.0 L185.1,116.9 L183.8,117.8 L182.4,118.7 L180.8,119.6 L179.1,120.5 L177.3,121.4 L175.3,122.3 L173.1,123.2 L170.8,124.2 L168.3,125.1 L165.5,126.0 L162.6,126.9 L159.3,127.8 L155.8,128.7 L151.9,129.6 L147.5,130.5 L142.4,131.4 L136.5,132.4 L128.7,133.3 L110.8,134.2" fill="none" stroke="url(#g2a)" stroke-width="3.62" stroke-opacity="0.92" stroke-linejoin="round"/>
<path d="M110.8,134.2 L103.4,142.3 L96.0,150.4 L88.7,158.5 L81.3,166.6 L73.9,174.7 L66.5,182.7 L62.2,187.5" fill="none" stroke="rgb(249,203,169)" stroke-width="3.62" stroke-opacity="0.9" stroke-linejoin="round"/>
<path d="M218.9,26.8 L211.2,34.9 L203.4,43.0 L195.7,51.1 L187.9,59.2 L180.2,67.3 L172.5,75.4 L164.7,83.5 L157.0,91.6 L153.6,95.1" fill="none" stroke="rgb(248,190,150)" stroke-width="3.62" stroke-opacity="0.9" stroke-linejoin="round"/>
<path d="M153.6,95.1 L169.4,96.0 L175.0,96.9 L178.8,97.9 L181.7,98.8 L184.0,99.7 L185.7,100.6 L187.1,101.5 L188.2,102.4 L189.1,103.3 L189.7,104.2 L190.1,105.1 L190.2,106.1 L190.3,107.0 L190.1,107.9 L189.8,108.8 L189.4,109.7 L188.8,110.6 L188.1,111.5 L187.2,112.4 L186.2,113.3" fill="none" stroke="url(#g1a)" stroke-width="3.62" stroke-opacity="0.92" stroke-linejoin="round"/>
<path d="M186.2,113.3 L185.1,114.3 L183.8,115.2 L182.4,116.1 L180.8,117.0 L179.1,117.9 L177.3,118.8 L175.3,119.7 L173.1,120.6 L170.8,121.5 L168.3,122.4 L165.5,123.4 L162.6,124.3 L159.3,125.2 L155.8,126.1 L151.9,127.0 L147.5,127.9 L142.4,128.8 L136.5,129.7 L128.7,130.6 L110.8,131.6" fill="none" stroke="url(#g2a)" stroke-width="3.62" stroke-opacity="0.92" stroke-linejoin="round"/>
<path d="M110.8,131.6 L103.4,139.7 L96.0,147.7 L88.7,155.8 L81.3,163.9 L73.9,172.0 L66.5,180.1 L62.2,184.9" fill="none" stroke="rgb(248,190,150)" stroke-width="3.62" stroke-opacity="0.9" stroke-linejoin="round"/>
<path d="M218.9,24.2 L211.2,32.3 L203.4,40.4 L195.7,48.5 L187.9,56.6 L180.2,64.7 L172.5,72.8 L164.7,80.9 L157.0,89.0 L153.6,92.5" fill="none" stroke="rgb(249,203,169)" stroke-width="3.62" stroke-opacity="0.9" stroke-linejoin="round"/>
<path d="M153.6,92.5 L169.4,93.4 L175.0,94.3 L178.8,95.2 L181.7,96.2 L184.0,97.1 L185.7,98.0 L187.1,98.9 L188.2,99.8 L189.1,100.7 L189.7,101.6 L190.1,102.5 L190.2,103.4 L190.3,104.3 L190.1,105.3 L189.8,106.2 L189.4,107.1 L188.8,108.0 L188.1,108.9 L187.2,109.8 L186.2,110.7" fill="none" stroke="url(#g1a)" stroke-width="3.62" stroke-opacity="0.92" stroke-linejoin="round"/>
<path d="M186.2,110.7 L185.1,111.6 L183.8,112.5 L182.4,113.5 L180.8,114.4 L179.1,115.3 L177.3,116.2 L175.3,117.1 L173.1,118.0 L170.8,118.9 L168.3,119.8 L165.5,120.7 L162.6,121.7 L159.3,122.6 L155.8,123.5 L151.9,124.4 L147.5,125.3 L142.4,126.2 L136.5,127.1 L128.7,128.0 L110.8,128.9" fill="none" stroke="url(#g2a)" stroke-width="3.62" stroke-opacity="0.92" stroke-linejoin="round"/>
<path d="M110.8,128.9 L103.4,137.0 L96.0,145.1 L88.7,153.2 L81.3,161.3 L73.9,169.4 L66.5,177.5 L62.2,182.3" fill="none" stroke="rgb(249,203,169)" stroke-width="3.62" stroke-opacity="0.9" stroke-linejoin="round"/>
<path d="M218.9,21.6 L211.2,29.7 L203.4,37.8 L195.7,45.9 L187.9,54.0 L180.2,62.1 L172.5,70.2 L164.7,78.3 L157.0,86.3 L153.6,89.9" fill="none" stroke="rgb(246,183,147)" stroke-width="3.62" stroke-opacity="0.9" stroke-linejoin="round"/>
<path d="M153.6,89.9 L169.4,90.8 L175.0,91.7 L178.8,92.6 L181.7,93.5 L184.0,94.4 L185.7,95.4 L187.1,96.3 L188.2,97.2 L189.1,98.1 L189.7,99.0 L190.1,99.9 L190.2,100.8 L190.3,101.7 L190.1,102.6 L189.8,103.6 L189.4,104.5 L188.8,105.4 L188.1,106.3 L187.2,107.2 L186.2,108.1" fill="none" stroke="url(#g1a)" stroke-width="3.62" stroke-opacity="0.92" stroke-linejoin="round"/>
<path d="M186.2,108.1 L185.1,109.0 L183.8,109.9 L182.4,110.8 L180.8,111.7 L179.1,112.7 L177.3,113.6 L175.3,114.5 L173.1,115.4 L170.8,116.3 L168.3,117.2 L165.5,118.1 L162.6,119.0 L159.3,119.9 L155.8,120.9 L151.9,121.8 L147.5,122.7 L142.4,123.6 L136.5,124.5 L128.7,125.4 L110.8,126.3" fill="none" stroke="url(#g2a)" stroke-width="3.62" stroke-opacity="0.92" stroke-linejoin="round"/>
<path d="M110.8,126.3 L103.4,134.4 L96.0,142.5 L88.7,150.6 L81.3,158.7 L73.9,166.8 L66.5,174.9 L62.2,179.7" fill="none" stroke="rgb(246,183,147)" stroke-width="3.62" stroke-opacity="0.9" stroke-linejoin="round"/>
<path d="M218.9,19.0 L211.2,27.1 L203.4,35.2 L195.7,43.3 L187.9,51.3 L180.2,59.4 L172.5,67.5 L164.7,75.6 L157.0,83.7 L153.6,87.3" fill="none" stroke="rgb(247,191,162)" stroke-width="3.62" stroke-opacity="0.9" stroke-linejoin="round"/>
<path d="M153.6,87.3 L169.4,88.2 L175.0,89.1 L178.8,90.0 L181.7,90.9 L184.0,91.8 L185.7,92.7 L187.1,93.6 L188.2,94.6 L189.1,95.5 L189.7,96.4 L190.1,97.3 L190.2,98.2 L190.3,99.1 L190.1,100.0 L189.8,100.9 L189.4,101.8 L188.8,102.8 L188.1,103.7 L187.2,104.6 L186.2,105.5" fill="none" stroke="url(#g1a)" stroke-width="3.62" stroke-opacity="0.92" stroke-linejoin="round"/>
<path d="M186.2,105.5 L185.1,106.4 L183.8,107.3 L182.4,108.2 L180.8,109.1 L179.1,110.0 L177.3,111.0 L175.3,111.9 L173.1,112.8 L170.8,113.7 L168.3,114.6 L165.5,115.5 L162.6,116.4 L159.3,117.3 L155.8,118.2 L151.9,119.2 L147.5,120.1 L142.4,121.0 L136.5,121.9 L128.7,122.8 L110.8,123.7" fill="none" stroke="url(#g2a)" stroke-width="3.62" stroke-opacity="0.92" stroke-linejoin="round"/>
<path d="M110.8,123.7 L103.4,131.8 L96.0,139.9 L88.7,148.0 L81.3,156.1 L73.9,164.2 L66.5,172.3 L62.2,177.0" fill="none" stroke="rgb(247,191,162)" stroke-width="3.62" stroke-opacity="0.9" stroke-linejoin="round"/>
<path d="M218.9,16.3 L211.2,24.4 L203.4,32.5 L195.7,40.6 L187.9,48.7 L180.2,56.8 L172.5,64.9 L164.7,73.0 L157.0,81.1 L153.6,84.7" fill="none" stroke="rgb(243,162,140)" stroke-width="3.62" stroke-opacity="0.9" stroke-linejoin="round"/>
<path d="M153.6,84.7 L169.4,85.6 L175.0,86.5 L178.8,87.4 L181.7,88.3 L184.0,89.2 L185.7,90.1 L187.1,91.0 L188.2,91.9 L189.1,92.9 L189.7,93.8 L190.1,94.7 L190.2,95.6 L190.3,96.5 L190.1,97.4 L189.8,98.3 L189.4,99.2 L188.8,100.1 L188.1,101.1 L187.2,102.0 L186.2,102.9" fill="none" stroke="url(#g1a)" stroke-width="3.62" stroke-opacity="0.92" stroke-linejoin="round"/>
<path d="M186.2,102.9 L185.1,103.8 L183.8,104.7 L182.4,105.6 L180.8,106.5 L179.1,107.4 L177.3,108.3 L175.3,109.2 L173.1,110.2 L170.8,111.1 L168.3,112.0 L165.5,112.9 L162.6,113.8 L159.3,114.7 L155.8,115.6 L151.9,116.5 L147.5,117.4 L142.4,118.4 L136.5,119.3 L128.7,120.2 L110.8,121.1" fill="none" stroke="url(#g2a)" stroke-width="3.62" stroke-opacity="0.92" stroke-linejoin="round"/>
<path d="M110.8,121.1 L103.4,129.2 L96.0,137.3 L88.7,145.4 L81.3,153.5 L73.9,161.6 L66.5,169.7 L62.2,174.4" fill="none" stroke="rgb(243,162,140)" stroke-width="3.62" stroke-opacity="0.9" stroke-linejoin="round"/>
<path d="M218.9,13.7 L211.2,21.8 L203.4,29.9 L195.7,38.0 L187.9,46.1 L180.2,54.2 L172.5,62.3 L164.7,70.4 L157.0,78.5 L153.6,82.0" fill="none" stroke="rgb(243,166,149)" stroke-width="3.62" stroke-opacity="0.9" stroke-linejoin="round"/>
<path d="M153.6,82.0 L169.4,83.0 L175.0,83.9 L178.8,84.8 L181.7,85.7 L184.0,86.6 L185.7,87.5 L187.1,88.4 L188.2,89.3 L189.1,90.2 L189.7,91.1 L190.1,92.1 L190.2,93.0 L190.3,93.9 L190.1,94.8 L189.8,95.7 L189.4,96.6 L188.8,97.5 L188.1,98.4 L187.2,99.3 L186.2,100.3" fill="none" stroke="url(#g1a)" stroke-width="3.62" stroke-opacity="0.92" stroke-linejoin="round"/>
<path d="M186.2,100.3 L185.1,101.2 L183.8,102.1 L182.4,103.0 L180.8,103.9 L179.1,104.8 L177.3,105.7 L175.3,106.6 L173.1,107.5 L170.8,108.5 L168.3,109.4 L165.5,110.3 L162.6,111.2 L159.3,112.1 L155.8,113.0 L151.9,113.9 L147.5,114.8 L142.4,115.7 L136.5,116.7 L128.7,117.6 L110.8,118.5" fill="none" stroke="url(#g2a)" stroke-width="3.62" stroke-opacity="0.92" stroke-linejoin="round"/>
<path d="M110.8,118.5 L103.4,126.6 L96.0,134.7 L88.7,142.8 L81.3,150.9 L73.9,159.0 L66.5,167.0 L62.2,171.8" fill="none" stroke="rgb(243,166,149)" stroke-width="3.62" stroke-opacity="0.9" stroke-linejoin="round"/>
<path d="M218.9,11.1 L211.2,19.2 L203.4,27.3 L195.7,35.4 L187.9,43.5 L180.2,51.6 L172.5,59.7 L164.7,67.8 L157.0,75.9 L153.6,79.4" fill="none" stroke="rgb(238,128,128)" stroke-width="3.62" stroke-opacity="0.9" stroke-linejoin="round"/>
<path d="M153.6,79.4 L169.4,80.3 L175.0,81.2 L178.8,82.2 L181.7,83.1 L184.0,84.0 L185.7,84.9 L187.1,85.8 L188.2,86.7 L189.1,87.6 L189.7,88.5 L190.1,89.4 L190.2,90.4 L190.3,91.3 L190.1,92.2 L189.8,93.1 L189.4,94.0 L188.8,94.9 L188.1,95.8 L187.2,96.7 L186.2,97.6" fill="none" stroke="url(#g1a)" stroke-width="3.62" stroke-opacity="0.92" stroke-linejoin="round"/>
<path d="M186.2,97.6 L185.1,98.6 L183.8,99.5 L182.4,100.4 L180.8,101.3 L179.1,102.2 L177.3,103.1 L175.3,104.0 L173.1,104.9 L170.8,105.8 L168.3,106.7 L165.5,107.7 L162.6,108.6 L159.3,109.5 L155.8,110.4 L151.9,111.3 L147.5,112.2 L142.4,113.1 L136.5,114.0 L128.7,114.9 L110.8,115.9" fill="none" stroke="url(#g2a)" stroke-width="3.62" stroke-opacity="0.92" stroke-linejoin="round"/>
<path d="M110.8,115.9 L103.4,124.0 L96.0,132.0 L88.7,140.1 L81.3,148.2 L73.9,156.3 L66.5,164.4 L62.2,169.2" fill="none" stroke="rgb(238,128,128)" stroke-width="3.62" stroke-opacity="0.9" stroke-linejoin="round"/>
<path d="M218.9,42.5 L211.2,50.6 L203.4,58.7 L195.7,66.8 L187.9,74.9 L180.2,83.0 L172.5,91.1 L164.7,99.2 L157.0,107.3 L153.6,110.8" fill="none" stroke="#7a2a2a" stroke-width="0.5" stroke-opacity="0.6"/>
<path d="M153.6,110.8 L169.4,111.7 L175.0,112.6 L178.8,113.6 L181.7,114.5 L184.0,115.4 L185.7,116.3 L187.1,117.2 L188.2,118.1 L189.1,119.0 L189.7,119.9 L190.1,120.8 L190.2,121.8 L190.3,122.7 L190.1,123.6 L189.8,124.5 L189.4,125.4 L188.8,126.3 L188.1,127.2 L187.2,128.1 L186.2,129.0" fill="none" stroke="#7a2a2a" stroke-width="0.5" stroke-opacity="0.6"/>
<path d="M186.2,129.0 L185.1,130.0 L183.8,130.9 L182.4,131.8 L180.8,132.7 L179.1,133.6 L177.3,134.5 L175.3,135.4 L173.1,136.3 L170.8,137.2 L168.3,138.1 L165.5,139.1 L162.6,140.0 L159.3,140.9 L155.8,141.8 L151.9,142.7 L147.5,143.6 L142.4,144.5 L136.5,145.4 L128.7,146.3 L110.8,147.3" fill="none" stroke="#7a2a2a" stroke-width="0.5" stroke-opacity="0.6"/>
<path d="M110.8,147.3 L103.4,155.4 L96.0,163.4 L88.7,171.5 L81.3,179.6 L73.9,187.7 L66.5,195.8 L62.2,200.6" fill="none" stroke="#7a2a2a" stroke-width="0.5" stroke-opacity="0.6"/>
<path d="M218.9,39.9 L211.2,48.0 L203.4,56.1 L195.7,64.2 L187.9,72.3 L180.2,80.4 L172.5,88.5 L164.7,96.6 L157.0,104.7 L153.6,108.2" fill="none" stroke="#b84848" stroke-width="0.5" stroke-opacity="0.6"/>
<path d="M153.6,108.2 L169.4,109.1 L175.0,110.0 L178.8,110.9 L181.7,111.9 L184.0,112.8 L185.7,113.7 L187.1,114.6 L188.2,115.5 L189.1,116.4 L189.7,117.3 L190.1,118.2 L190.2,119.1 L190.3,120.0 L190.1,121.0 L189.8,121.9 L189.4,122.8 L188.8,123.7 L188.1,124.6 L187.2,125.5 L186.2,126.4" fill="none" stroke="#b84848" stroke-width="0.5" stroke-opacity="0.6"/>
<path d="M186.2,126.4 L185.1,127.3 L183.8,128.2 L182.4,129.2 L180.8,130.1 L179.1,131.0 L177.3,131.9 L175.3,132.8 L173.1,133.7 L170.8,134.6 L168.3,135.5 L165.5,136.4 L162.6,137.4 L159.3,138.3 L155.8,139.2 L151.9,140.1 L147.5,141.0 L142.4,141.9 L136.5,142.8 L128.7,143.7 L110.8,144.6" fill="none" stroke="#b84848" stroke-width="0.5" stroke-opacity="0.6"/>
<path d="M110.8,144.6 L103.4,152.7 L96.0,160.8 L88.7,168.9 L81.3,177.0 L73.9,185.1 L66.5,193.2 L62.2,198.0" fill="none" stroke="#b84848" stroke-width="0.5" stroke-opacity="0.6"/>
<path d="M218.9,34.7 L211.2,42.8 L203.4,50.9 L195.7,59.0 L187.9,67.0 L180.2,75.1 L172.5,83.2 L164.7,91.3 L157.0,99.4 L153.6,103.0" fill="none" stroke="#b84848" stroke-width="0.5" stroke-opacity="0.6"/>
<path d="M153.6,103.0 L169.4,103.9 L175.0,104.8 L178.8,105.7 L181.7,106.6 L184.0,107.5 L185.7,108.4 L187.1,109.3 L188.2,110.3 L189.1,111.2 L189.7,112.1 L190.1,113.0 L190.2,113.9 L190.3,114.8 L190.1,115.7 L189.8,116.6 L189.4,117.5 L188.8,118.5 L188.1,119.4 L187.2,120.3 L186.2,121.2" fill="none" stroke="#b84848" stroke-width="0.5" stroke-opacity="0.6"/>
<path d="M186.2,121.2 L185.1,122.1 L183.8,123.0 L182.4,123.9 L180.8,124.8 L179.1,125.7 L177.3,126.7 L175.3,127.6 L173.1,128.5 L170.8,129.4 L168.3,130.3 L165.5,131.2 L162.6,132.1 L159.3,133.0 L155.8,133.9 L151.9,134.9 L147.5,135.8 L142.4,136.7 L136.5,137.6 L128.7,138.5 L110.8,139.4" fill="none" stroke="#b84848" stroke-width="0.5" stroke-opacity="0.6"/>
<path d="M110.8,139.4 L103.4,147.5 L96.0,155.6 L88.7,163.7 L81.3,171.8 L73.9,179.9 L66.5,188.0 L62.2,192.7" fill="none" stroke="#b84848" stroke-width="0.5" stroke-opacity="0.6"/>
<path d="M218.9,29.4 L211.2,37.5 L203.4,45.6 L195.7,53.7 L187.9,61.8 L180.2,69.9 L172.5,78.0 L164.7,86.1 L157.0,94.2 L153.6,97.7" fill="none" stroke="#b84848" stroke-width="0.5" stroke-opacity="0.6"/>
<path d="M153.6,97.7 L169.4,98.7 L175.0,99.6 L178.8,100.5 L181.7,101.4 L184.0,102.3 L185.7,103.2 L187.1,104.1 L188.2,105.0 L189.1,105.9 L189.7,106.8 L190.1,107.8 L190.2,108.7 L190.3,109.6 L190.1,110.5 L189.8,111.4 L189.4,112.3 L188.8,113.2 L188.1,114.1 L187.2,115.0 L186.2,116.0" fill="none" stroke="#b84848" stroke-width="0.5" stroke-opacity="0.6"/>
<path d="M186.2,116.0 L185.1,116.9 L183.8,117.8 L182.4,118.7 L180.8,119.6 L179.1,120.5 L177.3,121.4 L175.3,122.3 L173.1,123.2 L170.8,124.2 L168.3,125.1 L165.5,126.0 L162.6,126.9 L159.3,127.8 L155.8,128.7 L151.9,129.6 L147.5,130.5 L142.4,131.4 L136.5,132.4 L128.7,133.3 L110.8,134.2" fill="none" stroke="#b84848" stroke-width="0.5" stroke-opacity="0.6"/>
<path d="M110.8,134.2 L103.4,142.3 L96.0,150.4 L88.7,158.5 L81.3,166.6 L73.9,174.7 L66.5,182.7 L62.2,187.5" fill="none" stroke="#b84848" stroke-width="0.5" stroke-opacity="0.6"/>
<path d="M218.9,24.2 L211.2,32.3 L203.4,40.4 L195.7,48.5 L187.9,56.6 L180.2,64.7 L172.5,72.8 L164.7,80.9 L157.0,89.0 L153.6,92.5" fill="none" stroke="#b84848" stroke-width="0.5" stroke-opacity="0.6"/>
<path d="M153.6,92.5 L169.4,93.4 L175.0,94.3 L178.8,95.2 L181.7,96.2 L184.0,97.1 L185.7,98.0 L187.1,98.9 L188.2,99.8 L189.1,100.7 L189.7,101.6 L190.1,102.5 L190.2,103.4 L190.3,104.3 L190.1,105.3 L189.8,106.2 L189.4,107.1 L188.8,108.0 L188.1,108.9 L187.2,109.8 L186.2,110.7" fill="none" stroke="#b84848" stroke-width="0.5" stroke-opacity="0.6"/>
<path d="M186.2,110.7 L185.1,111.6 L183.8,112.5 L182.4,113.5 L180.8,114.4 L179.1,115.3 L177.3,116.2 L175.3,117.1 L173.1,118.0 L170.8,118.9 L168.3,119.8 L165.5,120.7 L162.6,121.7 L159.3,122.6 L155.8,123.5 L151.9,124.4 L147.5,125.3 L142.4,126.2 L136.5,127.1 L128.7,128.0 L110.8,128.9" fill="none" stroke="#b84848" stroke-width="0.5" stroke-opacity="0.6"/>
<path d="M110.8,128.9 L103.4,137.0 L96.0,145.1 L88.7,153.2 L81.3,161.3 L73.9,169.4 L66.5,177.5 L62.2,182.3" fill="none" stroke="#b84848" stroke-width="0.5" stroke-opacity="0.6"/>
<path d="M218.9,19.0 L211.2,27.1 L203.4,35.2 L195.7,43.3 L187.9,51.3 L180.2,59.4 L172.5,67.5 L164.7,75.6 L157.0,83.7 L153.6,87.3" fill="none" stroke="#b84848" stroke-width="0.5" stroke-opacity="0.6"/>
<path d="M153.6,87.3 L169.4,88.2 L175.0,89.1 L178.8,90.0 L181.7,90.9 L184.0,91.8 L185.7,92.7 L187.1,93.6 L188.2,94.6 L189.1,95.5 L189.7,96.4 L190.1,97.3 L190.2,98.2 L190.3,99.1 L190.1,100.0 L189.8,100.9 L189.4,101.8 L188.8,102.8 L188.1,103.7 L187.2,104.6 L186.2,105.5" fill="none" stroke="#b84848" stroke-width="0.5" stroke-opacity="0.6"/>
<path d="M186.2,105.5 L185.1,106.4 L183.8,107.3 L182.4,108.2 L180.8,109.1 L179.1,110.0 L177.3,111.0 L175.3,111.9 L173.1,112.8 L170.8,113.7 L168.3,114.6 L165.5,115.5 L162.6,116.4 L159.3,117.3 L155.8,118.2 L151.9,119.2 L147.5,120.1 L142.4,121.0 L136.5,121.9 L128.7,122.8 L110.8,123.7" fill="none" stroke="#b84848" stroke-width="0.5" stroke-opacity="0.6"/>
<path d="M110.8,123.7 L103.4,131.8 L96.0,139.9 L88.7,148.0 L81.3,156.1 L73.9,164.2 L66.5,172.3 L62.2,177.0" fill="none" stroke="#b84848" stroke-width="0.5" stroke-opacity="0.6"/>
<path d="M218.9,13.7 L211.2,21.8 L203.4,29.9 L195.7,38.0 L187.9,46.1 L180.2,54.2 L172.5,62.3 L164.7,70.4 L157.0,78.5 L153.6,82.0" fill="none" stroke="#b84848" stroke-width="0.5" stroke-opacity="0.6"/>
<path d="M153.6,82.0 L169.4,83.0 L175.0,83.9 L178.8,84.8 L181.7,85.7 L184.0,86.6 L185.7,87.5 L187.1,88.4 L188.2,89.3 L189.1,90.2 L189.7,91.1 L190.1,92.1 L190.2,93.0 L190.3,93.9 L190.1,94.8 L189.8,95.7 L189.4,96.6 L188.8,97.5 L188.1,98.4 L187.2,99.3 L186.2,100.3" fill="none" stroke="#b84848" stroke-width="0.5" stroke-opacity="0.6"/>
<path d="M186.2,100.3 L185.1,101.2 L183.8,102.1 L182.4,103.0 L180.8,103.9 L179.1,104.8 L177.3,105.7 L175.3,106.6 L173.1,107.5 L170.8,108.5 L168.3,109.4 L165.5,110.3 L162.6,111.2 L159.3,112.1 L155.8,113.0 L151.9,113.9 L147.5,114.8 L142.4,115.7 L136.5,116.7 L128.7,117.6 L110.8,118.5" fill="none" stroke="#b84848" stroke-width="0.5" stroke-opacity="0.6"/>
<path d="M110.8,118.5 L103.4,126.6 L96.0,134.7 L88.7,142.8 L81.3,150.9 L73.9,159.0 L66.5,167.0 L62.2,171.8" fill="none" stroke="#b84848" stroke-width="0.5" stroke-opacity="0.6"/>
<path d="M218.9,11.1 L211.2,19.2 L203.4,27.3 L195.7,35.4 L187.9,43.5 L180.2,51.6 L172.5,59.7 L164.7,67.8 L157.0,75.9 L153.6,79.4" fill="none" stroke="#7a2a2a" stroke-width="0.5" stroke-opacity="0.6"/>
<path d="M153.6,79.4 L169.4,80.3 L175.0,81.2 L178.8,82.2 L181.7,83.1 L184.0,84.0 L185.7,84.9 L187.1,85.8 L188.2,86.7 L189.1,87.6 L189.7,88.5 L190.1,89.4 L190.2,90.4 L190.3,91.3 L190.1,92.2 L189.8,93.1 L189.4,94.0 L188.8,94.9 L188.1,95.8 L187.2,96.7 L186.2,97.6" fill="none" stroke="#7a2a2a" stroke-width="0.5" stroke-opacity="0.6"/>
<path d="M186.2,97.6 L185.1,98.6 L183.8,99.5 L182.4,100.4 L180.8,101.3 L179.1,102.2 L177.3,103.1 L175.3,104.0 L173.1,104.9 L170.8,105.8 L168.3,106.7 L165.5,107.7 L162.6,108.6 L159.3,109.5 L155.8,110.4 L151.9,111.3 L147.5,112.2 L142.4,113.1 L136.5,114.0 L128.7,114.9 L110.8,115.9" fill="none" stroke="#7a2a2a" stroke-width="0.5" stroke-opacity="0.6"/>
<path d="M110.8,115.9 L103.4,124.0 L96.0,132.0 L88.7,140.1 L81.3,148.2 L73.9,156.3 L66.5,164.4 L62.2,169.2" fill="none" stroke="#7a2a2a" stroke-width="0.5" stroke-opacity="0.6"/>
<line x1="37.80" y1="178.60" x2="203.30" y2="11.11" stroke="#333" stroke-width="0.9" />
<line x1="132.10" y1="178.60" x2="297.60" y2="11.11" stroke="#333" stroke-width="0.9" />
<line x1="37.80" y1="210.00" x2="203.30" y2="42.51" stroke="#333" stroke-width="0.9" />
<line x1="132.10" y1="210.00" x2="297.60" y2="42.51" stroke="#333" stroke-width="0.9" />
<line x1="37.80" y1="178.60" x2="132.10" y2="178.60" stroke="#333" stroke-width="0.9" />
<line x1="37.80" y1="210.00" x2="132.10" y2="210.00" stroke="#333" stroke-width="0.9" />
<line x1="37.80" y1="178.60" x2="37.80" y2="210.00" stroke="#333" stroke-width="0.9" />
<line x1="203.30" y1="11.11" x2="297.60" y2="11.11" stroke="#333" stroke-width="0.9" />
<line x1="203.30" y1="42.51" x2="297.60" y2="42.51" stroke="#333" stroke-width="0.9" />
<line x1="203.30" y1="11.11" x2="203.30" y2="42.51" stroke="#333" stroke-width="0.9" />
<line x1="105.20" y1="110.39" x2="199.50" y2="110.39" stroke="#262626" stroke-width="0.95" />
<line x1="105.20" y1="141.79" x2="199.50" y2="141.79" stroke="#262626" stroke-width="0.95" />
<line x1="105.20" y1="110.39" x2="105.20" y2="141.79" stroke="#262626" stroke-width="0.95" />
<line x1="199.50" y1="110.39" x2="199.50" y2="141.79" stroke="#262626" stroke-width="0.95" />
<line x1="135.80" y1="79.42" x2="230.10" y2="79.42" stroke="#262626" stroke-width="0.95" />
<line x1="135.80" y1="110.82" x2="230.10" y2="110.82" stroke="#262626" stroke-width="0.95" />
<line x1="135.80" y1="79.42" x2="135.80" y2="110.82" stroke="#262626" stroke-width="0.95" />
<line x1="230.10" y1="79.42" x2="230.10" y2="110.82" stroke="#262626" stroke-width="0.95" />
<line x1="112.00" y1="103.51" x2="112.00" y2="134.91" stroke="#262626" stroke-width="0.95" />
<line x1="112.00" y1="103.51" x2="162.00" y2="103.51" stroke="#262626" stroke-width="0.95" />
<line x1="112.00" y1="134.91" x2="174.00" y2="134.91" stroke="#262626" stroke-width="0.95" stroke-dasharray="2.5 1.8"/>
<line x1="128.60" y1="86.71" x2="128.60" y2="118.11" stroke="#262626" stroke-width="0.95" />
<line x1="128.60" y1="86.71" x2="156.60" y2="86.71" stroke="#262626" stroke-width="0.95" />
<line x1="128.60" y1="118.11" x2="188.60" y2="118.11" stroke="#262626" stroke-width="0.95" stroke-dasharray="2.5 1.8"/>
<line x1="218.40" y1="11.11" x2="218.40" y2="42.51" stroke="#e01010" stroke-width="2.2"/>
<line x1="132.10" y1="215.20" x2="132.10" y2="171.60" stroke="#111" stroke-width="2" stroke-dasharray="4 2 1.5 2"/>
<line x1="297.60" y1="49.51" x2="297.60" y2="4.01" stroke="#111" stroke-width="2" stroke-dasharray="4 2 1.5 2"/>
<text x="27.00" y="179.60" font-size="15" fill="#000" >1</text>
<text x="25.60" y="216.60" font-size="15" fill="#000" >0</text>
<text transform="translate(23.4,191.8) rotate(-90)" font-size="15" text-anchor="middle" fill="#000">mm</text>
<text x="122.00" y="231.00" font-size="15" fill="#000" >3 mm</text>
<text transform="translate(63.0,141.3) rotate(-45.3)" font-size="14.7" fill="#000">Stokes flow (<tspan font-style="italic">Re</tspan>=0.04)</text>
<line x1="13.40" y1="240.90" x2="13.40" y2="226.90" stroke="#000" stroke-width="1.5" />
<path d="M13.4,221.3 L10.8,227.9 L16.0,227.9Z" fill="#000"/>
<line x1="12.65" y1="240.90" x2="29.40" y2="240.90" stroke="#000" stroke-width="1.5" />
<path d="M35.3,240.9 L28.700000000000003,238.3 L28.700000000000003,243.5Z" fill="#000"/>
<line x1="13.40" y1="240.90" x2="25.40" y2="230.40" stroke="#000" stroke-width="1.5" />
<path d="M29.0,226.8 L22.5,229.0 L26.8,233.3Z" fill="#000"/>
<text x="9.60" y="220.40" font-size="15" fill="#000" >z</text>
<text x="32.60" y="227.60" font-size="15" fill="#000" >x</text>
<text x="38.00" y="244.20" font-size="15" fill="#000" >y</text>
<linearGradient id="hotg" x1="0" y1="0" x2="1" y2="0"><stop offset="0" stop-color="#000"/><stop offset="0.12" stop-color="#3a0000"/><stop offset="0.3" stop-color="#b00000"/><stop offset="0.4" stop-color="#ff1a00"/><stop offset="0.55" stop-color="#ff6a00"/><stop offset="0.7" stop-color="#ffb400"/><stop offset="0.82" stop-color="#fff000"/><stop offset="0.93" stop-color="#fffa90"/><stop offset="1" stop-color="#fffff4"/></linearGradient>
<rect x="259.8" y="115.3" width="108.7" height="10.7" fill="url(#hotg)" stroke="#999" stroke-width="0.6"/>
<text x="259.30" y="142.50" font-size="15" fill="#000" >0</text>
<text x="381.20" y="141.90" font-size="15" text-anchor="end" fill="#000" >0.3</text>
<text x="349.9" y="153.4" font-size="14.6" fill="#000">mm s<tspan dy="-5" font-size="10">−1</tspan></text>
<path d="M365.7,160.4 H213.3 V211.3 H365.7" fill="none" stroke="#888" stroke-width="0.9"/>
<linearGradient id="insa0" gradientUnits="userSpaceOnUse" x1="239" y1="0" x2="324" y2="0"><stop offset="0" stop-color="#e85050"/><stop offset="0.4" stop-color="#ee8a7a"/><stop offset="0.7" stop-color="#f4bc98"/><stop offset="0.9" stop-color="#f8e4a8"/><stop offset="1" stop-color="#fcf2d0"/></linearGradient>
<linearGradient id="insa1" gradientUnits="userSpaceOnUse" x1="239" y1="0" x2="324" y2="0"><stop offset="0" stop-color="#f08888"/><stop offset="0.4" stop-color="#f2a898"/><stop offset="0.7" stop-color="#f6cfa8"/><stop offset="0.9" stop-color="#f9ecb8"/><stop offset="1" stop-color="#fdf6e0"/></linearGradient>
<line x1="239" y1="161.60" x2="324" y2="161.60" stroke="url(#insa0)" stroke-width="0.8"/><line x1="239" y1="163.91" x2="324" y2="163.91" stroke="url(#insa1)" stroke-width="0.8"/><line x1="239" y1="166.22" x2="324" y2="166.22" stroke="url(#insa0)" stroke-width="0.8"/><line x1="239" y1="168.53" x2="324" y2="168.53" stroke="url(#insa1)" stroke-width="0.8"/><line x1="239" y1="170.84" x2="324" y2="170.84" stroke="url(#insa0)" stroke-width="0.8"/><line x1="239" y1="173.15" x2="324" y2="173.15" stroke="url(#insa1)" stroke-width="0.8"/><line x1="239" y1="175.46" x2="324" y2="175.46" stroke="url(#insa0)" stroke-width="0.8"/><line x1="239" y1="177.77" x2="324" y2="177.77" stroke="url(#insa1)" stroke-width="0.8"/><line x1="239" y1="180.08" x2="324" y2="180.08" stroke="url(#insa0)" stroke-width="0.8"/><line x1="239" y1="182.39" x2="324" y2="182.39" stroke="url(#insa1)" stroke-width="0.8"/><line x1="239" y1="184.70" x2="324" y2="184.70" stroke="url(#insa0)" stroke-width="0.8"/><line x1="239" y1="187.00" x2="324" y2="187.00" stroke="url(#insa1)" stroke-width="0.8"/><line x1="239" y1="189.31" x2="324" y2="189.31" stroke="url(#insa0)" stroke-width="0.8"/><line x1="239" y1="191.62" x2="324" y2="191.62" stroke="url(#insa1)" stroke-width="0.8"/><line x1="239" y1="193.93" x2="324" y2="193.93" stroke="url(#insa0)" stroke-width="0.8"/><line x1="239" y1="196.24" x2="324" y2="196.24" stroke="url(#insa1)" stroke-width="0.8"/><line x1="239" y1="198.55" x2="324" y2="198.55" stroke="url(#insa0)" stroke-width="0.8"/><line x1="239" y1="200.86" x2="324" y2="200.86" stroke="url(#insa1)" stroke-width="0.8"/><line x1="239" y1="203.17" x2="324" y2="203.17" stroke="url(#insa0)" stroke-width="0.8"/><line x1="239" y1="205.48" x2="324" y2="205.48" stroke="url(#insa1)" stroke-width="0.8"/><line x1="239" y1="207.79" x2="324" y2="207.79" stroke="url(#insa0)" stroke-width="0.8"/><line x1="239" y1="210.10" x2="324" y2="210.10" stroke="url(#insa1)" stroke-width="0.8"/>
<line x1="311.60" y1="160.40" x2="311.60" y2="211.30" stroke="#555" stroke-width="0.7" />
<line x1="238.8" y1="160.4" x2="238.8" y2="211.8" stroke="#e01010" stroke-width="3" stroke-linecap="round"/>
<line x1="365.7" y1="156.9" x2="365.7" y2="213.8" stroke="#111" stroke-width="1.8" stroke-dasharray="4 2 1.5 2"/>
<text x="204.00" y="197.80" font-size="15" fill="#000" >z</text>
<text x="229.00" y="222.40" font-size="15" fill="#000" >y</text>
<line x1="207.00" y1="218.90" x2="207.00" y2="207.90" stroke="#000" stroke-width="1.5" />
<path d="M207.0,202.5 L204.4,208.9 L209.6,208.9Z" fill="#000"/>
<line x1="206.25" y1="218.90" x2="220.50" y2="218.90" stroke="#000" stroke-width="1.5" />
<path d="M226.7,218.9 L220.2,216.3 L220.2,221.5Z" fill="#000"/>
<text x="5.50" y="15.00" font-size="21" font-weight="bold" fill="#000" >a</text>
<linearGradient id="g1b" gradientUnits="userSpaceOnUse" x1="549.6" y1="0" x2="585.6" y2="0"><stop offset="0" stop-color="#4050e0"/><stop offset="0.4" stop-color="#50c0f0"/><stop offset="0.75" stop-color="#80f0d0"/><stop offset="0.9" stop-color="#f0d040"/><stop offset="1" stop-color="#e03020"/></linearGradient>
<linearGradient id="g2b" gradientUnits="userSpaceOnUse" x1="585.6" y1="0" x2="513.6" y2="0"><stop offset="0" stop-color="#e84020"/><stop offset="0.1" stop-color="#f0a030"/><stop offset="0.2" stop-color="#e0e060"/><stop offset="0.35" stop-color="#80e8e0"/><stop offset="0.7" stop-color="#90c8f0"/><stop offset="1" stop-color="#8c98ea"/></linearGradient>
<path d="M552.3,100.5 L568.1,101.8 L573.7,104.0 L577.5,106.6 L580.4,109.5 L582.7,112.4 L584.4,114.9 L585.8,116.9 L586.9,118.1 L587.8,119.0 L588.4,119.9 L588.8,120.8 L588.9,121.8 L589.0,122.7 L588.8,123.6 L588.5,124.5 L588.1,125.4 L587.5,126.3 L586.8,127.2 L585.9,128.1 L584.9,129.0" fill="none" stroke="url(#g1b)" stroke-width="2.71" stroke-opacity="0.7" stroke-linejoin="round"/>
<path d="M584.9,129.0 L583.8,130.0 L582.5,130.9 L581.1,131.8 L579.5,132.7 L577.8,133.6 L576.0,134.5 L574.0,135.4 L571.8,136.3 L569.5,137.2 L567.0,138.1 L564.2,139.1 L561.3,140.0 L558.0,140.9 L554.5,141.8 L550.6,142.7 L546.2,143.6 L541.1,144.5 L535.2,145.4 L527.4,146.3 L509.5,147.3" fill="none" stroke="url(#g2b)" stroke-width="2.71" stroke-opacity="0.7" stroke-linejoin="round"/>
<path d="M509.5,147.3 L502.1,155.4 L494.7,163.4 L487.4,171.5 L480.0,179.6 L472.6,187.7 L465.2,195.8 L460.9,200.6" fill="none" stroke="rgb(128,128,232)" stroke-width="3.62" stroke-opacity="0.9" stroke-linejoin="round"/>
<path d="M552.3,99.3 L568.1,100.6 L573.7,102.6 L577.5,105.0 L580.4,107.6 L582.7,110.2 L584.4,112.5 L585.8,114.3 L586.9,115.5 L587.8,116.4 L588.4,117.3 L588.8,118.2 L588.9,119.1 L589.0,120.0 L588.8,121.0 L588.5,121.9 L588.1,122.8 L587.5,123.7 L586.8,124.6 L585.9,125.5 L584.9,126.4" fill="none" stroke="url(#g1b)" stroke-width="2.71" stroke-opacity="0.7" stroke-linejoin="round"/>
<path d="M584.9,126.4 L583.8,127.3 L582.5,128.2 L581.1,129.2 L579.5,130.1 L577.8,131.0 L576.0,131.9 L574.0,132.8 L571.8,133.7 L569.5,134.6 L567.0,135.5 L564.2,136.4 L561.3,137.4 L558.0,138.3 L554.5,139.2 L550.6,140.1 L546.2,141.0 L541.1,141.9 L535.2,142.8 L527.4,143.7 L509.5,144.6" fill="none" stroke="url(#g2b)" stroke-width="2.71" stroke-opacity="0.7" stroke-linejoin="round"/>
<path d="M509.5,144.6 L502.1,152.7 L494.7,160.8 L487.4,168.9 L480.0,177.0 L472.6,185.1 L465.2,193.2 L460.9,198.0" fill="none" stroke="rgb(143,177,241)" stroke-width="3.62" stroke-opacity="0.9" stroke-linejoin="round"/>
<path d="M552.3,98.1 L568.1,99.4 L573.7,101.2 L577.5,103.3 L580.4,105.7 L582.7,108.0 L584.4,110.1 L585.8,111.8 L586.9,112.9 L587.8,113.8 L588.4,114.7 L588.8,115.6 L588.9,116.5 L589.0,117.4 L588.8,118.3 L588.5,119.3 L588.1,120.2 L587.5,121.1 L586.8,122.0 L585.9,122.9 L584.9,123.8" fill="none" stroke="url(#g1b)" stroke-width="2.71" stroke-opacity="0.7" stroke-linejoin="round"/>
<path d="M584.9,123.8 L583.8,124.7 L582.5,125.6 L581.1,126.5 L579.5,127.4 L577.8,128.4 L576.0,129.3 L574.0,130.2 L571.8,131.1 L569.5,132.0 L567.0,132.9 L564.2,133.8 L561.3,134.7 L558.0,135.6 L554.5,136.6 L550.6,137.5 L546.2,138.4 L541.1,139.3 L535.2,140.2 L527.4,141.1 L509.5,142.0" fill="none" stroke="url(#g2b)" stroke-width="2.71" stroke-opacity="0.7" stroke-linejoin="round"/>
<path d="M509.5,142.0 L502.1,150.1 L494.7,158.2 L487.4,166.3 L480.0,174.4 L472.6,182.5 L465.2,190.6 L460.9,195.4" fill="none" stroke="rgb(134,188,239)" stroke-width="3.62" stroke-opacity="0.9" stroke-linejoin="round"/>
<path d="M552.3,96.9 L568.1,98.1 L573.7,99.7 L577.5,101.7 L580.4,103.7 L582.7,105.8 L584.4,107.6 L585.8,109.2 L586.9,110.3 L587.8,111.2 L588.4,112.1 L588.8,113.0 L588.9,113.9 L589.0,114.8 L588.8,115.7 L588.5,116.6 L588.1,117.5 L587.5,118.5 L586.8,119.4 L585.9,120.3 L584.9,121.2" fill="none" stroke="url(#g1b)" stroke-width="2.71" stroke-opacity="0.7" stroke-linejoin="round"/>
<path d="M584.9,121.2 L583.8,122.1 L582.5,123.0 L581.1,123.9 L579.5,124.8 L577.8,125.7 L576.0,126.7 L574.0,127.6 L571.8,128.5 L569.5,129.4 L567.0,130.3 L564.2,131.2 L561.3,132.1 L558.0,133.0 L554.5,133.9 L550.6,134.9 L546.2,135.8 L541.1,136.7 L535.2,137.6 L527.4,138.5 L509.5,139.4" fill="none" stroke="url(#g2b)" stroke-width="2.71" stroke-opacity="0.7" stroke-linejoin="round"/>
<path d="M509.5,139.4 L502.1,147.5 L494.7,155.6 L487.4,163.7 L480.0,171.8 L472.6,179.9 L465.2,188.0 L460.9,192.7" fill="none" stroke="rgb(147,217,245)" stroke-width="3.62" stroke-opacity="0.9" stroke-linejoin="round"/>
<path d="M552.3,95.8 L568.1,96.9 L573.7,98.3 L577.5,100.0 L580.4,101.8 L582.7,103.6 L584.4,105.2 L585.8,106.6 L586.9,107.6 L587.8,108.6 L588.4,109.5 L588.8,110.4 L588.9,111.3 L589.0,112.2 L588.8,113.1 L588.5,114.0 L588.1,114.9 L587.5,115.8 L586.8,116.8 L585.9,117.7 L584.9,118.6" fill="none" stroke="url(#g1b)" stroke-width="2.71" stroke-opacity="0.7" stroke-linejoin="round"/>
<path d="M584.9,118.6 L583.8,119.5 L582.5,120.4 L581.1,121.3 L579.5,122.2 L577.8,123.1 L576.0,124.0 L574.0,124.9 L571.8,125.9 L569.5,126.8 L567.0,127.7 L564.2,128.6 L561.3,129.5 L558.0,130.4 L554.5,131.3 L550.6,132.2 L546.2,133.1 L541.1,134.1 L535.2,135.0 L527.4,135.9 L509.5,136.8" fill="none" stroke="url(#g2b)" stroke-width="2.71" stroke-opacity="0.7" stroke-linejoin="round"/>
<path d="M509.5,136.8 L502.1,144.9 L494.7,153.0 L487.4,161.1 L480.0,169.2 L472.6,177.3 L465.2,185.4 L460.9,190.1" fill="none" stroke="rgb(138,224,244)" stroke-width="3.62" stroke-opacity="0.9" stroke-linejoin="round"/>
<path d="M552.3,94.6 L568.1,95.6 L573.7,96.9 L577.5,98.4 L580.4,99.9 L582.7,101.4 L584.4,102.8 L585.8,104.0 L586.9,105.0 L587.8,105.9 L588.4,106.8 L588.8,107.8 L588.9,108.7 L589.0,109.6 L588.8,110.5 L588.5,111.4 L588.1,112.3 L587.5,113.2 L586.8,114.1 L585.9,115.0 L584.9,116.0" fill="none" stroke="url(#g1b)" stroke-width="2.71" stroke-opacity="0.7" stroke-linejoin="round"/>
<path d="M584.9,116.0 L583.8,116.9 L582.5,117.8 L581.1,118.7 L579.5,119.6 L577.8,120.5 L576.0,121.4 L574.0,122.3 L571.8,123.2 L569.5,124.2 L567.0,125.1 L564.2,126.0 L561.3,126.9 L558.0,127.8 L554.5,128.7 L550.6,129.6 L546.2,130.5 L541.1,131.4 L535.2,132.4 L527.4,133.3 L509.5,134.2" fill="none" stroke="url(#g2b)" stroke-width="2.71" stroke-opacity="0.7" stroke-linejoin="round"/>
<path d="M509.5,134.2 L502.1,142.3 L494.7,150.4 L487.4,158.5 L480.0,166.6 L472.6,174.7 L465.2,182.7 L460.9,187.5" fill="none" stroke="rgb(149,237,247)" stroke-width="3.62" stroke-opacity="0.9" stroke-linejoin="round"/>
<path d="M552.3,93.4 L568.1,94.4 L573.7,95.5 L577.5,96.7 L580.4,97.9 L582.7,99.2 L584.4,100.4 L585.8,101.5 L586.9,102.4 L587.8,103.3 L588.4,104.2 L588.8,105.1 L588.9,106.1 L589.0,107.0 L588.8,107.9 L588.5,108.8 L588.1,109.7 L587.5,110.6 L586.8,111.5 L585.9,112.4 L584.9,113.3" fill="none" stroke="url(#g1b)" stroke-width="2.71" stroke-opacity="0.7" stroke-linejoin="round"/>
<path d="M584.9,113.3 L583.8,114.3 L582.5,115.2 L581.1,116.1 L579.5,117.0 L577.8,117.9 L576.0,118.8 L574.0,119.7 L571.8,120.6 L569.5,121.5 L567.0,122.4 L564.2,123.4 L561.3,124.3 L558.0,125.2 L554.5,126.1 L550.6,127.0 L546.2,127.9 L541.1,128.8 L535.2,129.7 L527.4,130.6 L509.5,131.6" fill="none" stroke="url(#g2b)" stroke-width="2.71" stroke-opacity="0.7" stroke-linejoin="round"/>
<path d="M509.5,131.6 L502.1,139.7 L494.7,147.7 L487.4,155.8 L480.0,163.9 L472.6,172.0 L465.2,180.1 L460.9,184.9" fill="none" stroke="rgb(140,236,246)" stroke-width="3.62" stroke-opacity="0.9" stroke-linejoin="round"/>
<path d="M552.3,92.2 L568.1,93.1 L573.7,94.1 L577.5,95.0 L580.4,96.0 L582.7,97.0 L584.4,97.9 L585.8,98.9 L586.9,99.8 L587.8,100.7 L588.4,101.6 L588.8,102.5 L588.9,103.4 L589.0,104.3 L588.8,105.3 L588.5,106.2 L588.1,107.1 L587.5,108.0 L586.8,108.9 L585.9,109.8 L584.9,110.7" fill="none" stroke="url(#g1b)" stroke-width="2.71" stroke-opacity="0.7" stroke-linejoin="round"/>
<path d="M584.9,110.7 L583.8,111.6 L582.5,112.5 L581.1,113.5 L579.5,114.4 L577.8,115.3 L576.0,116.2 L574.0,117.1 L571.8,118.0 L569.5,118.9 L567.0,119.8 L564.2,120.7 L561.3,121.7 L558.0,122.6 L554.5,123.5 L550.6,124.4 L546.2,125.3 L541.1,126.2 L535.2,127.1 L527.4,128.0 L509.5,128.9" fill="none" stroke="url(#g2b)" stroke-width="2.71" stroke-opacity="0.7" stroke-linejoin="round"/>
<path d="M509.5,128.9 L502.1,137.0 L494.7,145.1 L487.4,153.2 L480.0,161.3 L472.6,169.4 L465.2,177.5 L460.9,182.3" fill="none" stroke="rgb(149,237,247)" stroke-width="3.62" stroke-opacity="0.9" stroke-linejoin="round"/>
<path d="M552.3,91.0 L568.1,91.9 L573.7,92.7 L577.5,93.4 L580.4,94.1 L582.7,94.8 L584.4,95.5 L585.8,96.3 L586.9,97.2 L587.8,98.1 L588.4,99.0 L588.8,99.9 L588.9,100.8 L589.0,101.7 L588.8,102.6 L588.5,103.6 L588.1,104.5 L587.5,105.4 L586.8,106.3 L585.9,107.2 L584.9,108.1" fill="none" stroke="url(#g1b)" stroke-width="2.71" stroke-opacity="0.7" stroke-linejoin="round"/>
<path d="M584.9,108.1 L583.8,109.0 L582.5,109.9 L581.1,110.8 L579.5,111.7 L577.8,112.7 L576.0,113.6 L574.0,114.5 L571.8,115.4 L569.5,116.3 L567.0,117.2 L564.2,118.1 L561.3,119.0 L558.0,119.9 L554.5,120.9 L550.6,121.8 L546.2,122.7 L541.1,123.6 L535.2,124.5 L527.4,125.4 L509.5,126.3" fill="none" stroke="url(#g2b)" stroke-width="2.71" stroke-opacity="0.7" stroke-linejoin="round"/>
<path d="M509.5,126.3 L502.1,134.4 L494.7,142.5 L487.4,150.6 L480.0,158.7 L472.6,166.8 L465.2,174.9 L460.9,179.7" fill="none" stroke="rgb(138,224,244)" stroke-width="3.62" stroke-opacity="0.9" stroke-linejoin="round"/>
<path d="M552.3,89.9 L568.1,90.7 L573.7,91.3 L577.5,91.7 L580.4,92.2 L582.7,92.6 L584.4,93.1 L585.8,93.7 L586.9,94.6 L587.8,95.5 L588.4,96.4 L588.8,97.3 L588.9,98.2 L589.0,99.1 L588.8,100.0 L588.5,100.9 L588.1,101.8 L587.5,102.8 L586.8,103.7 L585.9,104.6 L584.9,105.5" fill="none" stroke="url(#g1b)" stroke-width="2.71" stroke-opacity="0.7" stroke-linejoin="round"/>
<path d="M584.9,105.5 L583.8,106.4 L582.5,107.3 L581.1,108.2 L579.5,109.1 L577.8,110.0 L576.0,111.0 L574.0,111.9 L571.8,112.8 L569.5,113.7 L567.0,114.6 L564.2,115.5 L561.3,116.4 L558.0,117.3 L554.5,118.2 L550.6,119.2 L546.2,120.1 L541.1,121.0 L535.2,121.9 L527.4,122.8 L509.5,123.7" fill="none" stroke="url(#g2b)" stroke-width="2.71" stroke-opacity="0.7" stroke-linejoin="round"/>
<path d="M509.5,123.7 L502.1,131.8 L494.7,139.9 L487.4,148.0 L480.0,156.1 L472.6,164.2 L465.2,172.3 L460.9,177.0" fill="none" stroke="rgb(147,217,245)" stroke-width="3.62" stroke-opacity="0.9" stroke-linejoin="round"/>
<path d="M552.3,88.7 L568.1,89.4 L573.7,89.8 L577.5,90.1 L580.4,90.2 L582.7,90.4 L584.4,90.7 L585.8,91.1 L586.9,91.9 L587.8,92.9 L588.4,93.8 L588.8,94.7 L588.9,95.6 L589.0,96.5 L588.8,97.4 L588.5,98.3 L588.1,99.2 L587.5,100.1 L586.8,101.1 L585.9,102.0 L584.9,102.9" fill="none" stroke="url(#g1b)" stroke-width="2.71" stroke-opacity="0.7" stroke-linejoin="round"/>
<path d="M584.9,102.9 L583.8,103.8 L582.5,104.7 L581.1,105.6 L579.5,106.5 L577.8,107.4 L576.0,108.3 L574.0,109.2 L571.8,110.2 L569.5,111.1 L567.0,112.0 L564.2,112.9 L561.3,113.8 L558.0,114.7 L554.5,115.6 L550.6,116.5 L546.2,117.4 L541.1,118.4 L535.2,119.3 L527.4,120.2 L509.5,121.1" fill="none" stroke="url(#g2b)" stroke-width="2.71" stroke-opacity="0.7" stroke-linejoin="round"/>
<path d="M509.5,121.1 L502.1,129.2 L494.7,137.3 L487.4,145.4 L480.0,153.5 L472.6,161.6 L465.2,169.7 L460.9,174.4" fill="none" stroke="rgb(134,188,239)" stroke-width="3.62" stroke-opacity="0.9" stroke-linejoin="round"/>
<path d="M552.3,87.5 L568.1,88.2 L573.7,88.4 L577.5,88.4 L580.4,88.3 L582.7,88.2 L584.4,88.2 L585.8,88.6 L586.9,89.3 L587.8,90.2 L588.4,91.1 L588.8,92.1 L588.9,93.0 L589.0,93.9 L588.8,94.8 L588.5,95.7 L588.1,96.6 L587.5,97.5 L586.8,98.4 L585.9,99.3 L584.9,100.3" fill="none" stroke="url(#g1b)" stroke-width="2.71" stroke-opacity="0.7" stroke-linejoin="round"/>
<path d="M584.9,100.3 L583.8,101.2 L582.5,102.1 L581.1,103.0 L579.5,103.9 L577.8,104.8 L576.0,105.7 L574.0,106.6 L571.8,107.5 L569.5,108.5 L567.0,109.4 L564.2,110.3 L561.3,111.2 L558.0,112.1 L554.5,113.0 L550.6,113.9 L546.2,114.8 L541.1,115.7 L535.2,116.7 L527.4,117.6 L509.5,118.5" fill="none" stroke="url(#g2b)" stroke-width="2.71" stroke-opacity="0.7" stroke-linejoin="round"/>
<path d="M509.5,118.5 L502.1,126.6 L494.7,134.7 L487.4,142.8 L480.0,150.9 L472.6,159.0 L465.2,167.0 L460.9,171.8" fill="none" stroke="rgb(143,177,241)" stroke-width="3.62" stroke-opacity="0.9" stroke-linejoin="round"/>
<path d="M552.3,86.3 L568.1,86.9 L573.7,87.0 L577.5,86.8 L580.4,86.4 L582.7,86.0 L584.4,85.8 L585.8,86.0 L586.9,86.7 L587.8,87.6 L588.4,88.5 L588.8,89.4 L588.9,90.4 L589.0,91.3 L588.8,92.2 L588.5,93.1 L588.1,94.0 L587.5,94.9 L586.8,95.8 L585.9,96.7 L584.9,97.6" fill="none" stroke="url(#g1b)" stroke-width="2.71" stroke-opacity="0.7" stroke-linejoin="round"/>
<path d="M584.9,97.6 L583.8,98.6 L582.5,99.5 L581.1,100.4 L579.5,101.3 L577.8,102.2 L576.0,103.1 L574.0,104.0 L571.8,104.9 L569.5,105.8 L567.0,106.7 L564.2,107.7 L561.3,108.6 L558.0,109.5 L554.5,110.4 L550.6,111.3 L546.2,112.2 L541.1,113.1 L535.2,114.0 L527.4,114.9 L509.5,115.9" fill="none" stroke="url(#g2b)" stroke-width="2.71" stroke-opacity="0.7" stroke-linejoin="round"/>
<path d="M509.5,115.9 L502.1,124.0 L494.7,132.0 L487.4,140.1 L480.0,148.2 L472.6,156.3 L465.2,164.4 L460.9,169.2" fill="none" stroke="rgb(128,128,232)" stroke-width="3.62" stroke-opacity="0.9" stroke-linejoin="round"/>
<path d="M611.9,42.5 L610.6,44.0 L609.3,45.6 L607.9,47.1 L606.6,48.6 L605.3,50.1 L604.0,51.6 L602.6,53.1 L601.3,54.7 L600.0,56.2 L598.7,57.7 L597.3,59.2 L596.0,60.7 L594.7,62.2 L593.4,63.8 L592.0,65.3 L590.7,66.8 L589.4,68.3 L588.1,69.8 L586.7,71.4 L585.4,72.9 L584.1,74.4 L582.8,75.9 L581.4,77.4 L580.1,78.9 L578.8,80.5 L577.5,82.0 L576.1,83.5 L574.8,85.0 L573.5,86.5 L572.2,88.1 L570.8,89.6 L569.5,91.1 L568.2,92.6 L566.9,94.1 L565.5,95.6 L564.2,97.2 L562.9,98.7 L561.6,100.2 L560.2,101.7 L558.9,103.2 L557.6,104.2 L556.3,103.2 L554.9,101.5 L553.6,100.2 L552.3,100.5" fill="none" stroke="#3030d8" stroke-width="0.8" stroke-opacity="0.85"/>
<path d="M552.3,100.5 L568.1,101.8 L573.7,104.0 L577.5,106.6 L580.4,109.5 L582.7,112.4 L584.4,114.9 L585.8,116.9 L586.9,118.1 L587.8,119.0 L588.4,119.9 L588.8,120.8 L588.9,121.8 L589.0,122.7 L588.8,123.6 L588.5,124.5 L588.1,125.4 L587.5,126.3 L586.8,127.2 L585.9,128.1 L584.9,129.0" fill="none" stroke="#2020b0" stroke-width="0.4" stroke-opacity="0.45"/>
<path d="M584.9,129.0 L583.8,130.0 L582.5,130.9 L581.1,131.8 L579.5,132.7 L577.8,133.6 L576.0,134.5 L574.0,135.4 L571.8,136.3 L569.5,137.2 L567.0,138.1 L564.2,139.1 L561.3,140.0 L558.0,140.9 L554.5,141.8 L550.6,142.7 L546.2,143.6 L541.1,144.5 L535.2,145.4 L527.4,146.3 L509.5,147.3" fill="none" stroke="#2020b0" stroke-width="0.4" stroke-opacity="0.45"/>
<path d="M509.5,147.3 L502.1,155.4 L494.7,163.4 L487.4,171.5 L480.0,179.6 L472.6,187.7 L465.2,195.8 L460.9,200.6" fill="none" stroke="#2020b0" stroke-width="0.4" stroke-opacity="0.45"/>
<path d="M614.4,39.9 L613.1,41.4 L611.7,42.9 L610.3,44.5 L608.9,46.0 L607.5,47.5 L606.2,49.0 L604.8,50.5 L603.4,52.0 L602.0,53.6 L600.6,55.1 L599.2,56.6 L597.9,58.1 L596.5,59.6 L595.1,61.1 L593.7,62.7 L592.3,64.2 L591.0,65.7 L589.6,67.2 L588.2,68.7 L586.8,70.3 L585.4,71.8 L584.1,73.3 L582.7,74.8 L581.3,76.3 L579.9,77.8 L578.5,79.4 L577.2,80.9 L575.8,82.4 L574.4,83.9 L573.0,85.4 L571.6,87.0 L570.3,88.5 L568.9,90.0 L567.5,91.5 L566.1,93.0 L564.7,94.5 L563.3,96.1 L562.0,97.6 L560.6,99.1 L559.2,100.6 L557.8,101.6 L556.4,101.1 L555.1,99.8 L553.7,98.8 L552.3,99.3" fill="none" stroke="#3030d8" stroke-width="0.8" stroke-opacity="0.85"/>
<path d="M552.3,99.3 L568.1,100.6 L573.7,102.6 L577.5,105.0 L580.4,107.6 L582.7,110.2 L584.4,112.5 L585.8,114.3 L586.9,115.5 L587.8,116.4 L588.4,117.3 L588.8,118.2 L588.9,119.1 L589.0,120.0 L588.8,121.0 L588.5,121.9 L588.1,122.8 L587.5,123.7 L586.8,124.6 L585.9,125.5 L584.9,126.4" fill="none" stroke="#5a80e0" stroke-width="0.4" stroke-opacity="0.45"/>
<path d="M584.9,126.4 L583.8,127.3 L582.5,128.2 L581.1,129.2 L579.5,130.1 L577.8,131.0 L576.0,131.9 L574.0,132.8 L571.8,133.7 L569.5,134.6 L567.0,135.5 L564.2,136.4 L561.3,137.4 L558.0,138.3 L554.5,139.2 L550.6,140.1 L546.2,141.0 L541.1,141.9 L535.2,142.8 L527.4,143.7 L509.5,144.6" fill="none" stroke="#5a80e0" stroke-width="0.4" stroke-opacity="0.45"/>
<path d="M509.5,144.6 L502.1,152.7 L494.7,160.8 L487.4,168.9 L480.0,177.0 L472.6,185.1 L465.2,193.2 L460.9,198.0" fill="none" stroke="#5a80e0" stroke-width="0.4" stroke-opacity="0.45"/>
<path d="M616.8,37.3 L615.4,38.8 L613.9,40.3 L612.5,41.8 L611.1,43.4 L609.6,44.9 L608.2,46.4 L606.8,47.9 L605.3,49.4 L603.9,50.9 L602.5,52.5 L601.0,54.0 L599.6,55.5 L598.2,57.0 L596.7,58.5 L595.3,60.1 L593.9,61.6 L592.4,63.1 L591.0,64.6 L589.6,66.1 L588.1,67.6 L586.7,69.2 L585.3,70.7 L583.8,72.2 L582.4,73.7 L581.0,75.2 L579.5,76.7 L578.1,78.3 L576.7,79.8 L575.2,81.3 L573.8,82.8 L572.4,84.3 L570.9,85.9 L569.5,87.4 L568.1,88.9 L566.6,90.4 L565.2,91.9 L563.8,93.4 L562.3,95.0 L560.9,96.5 L559.5,98.0 L558.0,99.1 L556.6,98.9 L555.2,98.0 L553.7,97.5 L552.3,98.1" fill="none" stroke="#3030d8" stroke-width="0.8" stroke-opacity="0.85"/>
<path d="M618.8,34.7 L617.4,36.2 L615.9,37.7 L614.4,39.2 L612.9,40.7 L611.4,42.3 L610.0,43.8 L608.5,45.3 L607.0,46.8 L605.5,48.3 L604.0,49.8 L602.6,51.4 L601.1,52.9 L599.6,54.4 L598.1,55.9 L596.7,57.4 L595.2,59.0 L593.7,60.5 L592.2,62.0 L590.7,63.5 L589.3,65.0 L587.8,66.5 L586.3,68.1 L584.8,69.6 L583.3,71.1 L581.9,72.6 L580.4,74.1 L578.9,75.7 L577.4,77.2 L576.0,78.7 L574.5,80.2 L573.0,81.7 L571.5,83.2 L570.0,84.8 L568.6,86.3 L567.1,87.8 L565.6,89.3 L564.1,90.8 L562.6,92.3 L561.2,93.9 L559.7,95.4 L558.2,96.6 L556.7,96.7 L555.3,96.3 L553.8,96.1 L552.3,96.9" fill="none" stroke="#30a0e8" stroke-width="0.8" stroke-opacity="0.85"/>
<path d="M552.3,96.9 L568.1,98.1 L573.7,99.7 L577.5,101.7 L580.4,103.7 L582.7,105.8 L584.4,107.6 L585.8,109.2 L586.9,110.3 L587.8,111.2 L588.4,112.1 L588.8,113.0 L588.9,113.9 L589.0,114.8 L588.8,115.7 L588.5,116.6 L588.1,117.5 L587.5,118.5 L586.8,119.4 L585.9,120.3 L584.9,121.2" fill="none" stroke="#5a80e0" stroke-width="0.4" stroke-opacity="0.45"/>
<path d="M584.9,121.2 L583.8,122.1 L582.5,123.0 L581.1,123.9 L579.5,124.8 L577.8,125.7 L576.0,126.7 L574.0,127.6 L571.8,128.5 L569.5,129.4 L567.0,130.3 L564.2,131.2 L561.3,132.1 L558.0,133.0 L554.5,133.9 L550.6,134.9 L546.2,135.8 L541.1,136.7 L535.2,137.6 L527.4,138.5 L509.5,139.4" fill="none" stroke="#5a80e0" stroke-width="0.4" stroke-opacity="0.45"/>
<path d="M509.5,139.4 L502.1,147.5 L494.7,155.6 L487.4,163.7 L480.0,171.8 L472.6,179.9 L465.2,188.0 L460.9,192.7" fill="none" stroke="#5a80e0" stroke-width="0.4" stroke-opacity="0.45"/>
<path d="M620.4,32.0 L618.9,33.6 L617.4,35.1 L615.8,36.6 L614.3,38.1 L612.8,39.6 L611.3,41.2 L609.8,42.7 L608.3,44.2 L606.8,45.7 L605.3,47.2 L603.7,48.7 L602.2,50.3 L600.7,51.8 L599.2,53.3 L597.7,54.8 L596.2,56.3 L594.7,57.9 L593.2,59.4 L591.6,60.9 L590.1,62.4 L588.6,63.9 L587.1,65.4 L585.6,67.0 L584.1,68.5 L582.6,70.0 L581.0,71.5 L579.5,73.0 L578.0,74.6 L576.5,76.1 L575.0,77.6 L573.5,79.1 L572.0,80.6 L570.5,82.1 L568.9,83.7 L567.4,85.2 L565.9,86.7 L564.4,88.2 L562.9,89.7 L561.4,91.2 L559.9,92.8 L558.4,94.0 L556.8,94.5 L555.3,94.5 L553.8,94.8 L552.3,95.8" fill="none" stroke="#30a0e8" stroke-width="0.8" stroke-opacity="0.85"/>
<path d="M621.4,29.4 L619.8,30.9 L618.3,32.5 L616.8,34.0 L615.2,35.5 L613.7,37.0 L612.2,38.5 L610.6,40.1 L609.1,41.6 L607.6,43.1 L606.0,44.6 L604.5,46.1 L602.9,47.6 L601.4,49.2 L599.9,50.7 L598.3,52.2 L596.8,53.7 L595.3,55.2 L593.7,56.8 L592.2,58.3 L590.7,59.8 L589.1,61.3 L587.6,62.8 L586.1,64.3 L584.5,65.9 L583.0,67.4 L581.5,68.9 L579.9,70.4 L578.4,71.9 L576.9,73.5 L575.3,75.0 L573.8,76.5 L572.3,78.0 L570.7,79.5 L569.2,81.0 L567.6,82.6 L566.1,84.1 L564.6,85.6 L563.0,87.1 L561.5,88.6 L560.0,90.2 L558.4,91.5 L556.9,92.3 L555.4,92.8 L553.8,93.4 L552.3,94.6" fill="none" stroke="#30a0e8" stroke-width="0.8" stroke-opacity="0.85"/>
<path d="M552.3,94.6 L568.1,95.6 L573.7,96.9 L577.5,98.4 L580.4,99.9 L582.7,101.4 L584.4,102.8 L585.8,104.0 L586.9,105.0 L587.8,105.9 L588.4,106.8 L588.8,107.8 L588.9,108.7 L589.0,109.6 L588.8,110.5 L588.5,111.4 L588.1,112.3 L587.5,113.2 L586.8,114.1 L585.9,115.0 L584.9,116.0" fill="none" stroke="#5a80e0" stroke-width="0.4" stroke-opacity="0.45"/>
<path d="M584.9,116.0 L583.8,116.9 L582.5,117.8 L581.1,118.7 L579.5,119.6 L577.8,120.5 L576.0,121.4 L574.0,122.3 L571.8,123.2 L569.5,124.2 L567.0,125.1 L564.2,126.0 L561.3,126.9 L558.0,127.8 L554.5,128.7 L550.6,129.6 L546.2,130.5 L541.1,131.4 L535.2,132.4 L527.4,133.3 L509.5,134.2" fill="none" stroke="#5a80e0" stroke-width="0.4" stroke-opacity="0.45"/>
<path d="M509.5,134.2 L502.1,142.3 L494.7,150.4 L487.4,158.5 L480.0,166.6 L472.6,174.7 L465.2,182.7 L460.9,187.5" fill="none" stroke="#5a80e0" stroke-width="0.4" stroke-opacity="0.45"/>
<path d="M621.7,26.8 L620.2,28.3 L618.6,29.9 L617.1,31.4 L615.5,32.9 L614.0,34.4 L612.4,35.9 L610.9,37.4 L609.4,39.0 L607.8,40.5 L606.3,42.0 L604.7,43.5 L603.2,45.0 L601.7,46.5 L600.1,48.1 L598.6,49.6 L597.0,51.1 L595.5,52.6 L593.9,54.1 L592.4,55.7 L590.9,57.2 L589.3,58.7 L587.8,60.2 L586.2,61.7 L584.7,63.2 L583.1,64.8 L581.6,66.3 L580.1,67.8 L578.5,69.3 L577.0,70.8 L575.4,72.4 L573.9,73.9 L572.3,75.4 L570.8,76.9 L569.3,78.4 L567.7,79.9 L566.2,81.5 L564.6,83.0 L563.1,84.5 L561.6,86.0 L560.0,87.5 L558.5,89.0 L556.9,90.1 L555.4,91.0 L553.8,92.1 L552.3,93.4" fill="none" stroke="#30a0e8" stroke-width="0.8" stroke-opacity="0.85"/>
<path d="M621.4,24.2 L619.8,25.7 L618.3,27.2 L616.8,28.8 L615.2,30.3 L613.7,31.8 L612.2,33.3 L610.6,34.8 L609.1,36.3 L607.6,37.9 L606.0,39.4 L604.5,40.9 L602.9,42.4 L601.4,43.9 L599.9,45.4 L598.3,47.0 L596.8,48.5 L595.3,50.0 L593.7,51.5 L592.2,53.0 L590.7,54.6 L589.1,56.1 L587.6,57.6 L586.1,59.1 L584.5,60.6 L583.0,62.1 L581.5,63.7 L579.9,65.2 L578.4,66.7 L576.9,68.2 L575.3,69.7 L573.8,71.3 L572.3,72.8 L570.7,74.3 L569.2,75.8 L567.6,77.3 L566.1,78.8 L564.6,80.4 L563.0,81.9 L561.5,83.4 L560.0,84.9 L558.4,86.4 L556.9,87.9 L555.4,89.3 L553.8,90.7 L552.3,92.2" fill="none" stroke="#30a0e8" stroke-width="0.8" stroke-opacity="0.85"/>
<path d="M552.3,92.2 L568.1,93.1 L573.7,94.1 L577.5,95.0 L580.4,96.0 L582.7,97.0 L584.4,97.9 L585.8,98.9 L586.9,99.8 L587.8,100.7 L588.4,101.6 L588.8,102.5 L588.9,103.4 L589.0,104.3 L588.8,105.3 L588.5,106.2 L588.1,107.1 L587.5,108.0 L586.8,108.9 L585.9,109.8 L584.9,110.7" fill="none" stroke="#5a80e0" stroke-width="0.4" stroke-opacity="0.45"/>
<path d="M584.9,110.7 L583.8,111.6 L582.5,112.5 L581.1,113.5 L579.5,114.4 L577.8,115.3 L576.0,116.2 L574.0,117.1 L571.8,118.0 L569.5,118.9 L567.0,119.8 L564.2,120.7 L561.3,121.7 L558.0,122.6 L554.5,123.5 L550.6,124.4 L546.2,125.3 L541.1,126.2 L535.2,127.1 L527.4,128.0 L509.5,128.9" fill="none" stroke="#5a80e0" stroke-width="0.4" stroke-opacity="0.45"/>
<path d="M509.5,128.9 L502.1,137.0 L494.7,145.1 L487.4,153.2 L480.0,161.3 L472.6,169.4 L465.2,177.5 L460.9,182.3" fill="none" stroke="#5a80e0" stroke-width="0.4" stroke-opacity="0.45"/>
<path d="M620.4,21.6 L618.9,23.1 L617.4,24.6 L615.8,26.1 L614.3,27.7 L612.8,29.2 L611.3,30.7 L609.8,32.2 L608.3,33.7 L606.8,35.2 L605.3,36.8 L603.7,38.3 L602.2,39.8 L600.7,41.3 L599.2,42.8 L597.7,44.4 L596.2,45.9 L594.7,47.4 L593.2,48.9 L591.6,50.4 L590.1,51.9 L588.6,53.5 L587.1,55.0 L585.6,56.5 L584.1,58.0 L582.6,59.5 L581.0,61.0 L579.5,62.6 L578.0,64.1 L576.5,65.6 L575.0,67.1 L573.5,68.6 L572.0,70.2 L570.5,71.7 L568.9,73.2 L567.4,74.7 L565.9,76.2 L564.4,77.7 L562.9,79.3 L561.4,80.8 L559.9,82.3 L558.4,83.9 L556.8,85.7 L555.3,87.6 L553.8,89.4 L552.3,91.0" fill="none" stroke="#30a0e8" stroke-width="0.8" stroke-opacity="0.85"/>
<path d="M618.8,19.0 L617.4,20.5 L615.9,22.0 L614.4,23.5 L612.9,25.0 L611.4,26.6 L610.0,28.1 L608.5,29.6 L607.0,31.1 L605.5,32.6 L604.0,34.1 L602.6,35.7 L601.1,37.2 L599.6,38.7 L598.1,40.2 L596.7,41.7 L595.2,43.3 L593.7,44.8 L592.2,46.3 L590.7,47.8 L589.3,49.3 L587.8,50.8 L586.3,52.4 L584.8,53.9 L583.3,55.4 L581.9,56.9 L580.4,58.4 L578.9,59.9 L577.4,61.5 L576.0,63.0 L574.5,64.5 L573.0,66.0 L571.5,67.5 L570.0,69.1 L568.6,70.6 L567.1,72.1 L565.6,73.6 L564.1,75.1 L562.6,76.6 L561.2,78.2 L559.7,79.7 L558.2,81.3 L556.7,83.5 L555.3,85.8 L553.8,88.0 L552.3,89.9" fill="none" stroke="#30a0e8" stroke-width="0.8" stroke-opacity="0.85"/>
<path d="M552.3,89.9 L568.1,90.7 L573.7,91.3 L577.5,91.7 L580.4,92.2 L582.7,92.6 L584.4,93.1 L585.8,93.7 L586.9,94.6 L587.8,95.5 L588.4,96.4 L588.8,97.3 L588.9,98.2 L589.0,99.1 L588.8,100.0 L588.5,100.9 L588.1,101.8 L587.5,102.8 L586.8,103.7 L585.9,104.6 L584.9,105.5" fill="none" stroke="#5a80e0" stroke-width="0.4" stroke-opacity="0.45"/>
<path d="M584.9,105.5 L583.8,106.4 L582.5,107.3 L581.1,108.2 L579.5,109.1 L577.8,110.0 L576.0,111.0 L574.0,111.9 L571.8,112.8 L569.5,113.7 L567.0,114.6 L564.2,115.5 L561.3,116.4 L558.0,117.3 L554.5,118.2 L550.6,119.2 L546.2,120.1 L541.1,121.0 L535.2,121.9 L527.4,122.8 L509.5,123.7" fill="none" stroke="#5a80e0" stroke-width="0.4" stroke-opacity="0.45"/>
<path d="M509.5,123.7 L502.1,131.8 L494.7,139.9 L487.4,148.0 L480.0,156.1 L472.6,164.2 L465.2,172.3 L460.9,177.0" fill="none" stroke="#5a80e0" stroke-width="0.4" stroke-opacity="0.45"/>
<path d="M616.8,16.3 L615.4,17.9 L613.9,19.4 L612.5,20.9 L611.1,22.4 L609.6,23.9 L608.2,25.5 L606.8,27.0 L605.3,28.5 L603.9,30.0 L602.5,31.5 L601.0,33.0 L599.6,34.6 L598.2,36.1 L596.7,37.6 L595.3,39.1 L593.9,40.6 L592.4,42.2 L591.0,43.7 L589.6,45.2 L588.1,46.7 L586.7,48.2 L585.3,49.7 L583.8,51.3 L582.4,52.8 L581.0,54.3 L579.5,55.8 L578.1,57.3 L576.7,58.9 L575.2,60.4 L573.8,61.9 L572.4,63.4 L570.9,64.9 L569.5,66.4 L568.1,68.0 L566.6,69.5 L565.2,71.0 L563.8,72.5 L562.3,74.0 L560.9,75.5 L559.5,77.1 L558.0,78.8 L556.6,81.3 L555.2,84.1 L553.7,86.7 L552.3,88.7" fill="none" stroke="#3030d8" stroke-width="0.8" stroke-opacity="0.85"/>
<path d="M614.4,13.7 L613.1,15.2 L611.7,16.8 L610.3,18.3 L608.9,19.8 L607.5,21.3 L606.2,22.8 L604.8,24.4 L603.4,25.9 L602.0,27.4 L600.6,28.9 L599.2,30.4 L597.9,31.9 L596.5,33.5 L595.1,35.0 L593.7,36.5 L592.3,38.0 L591.0,39.5 L589.6,41.1 L588.2,42.6 L586.8,44.1 L585.4,45.6 L584.1,47.1 L582.7,48.6 L581.3,50.2 L579.9,51.7 L578.5,53.2 L577.2,54.7 L575.8,56.2 L574.4,57.8 L573.0,59.3 L571.6,60.8 L570.3,62.3 L568.9,63.8 L567.5,65.3 L566.1,66.9 L564.7,68.4 L563.3,69.9 L562.0,71.4 L560.6,72.9 L559.2,74.5 L557.8,76.3 L556.4,79.1 L555.1,82.3 L553.7,85.3 L552.3,87.5" fill="none" stroke="#3030d8" stroke-width="0.8" stroke-opacity="0.85"/>
<path d="M552.3,87.5 L568.1,88.2 L573.7,88.4 L577.5,88.4 L580.4,88.3 L582.7,88.2 L584.4,88.2 L585.8,88.6 L586.9,89.3 L587.8,90.2 L588.4,91.1 L588.8,92.1 L588.9,93.0 L589.0,93.9 L588.8,94.8 L588.5,95.7 L588.1,96.6 L587.5,97.5 L586.8,98.4 L585.9,99.3 L584.9,100.3" fill="none" stroke="#5a80e0" stroke-width="0.4" stroke-opacity="0.45"/>
<path d="M584.9,100.3 L583.8,101.2 L582.5,102.1 L581.1,103.0 L579.5,103.9 L577.8,104.8 L576.0,105.7 L574.0,106.6 L571.8,107.5 L569.5,108.5 L567.0,109.4 L564.2,110.3 L561.3,111.2 L558.0,112.1 L554.5,113.0 L550.6,113.9 L546.2,114.8 L541.1,115.7 L535.2,116.7 L527.4,117.6 L509.5,118.5" fill="none" stroke="#5a80e0" stroke-width="0.4" stroke-opacity="0.45"/>
<path d="M509.5,118.5 L502.1,126.6 L494.7,134.7 L487.4,142.8 L480.0,150.9 L472.6,159.0 L465.2,167.0 L460.9,171.8" fill="none" stroke="#5a80e0" stroke-width="0.4" stroke-opacity="0.45"/>
<path d="M611.9,11.1 L610.6,12.6 L609.3,14.2 L607.9,15.7 L606.6,17.2 L605.3,18.7 L604.0,20.2 L602.6,21.7 L601.3,23.3 L600.0,24.8 L598.7,26.3 L597.3,27.8 L596.0,29.3 L594.7,30.8 L593.4,32.4 L592.0,33.9 L590.7,35.4 L589.4,36.9 L588.1,38.4 L586.7,40.0 L585.4,41.5 L584.1,43.0 L582.8,44.5 L581.4,46.0 L580.1,47.5 L578.8,49.1 L577.5,50.6 L576.1,52.1 L574.8,53.6 L573.5,55.1 L572.2,56.7 L570.8,58.2 L569.5,59.7 L568.2,61.2 L566.9,62.7 L565.5,64.2 L564.2,65.8 L562.9,67.3 L561.6,68.8 L560.2,70.3 L558.9,71.8 L557.6,73.7 L556.3,76.9 L554.9,80.6 L553.6,84.0 L552.3,86.3" fill="none" stroke="#3030d8" stroke-width="0.8" stroke-opacity="0.85"/>
<path d="M552.3,86.3 L568.1,86.9 L573.7,87.0 L577.5,86.8 L580.4,86.4 L582.7,86.0 L584.4,85.8 L585.8,86.0 L586.9,86.7 L587.8,87.6 L588.4,88.5 L588.8,89.4 L588.9,90.4 L589.0,91.3 L588.8,92.2 L588.5,93.1 L588.1,94.0 L587.5,94.9 L586.8,95.8 L585.9,96.7 L584.9,97.6" fill="none" stroke="#2020b0" stroke-width="0.4" stroke-opacity="0.45"/>
<path d="M584.9,97.6 L583.8,98.6 L582.5,99.5 L581.1,100.4 L579.5,101.3 L577.8,102.2 L576.0,103.1 L574.0,104.0 L571.8,104.9 L569.5,105.8 L567.0,106.7 L564.2,107.7 L561.3,108.6 L558.0,109.5 L554.5,110.4 L550.6,111.3 L546.2,112.2 L541.1,113.1 L535.2,114.0 L527.4,114.9 L509.5,115.9" fill="none" stroke="#2020b0" stroke-width="0.4" stroke-opacity="0.45"/>
<path d="M509.5,115.9 L502.1,124.0 L494.7,132.0 L487.4,140.1 L480.0,148.2 L472.6,156.3 L465.2,164.4 L460.9,169.2" fill="none" stroke="#2020b0" stroke-width="0.4" stroke-opacity="0.45"/>
<path d="M611.9,42.5 L610.6,44.0 L609.3,45.6 L607.9,47.1 L606.6,48.6 L605.3,50.1 L604.0,51.6 L602.6,53.1 L601.3,54.7 L600.0,56.2 L598.7,57.7 L597.3,59.2 L596.0,60.7 L594.7,62.2 L593.4,63.8 L592.0,65.3 L590.7,66.8 L589.4,68.3 L588.1,69.8 L586.7,71.4 L585.4,72.9 L584.1,74.4 L582.8,75.9 L581.4,77.4 L580.1,78.9 L578.8,80.5 L577.5,82.0 L576.1,83.5 L574.8,85.0 L573.5,86.5 L572.2,88.1 L570.8,89.6 L569.5,91.1 L568.2,92.6 L566.9,94.1 L565.5,95.6 L564.2,97.2 L562.9,98.7 L561.6,100.2 L560.2,101.7 L558.9,103.2 L557.6,104.2 L556.3,103.2 L554.9,101.5 L553.6,100.2 L552.3,100.5" fill="none" stroke="#7fe8f0" stroke-width="3.62" stroke-opacity="0.75"/>
<path d="M614.4,39.9 L613.1,41.4 L611.7,42.9 L610.3,44.5 L608.9,46.0 L607.5,47.5 L606.2,49.0 L604.8,50.5 L603.4,52.0 L602.0,53.6 L600.6,55.1 L599.2,56.6 L597.9,58.1 L596.5,59.6 L595.1,61.1 L593.7,62.7 L592.3,64.2 L591.0,65.7 L589.6,67.2 L588.2,68.7 L586.8,70.3 L585.4,71.8 L584.1,73.3 L582.7,74.8 L581.3,76.3 L579.9,77.8 L578.5,79.4 L577.2,80.9 L575.8,82.4 L574.4,83.9 L573.0,85.4 L571.6,87.0 L570.3,88.5 L568.9,90.0 L567.5,91.5 L566.1,93.0 L564.7,94.5 L563.3,96.1 L562.0,97.6 L560.6,99.1 L559.2,100.6 L557.8,101.6 L556.4,101.1 L555.1,99.8 L553.7,98.8 L552.3,99.3" fill="none" stroke="#7fe8f0" stroke-width="3.62" stroke-opacity="0.75"/>
<path d="M616.8,37.3 L615.4,38.8 L613.9,40.3 L612.5,41.8 L611.1,43.4 L609.6,44.9 L608.2,46.4 L606.8,47.9 L605.3,49.4 L603.9,50.9 L602.5,52.5 L601.0,54.0 L599.6,55.5 L598.2,57.0 L596.7,58.5 L595.3,60.1 L593.9,61.6 L592.4,63.1 L591.0,64.6 L589.6,66.1 L588.1,67.6 L586.7,69.2 L585.3,70.7 L583.8,72.2 L582.4,73.7 L581.0,75.2 L579.5,76.7 L578.1,78.3 L576.7,79.8 L575.2,81.3 L573.8,82.8 L572.4,84.3 L570.9,85.9 L569.5,87.4 L568.1,88.9 L566.6,90.4 L565.2,91.9 L563.8,93.4 L562.3,95.0 L560.9,96.5 L559.5,98.0 L558.0,99.1 L556.6,98.9 L555.2,98.0 L553.7,97.5 L552.3,98.1" fill="none" stroke="#7fe8f0" stroke-width="3.62" stroke-opacity="0.75"/>
<path d="M618.8,34.7 L617.4,36.2 L615.9,37.7 L614.4,39.2 L612.9,40.7 L611.4,42.3 L610.0,43.8 L608.5,45.3 L607.0,46.8 L605.5,48.3 L604.0,49.8 L602.6,51.4 L601.1,52.9 L599.6,54.4 L598.1,55.9 L596.7,57.4 L595.2,59.0 L593.7,60.5 L592.2,62.0 L590.7,63.5 L589.3,65.0 L587.8,66.5 L586.3,68.1 L584.8,69.6 L583.3,71.1 L581.9,72.6 L580.4,74.1 L578.9,75.7 L577.4,77.2 L576.0,78.7 L574.5,80.2 L573.0,81.7 L571.5,83.2 L570.0,84.8 L568.6,86.3 L567.1,87.8 L565.6,89.3 L564.1,90.8 L562.6,92.3 L561.2,93.9 L559.7,95.4 L558.2,96.6 L556.7,96.7 L555.3,96.3 L553.8,96.1 L552.3,96.9" fill="none" stroke="#7fe8f0" stroke-width="3.62" stroke-opacity="0.75"/>
<path d="M620.4,32.0 L618.9,33.6 L617.4,35.1 L615.8,36.6 L614.3,38.1 L612.8,39.6 L611.3,41.2 L609.8,42.7 L608.3,44.2 L606.8,45.7 L605.3,47.2 L603.7,48.7 L602.2,50.3 L600.7,51.8 L599.2,53.3 L597.7,54.8 L596.2,56.3 L594.7,57.9 L593.2,59.4 L591.6,60.9 L590.1,62.4 L588.6,63.9 L587.1,65.4 L585.6,67.0 L584.1,68.5 L582.6,70.0 L581.0,71.5 L579.5,73.0 L578.0,74.6 L576.5,76.1 L575.0,77.6 L573.5,79.1 L572.0,80.6 L570.5,82.1 L568.9,83.7 L567.4,85.2 L565.9,86.7 L564.4,88.2 L562.9,89.7 L561.4,91.2 L559.9,92.8 L558.4,94.0 L556.8,94.5 L555.3,94.5 L553.8,94.8 L552.3,95.8" fill="none" stroke="#7fe8f0" stroke-width="3.62" stroke-opacity="0.75"/>
<path d="M621.4,29.4 L619.8,30.9 L618.3,32.5 L616.8,34.0 L615.2,35.5 L613.7,37.0 L612.2,38.5 L610.6,40.1 L609.1,41.6 L607.6,43.1 L606.0,44.6 L604.5,46.1 L602.9,47.6 L601.4,49.2 L599.9,50.7 L598.3,52.2 L596.8,53.7 L595.3,55.2 L593.7,56.8 L592.2,58.3 L590.7,59.8 L589.1,61.3 L587.6,62.8 L586.1,64.3 L584.5,65.9 L583.0,67.4 L581.5,68.9 L579.9,70.4 L578.4,71.9 L576.9,73.5 L575.3,75.0 L573.8,76.5 L572.3,78.0 L570.7,79.5 L569.2,81.0 L567.6,82.6 L566.1,84.1 L564.6,85.6 L563.0,87.1 L561.5,88.6 L560.0,90.2 L558.4,91.5 L556.9,92.3 L555.4,92.8 L553.8,93.4 L552.3,94.6" fill="none" stroke="#7fe8f0" stroke-width="3.62" stroke-opacity="0.75"/>
<path d="M611.9,42.5 L610.6,44.0 L609.3,45.6 L607.9,47.1 L606.6,48.6 L605.3,50.1 L604.0,51.6 L602.6,53.1 L601.3,54.7 L600.0,56.2 L598.7,57.7 L597.3,59.2 L596.0,60.7 L594.7,62.2 L593.4,63.8 L592.0,65.3 L590.7,66.8 L589.4,68.3 L588.1,69.8 L586.7,71.4 L585.4,72.9 L584.1,74.4 L582.8,75.9 L581.4,77.4 L580.1,78.9 L578.8,80.5 L577.5,82.0 L576.1,83.5 L574.8,85.0 L573.5,86.5 L572.2,88.1 L570.8,89.6 L569.5,91.1 L568.2,92.6 L566.9,94.1 L565.5,95.6 L564.2,97.2 L562.9,98.7 L561.6,100.2 L560.2,101.7 L558.9,103.2 L557.6,104.2 L556.3,103.2 L554.9,101.5 L553.6,100.2 L552.3,100.5" fill="none" stroke="#1f6ff0" stroke-width="1.0" stroke-opacity="0.8"/>
<path d="M614.4,39.9 L613.1,41.4 L611.7,42.9 L610.3,44.5 L608.9,46.0 L607.5,47.5 L606.2,49.0 L604.8,50.5 L603.4,52.0 L602.0,53.6 L600.6,55.1 L599.2,56.6 L597.9,58.1 L596.5,59.6 L595.1,61.1 L593.7,62.7 L592.3,64.2 L591.0,65.7 L589.6,67.2 L588.2,68.7 L586.8,70.3 L585.4,71.8 L584.1,73.3 L582.7,74.8 L581.3,76.3 L579.9,77.8 L578.5,79.4 L577.2,80.9 L575.8,82.4 L574.4,83.9 L573.0,85.4 L571.6,87.0 L570.3,88.5 L568.9,90.0 L567.5,91.5 L566.1,93.0 L564.7,94.5 L563.3,96.1 L562.0,97.6 L560.6,99.1 L559.2,100.6 L557.8,101.6 L556.4,101.1 L555.1,99.8 L553.7,98.8 L552.3,99.3" fill="none" stroke="#1f6ff0" stroke-width="1.0" stroke-opacity="0.8"/>
<path d="M616.8,37.3 L615.4,38.8 L613.9,40.3 L612.5,41.8 L611.1,43.4 L609.6,44.9 L608.2,46.4 L606.8,47.9 L605.3,49.4 L603.9,50.9 L602.5,52.5 L601.0,54.0 L599.6,55.5 L598.2,57.0 L596.7,58.5 L595.3,60.1 L593.9,61.6 L592.4,63.1 L591.0,64.6 L589.6,66.1 L588.1,67.6 L586.7,69.2 L585.3,70.7 L583.8,72.2 L582.4,73.7 L581.0,75.2 L579.5,76.7 L578.1,78.3 L576.7,79.8 L575.2,81.3 L573.8,82.8 L572.4,84.3 L570.9,85.9 L569.5,87.4 L568.1,88.9 L566.6,90.4 L565.2,91.9 L563.8,93.4 L562.3,95.0 L560.9,96.5 L559.5,98.0 L558.0,99.1 L556.6,98.9 L555.2,98.0 L553.7,97.5 L552.3,98.1" fill="none" stroke="#1f6ff0" stroke-width="1.0" stroke-opacity="0.8"/>
<path d="M618.8,34.7 L617.4,36.2 L615.9,37.7 L614.4,39.2 L612.9,40.7 L611.4,42.3 L610.0,43.8 L608.5,45.3 L607.0,46.8 L605.5,48.3 L604.0,49.8 L602.6,51.4 L601.1,52.9 L599.6,54.4 L598.1,55.9 L596.7,57.4 L595.2,59.0 L593.7,60.5 L592.2,62.0 L590.7,63.5 L589.3,65.0 L587.8,66.5 L586.3,68.1 L584.8,69.6 L583.3,71.1 L581.9,72.6 L580.4,74.1 L578.9,75.7 L577.4,77.2 L576.0,78.7 L574.5,80.2 L573.0,81.7 L571.5,83.2 L570.0,84.8 L568.6,86.3 L567.1,87.8 L565.6,89.3 L564.1,90.8 L562.6,92.3 L561.2,93.9 L559.7,95.4 L558.2,96.6 L556.7,96.7 L555.3,96.3 L553.8,96.1 L552.3,96.9" fill="none" stroke="#1f6ff0" stroke-width="1.0" stroke-opacity="0.8"/>
<line x1="436.50" y1="178.60" x2="602.00" y2="11.11" stroke="#333" stroke-width="0.9" />
<line x1="531.70" y1="178.60" x2="697.20" y2="11.11" stroke="#333" stroke-width="0.9" />
<line x1="436.50" y1="210.00" x2="602.00" y2="42.51" stroke="#333" stroke-width="0.9" />
<line x1="531.70" y1="210.00" x2="697.20" y2="42.51" stroke="#333" stroke-width="0.9" />
<line x1="436.50" y1="178.60" x2="531.70" y2="178.60" stroke="#333" stroke-width="0.9" />
<line x1="436.50" y1="210.00" x2="531.70" y2="210.00" stroke="#333" stroke-width="0.9" />
<line x1="436.50" y1="178.60" x2="436.50" y2="210.00" stroke="#333" stroke-width="0.9" />
<line x1="602.00" y1="11.11" x2="697.20" y2="11.11" stroke="#333" stroke-width="0.9" />
<line x1="602.00" y1="42.51" x2="697.20" y2="42.51" stroke="#333" stroke-width="0.9" />
<line x1="602.00" y1="11.11" x2="602.00" y2="42.51" stroke="#333" stroke-width="0.9" />
<line x1="503.90" y1="110.39" x2="599.10" y2="110.39" stroke="#262626" stroke-width="0.95" />
<line x1="503.90" y1="141.79" x2="599.10" y2="141.79" stroke="#262626" stroke-width="0.95" />
<line x1="503.90" y1="110.39" x2="503.90" y2="141.79" stroke="#262626" stroke-width="0.95" />
<line x1="599.10" y1="110.39" x2="599.10" y2="141.79" stroke="#262626" stroke-width="0.95" />
<line x1="534.50" y1="79.42" x2="629.70" y2="79.42" stroke="#262626" stroke-width="0.95" />
<line x1="534.50" y1="110.82" x2="629.70" y2="110.82" stroke="#262626" stroke-width="0.95" />
<line x1="534.50" y1="79.42" x2="534.50" y2="110.82" stroke="#262626" stroke-width="0.95" />
<line x1="629.70" y1="79.42" x2="629.70" y2="110.82" stroke="#262626" stroke-width="0.95" />
<line x1="510.70" y1="103.51" x2="510.70" y2="134.91" stroke="#262626" stroke-width="0.95" />
<line x1="510.70" y1="103.51" x2="560.70" y2="103.51" stroke="#262626" stroke-width="0.95" />
<line x1="510.70" y1="134.91" x2="572.70" y2="134.91" stroke="#262626" stroke-width="0.95" stroke-dasharray="2.5 1.8"/>
<line x1="527.30" y1="86.71" x2="527.30" y2="118.11" stroke="#262626" stroke-width="0.95" />
<line x1="527.30" y1="86.71" x2="555.30" y2="86.71" stroke="#262626" stroke-width="0.95" />
<line x1="527.30" y1="118.11" x2="587.30" y2="118.11" stroke="#262626" stroke-width="0.95" stroke-dasharray="2.5 1.8"/>
<path d="M611.9,42.5 L613.4,40.9 L614.9,39.4 L616.3,37.8 L617.7,36.2 L618.8,34.7 L619.8,33.1 L620.6,31.5 L621.2,30.0 L621.6,28.4 L621.7,26.8 L621.6,25.2 L621.2,23.7 L620.6,22.1 L619.8,20.5 L618.8,19.0 L617.7,17.4 L616.3,15.8 L614.9,14.3 L613.4,12.7 L611.9,11.1" fill="none" stroke="#e01010" stroke-width="2.2"/>
<line x1="531.70" y1="215.20" x2="531.70" y2="171.60" stroke="#111" stroke-width="2" stroke-dasharray="4 2 1.5 2"/>
<line x1="697.20" y1="49.51" x2="697.20" y2="4.01" stroke="#111" stroke-width="2" stroke-dasharray="4 2 1.5 2"/>
<text x="423.40" y="178.20" font-size="15" fill="#000" >1</text>
<text x="422.60" y="217.60" font-size="15" fill="#000" >0</text>
<text transform="translate(418.2,193.4) rotate(-90)" font-size="15" text-anchor="middle" fill="#000">mm</text>
<text x="525.40" y="231.40" font-size="15" fill="#000" >3 mm</text>
<text transform="translate(459.7,141.6) rotate(-45.3)" font-size="14.5" fill="#000">Inertial flow (<tspan font-style="italic">Re</tspan>=14.58)</text>
<linearGradient id="jeth" x1="0" y1="0" x2="1" y2="0"><stop offset="0.000" stop-color="#000080"/><stop offset="0.125" stop-color="#0000ff"/><stop offset="0.250" stop-color="#0080ff"/><stop offset="0.375" stop-color="#00ffff"/><stop offset="0.500" stop-color="#80ff80"/><stop offset="0.625" stop-color="#ffff00"/><stop offset="0.750" stop-color="#ff8000"/><stop offset="0.875" stop-color="#ff0000"/><stop offset="1.000" stop-color="#800000"/></linearGradient>
<rect x="654.9" y="113.6" width="110" height="13.2" fill="url(#jeth)" stroke="#777" stroke-width="0.6"/>
<text x="655.00" y="141.80" font-size="15" fill="#000" >0</text>
<text x="776.60" y="141.80" font-size="15" text-anchor="end" fill="#000" >11.5</text>
<text x="744.6" y="155.6" font-size="15" fill="#000">cm s<tspan dy="-5" font-size="10">−1</tspan></text>
<path d="M765.6,161.1 H612.3 V211.5 H765.6" fill="none" stroke="#888" stroke-width="0.9"/>
<linearGradient id="insb0" gradientUnits="userSpaceOnUse" x1="635" y1="0" x2="721" y2="0"><stop offset="0" stop-color="#6a6ae0"/><stop offset="0.6" stop-color="#9ab0f0"/><stop offset="1" stop-color="#a0a0f0"/></linearGradient>
<linearGradient id="insb1" gradientUnits="userSpaceOnUse" x1="635" y1="0" x2="721" y2="0"><stop offset="0" stop-color="#80a8f0"/><stop offset="0.45" stop-color="#90f0f0"/><stop offset="0.75" stop-color="#f8f090"/><stop offset="1" stop-color="#f07050"/></linearGradient>
<line x1="635.5" y1="162.30" x2="721.2" y2="162.30" stroke="url(#insb0)" stroke-width="0.8"/><line x1="635.5" y1="164.59" x2="721.2" y2="164.59" stroke="url(#insb0)" stroke-width="0.8"/><line x1="635.5" y1="166.87" x2="721.2" y2="166.87" stroke="url(#insb0)" stroke-width="0.8"/><line x1="635.5" y1="169.16" x2="721.2" y2="169.16" stroke="url(#insb1)" stroke-width="0.8"/><line x1="635.5" y1="171.44" x2="721.2" y2="171.44" stroke="url(#insb1)" stroke-width="0.8"/><line x1="635.5" y1="173.73" x2="721.2" y2="173.73" stroke="url(#insb1)" stroke-width="0.8"/><line x1="635.5" y1="176.01" x2="721.2" y2="176.01" stroke="url(#insb1)" stroke-width="0.8"/><line x1="635.5" y1="178.30" x2="721.2" y2="178.30" stroke="url(#insb1)" stroke-width="0.8"/><line x1="635.5" y1="180.59" x2="721.2" y2="180.59" stroke="url(#insb1)" stroke-width="0.8"/><line x1="635.5" y1="182.87" x2="721.2" y2="182.87" stroke="url(#insb1)" stroke-width="0.8"/><line x1="635.5" y1="185.16" x2="721.2" y2="185.16" stroke="url(#insb1)" stroke-width="0.8"/><line x1="635.5" y1="187.44" x2="721.2" y2="187.44" stroke="url(#insb1)" stroke-width="0.8"/><line x1="635.5" y1="189.73" x2="721.2" y2="189.73" stroke="url(#insb1)" stroke-width="0.8"/><line x1="635.5" y1="192.01" x2="721.2" y2="192.01" stroke="url(#insb1)" stroke-width="0.8"/><line x1="635.5" y1="194.30" x2="721.2" y2="194.30" stroke="url(#insb1)" stroke-width="0.8"/><line x1="635.5" y1="196.59" x2="721.2" y2="196.59" stroke="url(#insb1)" stroke-width="0.8"/><line x1="635.5" y1="198.87" x2="721.2" y2="198.87" stroke="url(#insb1)" stroke-width="0.8"/><line x1="635.5" y1="201.16" x2="721.2" y2="201.16" stroke="url(#insb1)" stroke-width="0.8"/><line x1="635.5" y1="203.44" x2="721.2" y2="203.44" stroke="url(#insb1)" stroke-width="0.8"/><line x1="635.5" y1="205.73" x2="721.2" y2="205.73" stroke="url(#insb0)" stroke-width="0.8"/><line x1="635.5" y1="208.01" x2="721.2" y2="208.01" stroke="url(#insb0)" stroke-width="0.8"/><line x1="635.5" y1="210.30" x2="721.2" y2="210.30" stroke="url(#insb0)" stroke-width="0.8"/>
<line x1="710.00" y1="161.10" x2="710.00" y2="211.50" stroke="#555" stroke-width="0.7" />
<path d="M627.20,161.10 L630.36,164.70 L633.36,168.30 L636.05,171.90 L638.30,175.50 L639.99,179.10 L641.04,182.70 L641.40,186.30 L641.04,189.90 L639.99,193.50 L638.30,197.10 L636.05,200.70 L633.36,204.30 L630.36,207.90 L627.20,211.50" fill="none" stroke="#e01010" stroke-width="3" stroke-linecap="round" stroke-linejoin="round"/>
<line x1="765.6" y1="157.6" x2="765.6" y2="214.0" stroke="#111" stroke-width="1.8" stroke-dasharray="4 2 1.5 2"/>
<text x="600.60" y="196.40" font-size="15" fill="#000" >z</text>
<text x="624.60" y="222.40" font-size="15" fill="#000" >y</text>
<line x1="603.50" y1="218.00" x2="603.50" y2="207.00" stroke="#000" stroke-width="1.5" />
<path d="M603.5,201.6 L600.9,208.0 L606.1,208.0Z" fill="#000"/>
<line x1="602.75" y1="218.00" x2="617.00" y2="218.00" stroke="#000" stroke-width="1.5" />
<path d="M623.2,218.0 L616.7,215.4 L616.7,220.6Z" fill="#000"/>
<text x="404.70" y="15.00" font-size="21" font-weight="bold" fill="#000" >b</text>
</g></svg></body></html>
